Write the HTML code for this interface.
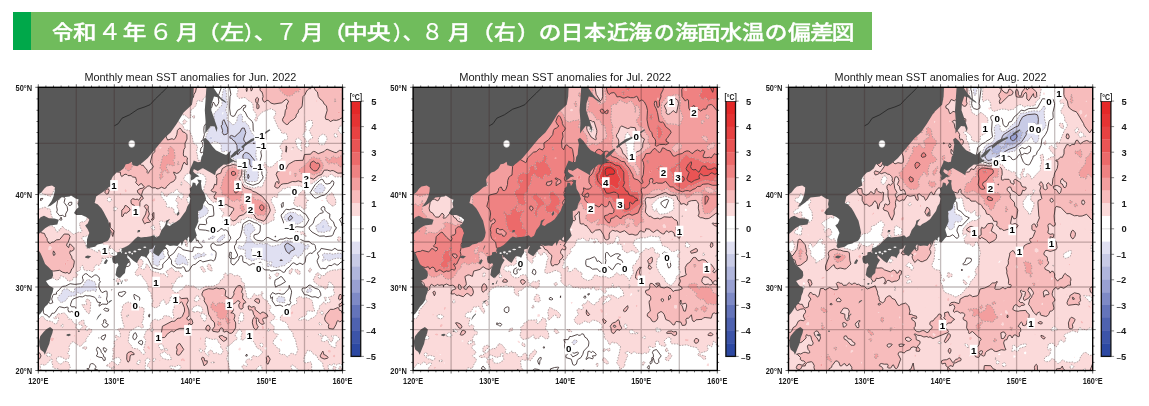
<!DOCTYPE html>
<html><head><meta charset="utf-8"><style>
html,body{margin:0;padding:0;background:#fff;}
body{width:1149px;height:406px;overflow:hidden;position:relative;}
#hd{position:absolute;left:12.5px;top:12px;width:859.5px;height:38px;background:#70bc5c;}
#hd b.dg{font-size:23.0px;font-weight:400;-webkit-text-stroke:0.2px #fff;top:2.0px}
#hd i{position:absolute;left:0;top:0;width:18.5px;height:38px;background:#00a84a;}
#hd b{position:absolute;top:2.7px;font-family:"Liberation Sans","Noto Sans CJK JP",sans-serif;font-weight:500;-webkit-text-stroke:0.35px #fff;font-size:20.0px;color:#fff;white-space:nowrap;line-height:36px;}
svg{position:absolute;left:0;top:0;}
.ax{font-family:"Liberation Sans",sans-serif;font-size:9.4px;font-weight:bold;fill:#1a1a1a}
.tt{font-family:"Liberation Sans",sans-serif;font-size:11.6px;fill:#1a1a1a}
.cb{font-family:"Liberation Sans",sans-serif;font-size:9.4px;font-weight:bold;fill:#1a1a1a}
.mn{font-size:8px}
.cu{font-family:"Liberation Sans",sans-serif;font-size:9px;font-weight:bold;fill:#1a1a1a}
.cl{font-family:"Liberation Sans",sans-serif;font-size:9.8px;font-weight:bold;fill:#000}
</style></head><body>
<div id="hd"><i></i><b style="left:39.8px;transform:scaleX(1.058);transform-origin:0.5px 0">令</b><b style="left:60.8px;transform:scaleX(1.174);transform-origin:0.4px 0">和</b><b class="dg" style="left:85.9px;transform:scaleX(1.033);transform-origin:4.9px 0">４</b><b style="left:110.9px;transform:scaleX(1.185);transform-origin:0.8px 0">年</b><b class="dg" style="left:136.0px;transform:scaleX(1.047);transform-origin:5.3px 0">６</b><b style="left:163.4px;transform:scaleX(1.137);transform-origin:0.5px 0">月</b><b style="left:186.9px;transform:scaleX(1.091);transform-origin:13.6px 0">（</b><b style="left:207.9px;transform:scaleX(1.209);transform-origin:0.4px 0">左</b><b style="left:231.9px;transform:scaleX(0.950);transform-origin:0.8px 0">）</b><b style="left:241.4px;transform:scaleX(1.148);transform-origin:0.9px 0">、</b><b class="dg" style="left:262.1px;transform:scaleX(0.991);transform-origin:5.4px 0">７</b><b style="left:288.0px;transform:scaleX(1.130);transform-origin:0.5px 0">月</b><b style="left:312.2px;transform:scaleX(1.109);transform-origin:13.6px 0">（</b><b style="left:331.9px;transform:scaleX(1.220);transform-origin:1.8px 0">中</b><b style="left:354.8px;transform:scaleX(1.196);transform-origin:0.7px 0">央</b><b style="left:380.7px;transform:scaleX(0.950);transform-origin:0.8px 0">）</b><b style="left:390.2px;transform:scaleX(1.000);transform-origin:0.9px 0">、</b><b class="dg" style="left:408.4px;transform:scaleX(0.964);transform-origin:5.2px 0">８</b><b style="left:435.7px;transform:scaleX(1.137);transform-origin:0.5px 0">月</b><b style="left:460.0px;transform:scaleX(1.109);transform-origin:13.6px 0">（</b><b style="left:481.0px;transform:scaleX(1.087);transform-origin:0.5px 0">右</b><b style="left:504.2px;transform:scaleX(1.089);transform-origin:0.8px 0">）</b><b style="left:526.1px;transform:scaleX(1.136);transform-origin:1.5px 0">の</b><b style="left:548.7px;transform:scaleX(1.147);transform-origin:3.3px 0">日</b><b style="left:571.5px;transform:scaleX(1.099);transform-origin:0.5px 0">本</b><b style="left:594.0px;transform:scaleX(1.101);transform-origin:0.5px 0">近</b><b style="left:615.6px;transform:scaleX(1.196);transform-origin:0.6px 0">海</b><b style="left:641.7px;transform:scaleX(1.030);transform-origin:1.5px 0">の</b><b style="left:662.6px;transform:scaleX(1.153);transform-origin:0.6px 0">海</b><b style="left:684.8px;transform:scaleX(1.211);transform-origin:1.0px 0">面</b><b style="left:707.6px;transform:scaleX(1.109);transform-origin:0.4px 0">水</b><b style="left:729.9px;transform:scaleX(1.117);transform-origin:0.6px 0">温</b><b style="left:752.1px;transform:scaleX(1.136);transform-origin:1.5px 0">の</b><b style="left:775.2px;transform:scaleX(1.141);transform-origin:0.2px 0">偏</b><b style="left:797.4px;transform:scaleX(1.191);transform-origin:0.6px 0">差</b><b style="left:819.9px;transform:scaleX(1.136);transform-origin:1.6px 0">図</b></div>
<svg width="1149" height="406" viewBox="0 0 1149 406">
<clipPath id="c0"><rect x="38.3" y="87.3" width="304.2" height="283.2"/></clipPath>
<g clip-path="url(#c0)">
<rect x="38.3" y="87.3" width="304.2" height="283.2" fill="#ffffff"/>
<path d="M280.1 260.6l2.3-0.2-0.7-0.5-1.8 0.5zM254.3 254.7l0.9-5.2-2.4-1.3-1.2 1.3 1.4 3.7zM281.7 254.3l0.7-1.1-0.7-1.1-1 1.1zM289.3 253.8l1.1-2.4 4.1-1.9-0.5-1.8-1.7-1.8-4.6-2.7-1.9 0.8-1.1 1.6 0.2 2.1 1.5 3.7 2 1.8zM246.7 231.4l1-0.4 0.8-1.8-0.3-0.4-1.5 0.6-0.3 1.6zM321.2 227.6l1.5 0.7 1.5-0.2 0.6-0.8-0.6-2.7-1.5 0.4-1.7 2.3zM289.3 220.4l1.7-0.7 1.6-1.9-1.8-2.4-2.5 2.4-0.1 1.9zM319.7 189.4l1.5-0.8-1.5-1.1-1 1.1zM248.2 178.7l0.9-2.1-0.5-2.1-0.4-0.4-0.6 2.5 0.5 2zM251.2 167.1l3.1-1.4 0.9-3.5-0.8-2.1-3.2-4.2-3-2.8-1.5-0.6-1.5 0.2-1.6 1.3-0.8 2 0.8 3.3 4.6-0.1 1.5 0.5 0.1 4.6 1 2zM237.6 154.8l1.5-1.3 0.8-1.7 3.7-2.1 0.2-4.3 2.7-2.1-2.3-2.2-0.6-2.1 2.2-6.5-1.5-4.4-2.2-0.1-2.4 4.5-2.1 1.3-1.6 2.1-1.5 0.8-3-1.3-1.9 1.4 0.3 1.3 1.6 0.1 1.5 2.1 1.6 0.8 2.3 4.3 0.5 8.5zM254.3 143.5l0-0.5-1.1 0.3zM210.2 139.8l2-0.8-0.4-2.2-1.6 0-1.3 2.2zM220.8 139.4l1.2-0.4-1.2-0.9-0.3 0.9zM223.9 134.9l3-0.8 0.9-1.6-0.1-4.4-3.8-8.5-1.5 1.9-0.1 3.3-1.2 1.1 1.5 4.4-0.3 2.3 1 2.1z" fill="#c8cbe6" fill-rule="evenodd"/>
<path d="M61.1 302.8l4.6-2.1 3-4.3 6.8-0.7 2.3-3.2 3.1 1.6 4.6-3.3 4.5 0.4 3.1-1.3 3 1.9 0.4-3.1-0.9-5.2-0.9-1.8-6.2-2.1-1.5 0.3-3 3.6-1.6 3.3-6.1 0.7-1.5 1-0.8 3.7-3.8-0.6-1.5-2.1-1.5-0.6-3 0.2-1.6 0.8-1.4 4-1.6 1.1-1.8 2.4 0 1.7 3 3.5zM283.2 302.7l1.5-0.1 0.4-1.8-0.4-2.6-0.4-0.8-1.1-0.4-4.6-0.4-1.8 2.5 0 1.7 1.8 1.3 4 0.5zM99.1 298.1l2-0.7-0.4-0.7-1.6-1.5-0.4 2.2zM307.5 292.4l3.1-0.4 1.4-1.5-1.4-2.4-1.6 0.4-2.4 2 0.1 1.7zM156.9 266l2.1-0.2 1-5.8 3.7-1.4 1.3-1.8-1.9-3.6 0.3-1.8-0.4-0.7-3-0.5-6.1-6.6-1.6 0.4-1.1 1.9-0.8 5.5 2 2 0.6 1.6 0.2 9 3.3 1.8zM268 266.6l3-0.7 4.6 1.6 1.5 0 4.6-1.5 3-0.4 3-3.2 1.6 0 1.5-1.4 2.2-4.2 2.3-1.7 2.4 1.7 0.7 1.9 0.4-1.9 1.1-1.3 1.9-0.5 2.7-6.1 1.5 0.5 1.5-0.3 1.9-3.2-0.4-0.9-1.5-0.5-1.5 1.4-1.5-0.8-0.6-1.1-4.4-1.8-5.7 0.4-3-1.4-4.6-0.7-4 1.7-2.1 2.5-3 0.3-3 1.1-3.1 0-4.5-2.9-3.1 1-3-1-3.1 0.9-1.5-0.2-1.5-0.8-3.1-3.1-1-1.5-0.1-1.9 1.2-3.7 3-2 0.8-1.7-2.2-3.8-1.7-1.7-1.5-0.7-1.5 0.4-3.4 2-0.9 1.9 0.3 5.6 2.5 3.7-0.9 5.6-2.2 3.4-1.5 1.1-3-1.3-1.3 2.3 1.3 1.2 6 0.6 0.3 1.9-0.4 3.6 1.3 3.6 3.4 0.9 1.5 1.4 1.6 0 4.5-2.2 1.5-0.1 6.1 1.7 3.1 1.7 1.5 0.1 1.5-0.7 0.9 0.8-0.9 3.3-3-2.7-1.2 3zM279.9 260.4l1.8-0.5 0.7 0.5-2.3 0.2zM253 253.2l-1.4-3.7 1.2-1.3 2.4 1.3-0.9 5.2zM280.7 253.2l1-1.1 0.7 1.1-0.7 1.1zM288.4 253.2l-2-1.8-1.5-3.7-0.2-2.1 1.1-1.6 1.9-0.8 4.6 2.7 1.7 1.8 0.5 1.8-4.1 1.9-1.1 2.4zM246.4 231l0.3-1.6 1.5-0.6 0.3 0.4-0.8 1.8-1 0.4zM176.7 264.3l1.5 0.7 1.6-0.2 3-1.6 4.6 2 0.6-1.2-0.2-1.8-2.6-5.4-3.9-1.7-1.5-1.5-1.6 0.2-0.7 1.2-0.2 1.8-2.2 3.6 0.1 1.8 1.2 1.8zM322.7 261.3l3.1-1.8 1.5 0.4 1.5 1.3 3.1-1.7 4.5-1.2 4.9 0.3 2.7-1.5 0-2.3-4.5-1.8-7.6 1.2-1.6-1-3 0.6-3.1-0.5-2.1 1.7 1.6 1.8 0.1 1.8-2 1.8zM195 259.5l1.5-1.2 9.1-2.8 0.6-0.5-1.6-1.8-0.5-0.5-1.5 0.7-1.4 1.6-0.2 1.7-0.1-1.7-1.3-1.8-1.6 0-5 3.6 0.9 1.8zM211.7 255.7l1.6-0.7-1.6-2-0.7 0.2-0.6 1.8zM202.6 242.3l2.1-0.1-0.6-1.6-1.5-0.7-0.1 2.3zM217.8 241.9l1.5 0.3 4.6-3.9 1-1.7-0.3-1.8-0.7-0.3-3.1 1.7-4 4.1zM208.7 239.9l1.5-1 3.2-0.4 1.5-1.9-1.7-0.6-1.7 0.6-1.3 1.5-1.8 0.4zM318.2 231.8l6 0.6 3.1-1.3 3-0.2 0.4-1.7 1.3-1.9-3.2-1.1-1.4-4.6-3.2-2.2-1.5 0.4-2.7 3.7-3.4 1.5-0.8 2.3 1.5 3.7zM321 227.3l1.7-2.3 1.5-0.4 0.6 2.7-0.6 0.8-1.5 0.2-1.5-0.7zM295.3 223.9l3.1 0.1 4.1-2.4 1.4-1.9-2.5-4.3-1.5-0.6-1.5 0.6-3.1-2.7-4.5-0.5-1.5 0.3-3.1 1.6-1.6 1.8-0.8 1.9 2.4 3.5 3.1 1.9 3-0.4 1.8 0.7zM288.2 219.7l0.1-1.9 2.5-2.4 1.8 2.4-1.6 1.9-1.7 0.7zM198 218.2l1.5 0.2 1.5-0.6 6.1-3.8 1-1.9 0.2-2-1.2-1.8-3-2.7-1.5-0.1-1.6 0.7-1.9-1.9-1.4 0-0.8 2 0.2 1.9 1.6 3.9 0.2 1.9-1.1 1.9-0.2 1.9zM316.6 193l1.6 0.3 4.5-0.6 1.7-2.1 0.8-2-0.6-2-1.9-2-1.5-0.8-1.5 0-1.5 0.8-3.3 4-1.2 2 1.8 2zM318.7 188.6l1-1.1 1.5 1.1-1.5 0.8zM246.7 180.7l1.5 1 7.6-0.2 1.5-0.9 1.3-4-0.5-6.2-1.1-2-0.3-2.1 1.1-4.1-1.9-6.2 0.1-4.2 2-6.4-1.4-4.3-0.6-4.3-3.2-2.4-1.3-1.9-3.3-7.7-1.8-1.1-1.2-2.3-1.6 0.6-1.6-0.5 0.6-4.4-0.8-2.3-1.2-0.6-1.7 0.6-1.6 2.3-0.5 4.4-3.8 3.8-3.1-3.5-1.5-0.2-1.4-2.3 0.4-4.5-1.6-4.5 1.8-6.8-0.7-3.8-0.7-0.8 0.3-4.6-1.1-6.5-1.5 0.9-1.1 3.3-1.1 6.9 0.4 4.6-0.6 2.3-2.2 1.6-1.9 2.9-2.9 2.3-0.7 2.2 0.6 6.7-2.4 4.4-2.8 2.2-1.1 2.2-0.3 2.2-1.9 4.3 0.5 6.5 0.7 1.5 7.6-3.2 4.6 1.4 2 2.4-0.2 4.2 0.9 2.2 1.5 0 3.4-1.3 2.5 3.4 0.5 2.2 1.7 1.9 1.4 0.4 3 2 1.7-0.3 1.4-0.9 1.5 0.6 1.9 2.4 2.8 2.1 1.8 4.1-1.5 8.2 1 4zM248.1 178.6l-0.5-2 0.6-2.5 0.4 0.4 0.5 2.1-0.9 2.1zM250.8 166.3l-1-2-0.1-4.6-1.5-0.5-4.6 0.1-0.8-3.3 0.8-2 1.6-1.3 1.5-0.2 1.5 0.6 3 2.8 3.2 4.2 0.8 2.1-0.9 3.5-3.1 1.4zM237.4 153.9l-0.5-8.5-2.3-4.3-1.6-0.8-1.5-2.1-1.6-0.1-0.3-1.3 1.9-1.4 3 1.3 1.5-0.8 1.6-2.1 2.1-1.3 2.4-4.5 2.2 0.1 1.5 4.4-2.2 6.5 0.6 2.1 2.3 2.2-2.7 2.1-0.2 4.3-3.7 2.1-0.8 1.7-1.5 1.3zM253.2 143.3l1.1-0.3 0 0.5zM208.9 139l1.3-2.2 1.6 0 0.4 2.2-2 0.8zM220.5 139l0.3-0.9 1.2 0.9-1.2 0.4zM223.3 134.7l-1-2.1 0.3-2.3-1.5-4.4 1.2-1.1 0.1-3.3 1.5-1.9 3.8 8.5 0.1 4.4-0.9 1.6-3 0.8zM222.3 114.8l-0.3-2.2 2 0-1.7 2.3zM225.4 86.8l0.6-1.9-1.4 0z" fill="#e0e0f2" fill-rule="evenodd"/>
<path d="M38.3 372.1l6.6 0-2-1.7-1.6 1.1-1.2-5.8 1.2-1.4 3.1 0.9 1.5-0.6 3.8-3.8 0.8-1.7 1.5-0.1 0.4 1.8-0.7 1.6 1.3 3.3-0.2 1.6 2.2 1.3 3.1 0 0.4 3.5 11.9 0-1.7-0.8-0.4-0.8 2-3.2-1.6-4.6-1.5-1.2-3-0.2-3.1 2.7-1.5 0.1-3.2-3.3 0.2-3 1.5-1 3 0.1 4.6 2.5 3-1.1 0.9-2.4-2.3-3.2 1.7-1.6 0.5-1.7-0.5-1.6 0.2-1.7 2.6-4 1.5-0.3 6.1 4.3 1.5 0.1 3-3.6 2.3-1.4-0.5-1.6 0.9-1.7 5.3-6.6-0.3-1.7-1.6-0.8-1.5 0.1-1.5 2.1-1.5-1 0-1.3 1.6-2.4-3.1-1.7-0.1-4.3-1.5-0.2-1.5 0.7-2.6 2.1 0.9 1.7 3.2 0.9 0.6 0.8-2.1 2.5-1.5 0.9-1.6-0.4-1.8-1.4-0.4-1.6 1.3-1.7-0.6-0.7-1.5 0-1.5-1.3-1.5-2.8-1.6-1.2-1.5 0.8-1.2-3.2-3.3-3.4-4.6 1.2-1.5-0.8-1.6 3-2.9 1.7 1.4 1.2 2.1-1.2 1-0.4 0.5 0.4 0 1.6-2 4.3-1.6 0.3-3-2.6-6.1-1.2-3-4-1.6 0.2-1.5 1.9-3 1 0 31.4 3 2.3 1.2 2.8-1.2 2.8-3 0.9 0 2.6 1.3 1.9-1.3 1.6 0 6.4zM46.9 355.9l0.3-3.2 3.3 0.9 0.8 0.7-0.1 1.6-0.7 1-1.6-0.9-1.5 0.4zM51.5 341.2l-1.3-1.6 0.5-1.7 1.3-0.6 2.2 0.6-0.7 2.6-1.5 0.9zM55.8 337.9l0.8-0.4 1.2 0.4-1.2 0.5zM73.7 336.2l1.1-1.7 0.5 1.7-0.5 0.5zM86.8 332.9l0.2-0.7 0.2 0.7-0.2 0.9zM61 326.3l0.5-1.7 1.1-0.5 0.5 0.5 0.4 1.7-0.9 0.8-1.5-0.6zM109.8 372.1l15.1 0 1.6-1.6 0.6 1.6 2.5 0-1.1-1.6 2.6-1.1 1.5 0.5 2.5 2.2 10.3 0 0.1-3.2-0.6-1.6 0.8-3.2-0.5-3.3 0.6-1.6 2-1.2 1.9 1.2 0.5 1.6-3.2 4.9 3.7 3.2 1.7 2.8 1 0.4 68.1 0 0.8-1.3 0.3 1.3 6 0 1.6-1.6-1.1-3.2-0.7-4.9-1.8-3.2 1.7-6.5-1.4-2-0.7-2.9 0.7-1.6 1.6-0.1 4.5-3.8 1.5-1.9 2.3-0.8 0.5-1.7-2.1-1.7 0.2-1.6 3.7-5.6 1.5 0.8 1.7 3.1-1.3 3.3 0.6 1.7-0.7 1.7 1.2 0.6 1.5-0.5 3.1-3 1.5 0.8 1.5 2.1 1.5 1 1.6 0.1 1.8 2.2 2.2 4.9 5.1 3 0.6 1.9-3.7 3.6-1.5 0.4-4.5-1.2-1.1 2.1 0.2 1.6-0.7 1-1.5-1.2-1.5-0.1-2.4 1.9 0 1.6 1.5 1.7 0.3 1.6-0.9 0.6-3.1-1.3-1.5 0.7-0.2 1.6 4.8 4.7 10.4 0.1-0.9-1.6 0.1-1.6 2.5-2.7 1.6-0.4 1.5 0.2 0 2.9 0.9 3.2 25.5 0 1-1 0.2 1 3.8 0-2.3-4.8 0.1-1.6 1.2-0.9 5.4 4.1 2.2 3.1 7.4 0.1 0.2-1.7 1.5-0.3 1.1 2 6.9 0-1.9-1.5-1.5 0.6-1.5-0.8-0.6-1.5 0.3-3.2-0.6-3.3-0.6-0.6-4.6 1.2-2.2-0.6 0.2-4.8 3.5-7.4 1.5 0.9 1.6-0.7 3 3.9 3 1.2 1.5 3.7 4.6 3.7 0.2 2.8 1.3 3.2 0.2 3.2 4.9 0-1.1-4.8-0.1-1.6 0.7-1.4 3.1 1.1 1.5-1.9 3 1.5 1.5-1 1.6-0.3 4.5 1.7 0-45.9-1.5 0.4-1.5 1.5-1.5 0.3-1.6-1.2-0.8 0.7-1.1 3.4-2.6 4.5-4.6-0.6-0.4-2.2 0.4-1.7-3.3-3.4-0.8-1.7 0-1.6 1.3-3.4 4.3-5.2 3.1 0.1 4.5-1.9 0.6 0.2 1 2.7 1.5 0.1 1.5 3.3 1.5-0.2 0-8.5-3 0.6-1.5 1.3-0.5-2.7 2-1 1.7-2.5 1.3-0.9 0-23.1-0.5-2.1 0.5-0.4 0-5.7-1.5 0.6-3-0.2-3.1 1.4-1.5-0.7-4.6 1.1-4.4 2.1-0.4 1.8-1.3 0.9-3-0.2-1.5 3.8-1.7-2.7 0.2-1.3 1.5 0.1 0.8-0.6-2.2-1.8-1.7 0.1-3.4 7 0.8 1.7 4.3 3.5 1.4 0.8 3 0.5 1.5 2.3 1.6 0.2 1.5-0.9 1.5-6 1.7-0.4 0.7 1.8 2.2 1.7 0.7 1.8-0.7 3.5 0.9 1.7 0.1 1.7-1 1.5-5 2 2 3.4-0.7 1.8-2.4 0-1.5 1.6-1.6-2.2-1.5 0.5-0.8 1.8-2.2 1.4-0.6 3.7-2 1.7-0.2 3.4-3.3 2.9-3 1.2-1.6 1.7-1.5 0.3-3-1.7-4.6 1.6-1.8-1 3.3-2.3 3.1-0.8 2.1-1.9 0.4-3.4 0.5-0.3 6.1 0.6 0.9-0.3 0-1.7-1-1.7-1.3-6.9-1.6-1.7-4.6-1.6-3 0.8-1.6-1.4-1.5-0.5-3 1.7-0.8 1 1.1 3.5-0.3 0.6-1.6 1.1-3 1-2.7 4.1-1.9 0.6-3 3.3-4 2.9-0.7 3.3 1.7 1.4 3 0.8 1.5 1.2 1.4 1.7 0.9 3.3 4.4 5 0.3 3.3 2.3 3.4 1.2 6.5 1.2 3.3-1.7 4.9-0.9 0.6-3-1.7-1.5 0.2-3.1 3.6-1.9-1.1-1.1-1.4-1.5-0.3-1.5 0.5-1.6-0.7-0.9-1.3 1-3.3-3.1-1.6-1.5-2.3-1.8-1-0.8-1.6 0.7-3.3 1.9-1.3 2.5-3.7-1-1.2-1.5 0.6-1.5-1.5-0.6-1.2 0.8-3.4-0.3-1.6-3.9-3.4 0.3-1.7 3.3-1.7 1-1.6 0.1-1.7-0.7-1.3-1.6-0.5-2.9-3.3-0.1-1.9 1.4-1.5-0.3-1.7-2.6-3.2-0.5-2-3.9-1.7-1.8-3.4 0.1-1.2 1.1-0.6-0.4-1.7-0.7-0.7-0.6 0.7 0.5 1.7-4.5 1.6-1.5-0.3-1.5-1.7-3.1 4.8-3 0.2-1.5-0.9-0.3-3.7-2-6.9 0.2-3.5-2.7-1.8-0.8-3.5-2-2.5-1.5-0.4-3.1 0.5-3-2.2-1.6-0.2-1.5 1.6-1.5 0.1-1.5-2.4-1.6 2 0.1 3.5-3.1 1.6-1.8 3.7-5.8 2.7-7.6 0.1-6.1 3.4-4.9-2.7-1.2-1.3-3 0.6-1.5-0.8-3.1-0.3-2.7 3.5-3.3 1.8-1.4 1.7-1.7 0.4-2.5-0.4-2.5-3.5 1.1-1.7 0.1-1.8-1.2-1.7 0.4-0.4 1.6 0.8 1.5-1.5 0.9-2.4 2.1-2.7 5.1-0.8-4.9-5.4-3.2 0.4-3.1-3.7-1.5 0-1.5 1.9-3.1 1.4 0.6 1.8 1.5 1.8-0.5 2.3-1.5-0.5-1.6-2.7-4.5 0-1.5-1.1-4.6-0.9-3-1.5-2.3-4.5-2.3-2.1-0.7 3.9-0.8 1.3-1.6 0.4-1.5-0.4-1.3-1.3 2.5-3.6 0.3-1.8-0.6-1.8-0.9-0.8-4.5-1-1.1 1.8 2.5 5.4 0 1.8-3 4.1-0.5 1.2 0.5 1.8 1.6 1.4 3-1.5 1.5 0.7 1.4 2.9 3 3.5 2.3 5.3-0.6 1.7 0.5 1.8 2.6 2.1 0.5 4.8 1.8 3.4-1.5 3.5 0.2 1.7 0.5 0.7 3 1.3 4-2 0.8-3.4 2.8-3.1 1.9 1.3 0 1.8 0.9 1.7 1.8-0.2 2.2-3.3 0.8-4.5 1.5 0.6 0.4 2.2 1.9 3.5 0.2 1.7-0.5 3.4-1.5 3.4 1.4 6.8-1.9 0.5-3-2.2-4.6-0.6-0.9 0.6-0.2 1.7-4.9 2.5-3.1-1.2-1.5 0.4-2 1.6-1.6 3.4 0.1 3.3-4.1 2.7-2.2 5.6-0.2 1.7 1.8 1.7 0 1.6-2.1 8.2 1.7 3.3-0.5 1.2-1.6 0.4-1.5-1.1-1.3-2.1-3.2-2.4-3.1-0.2-1.7-0.7-1.3-2.7-2.3-2.2-0.6-1.7 1.5-9.9 7.5-4.6 1.5-0.3 1.5 0.5 1.5 1.3 1.5-0.7 0.3-1.2-1.7-3.4 2.1-5-0.8-1.7 1.1-5.1-0.5-3.4-5-0.8-3.1 1.1-1.9-3.7-5.7-2.4-3 1.7-2.7 2.4 0.2 3.4-1.6 3.4 1.6 8.4 1.6 5.1-0.2 1.6-0.4 0.4-4.6 0.2-1.3 1.1 1.3 0.9 1.3 2.4 0.2 3.8-1.5 0.7-1.5-1.8-1.5-0.4-0.9 1 1.9 3.4-1 1-1.7 0.6-0.5 1.7 1.1 1.6-0.2 1.6-2.3 3.3 1 1.7 0.2 1.6-0.8 3.2 0.1 4.3 0.6-1 2.5-1.4 3-0.3 1.5 1.4 0.5 1.9-2 3.6-1.5 0.8-4.6-3.9-1.5 0.3-3 2.8-2.4 1.3 2.4 0.5 3.7 2.7-2.7 3.2zM175.9 370.5l-2.2-1.4-3.1-0.9-0.8-0.9 0.5-1.6 4.9 1.1 3-1.7 2.1 0.6 0.9 1.6-1.4 1.9-3.1 2.2zM112 367.3l0.8-0.8 2.4 0.8-2.4 1zM204 365.7l-1.5-4.9-1-1.6 0.4-1.6 0.7-0.3 1.5 0.6 0.5 2.9 2.7 0-0.2 2.6-3 2.4zM136.9 364.1l-0.2-1.7 2-2.5 2.1 0.9-1.5 3.3-0.6 0.4-1.5-0.2zM267.5 364.1l-1.1-1.7 0.4-1.6-0.5-3.2 1.7-1.9 2.2 3.5-2.2 5zM211.2 362.4l0.5-0.6 3.4 0.6-3.4 0.7zM127.4 360.8l-0.7-1.6 0.2-4.9 1.1-1.8 3.1-1.1 3 2 0 1.2-3 0.2-0.9 1.1-0.6 4.9-1.6 1.4zM152.8 360.8l0.2-1.6 0.9-0.6 1.5-0.1 0.4 0.7-1.9 2.5zM158.5 360.8l1.5-0.8 0.8 0.8-0.8 0.7-1.5-0.7zM180.6 360.8l0.3-1.6 1.9-1.3 1.5 0.9 0.8 2-0.8 0.9-1.5-1.3-1.5 1zM166 359.2l-3-0.8-1.2-0.8-2-3.3 4.7-2.6 3.1 2.8 1.5-0.2 2.7 4.9-4.2 0.6-1.5-0.5zM320.9 357.6l-0.8-1.7 2.7-4.8 0.8 1.6 0 1.6 3.2 1.6 1.4 1.7-0.9 0.7-3.1 0.7-3-1.3zM208.1 355.9l-1.9-1.6-1.9-3.2 2.1-5-1.3-1.6 0.5-7.5 3.1 1.4 4.5 1.2 3.1-0.8 1 0.8 1.6 3.3 1.6 1.6 0.3 3.3 1.9 1.6 0.3 1.7-0.7 2-1.5 1.2-1.5 0-3-1.6-1.6 0.9-1.5-0.5-1.5-3-1.5 0.1-2.6 2.5 1.2 1.6-0.1 1.9zM332.7 355.9l0.7-0.9 1.5-0.5 0.5 1.4-0.5 1.5-1.5-0.2zM176.7 354.3l-0.2-1.6 0.7-3.3-0.8-1.6 0.4-1.7 1.4-2.1 1.6-0.6 3.9 6-3.9 5.4-1.6 0.5-1.5-0.9zM328.6 352.7l-1.3-1.9 1.5-1.1 1.5 0.4 0.7 1-0.5 1.6-1.7 0.1zM199.3 351.1l-0.2-1.7 0.4-0.5 2.3 0.5 1.1 1.7-1.9 1.4-1.5-1.1zM148.9 349.4l-2-1.6 0.9-2.2 1.1 0.5 1.1 1.7-0.1 1.6-0.6 0.3zM160.9 349.4l-2.6-3.3 0.9-1.6 2.3-0.6 1.5 1.6 1.5 3.8 1.6-0.9 1.5 0.8 0 1-1.5 0.1-3.1-1.1-1.5 1zM265.2 349.4l-1.1-1.6 2.4-0.6 0.5 0.6-0.5 1.9zM334.8 347.8l-3.7-1.7-2.3-2.9-0.5-2-1-1.2-3.1 1.7-2.5-0.5-0.3-1.6 1.4-3.4 3-0.7 1.2 0.7 3.3 5.3 1.6 0.6 1.5-4.2-2.3-1.7 0.8-0.6 1.5 0.5 1.5-0.9 1.5 0.4 1.5 1.5 1.7 0.8-0.1 2.3-3.1 1.3-0.7 3 0.5 1.6-1.3 1.7zM260.1 346.1l-0.7-1.6 1-1.1 1.5-0.5 1.2 1.6-0.1 1.6-1.1 0.9-1.5-0.7zM223.2 341.2l-3.5-3.3-0.7-1.7 3.3-0.7 1.6 1.3 2.8 1.1-0.1 1.7-2.7 1.7zM199.6 339.6l0.3-1.7 1.1-1.1 0.5 1.1-0.5 2.1zM262.8 337.9l0.6-1.4 0.8 1.4-0.8 0.3zM160.3 336.2l1.1-3.3 1-6.6 9.7-5.1 1.6 0.2 1.5-0.6 1.5-1.8 1.5-0.8 1.6 0 1.5-0.8 1.1-1.2 2.2-5.1-0.2-3.4-2.2-5.1-0.9-0.9-1.5 1.7-1.6 0.7-1.1-1.5-1-5.2 0.6-1.2 1.5-0.3 3.1 2.7 6.1-0.5 0.9 2.7-1.7 3.5 2.3 5.7 0.2 4.5-0.2 1.7-2.2 1.7 0.7 1.8 1.5 0.6 1.5-1.7 1.5 0.9 1 3.4-1 1.6-1.5-0.1-1.5-1.2-0.4 1.4 0.7 1.7-0.3 2-1.5 0.6-1.6-0.5-6 0-3.1 1.3-3 2.2-1.6-0.9-1 0.3-4.4 3.3-0.7 1.6-1.5 1.3-3 0.1zM185.6 336.2l0.2-0.8 0.4 0.8-0.4 0.3zM321.1 336.2l-2.8-1.6 1.4-1.1 1.5 0.5 1.2 2.2-1.2 0.2zM156.7 332.9l0.2-1.6 0 2zM229 332.9l-2.1-1.7-3 0.9-0.7-0.8 0.2-1.7-1.1-1.6-1.5-0.1-1.2 1.7-0.2 1.7-1.6 0.8-4.9-0.8-0.5-1.7 2.3-3.3-0.2-3.4-1.3-1.8-2-1.6-0.3-1.6-2.2-3.3-1.5-8.6-3.1-5.2 0.4-1.7-0.7-1.7-1.5-1.7-0.4-1.8 1.5-3.4 5-1.8 4.8 0.4 3.1-1.2 3 0.9 3-0.4 1.6 0.3 1.9 1.8-0.7 5.2 4.8 3 1.6-0.4 1.8-2.6 0.8-1.8-0.4-1.7 2.3-4.6 1.6-1.5 1.5-0.6 1.5 0.1 2 3.1-1.1 3.5 1.5 1.7-0.5 3.5 0.5 1.7 2.2 2 0.5 1.5-0.5 0.6-1.6-0.1-0.7 2.9 0.3 1.7-1.1 1.2-1.5 0.3-1.3-1.5-0.5-1.7 0.1-1.7 1.2-1.7-1-1.5-1.5-0.5-1.8 2-2.8 1.6-1.5-0.9-1.6 0-0.3 2.7 0.3 0.5 1.6 0 1.9 2.9-0.4 1.8-2.2 1.6 2.2 0.2 1.7 1.5 0.2 1.7-0.9 3.3 1.7 3.4-0.1 5-2.6 4.3-1.5 1-1.6 0.2zM258.3 332.9l0.5-0.6 1.5 0.6-1.5 1.2zM150.7 331.3l0.4-1.7 1.3-1.8 1 1.8-0.3 1.7-0.7 0.4-1.5-0.3zM208.5 331.3l-2.6-1.7-0.1-1.7 1.3-2.4 1.6-0.3 1.6 2.7-1.6 3.4zM267.6 331.3l-0.4-1.7 0.8-0.9 1.5 0.3 0.7 0.6-0.7 1.5-1.5 0.4zM303.4 331.3l1.3 0-0.2 1zM204 329.6l0.9 0-0.8 0.7zM255.6 329.6l-1.9-1.7-1.4-5 0.4-3.4 2.2-3.3-1.3-1.7-0.8-3.6-1.6-1.1-1.5 0.2-1.1-0.6-0.5-3.4 1.6 0 1.5 1.3 3.1-0.8 0.9 1.2-0.2 1.7 5.4 4.5 1.5-1.7 1.5 0 3.1 1.7 1.4 2.3-1.4 1.6-3.1 0.4-0.8 1.3 0.8 2.6 1 0.8-1 1.3-1.5 0.1-1.5-0.9-1.6-1.7-0.2-2.2-1.3-1.5-1.7-0.1 0.8 1.6 0 3.4 0.9 2.5 0.9 0.9-0.9 2.2-1.5 1.3zM261.6 327.9l0.3-2.7 1.5 0.2 1 2.5-1 1.7-1.5-0.9zM156.8 326.3l1 0-0.9 0.3zM319.4 324.6l-0.9-1.7 1.7 0 1.6 1.7-0.6 0.6-1.5-0.4zM238.1 322.9l0.9-3.4-0.4-1.6 1.8-5.1 1.7-0.4 0.8 0.4 0.7 1.7 0 5.4-1.5 1.6-1.5-0.6-1.5 2.9zM203.9 321.2l-3.4-5 0.1-1.7 0.4-0.7 1.6-0.2 3 0.9 0.8 1.7-0.2 3.3-0.6 1.2-1.5 0.6zM126.4 316.2l1.9-1.7 0.3 1.7-0.6 0.7-1.5-0.5zM290.5 314.5l0-1.7 1.9-1.7 1.2 1.7-1.3 1.4-1.5 0.5zM321.7 314.5l-1.6-1.7 1.2-1.7 1.4 0.4 0.7 1.3-0.7 2zM192.1 311.1l-0.3-1.7 0.7-1.7 2.5-1.3 3-0.8 3 0.9 1.6 2.9 0 2.4-3.1 0.5-1.5-1.2-3 1.1-1.6-0.2zM257 302.6l-2.6-1.8 1.4-2 3 0.1 0.8 1.9-0.2 1.8-0.6 0.8-1.5-0.6zM194.3 300.8l0.9-3.4 1.3-1.5 1.5-0.7 0.7 2.2 1.6 1.7-3.8 2.6-1.5-0.4zM338.6 299.1l0-1.7 0.9-2.7 1.5-0.2 1.1 1.2-0.2 1.7-0.9 1.8-1.5 0.6zM172 272.9l0.1 0.9zM260.4 372.1l-0.8 0zM295.3 372.1l1 0-1-0.6-1 0.6zM334.9 370.5l1.1-1.6-0.1-1.6-1-1.1-1.5 0.4-0.5 2.3 0.5 0.9 1.5 0.7zM341 372.1l2 0-1.3-1.6-0.7-3.4-1.5-0.6-0.7 2.4 1.2 1.6 0.1 1.6zM90 360.9l0.6-1.7-0.6-0.6 0 2.2zM85.5 349.4l1.9-1.6-1.9-1.3-3.4 1.3 3.3 1.6zM239.1 350.6l1.5-0.5 0.1-2.3-1.6-0.1-0.9 1.7zM211.7 348.1l0.5-0.3-0.5-1-0.1 1zM281.7 341.3l0.3-0.1-0.2-1.6-1.7-0.8-0.4 0.8 1.6 1.6zM275.6 320l1.5 0.1 0.5-0.6-0.5-0.4-2 0.4zM88.5 313.6l1.5-0.8 0.8-10.2-2.3-3.4-1.6-0.1-1.2 1.7 1.1 3.5-2.9 0.5-1.9-0.5 0.5 1.7 4.8 6.8zM120.4 306.2l0.7-0.2-0.7-0.3-1.3 0.3zM115.9 304.3l0.1-1.7-0.1 1.7zM325.8 301.1l0.4-3.7-0.4-0.5-1.6 0.5 1.3 3.4zM222.3 296l0.7-0.3-0.7-0.7-1.1 0.7zM37.5 290.5l0.3-7 3.5-3.4 4.6-1.6 1.5-1.3 3.1 1.4 1.5-0.8 1.5 0.4 3.1 2 3-1.1 0.5-0.9-0.5-1.7 1.5-0.8 4.6 2.3 1.5 2.2 1.5 1.1 3.1-0.8 0.7-0.5 0.8-2.3 3-0.5 0.8-0.7 0.7-2.2-2.1-1.4 0.6-0.9 3.1-1.3 1.3-1.3-0.4-1.8 2.1-2.2 0.7 0.4 0.4 3.6 2 1.1 1.5 0.3 1.5-0.5 1.5 0.3 1.5 1 1.6-0.2 1.2-2-0.2-1.8 2-2.8 3 0.6 1.6-1.8 1.4-3.2 0.1-3.3 0.8 1.5 0.7 0.2 1.5-0.1 1.5-1.2 3.1 0.2 3.2-0.9-0.2-1.2-1.5 0.1-2-2.5-0.6-3.7 2.6-1.4 1.5 0.8 3.1 3 3 1.3 0.7-1.8-0.2-1.9 1-1.4 3.1 1.5 0.7-1.9 2.3-0.8 3.1 1.8 1.5 2.4 1.5-0.7 1.5-2 1.5 0.3 4.6 3.8 1.5-0.3 0.7-0.8-0.7-2.2-1.7-1.5 0.2-1.4 1.5-0.6 1-3.5 2.1-3.6 1.5 0.6 1.5 1.6 1.5-0.7 3.1-4.7 1.5-0.6 3 2.1 1.6-0.1 3-0.5 1-1.5 0-3.8-1-1.6-1.5-0.2 0.5-1.9-1-3.8 0-1.9 0.5-0.5 1.5-0.3 3 1.3 1.6-1.1 1.5-0.2 1.2 0.8 0.3 2.4 1.5 0 1.5-1.3 1.6-0.4 1.5 0.6 1.4 4.4-0.8 1.9 0 1.8 1.4 3.8-2 3.7 1.5 1.8 1.5-0.3 4.6 0.3 1.5 0.8 0.8 1.1 0.7 4.2 1.6 0 0.2-2.4-1.4-5.5 0.6-3.7-0.2-3.8 2.4-3.7 0.3-3.8-2.2-1.9 0.5-1.9 1.5-1.9 0.4-1.9-0.9-1.9 1.4-5.8 0-1.9-3.1-5.9-0.2-1.9 5.2-5.5 1.2-2.4-0.1-2-1.5-2-3.7-4-3-2-1.1-2 2.1-4.1 1.6-0.7 1.5 0.1 1.5-1 1.5 0 1.2 1.6 0.3 4.3 0.5-0.2-0.2-2 2.8-3.6 3 0.2 4.6 1.8 1.5 2.4 0.4 3.2-0.7 4-1.2 2-0.5 6 3.5 1.7 0.6 2.2 5.3 5.9 3.3-0.7 0.5 0.7 4 7.7 2.3 2 0.9 1.9-2.4 1.9 2.5 3.8-0.9 1.9 0.1 1.9 2.1 0.9 1.5-0.4 0.5 1.4 2.5 0.8 1.6-1.2 3 0.4 3.1-2.8 3 0.2 0.4-3.1 2.6-0.2 1.6-0.7 1.5-1.7 6.1 1.4 6 3.5 3.1 1.1 1.5 1.3 4.2-0.9 3.4-2.3 3.1-1.2 0.2-2.2-0.8-1.9 0.4-1.9 1.9-1.9-1.7-5.8-2.3-3.9-0.6-2 0.3-1.9 2.6-2.3 1.5 1.2 1.5 0.2 0.7-1.1-0.2-2 1-1.9 3-2 1.6-2.5 1.5 0.8 3-1.6 3.1 0.5 3-1.2 6.1-0.7 2.3 0.7 0.8 1.7 1.5-0.4 0.4-1.3 2.6-2.1 4.6-0.9 4.4-3 3.2-2.9 4.5-1.8 3.1 1.6 3-3 1.6-0.2 3 2.6 6.1 0 3-1 0-3-6.1 0.3-4.5-2.5-1.5-0.2-1.6 0.6-3-1-3.1 0.1-2.6 4.3-3.4 1.2-4.6 3.5-3-1.1-1.6 1.1-3 0.4-3 2.8-4.6-1.5-3.1 0.8-3-0.2-4.6 2-4.5 0.3-2.2 0.8-2.4 3.2-1.5 0.4-2.5-1.6 1-3.8 1.5-1.6 1.5 2.4 0.5-1-0.3-2-2.6-6.1 0.9-2.5 3-1.4 1.6-1.8 1.5-0.8 1.5 0.9 1.5-0.2 2.3-4.4 5.3-3.1 1.5-0.6 7.7-0.3 1.5-5.8 6.1-0.3 1.5-2 1.5-0.8 1.5 0.3 3.1 2 6-2.2 1.6-1.7 1.5-0.5 7.6 3.2 1.5 0.1 3.1-2.2 4.5 0.3 0-9.3-1.5 2.3-0.6-2.6 0.6-1.4 1.5 1.1 0-10.2-1.5 3.4-1.5 0-2.9-3.7 1.4-3.9 1.5-0.6 2.8 2.3 0.2 1.6 0-7.9-0.5-0.3-1-3.5-1.5 0.2-1.5 1.2-3.1 1-3-0.3-3.1 1.5-1.5-1.8-3-0.5-0.6-2.2 2-6.8-0.8-4.5-2.2-1.7-1.4-2.9-2.9-2.3-1.6-2.3-0.9-4.6-2.6-2.4-1.5-4.7-1.3 0-0.4 2.4-1 1.4-1.6 0-1.5 1.3-1.4 2-0.9 2.3-2.2 2.3-0.8 9.2-0.8 1.9-1.5 0.8-1.3 1.8-0.5 2.3-1.8 2.2-0.4 2.3-2.1 2.2-3.8 2.2-2.3 3-1.5-0.1-3.3-2.9-0.4-2.2 2.2-3.9 0.7-5.1 1.4-2.2-0.4-2.3 2.2-4.6-2.4-2.1-4.5 3.7-7.6 1.2-3.1-0.9-3-2.8-1.5 0.2-1.6 1.7-1.6-1-0.9-2.3 0.7-2.3-0.4-2.3-0.8-2.5-1.5-0.9-0.4-1.3 0.4-4.7-7.6 0-0.5 4.7-1.1 1.5-1.2-6.2-13.6 0 1.6 4.7-0.2 2.4-1.1 2.3 0.7 2.3 1.7 1.8 6.1-0.9 3 3 3 1.5 1.6 2.1 0.6 6.2 1.8 2.3 1 2.2-0.1 2.3-1.4 2.2 1.1 2.3 1.5-1.7 0.3-2.8 4.3-4.8 9.1-3.7 4.6 2.8 0 3.4-2.1 2.3 5.1 11.4 1.5 0.6 1.6 3.8 1.5 0.7 1.5-0.7 1.5 0.6 1.4 3.3 0 2.2-1.4 1-1.5-0.3-1.5 0.7-1.5 3.5-1.4 1.5-0.6 2.1 2 2.2 0.8 2.1-1.4 4.2 0.9 2-0.3 0.7-1.4 1.4-4 2.1-3.8 4.3-1.5 0.5-3-0.3-1.5-1.4-1.6-2.9-1 1.9-0.2 2 2.8 3.8 0.7 2.4-0.9 2-0.5 4.1-2.2 4-1.2 4-2 0.5-1.8-0.5-4.3 1.6-6.1-1.6-3.6-2-1.6-4-0.2-2 0.8-10.2-3-4-7.6-1.7-3.1 0.8-4.5-2.7-3.1 1.4-3 5.6-4.6-0.9-3 2.2-1.5-2.4-0.1-2.4-3-4.2-3-1.3-3.1 1.2-3 0.4-0.8-6.5-0.9-2.1 1.2-4.3-0.4-2.1-3.7-2.1-1.2-6.5-2.9-6.5-0.4-0.4-3.3 0.4-1.8-2.2-1-2.9-3-2.1-2.7-3.8-0.4-1.4-0.6 1.4-0.9 0.4-1.6-0.4 1.5-2.2 3.1-0.8 1.6-1.9 1.5 0.6 3-0.2 4.6 3.7 2-1.4-0.3-6.8 1.3-0.5 3.9-4 1.4-4.6 0.8-1.1 3 1.4 1.6-0.2 0.6-2.4 2.7-2.3 1.2-3.6 2.2-1 0.7-7.1-15.9 0 3 2.4-0.6 0-1 4.7-1.5 2.3-0.6 3.1-1.9-3.1-1.1-0.3-1.7-2-1-7.1-4.1 0-0.2 2.4-0.6 0.7-0.9-3.1-10.5 0-2.3 3.7-1.9-1.3-0.3-2.4-1.7 0-0.7 0.9-0.6-0.9-18.7 0-2 2.2-1.5 0.8-1.5-0.1-1.9-2.9-12.6 0-0.5 2.4 0.1 2.3 1.2 3.2 3.1 0 1.5 0.7 3 2.8 4.6-2 1.5 2 3-1.4 2.6 1.7-0.6 2.3 0.1 2.3 1 4 0.3 5.1-1.1 2.3 0.8 2.2 1.5 0.5 1.5 4 1.6 1.3 1.5 0.1 1-1.4 0.5-2.2 1.5-0.8 1.5 0.1 1.6 0.9 3.2 4.2-0.4 6.6 0.9 4.4 0.8 1.1 1.5 0.1 1.6-2.4 1.5 0.4 0.4 0.8-1.4 2.2-0.5 2.1 1.5 3.2 4.5-1.3 1.6 0.8 1.5-1 1.6-3.8 0.7-4.4 2.3-2.3 1.5 1.4 1.5 2.5 2.1 0.6 2 2.2 0.1 4.3-2 4.3 0.1 4.2-1.3 2.1-0.5 4.3 0.4 2.1 0.6 0.5 1.5-0.1 1.8 1.6-0.6 2.1 0.4 4.6-1.6-0.5-1.5-2.2-1.5 2.7-1.5 5-2.2 2.8-2.4 1-3-1.5 0 0.9 2.1 3.7-0.1 2-2 2.7-3.1 1.4-4.1 3.9-0.4 1.2-1.6 0.7-3-1.3-3 1.5-1.6 0.1-1.5-1.1-3 0.2-3.1-2-1.5 0.1-4.6 3.9-1.5 4.4-1.5 1-1.5-2.2-1-0.5-0.4-2 2.7-2 3.2-0.5 1.2-1.5-1.2-0.7-1.5-2.3-1.5 0.3-1.5 1.8-3-3.1 0.8-2-0.9-3.2-3-0.5-1.5-1.3-3.1 0-1.1-1.1-1.9-0.3-3.3 2.4-1.2-2.1-0.1-2.3-3-0.1-2-5.8-2.6-1.8-1.5 0.3-1.5-1.7-0.5-3 1.1-2.1-1.5-2 0-4.2-0.6-2.8-1.6-1.7-3 0.6-0.7-0.4-2.2-4.2 0.9-2.2 0.5-5.2 1.5-1 1.5 0.5 2-0.7 0.1-2.2-3.6-3-1.5-2.6-1.5 1.1-1.1 2.3-2 2.3-1.5 0.7-1.5 0-3.9-9.6-0.5-4.4-1.2-2.2-0.5-3.1-0.7 0.8-0.1 2.3-3.8 2.3-4.5 1.2-3.1-5.7-1.6-0.1-2.9-5.6-0.3-1.1 1.8-4.7-3.1-0.5-5.3-4-0.7-1.1-1.6 3.5-1.5-1.5-2.6-7.8 0.9-7.1-13.6 0-4.5 2.8-0.9-0.4 0-2.4-1.8 0 1.6 4.7-1.9 0.3-1.5-1.9 0 104 3-0.2 1.5 0.4 1.6 1.6 7.6 2.6 1.5-1.8 3-6.7 1.5-1.3-1-4 1.1-2.8 1.5-1.2-3.1-1.2-0.4-0.8 0.2-2.1 1.8-4.1 0.6-4.1 2.8-4.1-0.4-0.6-1.5 0.5-3.1-0.5-1.7-1.5 0.2-6 0.9-0.2-2.4-1.4-0.4-2.9 0.4-2.2 3.1-2 0.2-2.1-0.3-0.8-2.1-1.4-3.9-6.4 0.9-2.2-1.5-8.8 2.1-4 1.3 1.8 0.1 2.2-0.6 2.2 0.4 2.2 1.8 3.7 1.7-1.5 0-2.2-3.1-4.4 2.9-1.2 4.6 4.4 1.4-3.2-0.4-2.2 0.3-4.4-0.8-2.3 0.4-2.2 3.1-6.8 2.1-1.4 1.3 1.4-0.1 2.3-2 2.2 0.6 4.5-0.8 4.5 1 1.3 3 1.4 1.5-0.1 1.6 0.9 1.1-1.3 1.9-0.2 0.6 2.4-0.2 2.2 2.6 1.7 1.6-0.7 1.2 3.4-3 4.4 1.8 0.6 1.5-1.1 1.9 0.5-0.5 4.3 1.6 6.8 2.1-2.5 1-2.5 1.5 2.1 0.4 2.5 1.1 2.1 1.5 0.7 3.1-0.5 0.7 1.9 2.9 14.7 0.2 2-1.4 4.1 0.1 2.1 2 1.5 1.6-0.4 3-3.5 0.5 2.4-0.7 2-2.9 4.1-0.1 2 1 2 0.3 2-2.8 8-3.3 3.9-1.1 3.3-1.5-1.6-1.6-0.2-1.5 0.7-1.7 1.7-0.7 2 1.5 1.9 1.3 3.9-1.9 3.2-1.5 4.5-0.2 3.8-2.9 2.2-3-0.1-1.4 1.7 0.6 3.8 2 3.7-1.2 1.6-1.5-0.8-6.1 2.5-4.6-3.9-3-0.9-2.5-2.2-0.6-1.3-1.5 2.5-2 0.7 0.1 1.8-1.1 0.8-1.5 0.1-1.6-3.6-1.5-1.7-1.5-0.9-3.1 0.2-1.7-0.5-0.5-1.9 0.7-1.4 4.6-2.5 0.4-1.8-1.4-3.8-0.5-4.1-1.6-1.6-1.5 0.5-1.5-1.4-1.5-0.2-7.6 2.8 0 7.6 1.6 0.2 0.3 1.9-1.9 1.9 0 8.2 3 0.7 1.5 2.3 3.1 0.6 1.3 3.2 1.4 1.9 0.1 1.8 1.7 2.9 1.6 0.2 1.5-1.3 1.5 0 3.1-2.3 3-0.2 4.6-5.6 4.5 0.2 0.6 0.6 0.8 1.8-0.4 1.9-1.5 3.7-1.4 1.8-0.1 1.9 2 1.7 0.9-3.6 0.6-0.2 3.7 3.9 0.2 1.8-2.3 1.7-1.6-0.4-0.5 2.4 2.1 3.6 0.1 1.8 2.2 1.8 0.2 1.8-1 5.2-1.5 1.4-1.6 4.1-1.5 0.7-1.5-1.2-1.5 0.6-3.1-0.8-3-1.9-6.1 0.8-4.6-0.8-6 1.1-3.1 4.2-1.5 0.5-1.5-0.7 0 15.3zM45.4 274.7l0.8 0-0.3 1.4zM101.9 253.2l-2-1.8-0.8-1.9-1.5 2.9-3-1.3-3.1-2.1-1.5-0.6-3-0.1-0.7-0.6-0.7-3.7-2-3.7-1.7-1.8 0.5-1.6 1.5-0.5 1.6 0.2 1.5-1 3 1.4 1.5-1.1 1.6-0.2 0.4-0.9-1.6-1.9-0.1-1.9 1.3-0.5 2.3 2.4 3.4 1.9 0.3 4.5 1.6 0 1.2 1 0 1.9 1.2 1.8 3.6 2.5 1 1.2 0.4 1.8-1.4 1.9 0 3.1-4.5-0.8zM79.3 240.3l1.6-0.8 0.5 0.8-2 0.1zM112 234.8l0.1-1.9-2.3-3-3.3 1.1 0.2-1.8 2.6-1.9 0.5-4.8 0.6 2.9-0.2 1.9 3.8 3.7-1.2 5.5zM152.1 229.2l-1.4-1.9 1.5-1.9 1.7-0.1 1.1 3.9-1.1 0.9-1.5-0.5zM98.8 227.3l-2.7-1.9-1.4-1.9-0.6-1.9 0.5-2.6 3-2.2 0.4 1-1 1.9 0.2 1.9 1.9 0.9 1.6-0.3 1.5 1 0.5 2.2-0.5 0.9-1.5 0.1-1.6 1zM84.4 225.4l1.1-0.5 0.4 0.5-0.4 1zM144.3 223.5l-1.8-3.8 3.2-5.7 0.6-3.3 0.6-0.6-2.6-3.8 0.5-0.9 1.5-0.7 1.5 0.8 0.6 0.8-0.4 3.8 1.4 3.9-1.6 3.8 1 1.9 2 1.9-1.5 0.7-3 0.4-1.5 1.2zM107.2 221.6l2 0-0.9 0.5zM103.6 219.7l1.6-1 1.3 1-1.3 0.9-1.5-0.7zM151.1 219.7l2.1-1.9-1.1-3.8 1.8-1.5 0 6.2-0.5 1-1 0.4zM231.4 219.7l-2.3-1.9 0-1.9 2-1.9 0.7-1.9 1.8-2 0.1-1.9-4.8-1.9-2-1.6-1.5-0.2-1.5 1.3-1.6-2.3-1-3.1-6.9-1.9-0.4-2 2.3-4.1-1.6-0.6-1.5 0.3-2.2-1.5 0.7-1.2 1.5-0.9 1.5-4.4 1.6 0.9 0.3-0.4 0.3-6-0.6-2 0.5-2.1 4-1.4 1.5-4.5 4.6-2.8 3-0.2 3.1-1.1 4.6 0.9 3 1.6 1.1 1.4 0.2 2-0.3 4.1-0.8 2.1-1.5 2 4.3 8.2 1.6 1.1 6 1.9 1.6 1.5 3 1 6.6 4.2 6.2 7.8 1.7 5.8-0.6 2-4.3 7.6-2 1.5-6.1-2.2-1.5-1-1.5-2.9-1.5-1.2-1.6 0-3-3.6-4.6 4.3-4.5 1.4-3.1 3.9-3 1.2-1.5-1.3zM98.3 215.9l0.8-6 0.8 2.2-0.5 1.9 0.6 1.9-0.9 0.6zM121.7 215.9l0.1-5.8 2.2-1.9 1-2.7 1.5 0.3 2.9 2.4 0.8 1.9-3.7 3.1-1.5-0.3-1.3 1.1-0.4 1.9-1.3 0.9zM175.5 214l-1.5-1.9 0-2-0.9-1.9-4-1-1.5 0.3-1.4-1.2 0.5-2-0.6-1.9-4.6-5.3-0.7-2.6 0.7-3 1.5 1.3 1.5 3 1.6 0.6 1.5-0.5 1.5-2.2 3-1.3 1.6 0 3-3.6 3.1 4.3 3 0.2 0.5 3.2-0.5 1.6-1.5 1.1-1.5-1.1-1.6-2.5-2.6 4.8 1.1 1.4 1.2 0.6 0.1 1.9-1.3 2 2.2 3.8-0.7 2.7-1.5 1.3zM113.7 210.1l-0.1-1.9 0.8-1.8 3.2 1.8-1.1 1.9-2.1 0.9zM135.7 208.2l-1.6-3-2.2-0.9-0.8-1.3-0.1-2.6 1.6-1.8 3 0.9 1.6-0.4 1.5 1.1 2.6-3.7 0.4-1.3 1.7 3.3-2.7 1.9-0.8 2-0.1 3.9-1.1 1.4-1.5 0.9zM92.3 206.3l0.8-0.4 0.4 0.4-0.4 0.5zM151.9 206.3l0.5-1.2 0.6 1.2-0.6 0.5zM112.7 202.4l0.1 1.1zM107.4 200.4l0.1-1.9 0.8-1 1.5-0.3 1.2 1.3 0.7 1.9-0.4 0.7-1.5 0.7-1.5-0.3zM151.9 200.4l2-2.4 1.5 0.5 0 2.3-1.5 0.9-1.5-0.3zM119.5 194.5l1-1.9 1.1 1.9-1.2 0.8zM104.8 192.6l0.5-2 1.4-1.4 1.6-0.5 0.9 1.9-0.9 3-1.6 0.6-1.5-1.3zM124.4 190.6l0.6-2.2 1.9 2.2-0.4 1.7-1.5-0.1zM267.9 186.6l1.7 0-1.6 0.1zM180.9 184.6l0.4-2.5 0.9 0.5-0.9 2.7zM44.3 182.6l1.6-0.1-1.5 0.2zM109.6 174.5l0.2-2 0.7 2-0.7 0.3zM42.1 172.5l-0.6-2.1-0.2-7.7 1.6 0.3 1.5 1.7 1.1 3.7-0.1 2-1 2.9-1.5 0.7zM199.2 168.4l-0.5-2.1 0.8-1.1 2.1 1.1 1 2.1-1.6 0.7-1.5-0.2zM285.8 151.8l0.4-5.9 0.6 1.6-0.6 4.7zM193.2 149.6l1.2 0-1 0.3zM291.2 149.6l1.1-1.5 0 2.2zM300 149.6l-1.6-0.6-1.1-1.5-2.1-6.4 1.1-2.1 2.1-0.9 3 2.5 0.4 0.5-1 4.3 1.2 4.2-0.6 1.6zM292.7 147.5l1.1-0.2 0 0.6zM46.3 145.4l-1.2-2.1 0.7-6.5 0.9 0-0.6 4.3 1.4 2.2-0.1 2.4zM305 145.4l1.4-4.3-1.9-3.5-1.2-0.8-0.2-2.1 1.1-2.2 2-2.2-0.8-6.6 2.1-3.1 4.6-0.1 0.7 3.2-0.4 2.2-3.1 4.4 1.9 4.4 1.7 2.1-0.8 1.6-1.8 0.6-2.1 2.1 1.2 4.3-1.9 1.5-1.5 0.4zM318.7 143.3l-0.5-4.3 0.7-2.2 3.8-2.7 3.1 1.2 1.4 3.7-3 5.7-1.5 0.4-3-0.6zM334.5 136.8l-0.5-2.1 0.9-1.6 1.5 0.8 1 2.9-1 0.8-1.5-0.4zM41.3 125.9l0 1.2zM44.1 117.1l0.4-2.3 1.4-0.8 1.5-0.2 3.5 1-0.4 2.6-3.1-0.6-3 0.8zM304.2 114.8l0.3-0.5 0.2 0.5-0.2 1.7zM165.7 112.6l0.5-2.3 0.4 2.3-0.5 1.4zM38.1 110.3l-0.4-2.2 0.6-1.8 1.5 1.1 0 1.4-1.5 2.4zM150.2 108.1l0.7-0.8 1.1 0.8-1.1 0.7zM256.8 108.1l0.1-4.6-1.1-1.6-0.2-3 1.7-1.5 1.3 1.5-1 4.6 1.5 2.3-0.2 2.3-1.6 0.7zM176.3 105.8l0.4-0.8 0.9 0.8-0.9 0.3zM183.4 105.8l0-2.3 0.9-1.3 3.1-1.8 1.5-2.6 0.6 1.1 0.1 2.3-1.2 4.6-1 1.8-3.1-0.9zM164.1 101.2l0.4-1.5 0 2zM316 101.2l0.6-1.4 0.8 1.4-0.8 0.7zM167.9 98.9l-1.2-2.3 0.1-2.3 2.3-2.1 1.5 0.9 0.8 1.2 0.2 2.3-2.5 4zM146.9 96.6l1.2-2.3 1.2 2.3-1.5 0.6zM158.3 96.6l0.2-2.7 1.5 0.5 0.8 2.2-0.8 0.9-1.5-0.6zM133.7 89.6l0.4-0.4 1.2 0.4-1.2 1.7zM246.2 89.6l0.5-3.2 0.3 0.9 0.3 2.3-0.6 1.9zM111.3 291.8l0.3-1.3-0.3-0.4-0.5 0.4zM278.6 290.5l1.5 0.4 1.1-0.4-1-1.8-1.6 1.8zM117.4 282.6l3.1-0.9 0.3-1.7-3.4-1.8-1.2 1.8 0 1.7zM125 280.9l1.5 0.2 1.2-1.1-1.2-0.8-2.3 0.8zM193.4 280.1l0-0.9-0.2 0.8zM269.5 278.8l1.5-0.1 0-1.4-1.5-2.7-0.2 3.6zM277.1 276.6l1.8-1.9-0.3-1.8-2.1 0-1.6 1.8 1.7 1.8zM289.3 273.6l1.5 0.4 2-4.6-0.5-1.3-3 2.5-0.3 2.3zM296.9 273.3l1.5 1.2 1.5-0.3 0.5-1.3-0.7-1.8-2.8-1.8-1.6 0.1-0.4 1.7 1.7 1.8zM202.6 271.3l1.5 1.3 1.5-1.3-0.8-1.9-2.2-3.1-1.6 0.3-0.7 1 2.2 3.5zM211.7 271.4l0.6-2-2.1-5-1.7-0.4-1.4 1.8 1 3.6 3.3 1.7zM309 272l1.6-0.2 0.9-2.4-0.9-1.3-1.6 1.1-0.4 1.9zM99.1 270.1l1.5-0.7-1.5-1.4-1.4 1.4zM117.4 260.7l1.5 0.8 1.1-1.1-2.6-0.7-0.4 0.7zM53.5 255.4l1.3-0.4 0.2-1.8-1.5-2.3-0.3 4.1zM48.9 250l1.9-0.5 1-1.8-1.3-1.6-1.6 0.3-0.5 3.1zM94.6 246.2l1.6-0.3-1.6-2.2-1.5-0.1-0.3 0.4 1 1.9zM337.9 240.8l1.6 0.6 0.9-1.1 0.7-1.8-1.3-1.9-1.9 0.6-0.4 3.1zM306 236.7l-0.3-1.9-2.7-3.6-3.1 1-3-0.9-1.6 0.6-0.6 1 0.6 1.1 1.6 0.2 4.5 0.4 1.6-0.5 2.9 2.5zM76.3 212.4l0-1.1-0.6 0.8zM303 209l1.5 0.2 1.7-1-0.2-4.7 1.5-2.9 1.6-0.2-1.6-0.1-1.5-1.3-1.5-8.3-1.5-1.8-0.5 1.7-2.6 2.7-1.5 1.3-1.6-0.1-1.5 2.6-1.6 5.3-0.1 1.9 3.3 2.2 1.5 0.2 1.5-0.9 1.5 0.9 0.8 1.5zM331.9 205.9l1.5 0.1 2.4-1.7 0-3.9-0.9-2.8-1.2-1.1-0.3-2.4-1.5-1.5-5.4 3.9-0.3 2 1.6 3.9 2.6 1.9zM77.8 204.3l1.6-0.2 2.3-1.7-0.8-1.7-1.5-0.4-1.6 0.9-0.6 1.2zM344 203.1l0-4.5-2.2 1.8 1.2 2zM321.2 200.9l1.5 0.2 0.7-0.7-0.7-0.5-1.7 0.5zM289.3 174.6l1.5 0.4 0.4-2.5-0.4-1.3-1.5 0.6-0.1 2.7zM147.8 173.4l1.9-3 2.7-2 0.9-2.1-3-4.1 2.1-8.1 2.3-2.3 0.2-2.2-1-1.5-1.5-0.8-1.5 4.2-3.1 0.9-3 1.9-0.9-0.4-2.2-3.9-1.5 0.6-1.5-0.6-1.2 1.8 1.3 2.1-0.1 1.7-1.7 2.4 1.7 0.4 1.7 5.9 1.3 1 1.5-0.1 1.6 2.5 1.5 1.2 0.9 1.5-0.1 2.1zM264.9 161.5l0.3-1.4-0.3-0.4-0.2 0.4zM56.6 156.2l0.2-2.3-1.4 0 1 2.1zM117.4 152.5l1.7-0.7-1.7-0.4-0.2 0.4zM134.1 153.1l1.5 0.1 1.3-1.4-0.1-2.2-1.2-1.4-1.5-0.5-1 1.9 0.5 2.2zM160 148.7l1.7-1.2-1.7-0.5-0.6 0.5zM108.3 146.1l1.5 0.5 0.6-1.2 0-2.1-2.1-0.9-0.6 0.9 0.1 2.1zM137.2 145.8l0.5-0.4-0.5-0.4-1.4 0.4zM135.6 145.3l0.5-2-0.3-2.2 1-4.3-2.7-3.7-2.6-0.6 0.2-2.2 3.9-4.5 0.6-2.1-0.2-2.2-1.9-1.5-1.5-3.5-3-1.4-4.5-7-0.9-6.9 0.2-2.3-1-2.3-4.5-5.1-1.5 0.9-1.5 0.1-4.6-0.9-0.6-2 0.6-2.3 1.5-0.6 1.7-1.8-4.4 0-0.3 0.5-2.5-0.5-11.9 0 0.9 7.1 4.4 7.1 3 0.5 1.5 2.7 2.5 1.2 0.7 2.3-1.2 2.3-0.2 2.2 2.9 2.3 1.4 6.7 1.5 0.6 1.1 1.6 1.4 4.4 2.1 1.6 3-1.6 2.1 4.4-0.6 4.4 1.2 2.1 1.9 2.5 7.6 1.6 2.4 2.4zM127.7 132.5l0.3-0.8 1.4 0.8-1.4 0.8zM119.3 123.7l1.1-0.2 0 2.4zM121.6 114.8l0.4-0.9 1.1 0.9-1.1 0.6zM115.3 108.1l-0.8-2.3 1.4-0.6 1.7 0.6 1.3 1.9-1.5 1.7-1.5-0.4zM110.2 96.6l2.5 0-1.4 0.2zM106.6 94.3l-1-2.3 1.1-2 1.6 2-0.3 2.3-1.3 0.1zM62.6 141.3l0-1-1.1 0.8zM143.2 137.2l1.5-0.4-1.5-1.9-1.2 1.9zM70.2 135.1l3.9-9.2-2.3-0.8-0.4 3-2.3 2.2 1 4.4zM140.2 135.5l0.6-3 2.4-2.2 0.4-2.2-1.9-1.6-1.5-0.5-1.6 2.1-0.1 4.4 1.4 2.2zM156.9 135.2l1.6-0.4 0.8-2.3-0.8-0.8-1 0.8-0.7 2.2zM94.6 124.1l0.3-2.6-1.8-1.8-0.6 1.8 0.9 2.2zM184.3 124.3l2.6-2.8-2.6-2.1-1.5 2.1 0.3 2.2zM100.7 119.7l0.4-0.4-0.4-0.6-0.3 0.6zM193.4 118.1l1.6-0.5 0-1.2-1.6-1.1-1.2 1.8zM93.1 114.9l1.6-0.1 0.5-2.2-0.6-3.3-1.5-0.5-0.8 1.5 0.7 4.5zM266.5 112.8l0-1.4-0.2 1.2zM126.5 104.6l1.8-1.1-0.3-2.8-1 0.5-1.4 2.3zM77.8 101.8l1.6 1.2 0.9-1.8-0.9-2.4-1.7 2.4zM68.7 97.5l1.5 0.2 1.3-3.4 1.5-2.3-1.2-7.1-3.1 0-1 2.4-0.2 2.3 0.7 2.4 0.1 4.6zM90 94.9l3.1 0 0.4-0.6-0.4-0.9-4 0.9zM341 92.9l0-2.3-0.3 1.4zM118.9 87.7l1.5 0 1.1-2.8-3.6 0 0.9 2.4z" fill="#fbdada" fill-rule="evenodd"/>
<path d="M289.3 372.1l0-1-1 1zM307.5 372.1l2.6 0-1.1-2-1.5 0.3-0.2 1.7zM204.1 365.8l3-2.4 0.2-2.6-2.7 0-0.5-2.9-1.5-0.6-0.7 0.3-0.4 1.6 1 1.6 1.5 4.9zM268 364.2l2.2-5-2.2-3.5-1.7 1.9 0.5 3.2-0.4 1.6 1.1 1.7zM128 362.2l1.6-1.4 0.6-4.9 0.9-1.1 3-0.2 0-1.2-3-2-3.1 1.1-1.1 1.8-0.2 4.9 0.7 1.6zM158.5 360.8l1.5 0.7 0.8-0.7-0.8-0.8-1.5 0.8zM181.3 361.4l1.5-1 1.5 1.3 0.8-0.9-0.8-2-1.5-0.9-1.9 1.3-0.3 1.6zM38.3 359.3l1.5-0.6 1.2-2.8-1.2-2.8-3-2.3 0 8.8zM321.2 357.7l3 1.3 3.1-0.7 0.9-0.7-1.4-1.7-3.2-1.6 0-1.6-0.8-1.6-2.7 4.8 0.8 1.7zM333.4 357.2l1.5 0.2 0.5-1.5-0.5-1.4-1.5 0.5-0.7 0.9zM176.7 354.4l1.5 0.9 1.6-0.5 3.9-5.4-3.9-6-1.6 0.6-1.4 2.1-0.4 1.7 0.8 1.6-0.7 3.3 0.2 1.6zM328.8 352.8l1.7-0.1 0.5-1.6-0.7-1-1.5-0.4-1.5 1.1 1.3 1.9zM149.3 349.7l0.6-0.3 0.1-1.6-1.1-1.7-1.1-0.5-0.9 2.2 2 1.6zM52 341.4l1.5-0.9 0.7-2.6-2.2-0.6-1.3 0.6-0.5 1.7 1.3 1.6zM223.9 341.3l2.7-1.7 0.1-1.7-2.8-1.1-1.6-1.3-3.3 0.7 0.7 1.7 3.5 3.3zM201 340l0.5-2.1-0.5-1.1-1.1 1.1-0.3 1.7zM56.6 338.4l1.2-0.5-1.2-0.4-0.8 0.4zM263.4 338.2l0.8-0.3-0.8-1.4-0.6 1.4zM74.8 336.7l0.5-0.5-0.5-1.7-1.1 1.7zM161.5 337.6l3-0.1 1.5-1.3 0.7-1.6 4.4-3.3 1-0.3 1.6 0.9 3-2.2 3.1-1.3 6 0 1.6 0.5 1.5-0.6 0.3-2-0.7-1.7 0.4-1.4 1.5 1.2 1.5 0.1 1-1.6-1-3.4-1.5-0.9-1.5 1.7-1.5-0.6-0.7-1.8 2.2-1.7 0.2-1.7-0.2-4.5-2.3-5.7 1.7-3.5-0.9-2.7-6.1 0.5-3.1-2.7-1.5 0.3-0.6 1.2 1 5.2 1.1 1.5 1.6-0.7 1.5-1.7 0.9 0.9 2.2 5.1 0.2 3.4-2.2 5.1-1.1 1.2-1.5 0.8-1.6 0-1.5 0.8-1.5 1.8-1.5 0.6-1.6-0.2-9.7 5.1-1 6.6-1.1 3.3zM229.9 333.4l1.6-0.2 1.5-1 2.6-4.3 0.1-5-1.7-3.4 0.9-3.3-0.2-1.7-1.7-1.5-2.2-0.2 2.2-1.6 0.4-1.8-1.9-2.9-1.6 0-0.3-0.5 0.3-2.7 1.6 0 1.5 0.9 2.8-1.6 1.8-2 1.5 0.5 1 1.5-1.2 1.7-0.1 1.7 0.5 1.7 1.3 1.5 1.5-0.3 1.1-1.2-0.3-1.7 0.7-2.9 1.6 0.1 0.5-0.6-0.5-1.5-2.2-2-0.5-1.7 0.5-3.5-1.5-1.7 1.1-3.5-2-3.1-1.5-0.1-1.5 0.6-1.6 1.5-2.3 4.6 0.4 1.7-0.8 1.8-1.8 2.6-1.6 0.4-4.8-3 0.7-5.2-1.9-1.8-1.6-0.3-3 0.4-3-0.9-3.1 1.2-4.8-0.4-5 1.8-1.5 3.4 0.4 1.8 1.5 1.7 0.7 1.7-0.4 1.7 3.1 5.2 1.5 8.6 2.2 3.3 0.3 1.6 2 1.6 1.3 1.8 0.2 3.4-2.3 3.3 0.5 1.7 4.9 0.8 1.6-0.8 0.2-1.7 1.2-1.7 1.5 0.1 1.1 1.6-0.2 1.7 0.7 0.8 3-0.9 2.1 1.7zM217.6 324.6l0.2-2.9 1.5-0.1 1.9 1.3 0 1.7-0.4 0.3-1.5 0.9-1.5-0.8zM226.7 322.9l-1.3-4.4-4.6 0.9-2.8-1.5-1.1-1.7 0.2-3.4-0.8-0.8-1.6-0.2-3-2.8-0.7-1.3-0.1-1.7 0.8-2.9 1.5-1.4 1.5 3.3 1.6 0.9 1.5-2.9 6.1-0.3 1.1 1.6 0.3 1.7-0.3 1.7 2.8 3.4 0 1.7-1.4 3.4 0.5 1.1 3.1 2.2-0.5 1.7 0.4 1.7-1.5 1.1-1.5-0.6zM221.2 295.7l1.1-0.7 0.7 0.7-0.7 0.3zM258.8 334.1l1.5-1.2-1.5-0.6-0.5 0.6zM208.7 331.3l1.6-3.4-1.6-2.7-1.6 0.3-1.3 2.4 0.1 1.7 2.6 1.7zM304.5 332.3l0.2-1-1.3 0zM204.1 330.3l0.8-0.7-0.9 0zM255.8 329.8l1.5-1.3 0.9-2.2-0.9-0.9-0.9-2.5 0-3.4-0.8-1.6 1.7 0.1 1.3 1.5 0.2 2.2 1.6 1.7 1.5 0.9 1.5-0.1 1-1.3-1-0.8-0.8-2.6 0.8-1.3 3.1-0.4 1.4-1.6-1.4-2.3-3.1-1.7-1.5 0-1.5 1.7-5.4-4.5 0.2-1.7-0.9-1.2-3.1 0.8-1.5-1.3-1.6 0 0.5 3.4 1.1 0.6 1.5-0.2 1.6 1.1 0.8 3.6 1.3 1.7-2.2 3.3-0.4 3.4 1.4 5 1.9 1.7zM261.9 328.7l1.5 0.9 1-1.7-1-2.5-1.5-0.2-0.3 2.7zM328.8 328.5l4.6 0.6 2.6-4.5 1.1-3.4 0.8-0.7 1.6 1.2 1.5-0.3 1.5-1.5 1.5-0.4 0-5.9-1.5 0.2-1.5-3.3-1.5-0.1-1-2.7-0.6-0.2-4.5 1.9-3.1-0.1-1.5 1.3-2.8 3.9-1.3 3.4 0 1.6 0.8 1.7 3.3 3.4-0.4 3.3zM156.9 326.6l0.9-0.3-1 0zM290.8 314.7l1.5-0.5 1.3-1.4-1.2-1.7-1.9 1.7 0 1.7zM339.5 307l1.5-1.3 3-0.6 0-5.2-1.3 0.9-1.7 2.5-2 1 0.1 1.7zM257.3 302.8l1.5 0.6 0.6-0.8 0.2-1.8-0.8-1.9-3-0.1-1.4 2 2.6 1.8zM339.5 299.8l1.5-0.6 0.9-1.8 0.2-1.7-1.1-1.2-1.5 0.2-0.9 2.7 0 1.7zM344 276.8l0-2.5-0.5 0.4 0.1 1.8zM38.3 276.1l2.5-1.4 2.1-3.3 6-1.1 4.6 0.8 6.1-0.8 3 1.9 3.1 0.8 1.5-0.6 1.5 1.2 1.5-0.7 1.6-4.1 1.5-1.4 1-5.2-0.2-1.8-2.2-1.8-0.1-1.8-2.1-3.6 0.5-2.4 1.6 0.4 2.3-1.7-0.2-1.8-3.7-3.9-0.6 0.2-0.9 3.6-2-1.7 0.1-1.9 1.4-1.8 1.9-5.6-1.4-2.4-4.5-0.2-4.6 5.6-3 0.2-3.1 2.3-1.5 0-1.5 1.3-1.6-0.2-1.7-2.9-0.1-1.8-1.4-1.9-1.3-3.2-3.1-0.6-1.5-2.3-3-0.7 0 45.6zM64 264l1.7-1.3 1.1 1.3-1.1 1-1.5-0.7zM66.6 260.4l0.6-0.7 1.5-0.2 0 1.8-1.5-0.5zM53.2 255l0.3-4.1 1.5 2.3-0.2 1.8-1.3 0.4zM48.4 249.5l0.5-3.1 1.6-0.3 1.3 1.6-1 1.8-1.9 0.5zM57.7 245.9l0.4-0.6 0.7 0.6-0.7 0.6zM172.1 273.8l-0.1-0.9zM112.8 236.5l1.2-5.5-3.8-3.7 0.2-1.9-0.6-2.9-0.5 4.8-2.6 1.9-0.2 1.8 3.3-1.1 2.3 3-0.1 1.9zM99.1 227.4l1.6-1 1.5-0.1 0.5-0.9-0.5-2.2-1.5-1-1.6 0.3-1.9-0.9-0.2-1.9 1-1.9-0.4-1-3 2.2-0.5 2.6 0.6 1.9 1.4 1.9 2.7 1.9zM144.8 223.9l1.5-1.2 3-0.4 1.5-0.7-2-1.9-1-1.9 1.6-3.8-1.4-3.9 0.4-3.8-0.6-0.8-1.5-0.8-1.5 0.7-0.5 0.9 2.6 3.8-0.6 0.6-0.6 3.3-3.2 5.7 1.8 3.8zM108.3 222.1l0.9-0.5-2 0zM103.7 219.9l1.5 0.7 1.3-0.9-1.3-1-1.6 1zM152.4 220.1l1-0.4 0.5-1 0-6.2-1.8 1.5 1.1 3.8-2.1 1.9zM231.5 219.8l1.5 1.3 3-1.2 3.1-3.9 4.5-1.4 4.6-4.3 3 3.6 1.6 0 1.5 1.2 1.5 2.9 1.5 1 6.1 2.2 2-1.5 4.3-7.6 0.6-2-1.7-5.8-6.2-7.8-6.6-4.2-3-1-1.6-1.5-6-1.9-1.6-1.1-4.3-8.2 1.5-2 0.8-2.1 0.3-4.1-0.2-2-1.1-1.4-3-1.6-4.6-0.9-3.1 1.1-3 0.2-4.6 2.8-1.5 4.5-4 1.4-0.5 2.1 0.6 2-0.3 6-0.3 0.4-1.6-0.9-1.5 4.4-1.5 0.9-0.7 1.2 2.2 1.5 1.5-0.3 1.6 0.6-2.3 4.1 0.4 2 6.9 1.9 1 3.1 1.6 2.3 1.5-1.3 1.5 0.2 2 1.6 4.8 1.9-0.1 1.9-1.8 2-0.7 1.9-2 1.9 0 1.9 2.3 1.9zM256.2 214l-4.4-3.9-2.2-5.8-0.3-1.9 1.9-6 1.6-0.1 3 3.7 3-0.3 1.6 0.5 5.3 4.1 1.2 2 0.1 1.9-2.1 6.7-1.5 0.8-1.5-0.7-1.5-0.1-1.6 0.9-1.5-0.6zM241.2 210.1l-1-1.9-0.1-1.9 0.5-1.6 1.5-0.8 2.1 4.3 0.2 1.9-0.8 1-1.5 0zM231.2 200.4l-5.8-4.7-3.6-1.2 0.3-3.9-2-2 1.8-4 0-2 1.2-4 0.8-1.9 1.5-1.2 0.5-3 1.5-2.1 1.8-2 2.3-1.1 1.5-0.3 4.6 1.1 1.5 2.3-0.6 4.1-0.9 2.3-1.5 1.8-0.4 2 0.3 1.5 3.1 1.5 1.5 1.5 1.5 3.5 0 5.9-1.5 4 0.5 1.9-0.5 0.8-1.5-0.1-1.5-1.5-1.6 0.3-1.5 1.6-1.5 0-1.5-0.9zM99.1 216.5l0.9-0.6-0.6-1.9 0.5-1.9-0.8-2.2-0.8 6zM122 216.8l1.3-0.9 0.4-1.9 1.3-1.1 1.5 0.3 3.7-3.1-0.8-1.9-2.9-2.4-1.5-0.3-1 2.7-2.2 1.9-0.1 5.8zM137.2 208.6l1.5-0.9 1.1-1.4 0.1-3.9 0.8-2 2.7-1.9-1.7-3.3-0.4 1.3-2.6 3.7-1.5-1.1-1.6 0.4-3-0.9-1.6 1.8 0.1 2.6 0.8 1.3 2.2 0.9 1.6 3zM152.4 206.8l0.6-0.5-0.6-1.2-0.5 1.2zM152.4 201.4l1.5 0.3 1.5-0.9 0-2.3-1.5-0.5-2 2.4zM120.4 195.3l1.2-0.8-1.1-1.9-1 1.9zM140.2 195.3l1.5-1 1.5-4.4 4.6-3.9 1.5-0.1 3.1 2 3-0.2 1.5 1.1 1.6-0.1 3-1.5 3 1.3 1.6-0.7 0.4-1.2 4.1-3.9 3.1-1.4 2-2.7 0.1-2-2.1-3.7 0-0.9 3 1.5 2.4-1 2.2-2.8 1.5-5 1.5-2.7 1.5 2.2 1.6 0.5-0.4-4.6 0.6-2.1-1.8-1.6-1.5 0.1-0.6-0.5-0.4-2.1 0.5-4.3 1.3-2.1-0.1-4.2 2-4.3-0.1-4.3-2-2.2-2.1-0.6-1.5-2.5-1.5-1.4-2.3 2.3-0.7 4.4-1.6 3.8-1.5 1-1.6-0.8-4.5 1.3-1.5-3.2 0.5-2.1 1.4-2.2-0.4-0.8-1.5-0.4-1.6 2.4-1.5-0.1-0.8-1.1-0.9-4.4 0.4-6.6-3.2-4.2-1.6-0.9-1.5-0.1-1.5 0.8-0.5 2.2-1 1.4-1.5-0.1-1.6-1.3-1.5-4-1.5-0.5-0.8-2.2 1.1-2.3-0.3-5.1-1-4-0.1-2.3 0.6-2.3-2.6-1.7-3 1.4-1.5-2-4.6 2-3-2.8-1.5-0.7-3.1 0-1.2-3.2-0.1-2.3 0.5-2.4-4.2 0-1.1 2.8-1.5 0-1-2.8-3.4 0-1.7 1.8-1.5 0.6-0.6 2.3 0.6 2 4.6 0.9 1.5-0.1 1.5-0.9 1.5 1.4 3 3.7 1 2.3-0.2 2.3 0.9 6.9 4.5 7 3 1.4 1.5 3.5 1.9 1.5 0.2 2.2-0.6 2.1-3.9 4.5-0.2 2.2 2.6 0.6 2.7 3.7-1 4.3 0.3 2.2-0.5 2-0.6-2-2.4-2.4-7.6-1.6-3.1-4.6 0.6-4.4-2.1-4.4-3 1.6-2.1-1.6-1.4-4.4-1.1-1.6-1.5-0.6-1.4-6.7-2.9-2.3 0.2-2.2 1.2-2.3-0.1-1.2-0.6-1.1-2.5-1.2-1.5-2.7-3-0.5-3.1-4.5-1.3-2.6-0.9-7.1-23.6 0 1.2 7.1-1.5 2.3-1.3 3.4-1.5-0.2-0.4-0.9-0.1-4.6-0.7-2.4 0.2-2.3 1-2.4-9.3 0-0.9 7.1 2.6 7.8 1.5 1.5 1.6-3.5 0.7 1.1 5.3 4 3.1 0.5-1.8 4.7 0.3 1.1 2.9 5.6 1.6 0.1 3.1 5.7 4.5-1.2 3.8-2.3 0.1-2.3 0.7-0.8 0.5 3.1 1.2 2.2 0.5 4.4 3.9 9.6 1.5 0 1.5-0.7 2-2.3 1.1-2.3 1.5-1.1 1.5 2.6 3.6 3-0.1 2.2-0.5 0.4-1.5 0.3-1.5-0.5-1.5 1-0.5 5.2-0.9 2.2 2.2 4.2 0.7 0.4 3-0.6 1.6 1.7 0.6 2.8 0 4.2 1.5 2-1.1 2.1 0.5 3 1.5 1.7 1.5-0.3 2.6 1.8 2 5.8 3 0.1 0.1 2.3 1.2 2.1 3.3-2.4 1.9 0.3 1.1 1.1 3.1 0 1.5 1.3 3 0.5 0.9 3.2-0.8 2 3 3.1 1.5-1.8 1.5-0.3 1.5 2.3 1.2 0.7-1.2 1.5-3.2 0.5-2.7 2 0.4 2 2.1 1.9zM159.8 178.6l0-4.1 2.2-4.1-2-2 0.2-2.1 2.8-11.2 3.1 0.8 2.3-2 0.1-2.1-0.8-2.2 2.9-3.5 3.4 3.5 0.5 2.2 0.7 6.2-2.1 2.1 1.3 2.1 0.4 2.1-1.1 2-3.1-1.4-1.5 0.1-1.7-0.7-1 2 0.2 2.1 1.7 2 0.8 2.2-1.5 0.8-1.5-2.4-1.6-0.4-1.5 1-0.5 2.9 0.5 2.1-1.4 2-1.6 0.7zM147.1 172.5l0.1-2.1-0.9-1.5-1.5-1.2-1.6-2.5-1.5 0.1-1.3-1-1.7-5.9-1.7-0.4 1.7-2.4 0.1-1.7-1.3-2.1 1.2-1.8 1.5 0.6 1.5-0.6 2.2 3.9 0.9 0.4 3-1.9 3.1-0.9 1.5-4.2 1.5 0.8 1 1.5-0.2 2.2-2.3 2.3-2.1 8.1 3 4.1-0.9 2.1-2.7 2-1.9 3zM127.4 170.4l-2.4-2-1.4-4.1-0.1-2.1 0.8-2.1-0.2-2.1-2.6-2 1.7-4.2 0.3-3.5 0.5 3.5 1.2 2.1 2.8 4.1 1.6 0.2 1.5 2 0.5 2 0.7 4.1-0.8 2.1-1.2 2-2.3 0.4zM177.4 164.3l0.8-2.7 0.7 2.7-0.7 0.8zM157.9 160.1l1.2 0-0.6 1.5zM117.2 151.8l0.2-0.4 1.7 0.4-1.7 0.7zM133.6 151.8l-0.5-2.2 1-1.9 1.5 0.5 1.2 1.4 0.1 2.2-1.3 1.4-1.5-0.1zM124.4 147.5l0-2.1 0.6-0.2 0.3 0.2-0.3 2.4zM159.4 147.5l0.6-0.5 1.7 0.5-1.7 1.2zM107.8 145.4l-0.1-2.1 0.6-0.9 2.1 0.9 0 2.1-0.6 1.2-1.5-0.5zM135.8 145.4l1.4-0.4 0.5 0.4-0.5 0.4zM119.3 143.3l1.1-0.5 0.7 0.5-0.7 1.3zM142 136.8l1.2-1.9 1.5 1.9-1.5 0.4zM139.9 134.7l-1.4-2.2 0.1-4.4 1.6-2.1 1.5 0.5 1.9 1.6-0.4 2.2-2.4 2.2-0.6 3zM156.8 134.7l0.7-2.2 1-0.8 0.8 0.8-0.8 2.3-1.6 0.4zM93.4 123.7l-0.9-2.2 0.6-1.8 1.8 1.8-0.3 2.6zM100.4 119.3l0.3-0.6 0.4 0.6-0.4 0.4zM93 114.8l-0.7-4.5 0.8-1.5 1.5 0.5 0.6 3.3-0.5 2.2-1.6 0.1zM125.6 103.5l1.4-2.3 1-0.5 0.3 2.8-1.8 1.1zM77.7 101.2l1.7-2.4 0.9 2.4-0.9 1.8-1.6-1.2zM89.1 94.3l4-0.9 0.4 0.9-0.4 0.6-3.1 0zM105.2 192.9l1.5 1.3 1.6-0.6 0.9-3-0.9-1.9-1.6 0.5-1.4 1.4-0.5 2zM125 192.2l1.5 0.1 0.4-1.7-1.9-2.2-0.6 2.2zM268 186.7l1.6-0.1-1.7 0zM275.6 187.5l1.5 0.7 1.5-0.4 2.4-3.2 2.2-0.8 4.5-0.3 4.6-2 3 0.2 3.1-0.8 4.6 1.5 3-2.8 3-0.4 1.6-1.1 3 1.1 4.6-3.5 3.4-1.2 2.6-4.3 3.1-0.1 3 1 1.6-0.6 1.5 0.2 4.5 2.5 6.1-0.3 0-9.3-1 2.7-2 0.6-2.1-0.6-1-2-1.5-1.2-1.5 1-3-1.2-1.6 0.2-1.5 1.1-3-3.7-0.4-2.5 0.4-0.8 1.5 0.2 1.5 2.6 1.5-0.4 1.6-2.9 1.5-0.5 3 2.1 6.1-3.4 1.5 0.2 0-4.4-4.5-0.3-3.1 2.2-1.5-0.1-7.6-3.2-1.5 0.5-1.6 1.7-6 2.2-3.1-2-1.5-0.3-1.5 0.8-1.5 2-6.1 0.3-1.5 5.8-7.7 0.3-1.5 0.6-5.3 3.1-2.3 4.4-1.5 0.2-1.5-0.9-1.5 0.8-1.6 1.8-3 1.4-0.9 2.5 2.6 6.1 0.3 2-0.5 1-1.5-2.4-1.5 1.6-1 3.8zM295.3 176.6l-0.9-2.1 0.9-2 1.5 2-1.5 2.2zM289.2 174.5l0.1-2.7 1.5-0.6 0.4 1.3-0.4 2.5-1.5-0.4zM312.9 174.5l-2.3-1.2-3.1 0.3-3-0.4-3.1 0.6-2.6-3.4 1.5-2 4.2-2.7 1.5-2.3 1.5-0.8 3.1-4.1 1.5-1.1 1.5-0.5 3 1.4 3.1 0 3.5 6 0.1 2-0.7 2.1-2.5 4.1-6.5 2.6zM44.4 182.7l1.5-0.2-1.6 0.1zM109.8 174.8l0.7-0.3-0.7-2-0.2 2zM42.9 174l1.5-0.7 1-2.9 0.1-2-1.1-3.7-1.5-1.7-1.6-0.3 0.2 7.7 0.6 2.1zM286.2 152.2l0.6-4.7-0.6-1.6-0.4 5.9zM128 133.3l1.4-0.8-1.4-0.8-0.3 0.8zM120.4 125.9l0-2.4-1.1 0.2zM286.2 124.4l1.5 0.1 2.3-3 5.3-3.6 1-3.1 1.8-2.2 0.5-2.3 1.3-1.8 1.5-0.8 0.8-1.9 0.8-9.2 2.2-2.3 0.9-2.3 1.4-2 1.5-1.3 1.6 0 1-1.4 0.4-2.4-14.2 0 2.4 4.7-0.3 0.6-1.5 1.9-3.1-0.5-1.6 2.7-1.4 1-3 0.8-1.6 0-3-1.2-4.6-4.1-0.8-1.2-0.3-4.7-18.6 0-0.4 4.7 0.4 1.3 1.5 0.9 0.8 2.5 0.4 2.3-0.7 2.3 1 2.5 1.5 0.8 1.6-1.7 1.5-0.2 3 2.8 3.1 0.9 7.6-1.2 4.5-3.7 2.4 2.1-2.2 4.6 0.4 2.3-1.4 2.2-0.7 5.1-2.2 3.9 0.4 2.2 2.6 2.2zM330.3 121.6l3.1-1.5 3 0.3 3.1-1 1.5-1.2 1.5-0.2 1 3.5 0.5 0.3 0-22-1.1-0.9 0.5-4.6 0.6-1.7 0-7.7-8.7 0-0.4 1-1.5 0.1-1.2-1.1-1.9 1-1.5-0.2-0.5-0.8-15 0 1.5 4.7 2.6 2.4 0.9 4.6 1.6 2.3 2.9 2.3 1.4 2.9 2.2 1.7 0.8 4.5-2 6.8 0.6 2.2 3 0.5 1.4 1.7zM337.8 112.6l1.7-1.7 0.4 1.7-0.4 1.1-1.6-0.5zM334.5 101.2l0.3-2.3 0.4 0 0.6 2.3-0.9 0.6zM340.7 92l0.3-1.4 0 2.3zM122 115.4l1.1-0.6-1.1-0.9-0.4 0.9zM150.9 108.8l1.1-0.7-1.1-0.8-0.7 0.8zM257.3 108.8l1.6-0.7 0.2-2.3-1.5-2.3 1-4.6-1.3-1.5-1.7 1.5 0.2 3 1.1 1.6-0.1 4.6zM176.7 106.1l0.9-0.3-0.9-0.8-0.4 0.8zM184.3 106.7l3.1 0.9 1-1.8 1.2-4.6-0.1-2.3-0.6-1.1-1.5 2.6-3.1 1.8-0.9 1.3 0 2.3zM164.5 101.7l0-2-0.4 1.5zM316.6 101.9l0.8-0.7-0.8-1.4-0.6 1.4zM147.8 97.2l1.5-0.6-1.2-2.3-1.2 2.3zM193.4 97.4l0.6-3.1 1.5-2.3 1-4.7 0.6 0-3-2.4-6.4 0 1 7.1 1.7 2 1.1 0.3 1.1 2.3zM134.1 91.3l1.2-1.7-1.2-0.4-0.4 0.4zM246.7 91.5l0.6-1.9-0.3-2.3-0.3-0.9-0.5 3.2zM251.2 91.1l1.1-1.5 0.5-4.7-2.8 0 0.7 4.7zM182.8 88l0.6-0.7 0.2-2.4-1.7 0 0.4 2.4zM108.3 85.1l1.5 0.3 0.3-0.5-2.8 0z" fill="#f7bcbc" fill-rule="evenodd"/>
<path d="M217.8 325l1.5 0.8 1.5-0.9 0.4-0.3 0-1.7-1.9-1.3-1.5 0.1-0.2 2.9zM226.9 323.4l1.5 0.6 1.5-1.1-0.4-1.7 0.5-1.7-3.1-2.2-0.5-1.1 1.4-3.4 0-1.7-2.8-3.4 0.3-1.7-0.3-1.7-1.1-1.6-6.1 0.3-1.5 2.9-1.6-0.9-1.5-3.3-1.5 1.4-0.8 2.9 0.1 1.7 0.7 1.3 3 2.8 1.6 0.2 0.8 0.8-0.2 3.4 1.1 1.7 2.8 1.5 4.6-0.9 1.3 4.4zM64.2 264.3l1.5 0.7 1.1-1-1.1-1.3-1.7 1.3zM67.2 260.8l1.5 0.5 0-1.8-1.5 0.2-0.6 0.7zM58.1 246.5l0.7-0.6-0.7-0.6-0.4 0.6zM36.9 244l-0.1-4 0 4.3zM257.3 215.2l1.5 0.6 1.6-0.9 1.5 0.1 1.5 0.7 1.5-0.8 2.1-6.7-0.1-1.9-1.2-2-5.3-4.1-1.6-0.5-3 0.3-3-3.7-1.6 0.1-1.9 6 0.3 1.9 2.2 5.8 4.4 3.9zM260.9 210.1l-1.4-1.9 0.3-1.9 0.6-0.9 1.5-0.7 1.9 1.6 0.2 1.9-0.6 1.3-1.5 1.1zM242.1 211.1l1.5 0 0.8-1-0.2-1.9-2.1-4.3-1.5 0.8-0.5 1.6 0.1 1.9 1 1.9zM231.5 200.6l1.5 0.9 1.5 0 1.5-1.6 1.6-0.3 1.5 1.5 1.5 0.1 0.5-0.8-0.5-1.9 1.5-4 0-5.9-1.5-3.5-1.5-1.5-3.1-1.5-0.3-1.5 0.4-2 1.5-1.8 0.9-2.3 0.6-4.1-1.5-2.3-4.6-1.1-1.5 0.3-2.3 1.1-1.8 2-1.5 2.1-0.5 3-1.5 1.2-0.8 1.9-1.2 4 0 2-1.8 4 2 2-0.3 3.9 3.6 1.2 5.8 4.7zM234.8 192.6l-0.7-2 0.4-1.2 1.5-0.4 1.6-1.2 1.5 0.1 0.5 0.7-0.3 2-3.3 2.6zM229.9 182.6l1.2 0-1.2 0.4zM231.2 180.6l0.3-0.4 0.2 0.4-0.2 1.8zM231.6 174.5l-0.1-2.5 1.5-0.7 1.5 0.4 0.9 0.8 0.3 2-2.7 1.1zM160 179.3l1.6-0.7 1.4-2-0.5-2.1 0.5-2.9 1.5-1 1.6 0.4 1.5 2.4 1.5-0.8-0.8-2.2-1.7-2-0.2-2.1 1-2 1.7 0.7 1.5-0.1 3.1 1.4 1.1-2-0.4-2.1-1.3-2.1 2.1-2.1-0.7-6.2-0.5-2.2-3.4-3.5-2.9 3.5 0.8 2.2-0.1 2.1-2.3 2-3.1-0.8-2.8 11.2-0.2 2.1 2 2-2.2 4.1 0 4.1zM295.3 176.7l1.5-2.2-1.5-2-0.9 2 0.9 2.1zM313.6 175.1l6.5-2.6 2.5-4.1 0.7-2.1-0.1-2-3.5-6-3.1 0-3-1.4-1.5 0.5-1.5 1.1-3.1 4.1-1.5 0.8-1.5 2.3-4.2 2.7-1.5 2 2.6 3.4 3.1-0.6 3 0.4 3.1-0.3 2.3 1.2zM313.3 170.4l-2.4-2-0.9-2.1 0.6-3.1 0.7-1 2.3-1.1 3 2.3 1.6-0.5 1.3 1.4 0.3 2-2.6 4.1-2.1 0.6-1.5-0.4zM128 170.8l2.3-0.4 1.2-2 0.8-2.1-0.7-4.1-0.5-2-1.5-2-1.6-0.2-2.8-4.1-1.2-2.1-0.5-3.5-0.3 3.5-1.7 4.2 2.6 2 0.2 2.1-0.8 2.1 0.1 2.1 1.4 4.1 2.4 2zM339.5 166.7l1.5 0.2 2-0.6 1-2.7 0-8.5-1.5-0.2-6.1 3.4-3-2.1-1.5 0.5-1.6 2.9-1.5 0.4-1.5-2.6-1.5-0.2-0.4 0.8 0.4 2.5 3 3.7 1.5-1.1 1.6-0.2 3 1.2 1.5-1 1.5 1.2 1 2zM178.2 165.1l0.7-0.8-0.7-2.7-0.8 2.7zM158.5 161.6l0.6-1.5-1.2 0zM125 147.8l0.3-2.4-0.3-0.2-0.6 0.2 0 2.1zM120.4 144.6l0.7-1.3-0.7-0.5-1.1 0.5zM337.9 113.2l1.6 0.5 0.4-1.1-0.4-1.7-1.7 1.7zM334.9 101.8l0.9-0.6-0.6-2.3-0.4 0-0.3 2.3zM344 99.8l0-7.2-0.6 1.7-0.5 4.6zM284.7 94.9l3 1.2 1.6 0 3-0.8 1.4-1 1.6-2.7 3.1 0.5 1.8-2.5-2.4-4.7-18.8 0 0.3 4.7 4.6 4.7zM328.8 85.7l1.5 0.2 1.2-1-3.2 0zM333.4 86l1.5-0.1 0.4-1-3.1 0z" fill="#f39e9e" fill-rule="evenodd"/>
<path d="M261.9 210.6l1.5-1.1 0.6-1.3-0.2-1.9-1.9-1.6-1.5 0.7-0.6 0.9-0.3 1.9 1.4 1.9zM236 193.2l3.3-2.6 0.3-2-0.5-0.7-1.5-0.1-1.6 1.2-1.5 0.4-0.4 1.2 0.7 2zM229.9 183l1.2-0.4-1.2 0zM231.5 182.4l0.2-1.8-0.2-0.4-0.3 0.4zM233 175.6l2.7-1.1-0.3-2-0.9-0.8-1.5-0.4-1.5 0.7 0.1 2.5zM313.6 170.6l1.5 0.4 2.1-0.6 2.6-4.1-0.3-2-1.3-1.4-1.6 0.5-3-2.3-2.3 1.1-0.7 1-0.6 3.1 0.9 2.1 2.4 2z" fill="#ef8282" fill-rule="evenodd"/>
<path d="M344 257.1l-3 1.6-3.1-0.6-4.5 0.9-4.6 2.2-1.5-1.3-1.5-0.4-3.1 1.8-0.9-0.9 2-1.8-0.1-1.8-1.6-1.8 2.1-1.7 3.1 0.5 3-0.6 1.6 1 7.6-1.2 4.5 1.8M226 84.9l-0.6 1.9-0.8-1.9M61.1 302.8l-3.3-3.7 0-1.7 1.8-2.4 1.6-1.1 1.4-4 1.6-0.8 3-0.2 1.5 0.6 1.5 2.1 3.8 0.6 0.8-3.7 1.5-1 6.1-0.7 3.1-5.4 1.5-1.5 1.5-0.3 6.2 2.1 0.9 1.8 0.9 5.2-0.4 3.1-3-1.9-3.1 1.3-4.5-0.4-4.6 3.3-3.1-1.6-2.3 3.2-6.8 0.7-3 4.3-4.6 2.1M283.2 302.7l-4.6-0.6-1.8-1.3 0-1.7 0.9-1.7 0.9-0.8 1.5-0.2 4.2 1 0.7 1.7-0.3 3.5zM99.1 298.1l-0.4-0.7 0.4-2.2 2 2.2-2 0.7M307.5 292.4l-0.8-0.2-0.1-1.7 2.4-2 1.6-0.4 1.4 2.4-1.4 1.5-3.1 0.4M156.9 266l-3.7-2-0.2-9-0.6-1.6-2-2 0.8-5.5 1.1-1.9 1.6-0.4 6.1 6.6 3 0.5 0.4 0.7-0.3 1.8 1.9 3.6-1.3 1.8-3.7 1.4-0.7 2.2 0.2 1.8-1 2.1zM268 266.6l-1.2-0.8 1.2-3 3 2.7 0.9-3.3-0.9-0.8-1.5 0.7-1.5-0.1-3.1-1.7-6.1-1.7-1.5 0.1-4.5 2.2-1.6 0-1.5-1.4-3.4-0.9-1.3-3.6 0.4-3.6-0.3-1.9-6-0.6-1.3-1.2 1.3-2.3 3 1.3 1.5-1.1 2.2-3.4 0.9-5.6-2.5-3.7-0.3-5.6 1.3-2.2 4.5-2.1 3.1 2.2 2.3 4-0.8 1.7-3 2-0.9 1.9-0.2 3.7 4.1 4.6 1.5 0.8 1.5 0.2 3.1-0.9 3 1 3.1-1 4.5 2.9 3.1 0 3-1.1 3-0.3 2.1-2.5 4-1.7 4.6 0.7 3 1.4 5.7-0.4 4.4 1.8 0.6 1.1 1.5 0.8 1.5-1.4 1.5 0.5 0.4 0.9-1.9 3.2-1.5 0.3-1.5-0.5-2.7 6.1-1.9 0.5-1.1 1.3-0.4 1.9-0.7-1.9-2.4-1.7-2.3 1.7-2.2 4.2-1.5 1.4-1.6 0-3 3.2-3 0.4-4.6 1.5-1.5 0-4.6-1.6-1.5 0.5zM176.7 264.3l-1.5-2.1 0-2.2 2.1-3.2 0.2-1.8 0.7-1.2 1.6-0.2 1.5 1.5 3.9 1.7 2.6 5.4 0.2 1.8-0.6 1.2-4.6-2-3 1.6-1.6 0.2zM195 259.5l-2-2.7 5-3.6 1.6 0 1.3 1.8 0.1 1.7 0.2-1.7 1.4-1.6 1.5-0.7 2.1 2.3-2.1 1.2-1.5 0-6.6 2.4zM202.6 242.3l0-2.4 1.5 0.7 0.6 1.6-2.1 0.1M217.8 241.9l-1-1.6 3.5-3.7 3.6-2.1 0.7 0.3 0.3 1.8-1 1.7-4.6 3.9-1.5-0.3M208.7 239.9l0-1.6 1.5-0.2 1.3-1.5 1.7-0.6 1.7 0.6-1.5 1.9-3.2 0.4zM318.2 231.8l-0.9-0.8-1.5-3.7 0.4-1.9 3.5-1.7 3-3.9 1.5-0.4 3.2 2.2 1.4 4.6 3.2 1.1-1.3 1.9-0.5 1.8-2.9 0.1-3.1 1.3-4.5-0.4zM295.3 223.9l-3-1.1-3 0.4-3.1-1.9-2.4-3.5 0.8-1.9 1.6-1.8 3.1-1.6 1.5-0.3 4.5 0.5 3.1 2.7 1.5-0.6 1.5 0.6 2.5 4.3-1.4 1.9-4.1 2.4-1.5 0.1zM198 218.2l-0.2-2.3 1.1-1.9-0.2-1.9-1-2-0.8-3.8 1.1-2.3 1.1 0.3 1.9 1.9 1.6-0.7 1.5 0.1 3 2.7 1.2 1.8-0.2 2-1 1.9-1.5 1.3-6.1 3.1zM316.6 193l-1.5-0.6-1.4-1.8 4.5-6 1.5-0.8 1.5 0 1.5 0.8 1.9 2 0.6 2-2.3 4-4.7 0.7zM246.7 180.7l-1.1-4.1 1.5-8.2-1.9-4.3-2.7-1.9-1.9-2.4-1.5-0.6-1.4 0.9-1.7 0.3-3-2-1.4-0.4-1.7-1.9-0.5-2.2-2.5-3.4-3.4 1.3-1.5 0-0.9-2.2 0.2-4.2-2-2.4-4.6-1.4-7.6 3.2-0.7-1.5-0.6-4.3 0.1-2.2 2.8-7.8 3.3-3.1 2.4-4.4-0.6-6.7 0.7-2.2 2.9-2.3 1.9-2.9 2.2-1.6 0.6-2.3-0.4-4.6 1.1-6.9 1.1-3.3 1.5-0.9 1.1 6.5-0.3 4.6 0.7 0.8 0.7 3.8-1.8 6.8 1.6 4.5-0.4 4.5 1.4 2.3 1.5 0.2 3.1 3.5 3.8-3.8 0.5-4.4 1.6-2.3 1.7-0.6 1.2 0.6 0.8 2.3-0.6 4.4 1.6 0.5 1.6-0.6 1.2 2.3 1.8 1.1 3.3 7.7 1.3 1.9 3.2 2.4 0.6 4.3 1.4 4.3-2 6.4-0.1 4.2 1.9 6.2-1.1 4.1 0.3 2.1 1.1 2 0.5 6.2-1.3 4-1.5 0.9-7.6 0.2-1.5-1M44.9 372.1l-2-1.7-1.6 1.1-1.2-5.8 1.2-1.4 3.1 0.9 1.5-0.6 3.8-3.8 0.8-1.7 1.5-0.1 0.4 1.8-0.7 1.6 1.3 3.3-0.2 1.6 2.2 1.3 3.1 0 0.4 3.5M70.4 372.1l-1.7-0.8-0.4-0.8 2-3.2-1.6-4.6-1.5-1.2-3-0.2-3.1 2.7-1.5 0.1-3.2-3.3 0.2-3 1.5-1 3 0.1 4.6 2.5 3-1.1 0.9-2.4-2.3-3.2 1.7-1.6 0.5-1.7-0.5-1.6 0.2-1.7 2.6-4 1.5-0.3 6.1 4.3 1.5 0.1 3-3.6 2.3-1.4-0.5-1.6 6.2-8.3-0.3-1.7-1.6-0.8-1.5 0.1-1.5 2.1-1.5-1 0-1.3 1.6-2.4-3.1-1.7 0.3-3.4-0.4-0.9-1.5-0.2-4.1 2.8 0.9 1.7 3.2 0.9 0.6 0.8-2.1 2.5-1.5 0.9-1.6-0.4-1.8-1.4-0.4-1.6 1.3-1.7-0.6-0.7-1.5 0-1.5-1.3-1.5-2.8-1.6-1.2-1.5 0.8-1.2-3.2-3.3-3.4-4.6 1.2-1.5-0.8-1.6 3-2.9 1.7 1.4 1.2 2.1-1.2 1-0.4 0.5 0.4 0 1.6-2 4.3-1.6 0.3-3-2.6-6.1-1.2-3-4-1.6 0.2-1.5 1.9-3 1M124.9 372.1l1.6-1.6 0.6 1.6M129.6 372.1l-1.1-1.6 2.6-1.1 1.5 0.5 2.5 2.2M145.4 372.1l0.1-3.2-0.6-1.6 0.8-3.2-0.5-3.3 0.6-1.6 2-1.2 1.9 1.2 0.5 1.6-3.2 4.9 3.7 3.2 1.7 2.8 1 0.4M221.5 372.1l0.8-1.3 0.3 1.3M228.6 372.1l1.6-1.6-1.1-3.2-0.7-4.9-1.8-3.2 1.7-6.5-1.4-2-0.7-2.9 0.7-1.6 1.6-0.1 4.5-3.8 1.5-1.9 2.3-0.8 0.5-1.7-2.1-1.7 0.2-1.6 3.7-5.6 1.5 0.8 1.7 3.1-1.3 3.3 0.6 1.7-0.7 1.7 1.2 0.6 1.5-0.5 3.1-3 1.5 0.8 1.5 2.1 1.5 1 1.6 0.1 1.8 2.2 2.2 4.9 5.1 3 0.6 1.9-3.7 3.6-1.5 0.4-4.5-1.2-1.1 2.1 0.2 1.6-0.7 1-1.5-1.2-1.5-0.1-1.5 1-0.9 0.9 0 1.6 1.5 1.7 0.3 1.6-0.9 0.6-3.1-1.3-1.5 0.7 0 2.1 4.6 4.2 1.8 0.1M257.1 372.1l-0.9-1.6 0.1-1.6 2.5-2.7 1.6-0.4 1.5 0.2 0 2.9 0.9 3.2M260.7 372.1l-1.1 0M277 372.1l0.2 0M293.3 372.1l-2.3-4.8 0.1-1.6 1.2-0.9 3.6 2.5 4.5 4.8M296.3 372.1l-1-0.6-1 0.6M317 372.1l-1.9-1.5-1.5 0.6-1.5-0.8-0.6-1.5 0.3-3.2-0.6-3.3-0.6-0.6-4.6 1.2-2.2-0.6 0.2-4.8 3.5-7.4 1.5 0.9 1.6-0.7 3 3.9 3 1.2 1.5 3.7 4.6 3.7 0.2 2.8 1.3 3.2 0.2 3.2M329.3 372.1l-1.1-4.8-0.1-1.6 0.7-1.4 3.1 1.1 1.5-1.9 3 1.5 1.5-1 1.6-0.3 4.5 1.7M343 372.1l-1.3-1.6-0.7-3.4-1.5-0.6-0.7 2.4 1.2 1.6 0.1 1.6M36.8 362.2l1.3 1.9-1.3 1.6M344 353l0-0.9M36.8 290.7l0.7-0.2 0.3-1.8 0-5.2 3.5-3.4 4.6-1.6 1.5-1.3 3.1 1.4 1.5-0.8 1.5 0.4 3.1 2 3-1.1 0.5-0.9-0.5-1.7 1.5-0.8 4.6 2.3 1.5 2.2 1.5 1.1 3.1-0.8 0.7-0.5 0.8-2.3 3-0.5 0.8-0.7 0.7-2.2-2.1-1.4 0.6-0.9 3.1-1.3 1.3-1.3-0.4-1.8 2.1-2.2 0.7 0.4 0.4 3.6 2 1.1 1.5 0.3 1.5-0.5 1.5 0.3 1.5 1 1.6-0.2 1.2-2-0.2-1.8 2-2.8 3 0.6 1.6-1.8 1.4-3.2 0.1-3.3 0.8 1.5 0.7 0.2 1.5-0.1 1.5-1.2 3.1 0.2 3.2-0.9-0.2-1.2-1.5 0.1-2-2.5-0.6-3.7 2.6-1.4 1.5 0.8 3.1 3 3 1.3 0.7-1.8-0.2-1.9 1-1.4 3.1 1.5 0.7-1.9 2.3-0.8 3.1 1.8 1.5 2.4 1.5-0.7 1.5-2 1.5 0.3 4.6 3.8 1.5-0.3 0.7-0.8-0.7-2.2-1.7-1.5 0.2-1.4 1.5-0.6 1-3.5 2.1-3.6 1.5 0.6 1.5 1.6 1.5-0.7 3.1-4.7 1.5-0.6 3 2.1 1.6-0.1 3-0.5 1-1.5 0-3.8-1-1.6-1.5-0.2 0.5-1.9-1-3.8 0-1.9 0.5-0.5 1.5-0.3 3 1.3 1.6-1.1 1.5-0.2 1.2 0.8 0.3 2.4 1.5 0 1.5-1.3 1.6-0.4 1.5 0.6 1.4 4.4-0.8 1.9 0 1.8 1.4 3.8-2 3.7 1.5 1.8 1.5-0.3 4.6 0.3 1.5 0.8 0.8 1.1 0.7 4.2 1.6 0 0.2-2.4-1.4-5.5 0.6-3.7-0.2-3.8 2.4-3.7 0.3-3.8-2.2-1.9 0.5-1.9 1.5-1.9 0.4-1.9-0.9-1.9 1.4-5.8 0-1.9-3.1-5.9-0.2-1.9 5.2-5.5 1.2-2.4-0.1-2-1.5-2-3.7-4-3-2-1.1-2 2.1-4.1 1.6-0.7 1.5 0.1 1.5-1 1.5 0 1.2 1.6 0.3 4.3 0.5-0.2-0.2-2 2.8-3.6 3 0.2 4.6 1.8 1.5 2.4 0.4 3.2-0.7 4-1.2 2-0.5 6 3.5 1.7 0.6 2.2 5.3 5.9 3.3-0.7 0.5 0.7 4 7.7 2.3 2 0.9 1.9-2.4 1.9 2.5 3.8-0.9 1.9 0.1 1.9 2.1 0.9 1.5-0.4 0.5 1.4 2.5 0.8 1.6-1.2 3 0.4 3.1-2.8 3 0.2 0.4-3.1 2.6-0.2 1.6-0.7 1.5-1.7 6.1 1.4 6 3.5 3.1 1.1 1.5 1.3 4.2-0.9 3.4-2.3 3.1-1.2 0.2-2.2-0.8-1.9 0.4-1.9 1.9-1.9-1.7-5.8-2.3-3.9-0.6-2 0.3-1.9 2.6-2.3 1.5 1.2 1.5 0.2 0.7-1.1-0.2-2 1-1.9 3-2 1.6-2.5 1.5 0.8 3-1.6 3.1 0.5 3-1.2 6.1-0.7 2.3 0.7 0.8 1.7 1.5-0.4 0.4-1.3 2.6-2.1 4.6-0.9 4.4-3 3.2-2.9 4.5-1.8 3.1 1.6 3-3 1.6-0.2 3 2.6 6.1 0 3-1M344 268.6l-1.5 0.6-3-0.2-3.1 1.4-1.5-0.7-4.6 1.1-4.4 2.1-0.4 1.8-1.3 0.9-3-0.2-1.5 3.8-1.7-2.7 0.2-1.3 1.5 0.1 0.8-0.6-2.2-1.8-1.7 0.1-3.4 7 0.8 1.7 4.3 3.5 1.4 0.8 3 0.5 1.5 2.3 1.6 0.2 1.5-0.9 1.5-6 1.7-0.4 0.7 1.8 2.2 1.7 0.7 1.8-0.7 3.5 0.9 1.7 0.1 1.7-1 1.5-5 2 2 3.4-0.7 1.8-2.4 0-1.5 1.6-1.6-2.2-1.5 0.5-0.8 1.8-2.2 1.4-0.6 3.7-2 1.7-0.2 3.4-3.3 2.9-3 1.2-1.6 1.7-1.5 0.3-3-1.7-4.6 1.6-1.8-1 3.3-2.3 3.1-0.8 2.1-1.9 0.4-3.4 0.5-0.3 6.1 0.6 0.9-0.3 0-1.7-1-1.7-1.3-6.9-1.6-1.7-4.6-1.6-3 0.8-1.6-1.4-1.5-0.5-3 1.7-0.8 1 1.1 3.5-0.3 0.6-1.6 1.1-3 1-2.7 4.1-1.9 0.6-3 3.3-4 2.9-0.7 3.3 1.7 1.4 3 0.8 1.5 1.2 1.4 1.7 0.9 3.3 4.4 5 0.3 3.3 2.3 3.4 1.2 6.5 1.2 3.3-1.7 4.9-0.9 0.6-3-1.7-1.5 0.2-3.1 3.6-1.9-1.1-1.1-1.4-1.5-0.3-1.5 0.5-1.6-0.7-0.9-1.3 1-3.3-3.1-1.6-1.5-2.3-1.8-1-0.8-1.6 0.7-3.3 1.9-1.3 2.5-3.7-1-1.2-1.5 0.6-1.5-1.5-0.6-1.2 0.8-3.4-0.3-1.6-3.9-3.4 0.3-1.7 3.3-1.7 1-1.6 0.1-1.7-0.7-1.3-1.6-0.5-2.9-3.3-0.1-1.9 1.4-1.5-0.3-1.7-2.6-3.2-0.5-2-3.9-1.7-1.8-3.4 0.1-1.2 1.1-0.6-0.4-1.7-0.7-0.7-0.6 0.7 0.5 1.7-4.5 1.6-1.5-0.3-1.5-1.7-3.1 4.8-3 0.2-1.5-0.9-0.3-3.7-2-6.9 0.2-3.5-2.7-1.8-0.8-3.5-2-2.5-1.5-0.4-3.1 0.5-3-2.2-1.6-0.2-1.5 1.6-1.5 0.1-1.5-2.4-1.6 2 0.1 3.5-3.1 1.6-1.8 3.7-5.8 2.7-7.6 0.1-6.1 3.4-4.9-2.7-1.2-1.3-3 0.6-1.5-0.8-3.1-0.3-2.7 3.5-3.3 1.8-1.4 1.7-1.7 0.4-2.5-0.4-2.5-3.5 1.1-1.7 0.1-1.8-1.2-1.7 0.4-0.4 1.6 0.8 1.5-1.5 0.9-2.4 2.1-2.7 5.1-0.8-4.9-5.4-3.2 0.4-3.1-3.7-1.5 0-1.5 1.9-3.1 1.4 0.6 1.8 1.5 1.8-0.5 2.3-1.5-0.5-1.6-2.7-4.5 0-1.5-1.1-4.6-0.9-3-1.5-2.3-4.5-2.3-2.1-0.7 3.9-0.8 1.3-1.6 0.4-1.5-0.4-1.3-1.3 2.5-3.6 0.3-1.8-0.6-1.8-0.9-0.8-4.5-1-1.1 1.8 2.5 5.4 0 1.8-3 4.1-0.5 1.2 0.5 1.8 1.6 1.4 3-1.5 1.5 0.7 1.4 2.9 3 3.5 2.3 5.3-0.6 1.7 0.5 1.8 2.6 2.1 0.5 4.8 1.8 3.4-1.5 3.5 0.2 1.7 0.5 0.7 3 1.3 4-2 0.8-3.4 2.8-3.1 1.9 1.3 0 1.8 0.9 1.7 1.8-0.2 2.2-3.3 0.8-4.5 1.5 0.6 0.4 2.2 1.9 3.5 0.2 1.7-0.5 3.4-1.5 3.4 1.4 6.8-1.9 0.5-3-2.2-4.6-0.6-0.9 0.6-0.2 1.7-4.9 2.5-3.1-1.2-1.5 0.4-2 1.6-1.6 3.4 0.1 3.3-4.1 2.7-2.2 5.6-0.2 1.7 1.8 1.7 0 1.6-2.1 8.2 1.7 3.3-0.5 1.2-1.6 0.4-1.5-1.1-1.3-2.1-3.2-2.4-3.1-0.2-1.7-0.7-1.3-2.7-2.3-2.2-0.6-1.7 1.5-9.9 7.5-4.6 1.5-0.3 1.5 0.5 1.5 1.3 1.5-0.7 0.3-1.2-1.7-3.4 2.1-5-0.8-1.7 1.1-5.1-0.5-3.4-5-0.8-3.1 1.1-1.9-3.7-5.7-2.4-3 1.7-2.7 2.4 0.2 3.4-1.6 3.4 1.6 8.4 1.6 5.1-0.2 1.6-0.4 0.4-4.6 0.2-1.3 1.1 1.3 0.9 1.3 2.4 0.2 3.8-1.5 0.7-1.5-1.8-1.5-0.4-0.9 1 1.9 3.4-1 1-1.7 0.6-0.5 1.7 1.1 1.6-0.2 1.6-2.3 3.3 1 1.7 0.2 1.6-0.8 3.2 0.1 4.3 0.6-1 2.5-1.4 3-0.3 1.5 1.4 0.5 1.9-2 3.6-1.5 0.8-4.6-3.9-1.5 0.3-3 2.8-2.4 1.3 2.4 0.5 3.7 2.7-2.7 3.2M36.8 217.6l1.6 0.2 0.3 1.9-1.9 1.9M344 198.6l-2.2 1.8 2.2 2.7M36.8 192l3-0.2 1.5 0.4 1.6 1.6 7.6 2.6 1.5-1.8 3-6.7 1.5-1.3-1-4 1.1-2.8 1.5-1.2-3.1-1.2-0.4-0.8 0.2-2.1 1.8-4.1 0.6-4.1 2.8-4.1-0.4-0.6-1.5 0.5-3.1-0.5-1.7-1.5 0.2-6 0.9-0.2-2.4-1.4-0.4-2.9 0.4-2.2 3.1-2 0.2-2.1-0.3-0.8-2.1-1.4-3.9-6.4 0.9-2.2-1.5-8.8 2.1-4 1.3 1.8 0.1 2.2-0.6 2.2 0.4 2.2 1.8 3.7 1.7-1.5 0-2.2-3.1-4.4 2.9-1.2 4.6 4.4 1.4-3.2-0.4-2.2 0.3-4.4-0.8-2.3 0.4-2.2 3.1-6.8 2.1-1.4 1.3 1.4-0.1 2.3-2 2.2 0.6 4.5-0.8 4.5 1 1.3 3 1.4 1.5-0.1 1.6 0.9 1.1-1.3 1.9-0.2 0.6 2.4-0.2 2.2 2.6 1.7 1.6-0.7 1.2 3.4-3 4.4 1.8 0.6 1.5-1.1 1.9 0.5-0.5 4.3 1.6 6.8 2.1-2.5 1-2.5 1.5 2.1 0.4 2.5 1.1 2.1 1.5 0.7 3.1-0.5 0.7 1.9 2.9 14.7 0.2 2-1.4 4.1 0.1 2.1 2 1.5 1.6-0.4 3-3.5 0.5 2.4-0.7 2-2.9 4.1-0.1 2 1 2 0.3 2-2.8 8-3.3 3.9-1.1 3.3-1.5-1.6-1.6-0.2-1.5 0.7-1.7 1.7-0.7 2 1.5 1.9 1.3 3.9-1.9 3.2-1.5 4.5-0.2 3.8-2.9 2.2-3-0.1-1.4 1.7 0.6 3.8 2 3.7-1.2 1.6-1.5-0.8-6.1 2.5-4.6-3.9-3-0.9-2.5-2.2-0.6-1.3-1.5 2.5-2 0.7 0.1 1.8-1.1 0.8-1.5 0.1-1.6-3.6-1.5-1.7-1.5-0.9-3.1 0.2-1.7-0.5-0.5-1.9 0.7-1.4 4.6-2.5 0.4-1.8-1.4-3.8-0.5-4.1-1.6-1.6-1.5 0.5-1.5-1.4-1.5-0.2-7.6 2.8M344 141.4l-1.5 2.3-0.6-2.6 0.6-1.4 1.5 1.1M344 130.6l-1.5 3.4-1.5 0-2.9-3.7 1.4-3.9 1.5-0.6 2.8 2.3 0.2 1.6M36.8 114.7l0 0.2M38.6 84.9l1.6 4.7-1.9 0.3-1.5-1.9M45.8 84.9l-4.5 2.8-0.9-0.4 0-2.4M145.2 84.9l-2 2.2-1.5 0.8-1.5-0.1-1.9-2.9M165.2 84.9l-0.7 0.9-0.6-0.9M171.4 84.9l-2.3 3.7-1.9-1.3-0.3-2.4M236.4 84.9l1.6 4.7-0.2 2.4-1.1 2.3 0.7 2.3 1.7 1.8 6.1-0.9 3 3 3 1.5 1.6 2.1 0.6 6.2 1.8 2.3 1 2.2-0.1 2.3-1.4 2.2 1.1 2.3 1.5-1.7 0.3-2.8 4.3-4.8 9.1-3.7 4.6 2.8 0 3.4-2.1 2.3 5.1 11.4 1.5 0.6 1.6 3.8 1.5 0.7 1.5-0.7 1.5 0.6 1.4 3.3 0 2.2-1.4 1-1.5-0.3-1.5 0.7-1.5 3.5-1.4 1.5-0.6 2.1 2 2.2 0.8 2.1-1.4 4.2 0.9 2-0.3 0.7-1.4 1.4-4 2.1-3.8 4.3-1.5 0.5-3-0.3-1.5-1.4-1.6-2.9-1 1.9-0.2 2 2.8 3.8 0.7 2.4-0.9 2-0.5 4.1-2.2 4-1.2 4-2 0.5-1.8-0.5-4.3 1.6-6.1-1.6-3.6-2-1.6-4-0.2-2 0.8-10.2-3-4-7.6-1.7-3.1 0.8-4.5-2.7-3.1 1.4-3 5.6-4.6-0.9-3 2.2-1.5-2.4-0.1-2.4-3-4.2-3-1.3-3.1 1.2-3 0.4-0.8-6.5-0.9-2.1 1.2-4.3-0.4-2.1-3.7-2.1-1.2-6.5-2.9-6.5-0.4-0.4-3.3 0.4-1.8-2.2-1-2.9-3-2.1-2.7-3.8-0.4-1.4-0.6 1.4-0.9 0.4-1.6-0.4 1.5-2.2 3.1-0.8 1.6-1.9 1.5 0.6 3-0.2 4.6 3.7 2-1.4-0.3-6.8 1.3-0.5 3.9-4 1.4-4.6 0.8-1.1 3 1.4 1.6-0.2 0.6-2.4 2.7-2.3 1.2-3.6 2.2-1 0.7-7.1M176.7 371.4l-3-2.3-3.1-0.9-0.8-0.9 0.5-1.6 4.9 1.1 3-1.7 2.1 0.6 0.9 1.6-3.2 3.2zM334.9 370.5l1.1-1.6-0.1-1.6-1-1.1-1.5 0.4-0.5 2.3 0.5 0.9 1.5 0.7zM112.8 368.3l-0.8-1 0.8-0.8 2.4 0.8-0.8 0.1zM137.2 364.3l-0.5-1.9 2-2.5 2.1 0.9-2.1 3.7zM211.7 363.1l-0.5-0.7 0.5-0.6 3.4 0.6-3.4 0.7M153.9 361.7l-1.1-0.9 0.2-1.6 0.9-0.6 1.5-0.1 0.4 0.7-1.4 1.6zM166.1 359.3l-3.1-0.9-1.2-0.8-2-3.3 4.7-2.6 3.1 2.8 1.5-0.2 2.7 4.9-4.2 0.6zM47.4 356.4l-0.5-0.5-0.2-1.6 0.5-1.6 3.3 0.9 0.8 0.7-0.1 1.6-0.7 1-1.6-0.9-1.5 0.4M208.7 356.2l-2.5-1.9-1.9-3.2 2.1-5-1.3-1.6 0.5-7.5 3.1 1.4 4.5 1.2 3.1-0.8 1 0.8 1.6 3.3 1.6 1.6 0.3 3.3 1.9 1.6 0.3 1.7-0.7 2-1.5 1.2-1.5 0-3-1.6-1.6 0.9-1.5-0.5-1.5-3-1.5 0.1-2.6 2.5 1.2 1.6 0.1 1.6zM199.5 351.4l-0.4-2 0.4-0.5 2.3 0.5 1.1 1.7-1.9 1.4-1.5-1.1M85.5 349.4l1.9-1.6-1.9-1.3-3.4 1.3 3.3 1.6zM161.5 350.2l-3.2-4.1 0.9-1.6 2.3-0.6 1.5 1.6 1.5 3.8 1.6-0.9 1.5 0.8 0 1-1.5 0.1-3.4-0.9zM334.9 347.8l-3.8-1.7-2.3-2.9-0.5-2-1-1.2-3.1 1.7-2.5-0.5-0.3-1.6 1.4-3.4 1.4-0.6 1.6-0.1 1.2 0.7 3.3 5.3 1.6 0.6 1.5-4.2-2.3-1.7 0.8-0.6 1.5 0.5 1.5-0.9 1.5 0.4 1.5 1.5 1.7 0.8-0.1 2.3-3.1 1.3-0.7 3 0.5 1.6-1.1 1.7zM260.4 346.3l-1-1.8 1-1.1 1.5-0.5 1.2 1.6-0.1 1.6-1.1 0.9zM307.5 336.5l-0.2-0.3 0.2 0.3M321.2 336.4l-2.9-1.8 1.4-1.1 1.5 0.5 1.2 2.2zM150.9 331.4l0.2-1.8 1.3-1.8 1 1.8-0.3 1.7-0.7 0.4zM268 331.5l-0.8-1.9 0.8-0.9 2.2 0.9-1.1 1.7zM61.1 326.5l0.4-1.9 1.1-0.5 0.9 2.2-0.9 0.8zM319.7 324.8l-1.2-1.9 1.2-0.3 2.1 2-0.6 0.6zM239.1 323.8l-1-0.9 0.9-3.4-0.4-1.6 1.8-5.1 1.7-0.4 0.8 0.4 0.7 1.7 0.1 5-1.6 2-1.5-0.6-0.7 2zM204.1 321.3l-3.6-5.1 0.5-2.4 1.6-0.2 3 0.9 0.8 1.7-0.2 3.3-0.6 1.2-1.5 0.6M126.5 316.4l1.3-1.9 0.5 0 0.3 1.7-0.6 0.7-1.5-0.5M322.7 314.8l-1.5-0.6-1.1-1.4 0.9-1.7 1.7 0.4 0.7 1.3-0.7 2M88.5 313.6l1.5-0.8 0.8-10.2-2.3-3.4-1.6-0.1-1.2 1.7 1.1 3.5-2.9 0.5-1.9-0.5 0.5 1.7 4.8 6.8zM193.4 312l-1.5-1.6 0.6-2.7 4-2.1 1.5 0 3 0.9 1 1.2 0.6 1.7 0 2.4-3.1 0.5-1.5-1.2-3 1.1-1.6-0.2M195 301.3l-0.7-0.5 0.9-3.4 1.3-1.5 1.5-0.7 0.7 2.2 1.6 1.7-3.8 2.6-1.5-0.4M325.8 301.1l0.4-3.7-0.4-0.5-1.6 0.5 1.3 3.4zM117.4 282.6l3.1-0.9 0.3-1.7-3.4-1.8-1.2 1.8 0 1.7zM125 280.9l1.5 0.2 1.2-1.1-1.2-0.8-2.3 0.8zM269.5 278.8l1.5-0.1 0-1.4-1.5-2.7-0.2 3.6zM277.1 276.6l1.8-1.9-0.3-1.8-2.1 0-1.6 1.8 1.7 1.8zM289.3 273.6l1.5 0.4 2-4.6-0.5-1.3-3 2.5-0.3 2.3zM296.9 273.3l1.5 1.2 1.5-0.3 0.5-1.3-0.7-1.8-2.8-1.8-1.6 0.1-0.4 1.7 1.7 1.8zM202.6 271.3l1.5 1.3 1.5-1.3-0.8-1.9-2.2-3.1-1.6 0.3-0.7 1 2.2 3.5zM211.7 271.4l0.6-2-2.1-5-1.7-0.4-1.4 1.8 1 3.6 3.3 1.7zM309 272l1.6-0.2 0.9-2.4-0.9-1.3-1.6 1.1-0.4 1.9zM102.2 253.7l-2.3-2.3-0.8-1.9-1.5 2.9-7.6-4-3-0.1-0.7-0.6-0.7-3.7-2-3.7-1.7-1.8 0.8-1.9 2.8 0 1.5-1 3 1.4 1.5-1.1 1.6-0.2 0.4-0.9-1.6-1.9-0.1-1.9 1.3-0.5 2.3 2.4 3.4 1.9 0.3 4.5 1.6 0 1.2 1 0 1.9 1.2 1.8 3.6 2.5 1 1.2 0.4 1.8-1.4 1.9 0 3.1-3-0.9zM94.6 246.2l1.6-0.3-1.6-2.2-1.5-0.1-0.3 0.4 1 1.9zM337.9 240.8l1.6 0.6 0.9-1.1 0.7-1.8-1.3-1.9-1.9 0.6-0.4 3.1zM306 236.7l-0.3-1.9-2.7-3.6-3.1 1-3-0.9-1.6 0.6-0.6 1 0.6 1.1 1.6 0.2 4.5 0.4 1.6-0.5 2.9 2.5zM152.4 229.6l-1.7-2.3 1.5-1.9 1.7-0.1 1.1 3.9-1.1 0.9zM176.7 214.1l-1.5-0.1-1.2-1.9 0-2-0.9-1.9-4-1-1.5 0.3-1.4-1.2 0.5-2-0.6-1.9-4.8-5.9-0.5-2 0.7-3 1.5 1.3 1.5 3 1.6 0.6 1.5-0.5 1.5-2.2 3-1.3 1.6 0 3-3.6 3.1 4.3 3 0.2 0.5 3.2-0.5 1.6-1.5 1.1-1.5-1.1-1.6-2.5-2.6 4.8 1.1 1.4 1.2 0.6 0.1 1.9-1.3 2 2.2 3.8-0.7 2.7-1.3 1.2zM114.4 211l-0.7-0.9-0.1-1.9 0.8-1.8 3.2 1.8-1.7 2.3zM303 209l1.5 0.2 1.7-1-0.2-4.7 1.5-2.9 1.6-0.2-1.6-0.1-1.5-1.3-1.5-8.3-1.5-1.8-0.5 1.7-2.6 2.7-1.5 1.3-1.6-0.1-1.5 2.6-1.6 5.3-0.1 1.9 3.3 2.2 1.5 0.2 1.5-0.9 1.5 0.9 0.8 1.5zM93.1 206.8l-0.8-0.5 0.8-0.4 0.4 0.4-0.4 0.5M331.9 205.9l1.5 0.1 2.4-1.7 0-3.9-0.9-2.8-1.2-1.1-0.3-2.4-1.5-1.5-5.4 3.9-0.3 2 1.6 3.9 2.6 1.9zM77.8 204.3l1.6-0.2 2.3-1.7-0.8-1.7-1.5-0.4-1.6 0.9-0.6 1.2zM108.3 201.5l-0.9-1.1 0.1-1.9 0.8-1 1.5-0.3 1.2 1.3 0.7 1.9-1.9 1.4-1.5-0.3M181.3 185.3l-0.4-0.7 0.4-2.5 0.9 0.5-0.5 2zM199.5 168.9l-0.8-2.6 0.8-1.1 2.1 1.1 1 2-1.6 0.8zM301.4 151.2l-1.5-1.7-1.5-0.5-1.1-1.5-2-6.7 1-1.8 2.1-0.9 3 2.5 0.4 0.5-1 4.3 1.2 4.2zM293.8 147.9l-1.1-0.4 1.1-0.2 0 0.6M47.4 145.7l-1.5-0.7-0.8-1.7 0.8-6.6 0.8 0.1-0.6 4.3 1.4 2.2 0.2 2.1zM306 147.3l-1-1.9 1.4-4.3-1.9-3.5-1.2-0.8-0.2-2.1 1.1-2.2 2-2.2-0.8-6.6 2.1-3.1 4.6-0.1 0.4 1-0.1 4.4-3.1 4.4 1.9 4.4 1.7 2.1-0.8 1.6-1.8 0.6-2.1 2.1 1.2 4.3-1.9 1.5zM319.7 144.5l-1-1.2-0.5-4.3 1.5-3 3-1.9 3.1 1.2 1.4 3.7-3 5.7-3 0.1zM334.9 137.2l-0.9-2.5 0.9-1.6 1.5 0.8 0.4 0.8 0.6 2.1-1 0.8zM70.2 135.1l3.9-9.2-2.3-0.8-0.4 3-2.3 2.2 1 4.4zM184.3 124.3l2.6-2.8-2.6-2.1-1.5 2.1 0.3 2.2zM44.4 117.6l0.1-2.8 2.9-1 3.5 1-0.4 2.6-3.1-0.6-3 0.8M193.4 118.1l1.6-0.5 0-1.2-1.6-1.1-1.2 1.8zM166.1 114l-0.4-1.4 0.4-2.7 0.5 2.7zM38.3 111.2l-0.6-3.1 0.6-1.8 1.5 1.1 0.2 0.7-1.7 3.1M115.9 109l-1.4-3.2 1.4-0.6 1.7 0.6 1.3 1.9-1.5 1.7zM169.1 100.6l-2.4-4 0.1-2.3 2.3-2.1 1.5 0.9 0.8 1.2 0.2 2.3-1.3 2.3zM111.3 96.8l-1.1-0.2 2.5 0-1.4 0.2M158.5 96.9l-0.3-2.6 0.3-0.4 1.4 0.4 0.9 2.3-0.8 0.9zM106.7 94.4l-1.1-2.4 1.1-2 1.6 1.9-0.3 2.4zM36.8 244.3l0-4.3M344 155.1l-1.5-0.2-6.1 3.4-3-2.1-1.5 0.5-1.6 2.9-1.5 0.4-1.5-2.6-1.5-0.2-0.4 0.8 0.4 2.5 3 3.7 1.5-1.1 1.6-0.2 3 1.2 1.5-1 1.5 1.2 1 2 2.1 0.6 2-0.6 1-2.7M344 92.6l-0.6 1.7-0.5 4.6 1.1 0.9M279 84.9l0.3 4.7 0.8 1.2 4.6 4.1 3 1.2 1.6 0 3-0.8 1.4-1 1.6-2.7 3.1 0.5 1.5-1.9 0.3-0.6-2.4-4.7M328.3 84.9l0.5 0.8 1.5 0.2 1.2-1M332.2 84.9l1.2 1.1 1.5-0.1 0.4-1M217.8 325l1.5 0.8 1.5-0.9 0.4-0.3 0-1.7-1.9-1.3-1.5 0.1-0.2 2.9zM226.9 323.4l1.5 0.6 1.5-1.1-0.4-1.7 0.5-1.7-3.1-2.2-0.5-1.1 1.4-3.4 0-1.7-2.8-3.4 0.3-1.7-0.3-1.7-1.1-1.6-6.1 0.3-1.5 2.9-1.6-0.9-1.5-3.3-1.5 1.4-0.8 2.9 0.1 1.7 0.7 1.3 3 2.8 1.6 0.2 0.8 0.8-0.2 3.4 1.1 1.7 2.8 1.5 4.6-0.9 1.3 4.4zM257.3 215.2l1.5 0.6 1.6-0.9 1.5 0.1 1.5 0.7 1.5-0.8 2.1-6.7-0.1-1.9-1.2-2-5.3-4.1-1.6-0.5-3 0.3-3-3.7-1.6 0.1-1.9 6 0.3 1.9 2.2 5.8 4.4 3.9zM242.1 211.1l1.5 0 0.8-1-0.2-1.9-2.1-4.3-1.5 0.8-0.5 1.6 0.1 1.9 1 1.9zM231.5 200.6l1.5 0.9 1.5 0 1.5-1.6 1.6-0.3 1.5 1.5 1.5 0.1 0.5-0.8-0.5-1.9 1.5-4 0-5.9-1.5-3.5-1.5-1.5-3.1-1.5-0.3-1.5 0.4-2 1.5-1.8 0.9-2.3 0.6-4.1-1.5-2.3-4.6-1.1-1.5 0.3-2.3 1.1-1.8 2-1.5 2.1-0.5 3-1.5 1.2-0.8 1.9-1.2 4 0 2-1.8 4 2 2-0.3 3.9 3.6 1.2 5.8 4.7zM160 179.3l1.6-0.7 1.4-2-0.5-2.1 0.5-2.9 1.5-1 1.6 0.4 1.5 2.4 1.5-0.8-0.8-2.2-1.7-2-0.2-2.1 1-2 1.7 0.7 1.5-0.1 3.1 1.4 1.1-2-0.4-2.1-1.3-2.1 2.1-2.1-0.7-6.2-0.5-2.2-3.4-3.5-2.9 3.5 0.8 2.2-0.1 2.1-2.3 2-3.1-0.8-2.8 11.2-0.2 2.1 2 2-2.2 4.1 0 4.1zM295.3 176.7l1.5-2.2-1.5-2-0.9 2 0.9 2.1zM313.6 175.1l6.5-2.6 2.5-4.1 0.7-2.1-0.1-2-3.5-6-3.1 0-3-1.4-1.5 0.5-1.5 1.1-3.1 4.1-1.5 0.8-1.5 2.3-4.2 2.7-1.5 2 2.6 3.4 3.1-0.6 3 0.4 3.1-0.3 2.3 1.2zM128 170.8l2.3-0.4 1.2-2 0.8-2.1-0.7-4.1-0.5-2-1.5-2-1.6-0.2-2.8-4.1-1.2-2.1-0.5-3.5-0.3 3.5-1.7 4.2 2.6 2 0.2 2.1-0.8 2.1 0.1 2.1 1.4 4.1 2.4 2zM178.2 165.1l0.7-0.8-0.7-2.7-0.8 2.7zM334.9 101.8l0.9-0.6-0.6-2.3-0.4 0-0.3 2.3z" fill="none" stroke="#9a8a8a" stroke-width="0.75" stroke-dasharray="1.6 1.2"/>
<path d="M280.1 260.6l0-0.6 1.6-0.1 0.7 0.5-2.3 0.2M254.3 254.7l-1.5-1.7-1.2-3.5 1.2-1.3 2.4 1.3-0.4 3.7zM289.3 253.8l-2.9-2.4-1.5-3.7-0.3-1.8 1.2-1.9 1.9-0.8 4.6 2.7 1.7 1.8 0.5 1.8-4.1 1.9-0.7 1.8zM289.3 220.4l-1.1-0.7 0.1-1.9 2.5-2.4 1.8 2.4-1.8 2zM248.2 178.7l-0.6-2.1 0.6-2.5 0.9 2.5-0.8 2zM251.2 167.1l-1.4-2.8-0.1-4.6-1.5-0.5-4.6 0.1-0.6-1.3-0.2-2 0.8-2 1.6-1.3 1.5-0.2 2.7 1.4 5 6.2 0.8 2.1-0.9 3.5-3.1 1.4M237.6 154.8l-0.7-9.4-2.3-4.3-1.6-0.8-1.5-2.1-1.6-0.1 0-1.9 1.6-0.8 3 1.3 1.5-0.8 1.6-2.1 2.1-1.3 2.3-4.4 2.3 0 1.5 4.4-2.2 6.5 0.6 2.1 2.3 2.2-2.7 2.1-0.2 4.3-3.7 2.1-0.8 1.7-0.9 0.4zM254.3 143.5l-1.1-0.2 1.1-0.3 0 0.5M223.9 134.9l-1.6-2.3 0.3-2.3-1.5-4.4 1.2-1.1 0.1-3.3 1.5-1.9 3.8 8.5 0.1 4.4-0.9 1.6-2.3 0.6zM72.9 372.1l1.9-1.2 1.5 1.2M90.4 372.1l-1.9-3-1.7-0.2 1.7-0.1 1-1.5 0.5-2.8 1.5-0.9 1.6 0.1 2.4 2 0.5 1.6-1.4 2 3 0.5 1.4 2.3M36.8 293.7l1.5-0.2 2.6 2.2 0.2 3.4-1.3 5.2-1.5 1.3-1.5 0M344 261.9l-3 0.2-3.1 2.9-1.5-0.2-1.5-1.1-1.5 0.4-1.5 1.5-3.1-0.2-3 3.4-3.1-0.5-1.5 0.5-1.5-1.3-2.4-5.3-0.1-1.8 1.8-3.6-1.6-3.6 0.8-1.2 1.5-0.8 1.5-2.8 10.7 2 3-2.1 3 2 3.1 0 3 1.5M344 225.9l-1.5 0.1-0.6-0.6-0.1-1.9-2.3-3.8 3-3.1 1.5-0.9M36.8 197.7l1.1 0.8-1.1 0.3M344 189.3l-0.4-0.7 0.4-1.2M230 84.9l-0.5 2.4 1.4 7-0.9 2.3-0.4 11.5 0.9 6.7 1 1.1 1.5 0.5 1.5-0.4 3-5.7 3.1-1.6 2.3-2.9 2.3-0.8 0.7 0.8-0.7 1.8-1.6 0.5-0.5 2.2 2.1 1.8 2.4 5 4.7 4.4 0.7 2.2 0.2 6.6 1.1 1.4 3 0 1.4 0.8 1.7 5.3 2.7 1.2 2.8 4.3-0.3 2.1-2.2 1-2.6 5.4 0.7 4.2-1.2 4.1-0.1 4.2 1.5 6.1 0.3 4.1 1.1 2.1-0.4 2-3.9 4.6-6 2.1-6.1-2.1-1.5-1.7-0.8-4.9 0.7-8.2-0.8-2.1-3.7-3.9-4.6-0.5-3-1.1-3.1 0-3-3.9-4.6-0.1-6-1.5-1.4-1.4-0.2-2.4-1.5-2.2-4.8 2.5-1.3 2.3-1.5 1-3-2.8-1.6 0.6-0.7-1.1 0.7-3.8 1.6-1.5 0.3-1.1-0.3-2.6-1.6-1.7 1.6-0.6 1.8-5.8-0.6-4.4 0.3-3.8 1.5-2.5 1.5-0.9 1.1-1.6 0.1-2.2 1.9-4.5-1.5-4.5 1.5-3 1.5 0.2 1.5-5.5 1.3 1.5 0.9 2.3 0.9 0.6 2.1-2.9 0.4-2.3-0.7-4.6 3.3-9.3-0.1-2.4M103.7 360.6l-1.5-3-3.1-0.4-2.8-1.3 1.1-1.6 0.2-1.6-1.2-3.3 1.2-2.4 1.5 1.1 1.6 2.1 0.7 2.5 1.8 1.6 0.5 2.5 1.5 0.7 0 2.7zM246.7 356.2l-1.1-0.3 1.1-1.9 0.6 1.9-0.6 0.3M105.2 352.4l-1.9-3 0-1.6 1.9 0.1 1.5 1.5-0.8 1.7zM141.7 345l-3.4-2.1 0.8-1.7 2.6-0.7 0.8 0.7 0.2 1.7-1 2.1M102.2 339.6l-1.2-1.7 0.9-1.7 3.6-1.6 0.1 1.6-1.9 3.7zM134.1 339.7l-1.2-1.8 0-1.7 1.2-2.8 1.5-0.7 1.5 3.5-1.5 3-0.9 0.4zM99.1 337.9l-0.4 0 0.4 0M103.7 327.1l-1.7-2.5 1.6-1.7 0.1-2.8 1.5-0.6 1 1.7-0.6 1.7 2.8 1.7-1.7 2.3-1.5 0.3zM48.9 317.4l-1.5-2.1-3-1.1-0.9-1.4-0.4-5.1 0.5-1.7 0.8-0.9 1.5 0.4 1-1.2-1-1.2-1.5-0.4-0.9-1.9 2.4-4 1.5-0.3 0.6 0.9-0.3 1.7 1.2 3.8 1.6 0.7 2.4-1-1.2-3.5 1-3.4 0.8-1.3 3.1-0.3-0.2-1.9 3.2-2.7 1.5-2.1 1.5-1 3.1-0.4 4.5-2.3 4.6 0.7 6.1-0.7 1.8-2 0.6-1.7-0.8-1.8 0-1.7 1.3-1.8 1.7-1 1.5 0.2 1.5 1.7 3 1.8 3.1-2.3 1.5-0.2 2.3 1.6 1.1 1.7-0.4 2 1.3 1.5-1.3 1.8-0.3 3.5 1.9 4 1.5 1.7 3-1.5 1.5-0.1 0.4 1.1 0.1 3.5-0.7 3.4 1.5 3.5-0.9 1.7-4.9-0.2-3.1 2.1 0-2 1.8-1.6-3.3-0.4-1.5-3.3-1.5-1.7-4.6-1.4-3 0.1-1.5-0.5-3.1 1.5-3-0.3-6.4 2.5-1.2 1.7-1.2 3.5 0 1.7 1.2 0.8 3 0 1.2 0.9-0.9 3.4 0.8 1.7-1.1 0.7-3-2.2-1.6 0.7-1.5-0.2-0.8-2.4 0.4-1.7-1.1-0.6-3 0.7-4.6-1.1-1.5 1-3.1 4.8-1.5 0.8-1.5-0.1-1.6 3zM149.3 317.2l-0.7-1 0.3-1.7 0.4-0.2 0.5 0.2-0.5 2.7M106.7 311.2l-1.5-0.3-1.5-1.6 1.5-1.2 3.1 0.9 0.6 0.4-0.6 1.7-1.6 0.1M283.2 306.7l-3.1-1.6-4.5 0.7-3.4-5 0.3-4-1.5 1.7-0.7-2.8 2.2-3.2 3.1 1.6 3-0.7 3.1 0.8 2.4-0.3 4.7-5.2 0.5-3.3 0.2 1.6 1.9 3.5 0.2 1.7-1.7 8.6 1 1.8-1.6 2.5-1.6-0.8-3 1.9zM137.2 301.2l-2.5-2.1-0.9-3.4 0.3-1.4 5.4 3.1 0.4 1.7-1.2 2zM318.2 297.9l-3.1-1.2-3 0.4-4.6-2.1-3-0.3-2.4-4.2-0.1-1.8 1-0.7 3 0 3-2.9 1.6 0.2 4.5 3 3.1 0.9 1.3 1.3 1.3 3.4-0.1 1.8-1.7 1.7zM120.4 296.1l-1.5-0.5-0.6-1.7 0.6-1.5 3.1-0.3 1.5-0.7 1.5 0.3 0.9 0.5-0.9 1.7-1.5 1-1.5 1.9zM275.6 287.2l-1-3.7 0.5-3.5 3.7-1.8 1.3-1.4 1.6-0.1 3.8 5-5.4 3.4-1.5 0.3-3 1.8M185.8 271.4l-1.5-4-1.5-0.7-1.5 1.3-4.6-0.1-4.6-3.2-0.5-0.7-0.1-3.6-2.4-3.5-0.8 1.7-5.5 5.4-0.1 3.6-1.2 1-1.5 0.8-1.5-0.1-6.1-1.7-4.6-9.2-1.6-1.6 0-5.4-1.2-3.7 0-1.8 1.3-1.4 4.6-2.9 4.5-1 1.5 0.5 6.1 3.9 3.1 2.8 2 3.6-0.4 1.8 1.4 3.4 4.6-3.3 4.5-6.5 3.1 1.1 1.5 1.8 9.1 1.9 0.8-0.2 0.7-3.9 1.6-0.5 3 0.7 3.9 0 0.4-1.8-3.8-3.7-0.5-2.2-1.5 1-1-4.4-1.1-1.8-1-1-1.5 1.2-1.5 0.2-0.8-2.3 0.2-1.9 2.9-5.6 1.3-5.7-0.1-1.9-1.4-3.8 2.1-3.9-0.9-5.8 4.3-3.9 3 1.1 3.1-1.8 1.9 0.7 2.7 3.8 3 0.8 1.5 1.3 0.7 7.7-0.3 1.9-4.9 0.9-1.2 1-1.3 1.9 0.6 3.8-1.2 1.1-6.1-0.3-1.2 3 0.5 1.9 0.7 0.5 6.1 0.5 6.1 1.5 1.5 1.2 1.5-0.2 4.6-2.1 1.5-2 1.5 0.3 1.6 1.4 1.5-0.6 2.4 1.3 1.2 3.8 1.4 1.8 0.3 1.9-2.3 3.8-1.5-0.4-1.5 0.5-4.6 2.7-4.5 0.1-3.1-2.3-1.8 1.1-0.7 1.9 1.3 3.6 3.6 1.9 0.6 1.8-0.4 3.6-1.1 3.3-1.5 0.9-1.5-0.8-1.5-0.1-7.6 1.9-1.5-1.6-1.6 0.3-4.5 3.8-1.6 0.2-1.5 1.1-3 5.1-1.5 0.3zM281.7 271.3l-1.6-1.2-1.5-0.2-7.6 1.2-1.5-1.1-4.6-0.1-2.7-2.3-0.7-1.8 0.7-1.8-1.8-2-3.1 2.2-4.5-0.6-3.1 1.7-1.5-0.5-1.5-1.8-3.2-0.8-0.8-1.8 0.1-3.6-0.7-1-1.5 0.1-1.4 0.9-0.2 1.8-1.4 2.5-1.6 1.2-1.5 2.3-1.5 0.3-1.5-1.1-0.7-1.6 0.3-3.6-1.2-0.3-0.8-1.5 0.4-3.6 0.4-1 1.6 0.3-0.5 2.5 0.5 3.2 0.4 0.4 2.6 0.1 2.5-1.9 0.7-1.8-3.2-6.8 0-2.3 1.5-1.9 0.5-3.7 2.6-2 1.2-1.7 1.8-6.9 0.5-4.3 0.8-1.9 4.8-2.8 1.5-0.3 4.6 2.2 3 0.7 1.5 1.7 1.6 0.4-0.3 5.6-0.9 1.9-1.9 1.2-3 0.6-0.5 1.9 0.6 1.9 2.5 1.8 5 0.7 1.5-0.4 3.1-2.9 1.5-0.3 5.6 2.9 3.5 0.9 3-2 3.1-0.1 3-1.3 3.1 1 3-0.5 3 1.6 3.1-1.4 6.1 2.8 4.5 0.1 3.1 2.7 1.7-0.1 1.3 1.4 0.8 4.1-0.8 1.3-1.5 0.8-1.5 2-1.5-0.6-1.6 0.5-1.7 1.5-1.4 1.8-0.8 5.4-2.1 2.4-3.1-1.5-3 1.7-3.1-2-1.5 0.5-3 3.6-3.1 2.3-1.5 2.9-1.5 0.3-1.5-1.1M125 265.9l0-2.4 4.1-1.3 0.5-0.9 0.6 2.7-0.6 1.6-1.6 0.8-1.5 0.1zM275.6 236.9l-0.8-0.3 0.8-0.5 0 0.8M325.8 236.7l-1.6-0.8-4.5 0.3-1.5-0.7-6.1-3.4-2.7-2.9-0.4-1.9 4.1-3.8 1.9-5.7 1.6-0.9 3.1-3.4 3-0.6 0.6-0.8-0.6-1.3-1.5-1-0.2-1.6 1.7-1.5 1.5 0 0.7 1.5-0.1 1.9 2.5 2.5 2.6 1.4-0.3 3.8 1.2 1.9 2.6 2.1 1.5 4.7 1.5 0.8-0.6 1.9-0.9 0.4-2 5.2-1 1.1-6.1 0.8M292.3 227.7l-3-2-5.3-2.2-2.9-7.6 0.7-1.9 1.4-0.8 1.5-2.6 1.5-1.3 3.1 0.4 4.5-1.2 3.1 1.2 3 0 3.1 3.1 3 1.6 3 5.3-3.3 5.7-2.7 1.9-6.1-0.6-3.1 1zM59.6 219.8l1.5-2.7 0.9 2.6-0.9 0.5-1.5-0.4M64.2 216.5l-1.6-1.2-3 0.5-3-3.7 0.7-2-0.7-3.8 1-5.9 2.4-1.9 1.1-1.9 1.5-0.3 1.6 0.9 0.8 1.3-0.9 3.9 3.1 4.3 0.5 3.4-2.1 3.9 0.1 2.4-1.5 0.1M281.7 207.5l-0.4-3.2 1.9-2.1 0 4.3zM68.7 205.1l-0.7-0.8 1.3-1.9 2.5-0.2 0 2.2-1.6 1.1-1.5-0.4M41.3 200.5l-0.9-0.1 0.2-1.9 2.3-0.1-1.6 2.1M313.6 196.9l-3.4-4.3 4.9-8 4.6-4.2 1.5-1.1 1.5 0.2 1.8 3.1 1.3 1.2 1.5 0.2 3-0.7 1.6-2.6 1.5 0.6 0.5 1.3-0.5 2.4-5.9 7.6-3.3 2.6-3 0.6-4.6 2.2-1.5 0.1zM91.5 192.2l-1.5-1.6 1-2-0.4-4 0.9-3.4 1.6-0.3 1.5 0.7 1.9 5-1.9 4.8-1.5 0.7zM79.4 184.4l0-2.3 4.5-1.5 0.3 2-3.3 1.1zM64.2 181.3l-0.6-2.7 0.5-2-0.4-6.2-0.5-2-1.5-2.1 0.7-2 1.8-1.5 1.5 0.7 3-2.1 3.1 1.1 3-1.6 0.8 1.3 0.2 2.1-1.4 2-0.4 4.1-1.7 6.2-0.5 0.7-3.1 0.9-3 3.7zM80.9 177.7l-1-1.1-1.6-4.1 0.4-2.1 0.7-0.8 4.5-2.3 1.6-1.4 1.5 1.8 1.5-0.3 3-7.6 1.6 0.6 1.5 5.9-3 2.1-1.6 2.8-1.5 0.3-3 2.4-1.6 0-1.5 2.9zM80.9 160.5l-1.5-2-1.8-0.5-1.2-4.1-0.1-2.1 3.1-0.9 3 0.7 1.5 1.8 1.6-0.1 0.8 0.6 1.2 2.1-2 0.6-1.6-1.4-1.5 1.4-0.9 1.4 1.3 2.1-0.4 1.2zM64.2 156l0-2.3 0 2.3M68.7 143.8l-0.6-0.5 0.6-2.3 0.9 2.3-0.9 0.5M289.5 372.1l-0.2-1-1 1M310.1 372.1l-1.1-2-1.5 0.3-0.2 1.7M36.8 359.6l3-0.9 1.2-2.8-1.2-2.8-3-2.3M344 313.6l-1.5 0.2-1.5-3.3-1.5-0.1-1-2.7-0.6-0.2-4.5 1.9-3.1-0.1-4.3 5.2-1.3 3.4 0 1.6 0.8 1.7 3.3 3.4-0.4 1.7 0.4 2.2 4.6 0.6 2.6-4.5 1.1-3.4 0.8-0.7 1.6 1.2 1.5-0.3 1.5-1.5 1.5-0.4M344 299.9l-1.3 0.9-1.7 2.5-2 1 0.5 2.7 1.5-1.3 3-0.6M36.8 275.4l1.5 0.7 1.5-0.5 3.1-4.2 6-1.1 4.6 0.8 6.1-0.8 3 1.9 3.1 0.8 1.5-0.6 1.5 1.2 1.5-0.7 1.6-4.1 1.5-1.4 1-5.2-0.2-1.8-2.2-1.8-0.1-1.8-2.1-3.6 0.5-2.4 1.6 0.4 2.3-1.7-0.2-1.8-3.7-3.9-0.6 0.2-0.9 3.6-2-1.7 0.1-1.9 1.4-1.8 1.9-5.6-1.4-2.4-4.5-0.2-4.6 5.6-3 0.2-3.1 2.3-1.5 0-1.5 1.3-1.6-0.2-1.7-2.9-0.1-1.8-1.4-1.9-1.3-3.2-3.1-0.6-1.5-2.3-3-0.7M344 274.3l-0.5 0.4 0.5 2.1M344 150.7l-4.5-0.3-3.1 2.2-1.5-0.1-7.6-3.2-1.5 0.5-1.6 1.7-6 2.2-3.1-2-1.5-0.3-1.5 0.8-1.5 2-6.1 0.3-1.5 5.8-7.7 0.3-1.5 0.6-5.3 3.1-2.3 4.4-1.5 0.2-1.5-0.9-1.5 0.8-1.6 1.8-3 1.4-0.9 2.5 2.6 6.1 0.3 2-0.5 1-1.5-2.4-1.5 1.6-1 3.8 2.5 1.6 1.5-0.4 2.4-3.2 2.2-0.8 4.5-0.3 4.6-2 3 0.2 3.1-0.8 4.6 1.5 3-2.8 3-0.4 1.6-1.1 3 1.1 4.6-3.5 3.4-1.2 2.6-4.3 3.1-0.1 3 1 1.6-0.6 1.5 0.2 4.5 2.5 6.1-0.3M59.4 84.9l-0.9 7.1 2.6 7.8 1.5 1.5 1.6-3.5 0.7 1.1 5.3 4 3.1 0.5-1.8 4.7 0.3 1.1 2.9 5.6 1.6 0.1 3.1 5.7 4.5-1.2 3.8-2.3 0.1-2.3 0.7-0.8 0.5 3.1 1.2 2.2 0.5 4.4 3.9 9.6 1.5 0 1.5-0.7 2-2.3 1.1-2.3 1.5-1.1 1.5 2.6 3.6 3-0.1 2.2-0.5 0.4-1.5 0.3-1.5-0.5-1.5 1-0.5 5.2-0.9 2.2 2.2 4.2 0.7 0.4 3-0.6 1.6 1.7 0.6 2.8 0 4.2 1.5 2-1.1 2.1 0.5 3 1.5 1.7 1.5-0.3 2.6 1.8 2 5.8 3 0.1 0.1 2.3 1.2 2.1 3.3-2.4 1.9 0.3 1.1 1.1 3.1 0 1.5 1.3 3 0.5 0.9 3.2-0.8 2 3 3.1 1.5-1.8 1.5-0.3 1.5 2.3 1.2 0.7-1.2 1.5-3.2 0.5-2.7 2 0.4 2 1 0.5 1.5 2.2 1.5-1 1.5-4.4 4.6-3.9 1.5-0.1 3.1 2 3-0.2 1.5 1.1 1.6-0.1 3-1.5 3 1.3 1.6-0.7 0.4-1.2 4.1-3.9 3.1-1.4 2-2.7 0.1-2-2.1-3.7 0-0.9 3 1.5 2.4-1 2.2-2.8 1.5-5 1.5-2.7 1.5 2.2 1.6 0.5-0.4-4.6 0.6-2.1-1.8-1.6-1.5 0.1-0.6-0.5-0.4-2.1 0.5-4.3 1.3-2.1-0.1-4.2 2-4.3-0.1-4.3-2-2.2-2.1-0.6-1.5-2.5-1.5-1.4-2.3 2.3-0.7 4.4-1.6 3.8-1.5 1-1.6-0.8-4.5 1.3-1.5-3.2 0.5-2.1 1.4-2.2-0.4-0.8-1.5-0.4-1.6 2.4-1.5-0.1-0.8-1.1-0.9-4.4 0.4-6.6-3.2-4.2-1.6-0.9-1.5-0.1-1.5 0.8-0.5 2.2-1 1.4-1.5-0.1-1.6-1.3-1.5-4-1.5-0.5-0.8-2.2 1.1-2.3-0.3-5.1-1-4-0.1-2.3 0.6-2.3-2.6-1.7-3 1.4-1.5-2-4.6 2-3-2.8-1.5-0.7-3.1 0-1.2-3.2-0.1-2.3 0.5-2.4M71.8 84.9l1.2 7.1-1.5 2.3-1.3 3.4-1.5-0.2-0.4-0.9-0.1-4.6-0.7-2.4 0.2-2.3 1-2.4M107.3 84.9l2.5 0.5 0.3-0.5M114.5 84.9l-1.7 1.8-1.5 0.6-0.6 2.3 0.6 2 4.6 0.9 1.5-0.1 1.5-0.9 1.5 1.4 3 3.7 1 2.3-0.2 2.3 0.9 6.9 4.5 7 3 1.4 1.5 3.5 1.9 1.5 0.2 2.2-0.6 2.1-3.9 4.5-0.2 2.2 2.6 0.6 2.7 3.7-1 4.3 0.3 2.2-0.5 2-0.6-2-2.4-2.4-7.6-1.6-3.1-4.6 0.6-4.4-2.1-4.4-3 1.6-2.1-1.6-1.4-4.4-1.1-1.6-1.5-0.6-1.4-6.7-2.9-2.3 0.2-2.2 1.2-2.3-0.1-1.2-0.6-1.1-2.5-1.2-1.5-2.7-3-0.5-3.1-4.5-1.3-2.6-0.9-7.1M121.5 84.9l-1.1 2.8-1.5 0-1-2.8M181.9 84.9l0.9 3.1 0.6-0.7 0.2-2.4M187.7 84.9l1 7.1 1.7 2 1.1 0.3 1.9 3.1 0.6-3.1 1.5-2.3 1-4.7 0.6 0-3-2.4M250 84.9l1.2 6.2 1.1-1.5 0.5-4.7M260.4 84.9l-0.4 4.7 0.4 1.3 1.5 0.9 0.8 2.5 0.4 2.3-0.7 2.3 1 2.5 1.5 0.8 1.6-1.7 1.5-0.2 3 2.8 3.1 0.9 7.6-1.2 4.5-3.7 2.4 2.1-2.2 4.6 0.4 2.3-1.4 2.2-0.7 5.1-2.2 3.9 0.4 2.2 3.3 2.9 1.5 0.1 2.3-3 3.8-2.2 2.1-2.2 0.4-2.3 1.8-2.2 0.5-2.3 1.3-1.8 1.5-0.8 0.8-1.9 0.8-9.2 2.2-2.3 0.9-2.3 1.4-2 1.5-1.3 1.6 0 1-1.4 0.4-2.4M313.3 84.9l1.5 4.7 2.6 2.4 0.9 4.6 1.6 2.3 2.9 2.3 1.4 2.9 2.2 1.7 0.8 4.5-2 6.8 0.6 2.2 3 0.5 1.5 1.8 3.1-1.5 3 0.3 3.1-1 1.5-1.2 1.5-0.2 1 3.5 0.5 0.3M204.1 365.8l3-2.4 0.2-2.6-2.7 0-0.5-2.9-1.5-0.6-0.7 0.3-0.4 1.6 1 1.6 1.5 4.9zM268 364.2l2.2-5-2.2-3.5-1.7 1.9 0.5 3.2-0.4 1.6 1.1 1.7zM128 362.2l1.6-1.4 0.6-4.9 0.9-1.1 3-0.2 0-1.2-3-2-3.1 1.1-1.1 1.8-0.2 4.9 0.7 1.6zM321.2 357.7l3 1.3 3.1-0.7 0.9-0.7-1.4-1.7-3.2-1.6 0-1.6-0.8-1.6-2.7 4.8 0.8 1.7zM176.7 354.4l1.5 0.9 1.6-0.5 3.9-5.4-3.9-6-1.6 0.6-1.4 2.1-0.4 1.7 0.8 1.6-0.7 3.3 0.2 1.6zM223.9 341.3l2.7-1.7 0.1-1.7-2.8-1.1-1.6-1.3-3.3 0.7 0.7 1.7 3.5 3.3zM161.5 337.6l3-0.1 1.5-1.3 0.7-1.6 4.4-3.3 1-0.3 1.6 0.9 3-2.2 3.1-1.3 6 0 1.6 0.5 1.5-0.6 0.3-2-0.7-1.7 0.4-1.4 1.5 1.2 1.5 0.1 1-1.6-1-3.4-1.5-0.9-1.5 1.7-1.5-0.6-0.7-1.8 2.2-1.7 0.2-1.7-0.2-4.5-2.3-5.7 1.7-3.5-0.9-2.7-6.1 0.5-3.1-2.7-1.5 0.3-0.6 1.2 1 5.2 1.1 1.5 1.6-0.7 1.5-1.7 0.9 0.9 2.2 5.1 0.2 3.4-2.2 5.1-1.1 1.2-1.5 0.8-1.6 0-1.5 0.8-1.5 1.8-1.5 0.6-1.6-0.2-9.7 5.1-1 6.6-1.1 3.3zM229.9 333.4l1.6-0.2 1.5-1 2.6-4.3 0.1-5-1.7-3.4 0.9-3.3-0.2-1.7-1.7-1.5-2.2-0.2 2.2-1.6 0.4-1.8-1.9-2.9-1.6 0-0.3-0.5 0.3-2.7 1.6 0 1.5 0.9 2.8-1.6 1.8-2 1.5 0.5 1 1.5-1.2 1.7-0.1 1.7 0.5 1.7 1.3 1.5 1.5-0.3 1.1-1.2-0.3-1.7 0.7-2.9 1.6 0.1 0.5-0.6-0.5-1.5-2.2-2-0.5-1.7 0.5-3.5-1.5-1.7 1.1-3.5-2-3.1-1.5-0.1-1.5 0.6-1.6 1.5-2.3 4.6 0.4 1.7-0.8 1.8-1.8 2.6-1.6 0.4-4.8-3 0.7-5.2-1.9-1.8-1.6-0.3-3 0.4-3-0.9-3.1 1.2-4.8-0.4-5 1.8-1.5 3.4 0.4 1.8 1.5 1.7 0.7 1.7-0.4 1.7 3.1 5.2 1.5 8.6 2.2 3.3 0.3 1.6 2 1.6 1.3 1.8 0.2 3.4-2.3 3.3 0.5 1.7 4.9 0.8 1.6-0.8 0.2-1.7 1.2-1.7 1.5 0.1 1.1 1.6-0.2 1.7 0.7 0.8 3-0.9 2.1 1.7zM208.7 331.3l1.6-3.4-1.6-2.7-1.6 0.3-1.3 2.4 0.1 1.7 2.6 1.7zM255.8 329.8l1.5-1.3 0.9-2.2-0.9-0.9-0.9-2.5 0-3.4-0.8-1.6 1.7 0.1 1.3 1.5 0.2 2.2 1.6 1.7 1.5 0.9 1.5-0.1 1-1.3-1-0.8-0.8-2.6 0.8-1.3 3.1-0.4 1.4-1.6-1.4-2.3-3.1-1.7-1.5 0-1.5 1.7-5.4-4.5 0.2-1.7-0.9-1.2-3.1 0.8-1.5-1.3-1.6 0 0.5 3.4 1.1 0.6 1.5-0.2 1.6 1.1 0.8 3.6 1.3 1.7-2.2 3.3-0.4 3.4 1.4 5 1.9 1.7zM257.3 302.8l1.5 0.6 0.6-0.8 0.2-1.8-0.8-1.9-3-0.1-1.4 2 2.6 1.8zM339.5 299.8l1.5-0.6 0.9-1.8 0.2-1.7-1.1-1.2-1.5 0.2-0.9 2.7 0 1.7zM53.5 255.4l-0.5-2.2 0.5-2.3 1.5 2.3-0.2 1.8-1.3 0.4M112.8 236.5l1.2-5.5-3.8-3.7 0.2-1.9-0.6-2.9-0.5 4.8-2.6 1.9-0.2 1.8 3.3-1.1 2.3 3-0.1 1.9zM99.1 227.4l1.6-1 1.5-0.1 0.5-0.9-0.5-2.2-1.5-1-1.6 0.3-1.9-0.9-0.2-1.9 1-1.9-0.4-1-3 2.2-0.5 2.6 0.6 1.9 1.4 1.9 2.7 1.9zM144.8 223.9l1.5-1.2 3-0.4 1.5-0.7-2-1.9-1-1.9 1.6-3.8-1.4-3.9 0.4-3.8-0.6-0.8-1.5-0.8-1.5 0.7-0.5 0.9 2.6 3.8-0.6 0.6-0.6 3.3-3.2 5.7 1.8 3.8zM152.4 220.1l1-0.4 0.5-1 0-6.2-1.8 1.5 1.1 3.8-2.1 1.9zM231.5 219.8l1.5 1.3 3-1.2 3.1-3.9 4.5-1.4 4.6-4.3 3 3.6 1.6 0 1.5 1.2 1.5 2.9 1.5 1 6.1 2.2 2-1.5 4.3-7.6 0.6-2-1.7-5.8-6.2-7.8-6.6-4.2-3-1-1.6-1.5-6-1.9-1.6-1.1-4.3-8.2 1.5-2 0.8-2.1 0.3-4.1-0.2-2-1.1-1.4-3-1.6-4.6-0.9-3.1 1.1-3 0.2-4.6 2.8-1.5 4.5-4 1.4-0.5 2.1 0.6 2-0.3 6-0.3 0.4-1.6-0.9-1.5 4.4-1.5 0.9-0.7 1.2 2.2 1.5 1.5-0.3 1.6 0.6-2.3 4.1 0.4 2 6.9 1.9 1 3.1 1.6 2.3 1.5-1.3 1.5 0.2 2 1.6 4.8 1.9-0.1 1.9-1.8 2-0.7 1.9-2 1.9 0 1.9 2.3 1.9zM99.1 216.5l0.9-0.6-0.6-1.9 0.5-1.9-0.8-2.2-0.8 6zM122 216.8l1.3-0.9 0.4-1.9 1.3-1.1 1.5 0.3 3.7-3.1-0.8-1.9-2.9-2.4-1.5-0.3-1 2.7-2.2 1.9-0.1 5.8zM137.2 208.6l1.5-0.9 1.1-1.4 0.1-3.9 0.8-2 2.7-1.9-1.7-3.3-0.4 1.3-2.6 3.7-1.5-1.1-1.6 0.4-3-0.9-1.6 1.8 0.1 2.6 0.8 1.3 2.2 0.9 1.6 3zM105.2 192.9l1.5 1.3 1.6-0.6 0.9-3-0.9-1.9-1.6 0.5-1.4 1.4-0.5 2zM42.9 174l1.5-0.7 1-2.9 0.1-2-1.1-3.7-1.5-1.7-1.6-0.3 0.2 7.7 0.6 2.1zM147.8 173.4l-0.7-0.9 0.1-2.1-0.9-1.5-1.5-1.2-1.6-2.5-1.5 0.1-1.3-1-1.7-5.9-1.7-0.4 1.7-2.4 0.1-1.7-1.3-2.1 1.2-1.8 1.5 0.6 1.5-0.6 2.2 3.9 0.9 0.4 3-1.9 3.1-0.9 1.5-4.2 1.5 0.8 1 1.5-0.2 2.2-2.3 2.3-2.1 8.1 3 4.1-0.9 2.1-2.7 2-0.9 2.1zM134.1 153.1l-1-3.5 1-1.9 1.5 0.5 1.2 1.4 0.1 2.2-1.3 1.4zM286.2 152.2l0.6-4.7-0.6-1.6-0.4 5.9zM146.3 145.8l0-0.6 0 0.6M140.2 135.5l-1.7-3 0.1-4.4 1.6-2.1 1.5 0.5 1.9 1.6-0.4 2.2-2.4 2.2-0.5 2.2zM94.6 124.1l-1.5-0.8-0.6-1.8 0.6-1.8 1.8 1.8-0.3 2.6M93.1 114.9l-0.8-2.3 0-2.3 0.8-1.5 1.5 0.5 0.3 1 0.3 2.3-0.6 2.4zM257.3 108.8l1.6-0.7 0.2-2.3-1.5-2.3 1-4.6-1.3-1.5-1.7 1.5 0.2 3 1.1 1.6-0.1 4.6zM184.3 106.7l3.1 0.9 1-1.8 1.2-4.6-0.1-2.3-0.6-1.1-1.5 2.6-3.1 1.8-0.9 1.3 0 2.3zM246.7 91.5l0.6-1.9-0.3-2.3-0.3-0.9-0.5 3.2zM261.9 210.6l1.5-1.1 0.6-1.3-0.2-1.9-1.9-1.6-1.5 0.7-0.6 0.9-0.3 1.9 1.4 1.9zM236 193.2l3.3-2.6 0.3-2-0.5-0.7-1.5-0.1-1.6 1.2-1.5 0.4-0.4 1.2 0.7 2zM233 175.6l2.7-1.1-0.3-2-0.9-0.8-1.5-0.4-1.5 0.7 0.1 2.5zM313.6 170.6l1.5 0.4 2.1-0.6 2.6-4.1-0.3-2-1.3-1.4-1.6 0.5-3-2.3-2.3 1.1-0.7 1-0.6 3.1 0.9 2.1 2.4 2z" fill="none" stroke="#3a2c2c" stroke-width="0.85"/>
<path d="M122.0,251.8L128.0,251.8L133.4,248.6L141.0,247.2L148.6,244.5L154.7,244.9L153.1,248.6L149.3,249.5L146.3,248.2L141.7,248.6L137.2,250.9L134.5,253.2L131.8,255.4L129.6,257.3L127.3,255.0L124.2,255.0L122.0,253.6ZM-37.8,50.9L198.0,50.9L195.7,75.4L193.8,87.3L193.4,96.6L191.9,104.7L183.6,112.6L176.7,123.7L170.6,132.5L164.5,137.9L159.2,144.3L153.9,150.7L147.8,158.0L141.7,163.2L137.2,166.3L132.6,165.3L131.8,161.7L128.8,163.8L125.8,164.3L123.5,168.4L119.7,171.5L116.6,172.5L112.8,176.6L111.3,179.6L112.1,185.6L108.3,187.6L103.7,191.6L99.1,194.5L96.1,196.5L95.3,200.4L94.6,202.9L97.6,204.3L101.4,208.2L103.7,212.1L106.0,216.4L108.3,220.7L109.8,227.3L110.9,232.4L110.2,236.6L109.8,237.6L108.3,240.3L107.1,241.3L103.7,242.2L102.2,243.6L97.6,244.5L94.6,246.8L90.0,247.7L87.7,248.6L86.2,245.9L87.0,244.0L87.0,239.4L88.5,234.8L89.3,232.9L87.7,229.2L85.1,225.4L87.7,223.5L89.3,219.7L88.5,218.8L86.2,216.9L81.6,214.9L76.3,214.9L74.0,213.0L76.3,209.2L78.6,207.2L77.8,204.3L78.6,199.5L75.6,198.5L72.5,196.5L71.0,195.5L69.5,196.5L64.9,197.0L60.4,197.5L55.0,202.4L50.5,205.8L47.4,206.8L48.9,204.8L51.6,200.9L53.5,196.5L54.7,191.6L55.0,187.6L52.0,185.6L46.7,186.6L44.4,188.6L41.3,192.6L38.3,194.5L34.5,196.5L0.3,199.5L0.3,220.7L37.5,220.7L40.6,217.3L44.0,215.7L48.9,218.3L54.3,218.6L58.8,219.7L57.3,224.5L49.7,225.4L45.1,228.2L40.6,232.4L38.3,234.3L34.5,238.5L33.0,244.0L36.8,247.7L40.6,253.2L42.9,258.6L45.1,264.0L48.9,267.6L52.7,271.6L53.1,275.6L52.0,278.2L45.9,280.9L48.2,284.4L49.7,286.1L53.5,287.9L52.7,292.2L51.2,295.7L50.5,300.0L48.2,303.4L45.1,306.8L42.9,310.2L40.6,313.6L37.5,316.2L35.3,321.2L34.5,325.4L30.7,329.6L23.1,334.6L0.3,346.1L-37.8,346.1ZM205.2,133.6L208.3,129.2L210.9,125.9L214.7,126.5L216.6,131.9L217.4,128.1L215.5,122.6L213.6,117.1L211.3,110.3L211.7,103.5L214.0,96.6L217.8,97.2L222.3,100.7L226.5,103.3L225.4,101.2L220.8,97.8L217.0,93.1L213.2,87.3L212.5,81.4L212.5,50.9L207.1,50.9L206.4,75.4L206.4,87.3L205.6,98.9L204.8,110.3L205.6,121.5ZM191.2,180.4L193.8,179.1L196.0,176.9L199.4,176.4L197.6,175.0L195.0,173.5L193.1,171.5L193.8,168.9L197.8,171.0L200.3,169.4L202.6,168.1L208.3,171.2L211.5,172.9L215.1,175.3L215.9,171.5L218.5,168.4L223.7,164.5L226.9,164.8L230.7,162.7L234.7,160.3L232.2,159.6L230.7,158.0L229.9,153.9L231.1,150.2L226.1,154.9L222.9,153.7L215.9,150.2L212.5,146.5L208.7,141.1L205.2,137.7L202.9,139.5L204.1,144.3L203.3,149.6L202.9,154.4L201.4,157.0L200.7,161.7L198.0,162.2L193.8,160.6L192.7,163.2L190.4,168.4L189.3,172.5L191.2,175.8L190.8,178.6ZM121.2,251.4L122.0,248.2L125.0,247.2L128.8,244.9L131.8,242.2L134.9,239.0L137.9,236.6L141.0,237.6L144.8,237.1L146.3,237.1L150.9,236.2L153.9,235.2L156.2,237.6L159.2,235.7L160.4,232.9L161.5,230.1L164.5,226.3L165.7,223.5L166.1,220.7L170.2,218.8L167.6,222.6L167.2,224.9L169.9,225.9L172.1,224.0L176.0,222.1L179.8,219.2L183.2,214.5L185.8,211.1L187.4,206.3L189.3,203.4L190.4,198.5L188.5,195.0L190.4,192.6L189.6,188.6L191.9,186.6L192.7,182.6L195.3,183.1L196.1,186.1L198.8,182.6L197.2,179.6L201.4,180.3L201.0,183.6L201.8,189.1L204.5,193.6L206.1,199.0L203.3,204.3L202.6,208.2L200.3,210.6L198.0,211.1L198.0,215.9L198.4,221.6L197.2,224.5L195.0,229.2L195.7,232.0L196.9,235.5L193.4,239.9L190.8,243.1L188.9,241.3L189.3,238.5L188.9,236.6L187.4,238.5L187.7,240.8L185.1,239.4L183.6,241.3L181.7,245.9L180.9,242.2L179.0,244.0L177.5,245.9L173.7,245.4L169.9,245.9L166.8,244.5L164.9,246.8L166.8,248.6L163.8,249.5L161.5,252.3L158.5,256.3L155.4,254.5L153.1,252.7L153.5,249.5L155.4,245.4L152.4,245.4L148.6,244.5L144.8,245.9L141.0,247.2L137.2,248.2L133.4,248.6L130.3,251.4L128.0,251.8L123.5,251.8ZM129.6,257.3L133.7,260.9L136.8,262.9L139.1,259.1L141.3,255.9L144.8,256.8L146.3,258.2L147.4,255.4L149.3,252.7L149.3,249.5L146.3,248.2L141.7,248.6L137.2,250.9L134.5,253.2L131.8,255.4ZM120.8,251.8L117.4,252.3L117.0,255.0L114.3,255.9L112.8,255.9L112.1,258.6L112.8,262.2L113.2,262.7L115.5,264.0L117.4,263.1L118.5,265.3L116.6,268.5L115.9,272.9L115.5,275.1L117.0,276.5L119.3,278.2L120.4,276.5L119.7,278.4L122.7,275.1L125.0,272.9L125.4,269.4L126.9,264.9L128.8,261.8L129.9,260.0L127.3,257.7L127.3,255.0L124.2,255.0L122.0,253.6ZM50.1,327.1L53.1,329.6L52.4,332.9L50.5,337.9L49.3,343.7L47.4,348.2L44.8,354.7L43.6,351.9L40.6,349.8L39.4,346.1L39.1,341.2L40.2,336.2L43.6,332.1L46.3,329.2ZM85.1,257.7L88.5,258.6L91.2,256.3L87.7,255.4L85.5,256.3ZM108.3,250.4L110.5,245.9L110.2,244.9L108.6,248.2ZM176.7,214.0L179.0,211.1L179.4,214.0L177.5,215.9ZM96.5,320.4L99.1,316.6L101.4,314.1L100.7,313.6L98.0,316.2L96.9,318.7ZM108.3,303.4L112.1,300.4L111.3,300.0L109.0,301.3ZM120.8,283.9L122.3,280.0L122.7,280.9L121.6,283.9ZM117.0,284.4L118.9,284.8L119.3,283.1L117.4,283.1ZM231.5,158.0L236.0,154.9L240.6,149.6L239.8,148.6L234.5,151.8L230.7,156.0ZM242.1,148.6L247.4,144.3L252.8,141.1L258.1,137.9L257.3,136.8L251.2,139.0L245.2,143.3L241.4,146.5ZM262.6,135.7L270.3,130.3L269.5,129.2L262.6,133.6ZM66.4,335.4L68.7,336.2L71.0,335.0L69.5,333.8L66.8,334.2ZM77.8,331.7L79.7,332.1L79.4,330.4L78.2,330.4ZM103.7,263.6L106.0,264.0L107.9,260.4L106.4,259.1L104.8,261.3ZM137.2,232.4L139.8,232.0L140.2,230.1L137.9,230.1ZM185.3,245.1L186.4,244.9L186.2,244.0L185.4,244.2ZM188.3,260.0L189.3,259.7L189.2,259.0L188.4,259.1ZM111.3,290.5L112.4,290.0L112.1,289.2L111.2,289.6ZM113.6,280.0L114.7,279.5L114.3,278.7L113.4,279.1ZM111.7,254.1L112.8,253.9L112.7,252.7L111.7,252.9Z" fill="#585858"/>
<ellipse cx="129.6" cy="252.3" rx="1.4" ry="1.1" fill="#f4f0f0"/>
<ellipse cx="134.9" cy="251.4" rx="1.5" ry="0.9" fill="#f4f0f0"/>
<ellipse cx="139.4" cy="249.5" rx="1.9" ry="0.8" fill="#f4f0f0"/>
<ellipse cx="144.8" cy="247.2" rx="1.5" ry="0.8" fill="#f4f0f0"/>
<ellipse cx="125.8" cy="253.2" rx="1.1" ry="0.9" fill="#f4f0f0"/>
<ellipse cx="132.2" cy="253.6" rx="0.9" ry="0.9" fill="#f4f0f0"/>
<ellipse cx="131.8" cy="143.8" rx="3.2" ry="3.6" fill="#fff" stroke="#999" stroke-width="0.4"/>
<path d="M114.3,125.9L118.2,123.7L122.0,118.2L129.6,114.8L137.9,109.2L144.8,106.9L150.1,104.7L155.4,98.9L161.5,93.1L166.1,88.5L167.6,84.9" fill="none" stroke="#222" stroke-width="0.8"/>
<path d="M76.3,87.3V370.5M114.3,87.3V370.5M152.4,87.3V370.5M190.4,87.3V370.5M228.4,87.3V370.5M266.4,87.3V370.5M304.5,87.3V370.5M38.3,329.6H342.5M38.3,287.0H342.5M38.3,242.2H342.5M38.3,194.5H342.5M38.3,143.3H342.5" stroke="#3c2424" stroke-opacity="0.3" stroke-width="1.3" fill="none"/>
<rect x="110.2" y="180.1" width="7.6" height="10.6" fill="#fff"/>
<text x="114.0" y="188.9" class="cl" text-anchor="middle">1</text>
<rect x="132.0" y="205.9" width="7.6" height="10.6" fill="#fff"/>
<text x="135.8" y="214.7" class="cl" text-anchor="middle">1</text>
<rect x="101.0" y="244.7" width="7.6" height="10.6" fill="#fff"/>
<text x="104.8" y="253.5" class="cl" text-anchor="middle">1</text>
<rect x="254.2" y="130.4" width="11.0" height="10.6" fill="#fff"/>
<text x="259.7" y="139.2" class="cl" text-anchor="middle"><tspan class="mn">&#8211;</tspan>1</text>
<rect x="255.8" y="139.7" width="11.0" height="10.6" fill="#fff"/>
<text x="261.3" y="148.5" class="cl" text-anchor="middle"><tspan class="mn">&#8211;</tspan>1</text>
<rect x="236.9" y="158.8" width="11.0" height="10.6" fill="#fff"/>
<text x="242.4" y="167.6" class="cl" text-anchor="middle"><tspan class="mn">&#8211;</tspan>1</text>
<rect x="252.3" y="160.7" width="11.0" height="10.6" fill="#fff"/>
<text x="257.8" y="169.5" class="cl" text-anchor="middle"><tspan class="mn">&#8211;</tspan>1</text>
<rect x="278.0" y="160.7" width="7.6" height="10.6" fill="#fff"/>
<text x="281.8" y="169.5" class="cl" text-anchor="middle">0</text>
<rect x="302.4" y="172.9" width="7.6" height="10.6" fill="#fff"/>
<text x="306.2" y="181.7" class="cl" text-anchor="middle">2</text>
<rect x="302.4" y="179.6" width="7.6" height="10.6" fill="#fff"/>
<text x="306.2" y="188.4" class="cl" text-anchor="middle">1</text>
<rect x="290.7" y="186.0" width="7.6" height="10.6" fill="#fff"/>
<text x="294.5" y="194.8" class="cl" text-anchor="middle">0</text>
<rect x="234.1" y="180.6" width="7.6" height="10.6" fill="#fff"/>
<text x="237.9" y="189.4" class="cl" text-anchor="middle">1</text>
<rect x="217.0" y="197.3" width="7.6" height="10.6" fill="#fff"/>
<text x="220.8" y="206.1" class="cl" text-anchor="middle">1</text>
<rect x="244.1" y="193.3" width="7.6" height="10.6" fill="#fff"/>
<text x="247.9" y="202.1" class="cl" text-anchor="middle">2</text>
<rect x="246.8" y="203.7" width="7.6" height="10.6" fill="#fff"/>
<text x="250.6" y="212.5" class="cl" text-anchor="middle">2</text>
<rect x="222.8" y="216.5" width="7.6" height="10.6" fill="#fff"/>
<text x="226.6" y="225.3" class="cl" text-anchor="middle">1</text>
<rect x="209.3" y="224.6" width="7.6" height="10.6" fill="#fff"/>
<text x="213.1" y="233.4" class="cl" text-anchor="middle">0</text>
<rect x="284.0" y="221.6" width="11.0" height="10.6" fill="#fff"/>
<text x="289.5" y="230.4" class="cl" text-anchor="middle"><tspan class="mn">&#8211;</tspan>1</text>
<rect x="292.7" y="232.2" width="7.6" height="10.6" fill="#fff"/>
<text x="296.5" y="241.0" class="cl" text-anchor="middle">0</text>
<rect x="251.6" y="247.7" width="11.0" height="10.6" fill="#fff"/>
<text x="257.1" y="256.5" class="cl" text-anchor="middle"><tspan class="mn">&#8211;</tspan>1</text>
<rect x="255.0" y="262.8" width="7.6" height="10.6" fill="#fff"/>
<text x="258.8" y="271.6" class="cl" text-anchor="middle">0</text>
<rect x="152.3" y="276.7" width="7.6" height="10.6" fill="#fff"/>
<text x="156.1" y="285.5" class="cl" text-anchor="middle">1</text>
<rect x="73.1" y="308.6" width="7.6" height="10.6" fill="#fff"/>
<text x="76.9" y="317.4" class="cl" text-anchor="middle">0</text>
<rect x="131.4" y="299.9" width="7.6" height="10.6" fill="#fff"/>
<text x="135.2" y="308.7" class="cl" text-anchor="middle">0</text>
<rect x="171.7" y="294.1" width="7.6" height="10.6" fill="#fff"/>
<text x="175.5" y="302.9" class="cl" text-anchor="middle">1</text>
<rect x="154.5" y="332.4" width="7.6" height="10.6" fill="#fff"/>
<text x="158.3" y="341.2" class="cl" text-anchor="middle">1</text>
<rect x="184.1" y="325.1" width="7.6" height="10.6" fill="#fff"/>
<text x="187.9" y="333.9" class="cl" text-anchor="middle">1</text>
<rect x="225.5" y="299.3" width="7.6" height="10.6" fill="#fff"/>
<text x="229.3" y="308.1" class="cl" text-anchor="middle">1</text>
<rect x="283.0" y="306.1" width="7.6" height="10.6" fill="#fff"/>
<text x="286.8" y="314.9" class="cl" text-anchor="middle">0</text>
<rect x="245.7" y="330.3" width="7.6" height="10.6" fill="#fff"/>
<text x="249.5" y="339.1" class="cl" text-anchor="middle">1</text>
</g>
<path d="M38.3,87.3v-3M38.3,370.5v3M45.9,87.3v-1.8M45.9,370.5v1.8M53.5,87.3v-1.8M53.5,370.5v1.8M61.1,87.3v-1.8M61.1,370.5v1.8M68.7,87.3v-1.8M68.7,370.5v1.8M76.3,87.3v-3M76.3,370.5v3M83.9,87.3v-1.8M83.9,370.5v1.8M91.5,87.3v-1.8M91.5,370.5v1.8M99.1,87.3v-1.8M99.1,370.5v1.8M106.7,87.3v-1.8M106.7,370.5v1.8M114.3,87.3v-3M114.3,370.5v3M122.0,87.3v-1.8M122.0,370.5v1.8M129.6,87.3v-1.8M129.6,370.5v1.8M137.2,87.3v-1.8M137.2,370.5v1.8M144.8,87.3v-1.8M144.8,370.5v1.8M152.4,87.3v-3M152.4,370.5v3M160.0,87.3v-1.8M160.0,370.5v1.8M167.6,87.3v-1.8M167.6,370.5v1.8M175.2,87.3v-1.8M175.2,370.5v1.8M182.8,87.3v-1.8M182.8,370.5v1.8M190.4,87.3v-3M190.4,370.5v3M198.0,87.3v-1.8M198.0,370.5v1.8M205.6,87.3v-1.8M205.6,370.5v1.8M213.2,87.3v-1.8M213.2,370.5v1.8M220.8,87.3v-1.8M220.8,370.5v1.8M228.4,87.3v-3M228.4,370.5v3M236.0,87.3v-1.8M236.0,370.5v1.8M243.6,87.3v-1.8M243.6,370.5v1.8M251.2,87.3v-1.8M251.2,370.5v1.8M258.8,87.3v-1.8M258.8,370.5v1.8M266.4,87.3v-3M266.4,370.5v3M274.1,87.3v-1.8M274.1,370.5v1.8M281.7,87.3v-1.8M281.7,370.5v1.8M289.3,87.3v-1.8M289.3,370.5v1.8M296.9,87.3v-1.8M296.9,370.5v1.8M304.5,87.3v-3M304.5,370.5v3M312.1,87.3v-1.8M312.1,370.5v1.8M319.7,87.3v-1.8M319.7,370.5v1.8M327.3,87.3v-1.8M327.3,370.5v1.8M334.9,87.3v-1.8M334.9,370.5v1.8M342.5,87.3v-3M342.5,370.5v3M38.3,370.5h-3M342.5,370.5h3M38.3,362.4h-1.8M342.5,362.4h1.8M38.3,354.3h-1.8M342.5,354.3h1.8M38.3,346.1h-1.8M342.5,346.1h1.8M38.3,337.9h-1.8M342.5,337.9h1.8M38.3,329.6h-3M342.5,329.6h3M38.3,321.2h-1.8M342.5,321.2h1.8M38.3,312.8h-1.8M342.5,312.8h1.8M38.3,304.3h-1.8M342.5,304.3h1.8M38.3,295.7h-1.8M342.5,295.7h1.8M38.3,287.0h-3M342.5,287.0h3M38.3,278.2h-1.8M342.5,278.2h1.8M38.3,269.4h-1.8M342.5,269.4h1.8M38.3,260.4h-1.8M342.5,260.4h1.8M38.3,251.4h-1.8M342.5,251.4h1.8M38.3,242.2h-3M342.5,242.2h3M38.3,232.9h-1.8M342.5,232.9h1.8M38.3,223.5h-1.8M342.5,223.5h1.8M38.3,214.0h-1.8M342.5,214.0h1.8M38.3,204.3h-1.8M342.5,204.3h1.8M38.3,194.5h-3M342.5,194.5h3M38.3,184.6h-1.8M342.5,184.6h1.8M38.3,174.5h-1.8M342.5,174.5h1.8M38.3,164.3h-1.8M342.5,164.3h1.8M38.3,153.9h-1.8M342.5,153.9h1.8M38.3,143.3h-3M342.5,143.3h3M38.3,132.5h-1.8M342.5,132.5h1.8M38.3,121.5h-1.8M342.5,121.5h1.8M38.3,110.3h-1.8M342.5,110.3h1.8M38.3,98.9h-1.8M342.5,98.9h1.8M38.3,87.3h-3M342.5,87.3h3" stroke="#000" stroke-width="0.6" fill="none"/>
<rect x="38.3" y="87.3" width="304.2" height="283.2" fill="none" stroke="#000" stroke-width="1.4"/>
<text x="32.1" y="90.9" class="ax" text-anchor="end" textLength="16.6" lengthAdjust="spacingAndGlyphs">50°N</text>
<text x="32.1" y="198.1" class="ax" text-anchor="end" textLength="16.6" lengthAdjust="spacingAndGlyphs">40°N</text>
<text x="32.1" y="290.6" class="ax" text-anchor="end" textLength="16.6" lengthAdjust="spacingAndGlyphs">30°N</text>
<text x="32.1" y="374.1" class="ax" text-anchor="end" textLength="16.6" lengthAdjust="spacingAndGlyphs">20°N</text>
<text x="28.3" y="383.7" class="ax" textLength="20" lengthAdjust="spacingAndGlyphs">120°E</text>
<text x="104.3" y="383.7" class="ax" textLength="20" lengthAdjust="spacingAndGlyphs">130°E</text>
<text x="180.4" y="383.7" class="ax" textLength="20" lengthAdjust="spacingAndGlyphs">140°E</text>
<text x="256.4" y="383.7" class="ax" textLength="20" lengthAdjust="spacingAndGlyphs">150°E</text>
<text x="332.5" y="383.7" class="ax" textLength="20" lengthAdjust="spacingAndGlyphs">160°E</text>
<text x="84.4" y="81.3" class="tt" textLength="212" lengthAdjust="spacingAndGlyphs">Monthly mean SST anomalies for Jun. 2022</text>
<rect x="351.1" y="101.1" width="9.6" height="13.1" fill="#e42828"/>
<rect x="351.1" y="241.2" width="9.6" height="13.1" fill="#e0e0f2"/>
<rect x="351.1" y="113.9" width="9.6" height="13.1" fill="#e53333"/>
<rect x="351.1" y="254.0" width="9.6" height="13.1" fill="#c8cbe6"/>
<rect x="351.1" y="126.6" width="9.6" height="13.1" fill="#e74242"/>
<rect x="351.1" y="266.7" width="9.6" height="13.1" fill="#b0b6dc"/>
<rect x="351.1" y="139.4" width="9.6" height="13.1" fill="#e95454"/>
<rect x="351.1" y="279.5" width="9.6" height="13.1" fill="#98a0d2"/>
<rect x="351.1" y="152.2" width="9.6" height="13.1" fill="#ec6a6a"/>
<rect x="351.1" y="292.3" width="9.6" height="13.1" fill="#7e8ac6"/>
<rect x="351.1" y="164.9" width="9.6" height="13.1" fill="#ef8282"/>
<rect x="351.1" y="305.0" width="9.6" height="13.1" fill="#6474ba"/>
<rect x="351.1" y="177.7" width="9.6" height="13.1" fill="#f39e9e"/>
<rect x="351.1" y="317.8" width="9.6" height="13.1" fill="#4e62b0"/>
<rect x="351.1" y="190.5" width="9.6" height="13.1" fill="#f7bcbc"/>
<rect x="351.1" y="330.6" width="9.6" height="13.1" fill="#3c54a8"/>
<rect x="351.1" y="203.2" width="9.6" height="13.1" fill="#fbdada"/>
<rect x="351.1" y="343.3" width="9.6" height="13.1" fill="#2c48a2"/>
<rect x="351.1" y="216.0" width="9.6" height="25.5" fill="#fff"/>
<path d="M351.1,228.8h9.6" stroke="#bbb" stroke-width="0.5"/>
<rect x="351.1" y="101.1" width="9.6" height="255.3" fill="none" stroke="#111" stroke-width="1.3"/>
<text x="366.3" y="359.8" class="cb"><tspan class="mn">&#8211;</tspan>5</text>
<text x="366.3" y="334.3" class="cb"><tspan class="mn">&#8211;</tspan>4</text>
<text x="366.3" y="308.7" class="cb"><tspan class="mn">&#8211;</tspan>3</text>
<text x="366.3" y="283.2" class="cb"><tspan class="mn">&#8211;</tspan>2</text>
<text x="366.3" y="257.7" class="cb"><tspan class="mn">&#8211;</tspan>1</text>
<text x="371.3" y="232.2" class="cb">0</text>
<text x="371.3" y="206.6" class="cb">1</text>
<text x="371.3" y="181.1" class="cb">2</text>
<text x="371.3" y="155.6" class="cb">3</text>
<text x="371.3" y="130.0" class="cb">4</text>
<text x="371.3" y="104.5" class="cb">5</text>
<path d="M360.7,356.4h3.2M360.7,330.9h3.2M360.7,305.3h3.2M360.7,279.8h3.2M360.7,254.3h3.2M360.7,228.8h3.2M360.7,203.2h3.2M360.7,177.7h3.2M360.7,152.2h3.2M360.7,126.6h3.2M360.7,101.1h3.2" stroke="#333" stroke-width="0.6"/>
<rect x="349.9" y="93.2" width="12.0" height="7.9" fill="#fff"/>
<text x="355.9" y="100.0" class="cu" text-anchor="middle" textLength="12.4" lengthAdjust="spacingAndGlyphs">[°C]</text>
<clipPath id="c1"><rect x="413.1" y="87.3" width="304.2" height="283.2"/></clipPath>
<g clip-path="url(#c1)">
<rect x="413.1" y="87.3" width="304.2" height="283.2" fill="#ffffff"/>
<path d="M457.2 178.9l3.1-0.4 3 0.7 0.5-0.6-1-2 1-4.1-0.5-3-1.5-1.1-1.5 0.6-1.6-0.2-1.5 2.9-1.5 0.6-1.5-1.4-1.6 1-0.3 0.6 0.3 1.3 0.8 0.7 1.9 0 0.4-0.6 1.1 4.7zM448.1 174.7l1.6-0.2-1.8 0z" fill="#98a0d2" fill-rule="evenodd"/>
<path d="M463.3 182.9l3.1-0.3 3.2-2 0.6-2-1.6-4.1-0.4-4.1-2.4-2-2.3-4.1-0.7-2.1-0.2-4.2-0.8-1.9-1.7-0.1-1.4-1-0.9-1.1-2.1-6.1-1.5-0.5-1.6 0.3-1.5-1-1.5 0-1.5 1.9-0.7 3.3 0.7 2.2 3-1.4 2.2 3.4 0.1 2-3.8 3.4-3-1.9-0.6 0.6-0.7 2.1-0.2 8.2-3.9 4.1-0.9 2.1-0.1 2 1.8 0.7 3-0.3 4.1 1.6 2-0.4 4.6 1.4 4.6 0.1 2 0.9zM456.8 178.6l-1.1-4.7-0.4 0.6-1.9 0-0.8-0.7-0.3-1.3 0.3-0.6 1.6-1 1.5 1.4 1.5-0.6 1.5-2.9 1.6 0.2 1.5-0.6 1.5 1.1 0.5 3-1 4.1 1 2-0.5 0.6-3-0.7-3.1 0.4zM447.9 174.5l1.8 0-1.6 0.2zM456.8 156l0.4-0.9 0.6 0.9-0.6 0.3z" fill="#b0b6dc" fill-rule="evenodd"/>
<path d="M463.3 184.9l3-0.2 1.6-0.6 3.1-3.5 0.7-2-1.1-4.1-0.2-4.1-1-2-3.1-2.5-1.1-3.7-0.1-4.2-1.8-4.5-1.5-2.5-1.8-1.4-1.3-3.1-6.1-4.4-3-4.4-3-1.7-1.6-2.1-1.5 0.5-0.6 2.4 1.2 2.2 0.2 2.1-0.8 1.2 0 1.9 1.5 1.2 0.5 2.1-0.5 2.3-1.5 0.6-0.4 1.4 0.7 4.2-1.8 2-0.7 4.2 1.3 4.1-0.7 2.1-1.7 2-1.2 3.4-0.8 2.8 0.5 4 1.8 1.1 3 0.1 4.6 1 3-0.5 4.6 1.4 3-0.1 3.4 1zM462.3 182.6l-2-0.9-4.6-0.1-4.6-1.4-2 0.4-4.1-1.6-3 0.3-1.8-0.7 0.1-2 0.9-2.1 3.9-4.1 0.2-8.2 0.7-2.1 0.6-0.6 3 1.9 3.8-3.4-0.1-2-2.2-3.4-3 1.4-0.7-2.2 0.7-3.3 1.5-1.9 1.5 0 1.5 1 1.6-0.3 1.5 0.5 2.1 6.1 0.9 1.1 1.4 1 1.7 0.1 0.8 1.9 0.2 4.2 0.7 2.1 2.3 4.1 2.4 2 0.4 4.1 1.6 4.1-0.6 2-3.2 2-3.1 0.3zM457.2 156.3l0.6-0.3-0.6-0.9-0.4 0.9z" fill="#c8cbe6" fill-rule="evenodd"/>
<path d="M574.3 344.6l3.4-3.4-1.9-1.2-1.5 0.1-1.5 1.1-0.8 1.7 1.5 1.6zM448.1 184.8l3-0.3 13.7 2.1 3.1-0.7 1.5-1 2.8-4.3 0.7-4-1.5-8.2-1.8-4.1-1.7-2.1-0.6-4.2-2.4-4.1-1.3-4.3-4.5-6.3-4.9-4.3-6.1-7.1-3.1-2.1-1.5 0-1.5 1.7-2.4 1-0.6 2.2 1.1 8.6-1.4 4.2 0.2 4.3-0.4 2.1-1.1 1.3-0.4 2.8 1.9 8.3-2 6.2-0.3 4.1 0.8 4 1.6 2.4 8.2 1.6zM462.1 184.6l-3.4-1-3 0.1-4.6-1.4-3 0.5-4.6-1-3-0.1-1.8-1.1-0.5-4 0.8-2.8 1.2-3.4 1.7-2 0.7-2.1-1.3-4.1 0.7-4.2 1.8-2-0.7-4.2 0.4-1.4 1.5-0.6 0.5-2.3-0.5-2.1-1.5-1.2 0-1.9 0.8-1.2-0.2-2.1-1.2-2.2 0.6-2.4 1.5-0.5 1.6 2.1 3 1.7 3 4.4 6.1 4.4 1.3 3.1 1.8 1.4 1.5 2.5 1.8 4.5 0.1 4.2 1.1 3.7 3.1 2.5 1 2 0.2 4.1 1.1 4.1-0.7 2-3.1 3.5-1.6 0.6-3 0.2z" fill="#e0e0f2" fill-rule="evenodd"/>
<path d="M428.3 372.1l15.3 0 1.4-1.3 0.5 1.3 23.8 0-2.7-1.6 0.5-1.6 0.8-1.2 3 0.7 1.5-0.4 1.7-3.9 2.2-3.3-0.1-1.6-0.7-1.2-1.6-0.5-1.5-1.6 1.5-1.6 1.6-0.4 0.3-1.2-0.4-1.6-2.5-1.7-1-1.6 0.5-2 2.7-1.3-1.2-3.5-1.3 0.2-0.2 1.7-3 1.2-1.5-0.1-0.3-1.1 1.8-2.3 3 0.5 0.4-3.2 1.1-2.8 3.1-0.5 0.6-1.7-0.6-1.5-3.1-0.9-0.5-2.6 0.5-1.6-1.5-1.6-1.5 0.2-1.5 1.4-0.9-1.7 1.6-6.7-3.8-0.2-1.1-1.5 0.4-1.7 1.1-1.7 1.2-0.6 1.5 0.2 1.5-0.5 3-5.2 1.6 0.5 3-1 4.6 6.9 1.5-0.2 0-3.5-1.7-1.7-0.5-1.7 0.1-3.4 0.6-1.6 1.5 1.4 1.5 2.8 1.5 0.7 1.1-1.6-1.1-3.5 1.4-3.4-1.2-3.5 4.4-5.9 1.5 0 3.1-1.8 1.5-0.2 1.5 0.6 4.6-0.3 1.5-1.3 3 1.7 1.5-0.4 3.1 0.5 0.9 1.9-0.2 3.5 0.8 1.7 3 2.1 1.1-0.3-1.1-3.5 1.3-1.7 3.3-0.5 0.5-1.3 2.6-2.1 3 0.2 1.2-1.6-0.3-1.7-0.9-0.7-1.2-4.6-1.8-3.3-4.6 0-1.5 2-1.6 0.9-3 0-3-1.6-0.9-1.5-0.7-3.2-1.5-0.5-1.5 0.8-1.8-0.7-1.8-1.7 0.6-1.9 1.5-2.2 1.5 1.5 3-1.8 3.1 0.6 2.4-1.6 1-1.8-1-3.6 0.5-1.8 1.6-2.1 1.6-0.8 3-0.3 1.5-2.2 1.6 0.2 1.5 7.4 4.5 4.6 1.5-1.4-0.5-3.6 2.6-1.8 1-4.6 1.5-0.9 1.5 3.1 1.6 0.8 1.5-0.2 0-1.8 1.5-0.8 1.5 0.4 2.4 4 0.4 1.8-1.2 1.8-1.2 7.2-1.3 3.5 0.9 2 1.5 0.3 4.6-1.1 3.1-1.7 1.5-0.1 3 1.3 1.5 1.1 0.5 1.8-0.2 7 4.3 4.4 1.5 0.2 3.1-2.1 2.5 2.8 2 0.7 3.1-0.5 3 1.6 1.5-1.3 1.6 1.1 4.5-0.9 3.1 1.5 1.1-0.5 0.4-1.5 1.5-0.2 0.3 1.7 1.2 1.3 1.5 0.2 3.1-1.2 4.5 4.3 1.8-1.1-1-3.5 0.8-0.6 3-0.1 3.1-0.9 3 0.7 3-1.5 1.6 0.7 0.6 1.7 2.4 2.2 0.8 4.8-3.8 1.2-1.6 1.5-1.5-0.4-4.5-2.9-4.6-0.1-1.5 1.6-3.1-0.9-4 3.4-0.5 2.3-2.8 1.2-0.5 1.7-1.3 0.5-1.5-0.3-4.6-3.9-0.7 0.2-2.1 3.5-1.7-0.6-1 0.6-0.4 1.7 1.2 1.7-0.9 1.7-0.5 0.2-3-1.1-1.6 0.9-0.3 1.7 1.6 3.4-2.8 2.4-1.5 2.6 0.3 1.7 1.2 1.7 1.6 1.2 1.5 0.4 3-1.2 3.1-2.4 3 1.6 1.5 0.2 3.1-2.6 3 0.4 3.1 1.4 2.8 2.7 0.6 1.7-0.4 2.9-3 0.2 0 0.9 3-0.5 1.5 2 1.3 2.8-0.3 3.3 3.6 3.2 1.5 3.8 1.5-0.9 1.6-2.1 1.2 1 3.3 0 1.5 2.1 2.2 1.1-1.5 8.2-1.2 3.3 0.4 1.6-1.2 1.6-0.4 1.6 0.7 1.7 1.6 1.6 0.8 3.2-1.7 3.2 3 0-0.2-3.2 2.6-1.6 1.3-1.6 0-3.3 1.2-2.2 0.7-2.6 1.3-1.7-0.7-1.6-2.4-1.6 2.7-1.3 1.5 0.5 1.5 1.9 1.5-0.3 1.5-1.6 1.6 0.2 1.5 1.4 3-0.2 3.1 0.8 1.5-1.5 1.5 0.7 1.5-0.1 1.6-1.4 1-2.4-1.3-1.6 0.3-1.9 3 1.5 1.5 0.2 1.5-0.6 0.8-0.9-0.4-3.2 1.2-2 1.6 0.3 1.1 1.7 0.3 1.6 1.5 1.1 4.6 0.9 0.3-2-2.1-3.3 3.3-3.3 1.5-0.7 2.2 0.7-0.1 5 1 0.9 6.1 0.3 1.5 1.2 1.5 0.2 6.1-0.7 2.7 1.3 7.5 1.7 2.7 4.9-2.3 1.7 1.3 1.5 1.8 0.5 3 3 1.7-0.2 0.7-1.6-0.9-1.6-4.5-1.1-0.6-0.6 1.5-1.6 5.2-1.5 1.5-1.6-1-3.5 1-1.4 3 2.1 1.1-0.7 0.5-3.2 0.7-1.7 0.8-0.4 2.9 5.3 1.6 0.3 0-11.4-1.8-0.4-0.3-1.7 1.1 0 1 0.9 0-17.3-0.5-0.3-1-3.3-1.5 0.8-1.5-0.8-1.6 0.6-1.5 4.7-6.1-0.7-1.5 0.3-1.5 1.5-6.1 0.5-1.5 1.7-1.5-0.3-0.8-1.7-0.8-4.7-3 3.6-1.5-0.3-1 1.4 0.5 3.4-1 2.2-3.1 0.4-1.5-3.4-4.6-0.7-1.1 1.5-0.4 1.7-1.5 0.4-3.4-3.8-4-1.7-1.6-5-1.7-2.2-1.5-0.8-3 1.8-0.5 1.2 0.4 3.4-1.4 2.6-1.6 1.1-1.5 0.1-1.3-0.5-1.7-3-3-2-0.1-1.7 0.9-1.7 2.2-1.7-1.3-8.5 0.2-1.8 1.1-0.5 0.4-1.2-0.1-1.7-0.3-1.2-1.5-1.1-1.6-0.2-1.9-2.7 0.4-1.8 3.1-0.7 1.1-2.7-0.4-1.8 0.8-1.8 1.9 0.1 4.2 3.7 2.7-2-2.7-0.4-0.9-1.3 2.4-0.5 1.5 0.3 0.7 3.7 3.9 1 3-1.1 3.9 1.8 2.2 2.9 1.5-1.1 4.6-0.5 2.9-1.3-0.6-1.7-3.3-1.8 2-3.5-0.1-1.7-1.1-1.8 1.7-1.3 3-0.7 2.6-1.5-0.8-1.8-0.4-5.3 1.7-3.4 3-2 3.1-4.4 1.5-0.4 1.5 0.4 1.5 2.3 1.5 0.8 3.1-1.2 3 0.4 3.1 3.2 3 1 2.4 3.3 1 1.8-1.9 1.7 1.6 2 1.5-2.4 1.5 0.1 1.5 1 0-32.6-0.6-0.7-0.1-1.9 0.7-1.5 0-8.1-4.5-1.5-2.2-2 0.6-0.6 1.6 0.6 3-0.2 1.5-1.4 0-9.3-3 0.8-6.1 4.6-1.5 0.6-3.1 0.1-3-1-1.5 0.1-2.6-1.9 1-1.9 0.1-1.9-0.8-3.9 0.3-3.9-1.1-2.6-1.5-1.3-4.6 0.3-3 1-0.6 0.7 0.1 1.9-1 0.9-3.1-1.7-3 0.8-0.5-1.9-2.5-2.7-0.9-3.2-0.7-0.7-1.5-0.6-3 0.3-1.6-0.4-4.5-2.6-7.6 2.7-3.1 1.8-4.5 0.9-3.1-0.4-1.5 0.6-0.7 2.3 0.9 5.9-0.7 5.8 3.6 4.3 1.5-0.1 3 2 1.5 0.4 3.1-0.6 1.5 0.8 1.5-0.3 3.1-1.8 6 0.5 1.6-0.5 3 3 1.5 0.2 1.2 1.6 0.5 3.8-1.8 1.9 0.1 2.8 3.1 1.5 0.9 1.3 0 3.7-0.9 1.9-3.1-2.7-1.5 0.4-0.7-3.3-2.3-1.6-1.6 0.2-1.5 1-1.5-1.7-1.5 0.7-1.5 2.5-1.6-0.2-3-1.8-1.5-1.9-1.5 0.1-3.1 2.2-2.3-1.4-1.5-1.8-3.8-0.5-0.3 2.3-1.2 1-1.5-0.2-1.5-0.9-1.6 0.3-2.2 3.6-2.3 0.4-3.1-1-3 0.3-4.6-3.8-4.5 1.8-3.1-1.8-1.5 0.5-3-1-2.7 2.7-0.6 1.9 0.1 3.7-1.4 1.1-1.5 0.3-1.8-1.4-1-3.7-3.3-5.2-4.6 0.6-3 2.6-1.5-0.6-1.6-3-2-1.9-1-1.9-1.5 0.2-1.5-1.9-1.6 0.4-1.8-0.6-0.8-7.6 0.2-3.8-0.6-0.7-1.7 2.6-2.5 1.9 0.9 3.8-1.3 1.1-1.5-0.5-4.6 0.8-0.6 2.4 0.1 1.9-1 1.5-2.6 2.3-1.5 7.4-1.9 1.9 1.5 2.4 1.5 0 2.4 1.3-2.4 3.7 1.5 0.3 0.7 1.5-0.3 1.8-0.4 0.4-1.5-0.2-1.5-0.9-1.6 2.6 0.1 1.8 1.7 1.8 0.6 1.8-1.1 1.8-2.3 1.8 0.2 1.8-2.2 2.5-3 0-1.6 1.4-1.5-0.7-0.8-3.2 1.1-5.4-0.2-1.8-2.4-1.8-2.3-3.2-1.9-0.5-2.1-3.6-6.6-2.1-6.1 1.9-3 0-1.5 0.8-3.1 0.3-1.5 1-1.5 2.9-0.9 0.7-3.7 1.7-3 0-4.6 1.4-3 2.1-3.1 0.7-1.4 1.3-1.6 2.9-3.1 1.7-6 6.4-3.1-0.9-3-2-3.1 2.7-6.3 1.7-1.3 5.3-3-1.4-1.5-0.1-3 1.6 1.4 7-0.2 1.7-2.4 1.8 0.5 1.7 2.1 0.8 1.6-2.5 1.5-1.1 1.9 1.1 1.3 1.7 0.9 3.5-1.1 2.9-1.5 0.9-3-2.4-1.6 0.1-3 3.1-4.6-1.7-1.5 0.4-1.5-0.6-1.5-1.6-0.8 0.6-2.3 0.1 0.7-3.5 4.1-1.8-1.7-2.8-1.6-0.7-3 0.4-3-1.6-3 1.2-0.1 1.9-0.1-1.9-1.4-0.4-3 0.6-1.6-1.1-0.8 0.9-2.2 1-3-2-1.6 2.5 0 2.6-1.5 1.1-2.6-1.7-1.8-5.2-1.7-2-1.6 0.2 0.1 3.6-1.5-0.1-1.5-1.2-1.6-0.2-4.5 2.4 0 16.4 3-0.2 2-1.6-0.8-1.7 0.3-0.9 1.6 0.5 0.2 2.1 1.3 1.9 1.5 0.2 1.8-2.1 2.8-1.4 2.2 1.4-8.7 10.3 0.1 3.4-2.8 4.3-3-0.1-1.5-1 0 9.3 0.4 0.9-0.4 10.9 0.5 0.8-0.5 2.3 0 13.3 0.7 2.4-0.7 0.6 0 8.1 1.5 1.2 1.5-0.1 3.1-4.3 3 1.4 3-2.7 1.3 0.6 1.8 2.4 1.5-1.5 1.5-0.5 1.6 0.3 0 1.6-2.4 2.6-0.7 1.5-0.3 3.3zM434.2 368.9l-0.2-1.6 0.4-0.5 1.5-0.1 0.4 0.6-1.6 1.6-0.3 1.1zM444.8 364.1l-0.3-1.7 0.5-0.2 0 2zM438.9 360.8l3.1-0.9 1 0.9-2.5 1-1.5-0.6zM430.7 359.2l-0.9-0.5-1.5 0.3-3-2.3-1.5-2.4 1.5-1.8 1.5 0.5 0.5 1.3-0.8 1.6 0.3 0.6 3-1.3 4.6 1.4 0.5 1-0.5 2-1.5 0.8-1.5-0.1zM439.1 354.3l1.4-0.4 0.7 0.4-0.7 0.4zM435.7 351.1l1.7-0.3 0 0.4-1.5-0.1zM695 342.9l-0.8-1.7 0.4-1.6 1.4-1.3 1.5 0.6 1.1 0.7 0 1.6-1.1 1.6-1.5 0.5zM461.6 341.2l0.2-0.6 1.5-0.1 0 1.1-1.5-0.2zM685.3 341.2l-0.4-1.6 0.5-0.5 3 0.1 0.4 0.4-0.4 1.6-3 0zM423.1 337.9l0.6-2.3 1.6-0.5 3.1 1.1 0.8 1.7-0.9 1.3-4.6 0.1zM642.6 337.9l1.1-1.7 1.3 0 0.8 1.7-1.5 0.8-1.5-0.6zM446.5 336.2l0.1-1.6 1.5-1.7 1.5-0.4 2.3 2.1 0 1.6-0.8 0.7-4.5-0.6zM434.7 334.6l1.2-1.4 1.5 0.2 1.2 1.2-1.2 1.1-1.5-0.2zM460.2 334.6l1.6-3.7 1.5-0.6 2.3 1-0.3 1.6-1.6 1.7-1.9 0.6-1.5-0.4zM672.4 334.6l-0.7-1.3-4.6 0.1-0.7-0.5 1.8-1.6 3.5-0.3 1.5 0.9 3-0.4 0.5 1.4-0.2 1.7-1.8 1-1.5-0.6zM707.9 334.6l1.8-1.6 1.5-0.3 1.9 1.9-1.9 1.2-3-0.4zM416.9 332.9l0.8-1.2 0.7 1.2-0.7 0.8zM612.2 332.9l-0.9-1.6-0.3-3.4-0.8-1.6 2.2-3.1 3-1.1 3-2.5 1 1.6 0.4 3.4 1.9 3.3-0.2 0.8-1.5 1.5-3.1-0.7-3 4-1.5-0.5zM629.7 332.9l-0.5-1.6 1.4-1.2 1.5-0.3 3.1 2.9 3-0.1 0.2 0.3-1.7 1.2-3.1-0.8-3 0.4zM422.2 331.3l1.7 0-1.7 0.1zM455 331.3l-1.6-1.7 0.8-1.1 1.5 0.7 1.8 2.1-0.3 0.9-1.5 0.2zM656 331.3l-0.3-1.7 0.8-2.4 0.5 0.7 4.5 1.7-1 1.7-1 0.5-3 0.1zM686.2 329.6l0.1-1.7 0.6-0.5 0.5 2.2-0.5 0.7zM434 327.9l0.4-0.7 0 1zM458.9 327.9l-3.4-5 1.7-0.2 3.1 1.3 1.6 2.3-0.4 1.6-1.2 0.5zM625.3 327.9l-1.3-1.6-0.1-1.7 2.1-0.8 0.7 0.8 0.3 3.3-1 1.3zM439.6 326.3l0.9-2.1 1.5-0.1 0.8 0.5-0.2 1.7-2.1 1.2zM603.9 322.9l-1.3-3.4 0.6-0.8 3.2 2.5-1.7 2.5zM437.6 317.9l-0.5-1.7 0.3-1.3 1.6-0.4 3 0.5 1.8 1.2-1 1.7-2.3 1.2-1.5-0.8zM618.3 317.9l0.1-1.8 1.6 0.5 1.7-0.4-0.9 1.7-2.4 1.4zM432.3 314.5l0.6-0.8 1.1 0.8-1.1 1.7zM586.8 314.5l-0.6-1.7 0.3-3 0.3 1.3 2.9 3.4-1.7 1.4zM605.7 314.5l0.6-1.7 0 2.4zM450.4 312.8l0.7-0.9 0 1.8zM601.4 312.8l-1.2-1.8 0-2 1.5 0.1 1.5 1.7 0 1.1-1.5 1.3zM623.5 311.1l0.4-1.7 3.7-3.8 0.5 2.1-0.5 1-1.5 2.4-1.6 0.6zM443.4 309.4l0.5-1.7 1.1-1.2 1.1 1.2-1.1 2.4-1.5-0.5zM635.4 306l1.3-1.6 1.2 1.6-1.2 1.3zM602.7 304.3l0.1-1.7 1.9-2 1.6-2.8 3-1 1.9 2.3-3.4 2.9-1.5-0.2-3.1 2.9zM452.6 302.6l0-2 1.6-0.8 0.8 1-0.1 1.8-0.7 0.5-1.6-0.5zM628.4 300.8l0.7-0.9 0.5 0.9-0.5 0.6zM434.3 295.7l-1.5-3.5 1.6-1.1 0.9 1.1 0 1.7-0.9 1.9zM630.2 295.7l0.4-2.1 1.5-0.4 0 1.3-1.5 1.6zM635.2 295.7l1.5-0.3 0 0.6zM482.9 292.2l-1-1.7-0.2-3.5 1.4-2.8 1.5-0.5 1.5 1.6 1 3.4-4 3.6zM637.9 290.5l0.3-0.8 1 0.8-1 0.9zM599.7 287l0.5-0.7 2.2 0.7-0.7 1-1.5 0.7zM629 287l0.1-2.7 0.9 0.9-0.9 3.1zM611.8 285.2l0.6-1.7 1.7 1.7-1.7 1.2zM670 285.2l-4.4-3.3-1.3-3.7-3.5-3.5-2.5-3.6-0.3-1.7-1.3-1.8-0.3-1.8 0.8-7.2 0.8-1.2 1.6-0.6-0.1-2.3-1.5-1.5-1.5 0.4-1.6-0.9-0.5-1.1 0.2-1.9-1.2-1.5-1.5-0.7-1.5 0.7-1.5 1.6-3.1-1.3-3 3.5-2.7 1.4-1.1 5.4-2.3 2-1.3 3.4-2.8 1.8-0.1 1.8 1.1 5.3-2.5 3.6-1.1 3.5-0.9 0.6-1.2-2.4-3.4-3.4-1.5-0.7-3 1.2-3.1-2.7-1.5 1-1.5 2.5-4.6 2-1.5-0.2-1.5-1.2-6.1 0.1-4.6-1.8-1.5 0.5-0.8 1-0.7 2.5-4.6 1.7-5.2-2.5-1.2-1.7 0.5-3.6-4.7-2.3-1.6-2.8-1.5 0.6-3 3-3.1 0.5-0.5-0.8 0.8-1.7-0.3-2.8-1.5 0-1.5 1.6-1.5 0.6-1.2-1.2 0.2-1.8 1.1-1.8 0.5-3.6 2.4-2.8 0.9-2.6 2.7-1.8 0.8-1.8-0.9-1.9 4.4-3.6 2.8-7 3 0.5 1.5-1.3 1.6 0.3 3 2.4 1.5 0.1 1.5-0.4 0-2.1 4.6 1 1.5-0.8 1.5 0.3 1.6 3 1.5 1.2 1.5 0.5 1.5-1.5 1.5 0.3 3.1 2.2 3-1.2 1.6 0.1 2-1.3 2.1-5.6 0.4-0.4 1.5 0 1 4.1-1 1.4-1 0.5-0.2 1.8 2.8 0.2 1.5 0.6 0.6 1.1 0.3 3.6 3.6 3 1.6 0.3 1.5-0.5 1.5-1.5 3 0 1.6 2.4 3-0.9 0.8-0.9-6-7.4 2.2-4.5 6.1-1.7 4.5 0 4.6-1.7 7.6 0.8 1.5-0.6 0.5 0.3-0.3 1.9 0.4 1.8 0.9 0.9 1.5 4.7 1.6 0.2 4.5 1.9 0.8 1.5 2.3 2 3-0.1 3.1-1.8 2.4 1.8-0.8 1.8-2 1.8 0 1.8 2.3 1.8-0.8 3.6 0.4 3.6-1.1 1.8 1.8 3.5 0.3 1.8-1.4 1.8-2.5 1.8-0.6 3.5-2.7 3.5-1.4 1.7-1.6 0.1zM675.9 285.2l1 0-0.7 1zM521.5 283.5l-1-1.8 0.5-1.7 1.6-0.4 1.5 0.5 1.4 1.6-1 1.8-1.9 1zM580.2 283.5l0.4 0-0.2 0.7zM637.9 283.5l0.3-3.3 1.5 0.4 0 2.2-1.5 0.9zM502.6 281.7l0.6-1.7 1.2-1 2.6 1 0.4 1.8-1.5 0.5-3.1-0.3zM635.7 278.2l-0.2-1.7 1.2-5 3-4.2 1.6 0-1.3 2.1-0.5 3.5 1.5 3.6-2.8 3.3-1.5-0.8zM483 276.5l0.4-3.6 1.2-0.4 0.5 0.4-0.5 3.5-1.5 0.6zM499.1 276.5l0.9-5.4 0.5 3.6 0.8 0.3 0.9 1.5-2.4 1.5zM572 274.7l0.8-0.4 0.4 0.4-0.4 0.3zM647.9 272.9l1-0.6 1.5 0.1 0.3 0.5-0.3 0.7-1.5 0.2zM648.2 267.6l0.7-3 2.8 3-1.3 1.7-1.5-0.5zM648.1 262.2l-0.4-1.8 1.6-1.8 2.6-1.5 0.6 1.5-0.4 3.6-1.7 1.6-1.5 0zM510.6 258.6l1.4 0.1zM715.7 256.8l0.1-2.3 0.8 0.5-0.8 1.9zM702.8 255l0.1-1.8 1.7 0-0.1 1.8-0.9 0.9zM691.2 253.2l-0.8-1.8 5.6-3 1.4 1.1 0 1.9-1.4 0.8-4.6 1.1zM685.1 245.9l0.9-3.7 0.9-0.6 3.4 4.3-1.9 1.7-3-0.8zM710.2 245.9l1-3.4 1.5 0.5 0.2 2.9-1.7 1.7zM623 244l1.5-1.2 0.5 1.2-0.5 0.7-1.5-0.7zM671.3 240.3l0.2-1.8 1.7-0.2 0.3 0.2-0.7 1.8-1.1 0.2zM699.8 236.6l0.8-0.7 2.6 0.7-2.6 1.2zM704.9 236.6l0.2 0.1zM667.9 234.8l0.7-1.2 0 2.2zM571 231l-0.5-1.8 0.8-0.7 1.2 0.7-1.2 1.8zM682.1 215.9l0.6 0-0.4 1zM659.5 214l-2.1-1.9-0.9-3.4-1.6 2.6-1.5-0.9-1.3-4.1 0.1-2 1.5-1.9 4.3-4 1.5-0.7 3-0.3 1.6-1.1 4.5 0.7 3.1 1.5 1.5 1.2 0.6 2.7-0.4 1.9 0.6 3.9-0.8 1.7-6.1 3.5-4.6 0.8-3-0.2zM684.6 210.1l0.8-1.6 1.5 1 0 1.2-1.5 0.3zM676.7 204.3l1.1-0.6 0.3 0.6-0.3 0.5zM470.9 372.1l3.6 0-0.6-1.3-1.5-1-2.7 2.3zM492.2 372.1l18.5 0 1.3-0.7 1.3 0.7 2.8 0 0.4-1.3 1.5-1.4 1 2.7 4.5 0 0.2-1.6-2.6-3.2 0.2-1.6-0.9-3.3 0.7-2.4 1.5-0.5 1.5 0.8 4.6-0.5 1.5 1.1 6.4-8.2-0.2-1.6-1.6-1.4-1.5 1.1-0.9 1.9-2.8 1.6-0.9 4.7-1.5-0.5-0.4-4.2-1.1-0.9-1.6-0.1-1.1 1-0.6 1.6-1.3 0.8-3.1-0.2-0.8-0.6 0-1.6-2.2-2-2.9 0.4-0.1-1.8-3.1 2.5-1.5 0.3-1.5-0.4-0.7-0.6 0.6-3.3-4-4.9-2-0.7-1.5 0-0.4 2.3-2.2 1.7-0.5 1.1-1.5-0.8-3 1.6-1.5 0.1-1.6 2.4-1.5 0.9-1.5-0.2-1.5 2.2-3.1 0.3-0.9 0.5 0.9 1.5 2.9 0.2 1.7-0.7 3 2 1.6-3.6 1.5-0.4 6.1 2.6 4.4-1.6-0.5-1.6 0.6-1.3 1.5 0.2 1.1 1.1-1.1 1.5-0.9 0.1 0.9 0.3 1.1 3-0.8 1.6-1.8 0.5-1.5 1.6-3 0.4-3.1-0.6-0.8-1.9 0.5-1.6-1.2-0.9-1.5 1-3.1 0.1-0.7 1.4 0 1.6 1.6 1.7 1.9 4.8 0.3 3.2zM589.5 372.1l2.4 0-0.8-0.5-1.7 0.5zM597.1 366.6l1-0.9 0.1-1.6-1.1-1.4-0.9 1.4 0 1.6zM706.7 365.7l1.5 0.5 0.7-0.5 0.2-1.6-0.9-0.8-1.2 0.8-0.4 1.6zM607.8 364.1l0.9-1.7-4-4.7-1.5 0.3-0.8 1.2 0.5 1.6 1.8 2.3 2.6 1zM642.8 365.3l1.5-1.1 0.6-1.8-0.6-1-1.5 0.7-0.5 2zM665.6 359.5l1.5 1.2 1.5 0 3.4-4.8-0.9-1.6-2.5-1.7-0.3 3.3-1.2 1.5-1.7 0.2-0.2 1.6zM483.1 351.7l1.5 0.5 1.5-2.7 2.4-1.7 0.7-1.7-1.6-0.9-3 0.7-1.6 1.9-0.2 3.3zM603.2 351.3l2.2-0.2 0.7-1.7-1.4-0.7-1.5 0.5-0.1 1.9zM609.3 351.2l1.2-1.8-1.2-1.2-2.9 1.2 1.8 1.7zM665.6 351.2l1.5 0.6 1.1-0.7-1.1-3-1.5 0.4-0.1 2.6zM524.1 346.7l1.2-0.6-0.2-1.6-2.5-1.9-1 1.9 1.3 1.6zM519.6 343.1l0.6-0.2-0.6-1.4-1.6-0.9-0.5 0.6 1.3 1.7zM522.6 339.2l1.5 0.3 5.3-1.6 3.9-3 0.9 1.3-0.1 1.7 0.7 1 4.5-0.8 0.7-1.9 0.9-0.1 1.5 0.4 3 2.2 1.5 0.2 2-1-0.4-5-0.8-1.6-1.8-1.7-0.5-1.7 1.3-3.3-0.7-1.7 0.3-3.4-3.9-1.9-1.5 3.5-1.6 0.8-1.5 1.8-1.8-0.8 1.3-1.7-1-1.8-1.5 0.6-6.1 0.1-3 2.4-1.6 0.4-1.4 3.4-1.6 0.4-0.5 1.2 0.5 3.4-1 3.3 0.2 1.6 1.1 1.7zM556.1 333.6l2.9-0.7-0.7-1.6-2.2-2.3-1.5 0.1-0.5 0.5 0.1 1.7 1.1 1.6zM508.9 331.6l3.1-0.9 1-1.1-0.7-1.7-1.9 0.3-1.7 3.1zM568.2 331.3l3.1 0.6 0.3-0.6-1.7-1.7-1.7-0.3-1.1 0.3 1.1 1.7zM613.9 327.2l1.5 0 0.4-0.9-0.4-0.8-1.5-0.4-0.6 1.2zM548.5 319.9l1.5-0.5 2.7-3.2 1.9-1.1 1.5 0.2 1.5 2.8 1.5-0.4 1.5-1.3-0.2-1.9-4.3-4.5-1.5 0-4.6-2.7-0.6 0.4-0.9 1.7-0.7 3.4 0.8 3.4-0.7 1.7 0.1 1.6zM537.8 316.9l2.3-0.7-0.1-1.7-2.2-0.5-0.5 2.2zM475.5 312.8l1.4-1.7-1.4-0.9-0.8 0.9 0.8 1.7zM685.4 311.2l1.3-5.2-0.3-1.7-1-1.2-3.1 1.1-1-1.6-0.5-2.6-0.7 2.6 0.6 1.7 1.5 1.7 1.6 5 0.9 0.1zM531.7 307.7l1.6 0.4 0.8-0.4-0.8-2.9-1.6 2.9zM674.7 308.2l1.5 0.2 0.8-0.7 0-1.7-0.8-0.9-1.5 0.1-0.6 0.8 0.1 1.7zM571.3 304l1.7-1.4-1.7-0.7-0.6 0.7zM534.8 301.4l4.5 0.6 1-1.2-1.1-5.1-1.4-1.5-1.5 0.2-1.8 3-0.5 1.7 0.6 1.7zM536.9 297.4l0.9-0.3 1.4 0.3-1.4 0.3zM662.5 301.6l1.1-0.8-0.3-1.7-0.8-0.4-1.4 0.4 0.2 1.7zM668.6 300l1.5-1.1 0.6-1.5-0.2-1.7-0.4-0.7-1.5 1.4-0.2 2.7zM460.3 294.8l0-1.4-0.5 0.5zM671.7 294.1l0.4-1.9-0.4-0.3-0.2 2zM458.7 288.8l1.6 0.7 0.9-0.8 0-1.7-0.9-1.8-1.6-0.8-0.3 4.3zM536.3 288.8l2.5-1.8 0.5-1.5 0-5.7-3 2.2-3-0.7-2.6 2.2-0.3 1.7 1.3 1.5 3.1 1 1.5 1zM554.6 285.3l1.5 0.7 0.8-0.8 0.5-1.7-1.3-1.2-2.1 1.2 0.5 1.7zM703.6 283.9l1.5 0.8 3.1-0.7 1.5 0.9 1.5-0.1 1.5-1.2 3.1 1.2 1.5-0.9 1.5 1.2 0-4.8-1.5 1.4-1.5-1.1-1.5 0.3-1.6 2.3-1.4-3.2-1.6-0.7-1.5-2-4.6-0.6-1.7 3.3-0.1 1.7 1.3 1.8zM594.1 243l2.1-0.8-0.6-1.1-1.5-0.2-0.9 1.3zM658 240.9l0.9-0.6-0.9-0.5-0.3 0.5zM469.4 231.8l1.5 0.4 3.7-3 0.8-1.9 0.8-7.6-2-3.8-1.8-4.9-3.7-2.8-0.4-3.9-1.5-3.9 3-3.9 3.1-5.9 1.1-6 2.3-6 0.4-6.1 1.5-4.1-2.5-4.1-7.8-17-2.6-4-4.2-4.3-2.5-6.5-4.7-4.4-2.4-4.4-6.9-4.4-1.4-2.2-0.7-4.5-1.6-2.3-3.5-1-4.7-3.5-0.5-2.3 0.4-2.3-0.8-2.3-2-0.1-1.5 1.7-1.5-0.8-1.5-2.2-3.1-2.3-4.5-8.5-1.6-0.6-0.2-1.2-4.3 0 0 14.5 3-4.3 1.5 0.5 1 5.6 2.3 4.6-1.4 4.5 3.3 6.8 1.4 6.6 2.5 4.4-0.2 2.2-2.4 2.2 1.3 4.3-1.2 4.3 1.6 4.3 0.6 6.4 4 8.3 0.9 12.4 1.6 2 2.9 6.1 0.6 4 1.5 4 1 0.6 3.1-0.2 2.4 1.6-1.4 3.9-3.1 5.9-1 0.3-3-1.5-1.5 0.1-1.6 1.1-1.6 3.9-0.6 3.9 0.3 1.9 0.4 1.3 3.1 1.9 1.5 2.6 1.5 1.2 3.1 0 3-4 1.2 0.9 1 1.9-1.2 1.9 2 0.4 2.7-2.3 1.9-2.6 1.5-0.5 1.5 0.7 0.5 2.4 1.1 1.7 1.5 0.5 1.5 2.4 1.5 1 3.1 1 1.5 1.3 3 3.4 2.4 3.8zM469.4 229.2l-3.1-4.8-4.5-4-2-0.7-0.5-1.9 0.9-1.9-0.2-3.8 1.8-1.7 1.5-0.1 6.1 1.7 1.5 1 2.6 6.7 0.3 5.7-0.6 1.9-2.3 1.6-1.5 0.3zM451.9 202.4l-0.1-2 0.8-0.8 1.6 0 1.6 2.8-3.2 0.4zM461.4 194.5l-1.1-2.4-4.6-2.1-4.6-1.4-4.5-0.1-7.6-1.8-1.6-1-1.5-2.5-2.5-8.7-2.2-4.1 0.2-3.2 2.2-2.9 0.1-2.1-1.8-8.3-1.7-2.1-0.6-2.2 3.3-4.2-1.5-2.6-0.4-1.7 0.7-2.1-0.2-2.2 1.1-2.1-0.4-2.2-1.5-2.2 0.7-0.5 1.1-3.9 0.1-2.2-1.2-4.4-1.6-1.4-1.5 0-0.9-0.8-0.4-2.3 2.8-2.9 4.6-0.2 4.6 1.9 1.5 1.8 2.4 6.1 3.7 1.1 1.1 1.1 19.8 25.9 1.4 4.3 7 14.5-1 4.1 0.4 4.1-0.9 4-1.8 4-1.7 5.6-1.5 0.9-4.6 0.4-1.1 1.1-0.4 2.4-1.5 0.2zM423 112.6l0.7-2.3 0 2.5zM664.1 228l1.5-0.1 0.3-0.6-0.5-1.9-1.3-1.3-1.5 1.3 0.6 1.9zM718.8 191.3l-0.2-0.7zM630.6 160.6l1.5 0.6 0.8-1.1 1-4.1 1.3-2.7 1.5-1.5 3-0.9 2.9-3.4 0.3-4.2 1.6-4.3-3.2-1.9-0.6-2.4-1-1.2-3-0.6-1.5-5.2-4.6-0.5-1.5 1.1-1.5 0.3-6.1-2.7-1.5 1.8-1.8 4.8-1.6 2.2-0.1 2.1 1.7 2.2 0.6 2.1-0.3 4.3 3 3.8 1.7 4.7 1.3 0.5 3.1 4.6 2.3 1.1zM628.6 156l-1-0.7-0.5-1.4-0.1-6.4-2.3-6.4 0.4-4.3 0.9-2.7 1.6-1.7 3.2 4.4 3.2 2.2 0.6 2.1-0.6 2.2-0.2 8.5-1.7 3.5-3 0.8zM594.1 139l1.5 1 0.7-1-0.6-2.2 1.1-4.3 0-2.2-2.7-8.8-1.5 0.3-1.5-1.2-1.6-0.1-1.1 1-1.2 2.2-0.5 4.4 0.5 2.2 3.9 6.7 3 2zM589.6 130.3l-0.1-3 1.2-1.4 0.6 0 1.7 4.4-0.4 0.9-1.5 0.9zM667.1 114.1l1.5 0.3 1.5-0.7 3.1-3.1 3 2.4 2.3-9.5-0.7-3.1-3.1-2.3-1.5 0.8-1.5 1.7-3.1 0.2-4.3 5 2.1 4.5-0.3 2.3zM673.8 105.8l0.9-1 0.7 1-0.7 0.4zM571.3 111.2l1.5-0.6 0-0.9-1.5-0.9-1.2 1.5zM600.2 100.7l1.5-0.9 1-3.2-0.1-7-0.7-4.7-7.3 0 1.6 9.4 2.7 4.6zM565.2 92.1l1.8-0.1 0.4-2.4-0.7-1.7-1.5-0.5-2.3 2.2 2.1 2.4z" fill="#fbdada" fill-rule="evenodd"/>
<path d="M445 372.1l0.5 0-0.5-1.3-1.4 1.3zM516.5 372.1l2.5 0-1-2.7-1.5 1.4-0.4 1.3zM434.4 370l0.3-1.1 1.6-1.6-0.4-0.6-1.5 0.1-0.4 0.5 0.2 1.6zM412.3 357.6l-0.7-2.4 0 3zM696 343.3l1.5-0.5 1.1-1.6 0-1.6-1.1-0.7-1.5-0.6-1.4 1.3-0.4 1.6 0.8 1.7zM685.4 341.2l3 0 0.4-1.6-0.4-0.4-3-0.1-0.5 0.5 0.4 1.6zM435.9 335.5l1.5 0.2 1.2-1.1-1.2-1.2-1.5-0.2-1.2 1.4zM460.3 334.8l1.5 0.4 1.9-0.6 1.6-1.7 0.3-1.6-2.3-1-1.5 0.6-1.6 3.7zM673.2 335l1.5 0.6 1.8-1 0.2-1.7-0.5-1.4-3 0.4-1.5-0.9-3.5 0.3-1.8 1.6 0.7 0.5 4.6-0.1 0.7 1.3zM708.2 335.4l3 0.4 1.9-1.2-1.9-1.9-1.5 0.3-1.8 1.6zM717.3 334.8l1.5 0.2 0-1.2-1-0.9-1.1 0 0.3 1.7zM417.7 333.7l0.7-0.8-0.7-1.2-0.8 1.2zM612.4 333l1.5 0.5 3-4 3.1 0.7 1.5-1.5 0.2-0.8-1.9-3.3-0.4-3.4-1-1.6-3 2.5-3 1.1-2.2 3.1 0.8 1.6 0.3 3.4 0.9 1.6zM613.3 326.3l0.6-1.2 1.5 0.4 0.4 0.8-0.4 0.9-1.5 0zM411.9 329.6l-0.3-2.6 0 3.4zM686.9 330.3l0.5-0.7-0.5-2.2-0.6 0.5-0.1 1.7zM434.4 328.2l0-1-0.4 0.7zM460.3 328.4l1.2-0.5 0.4-1.6-1.6-2.3-3.1-1.3-1.7 0.2 3.4 5zM440.5 327.5l2.1-1.2 0.2-1.7-0.8-0.5-1.5 0.1-0.9 2.1zM673.2 325l1.5-0.4 0.4-1.7 1.1-1.5 4.6 0.7 1.5 3.4 3.1-0.4 1-2.2-0.5-3.4 1-1.4 1.5 0.3 3-3.6 0.8 4.7 0.8 1.7 1.5 0.3 1.5-1.7 6.1-0.5 1.5-1.5 1.5-0.3 6.1 0.7 1.5-4.7 1.6-0.6 1.5 0.8 1.5-0.8 1 3.3 0.5 0.3 0-16.3-1.5 0.8-1.5 3.6-3.1 0.1-3-1.3-1.5 1.1-1.5-0.5-2.9-4.9-3.2 0.6-3.2-2.3-1.7-1.7 1.2-1.8-0.9-1.1-1.5-0.7-3.1-3-3.4-2.1 0.4-1.8 1.5-1.3 4.6-0.6 1.5 0.3 1.5 1-0.1 2.4 1.6 2 0.8-0.3 0.8-1.8 1.5-0.7 1.5 1.1 3.1-0.5 4.5 1.6 0.8 0.3 0.7 3.6 3.1 1.3 3 2.5 0-11-1.5-1.2-1.5 0.9-3.1-1.2-1.5 1.2-1.5 0.1-1.5-0.9-3.1 0.7-2-1.2-1.3-1.8 0.3-2.5 1.5-2.5 4.6 0.6 1.5 2 1.6 0.7 1.4 3.2 1.6-2.3 1.5-0.3 1.5 1.1 1.5-1.4 0-8.5-1.5-1-1.5-0.1-1.5 2.4-1.6-2 1.9-1.7-3.4-5.1-3-1-3.1-3.2-3-0.4-3.1 1.2-1.5-0.8-1.5-2.3-1.5-0.4-1.5 0.4-3.1 4.4-2.9 1.8-1.6 3.2 0.2 5.7 0.8 1.8-2.6 1.5-3 0.7-1.7 1.3 1.1 1.8 0.1 1.7-2 3.5 3.3 1.8 0.6 1.7-2.9 1.3-4.6 0.5-1.5 1.1-2.2-2.9-3.9-1.8-3 1.1-3.9-1-0.7-3.7-1.5-0.3-2.4 0.5 0.9 1.3 2.7 0.4-2.7 2-4.2-3.7-2.1 0-0.6 1.7 0.4 1.8-1.1 2.7-3.1 0.7-0.4 1.8 1.9 2.7 1.6 0.2 1.5 1.1 0.3 1.2 0.1 1.7-0.4 1.2-1.1 0.5-0.2 1.8 1.3 8.5-2.2 1.7-0.9 1.7 0.1 1.7 3 2 1.7 3 2.8 0.4 1.6-1.1 1.4-2.6-0.4-3.4 0.5-1.2 3-1.8 1.5 0.8 1.7 2.2 1.6 5 4 1.7 3 3.4zM694.2 314.5l0.3-1 0.4 1-0.4 0.5zM665.5 311.1l0.1-0.5 1.5-0.3 0.5 0.8-0.5 0.8-1.5-0.6zM684.7 311.1l-0.9-0.1-1.6-5-1.5-1.7-0.6-1.7 0.7-2.6 0.5 2.6 1 1.6 3.1-1.1 1 1.2 0.3 1.7-1.3 5.2zM695.2 311.1l-0.4-1.7 1.2-1.6 1.5 0.1 0.6 1.5-0.6 1.1-1.5 0.9zM703.1 311.1l-2.1-1.7-0.3-1.7 2.9-2.4 3.1 1.7 0.4 0.7-0.3 1.7-1.7 3.1-1.5-1.1zM674.2 307.7l-0.1-1.7 0.6-0.8 1.5-0.1 0.8 0.9 0 1.7-0.8 0.7-1.5-0.2zM661.3 300.8l-0.2-1.7 1.4-0.4 0.8 0.4 0.3 1.7-1.1 0.8zM668.4 299.1l0.2-2.7 1.5-1.4 0.4 0.7 0.2 1.7-0.6 1.5-1.5 1.1zM686.6 295.7l0.3-1.2 0 1.7zM671.5 293.9l0.2-2 0.4 0.3-0.4 1.9zM661.9 292.2l0.6-0.5 0.5 0.5-0.5 0.5zM693.6 265.8l0.9-2.3 1.7 2.3-1.7 1.4zM604.7 323.7l1.7-2.5-3.2-2.5-0.6 0.8 1.3 3.4zM618.4 319.3l2.4-1.4 0.9-1.7-1.7 0.4-1.6-0.5-0.1 1.8zM432.9 316.2l1.1-1.7-1.1-0.8-0.6 0.8zM588 315.9l1.7-1.4-2.9-3.4-0.3-1.3-0.3 3 0.6 1.7zM451.1 313.7l0-1.8-0.7 0.9zM601.7 313.2l1.5-1.3 0-1.1-1.5-1.7-1.5-0.1 0 2 1.2 1.8zM624.5 311.7l1.6-0.6 1.5-2.4 0.5-1-0.5-2.1-3.7 3.8-0.4 1.7zM443.5 309.6l1.5 0.5 1.1-2.4-1.1-1.2-1.1 1.2-0.5 1.7zM636.7 307.3l1.2-1.3-1.2-1.6-1.3 1.6zM629.1 301.4l0.5-0.6-0.5-0.9-0.7 0.9zM434.4 295.8l0.9-1.9 0-1.7-0.9-1.1-1.6 1.1 1.5 3.5zM460.3 296l3 0.8 3-3.1 1.6-0.1 3 2.4 1.5-0.9 0.7-1.2 0.2-3.4-0.7-1.8-1.7-2-1.5-0.8-1.5 1.1-1.6 2.5-2.1-0.8-0.5-1.7 2.4-1.8 0.2-1.7-1.4-7 3-1.6 1.5 0.1 3 1.4 1.3-5.3 6.3-1.7 3.1-2.7 3 2 3.1 0.9 6-6.4 3.1-1.7 1.6-2.9 1.4-1.3 3.1-0.7 3-2.1 4.6-1.4 3 0 3.7-1.7 0.9-0.7 1.5-2.9 1.5-1 3.1-0.3 1.5-0.8 3 0 6.1-1.9 6.1 1.8 2.6 3.9 1.9 0.5 2.3 3.2 2.4 1.8 0.2 1.8-1.1 5.4 0.8 3.2 1.5 0.7 1.6-1.4 3 0 1.1-0.7 1.1-1.8-0.2-1.8 2.3-1.8 1.1-1.8-0.6-1.8-1.7-1.8-0.1-1.8 1.6-2.6 1.5 0.9 1.5 0.2 0.4-0.4 0.3-1.8-0.7-1.5-1.5-0.3 2.4-3.7-2.4-1.3-1.5 0-1.5-2.4 1.9-1.9 1.5-7.4 2.6-2.3 1-1.5-0.1-1.9 0.6-2.4 4.6-0.8 1.5 0.5 1.3-1.1-0.9-3.8 2.5-1.9 1.7-2.6 0.6 0.7-0.2 3.8 0.8 7.6 1.8 0.6 1.6-0.4 1.5 1.9 1.5-0.2 1 1.9 2 1.9 1.6 3 1.5 0.6 3-2.6 4.6-0.6 3.3 5.2 1 3.7 1.8 1.4 1.5-0.3 1.4-1.1-0.1-3.7 0.6-1.9 2.7-2.7 3 1 1.5-0.5 3.1 1.8 4.5-1.8 4.6 3.8 3-0.3 3.1 1 2.3-0.4 2.2-3.6 1.6-0.3 1.5 0.9 1.5 0.2 1.2-1 0.3-2.3 3.8 0.5 1.5 1.8 2.3 1.4 3.1-2.2 1.5-0.1 1.5 1.9 3 1.8 1.6 0.2 1.5-2.5 1.5-0.7 1.5 1.7 1.5-1 1.6-0.2 2.3 1.6 0.7 3.3 1.5-0.4 3.1 2.7 0.9-1.9 0-3.7-0.9-1.3-3.1-1.5-0.1-2.8 1.8-1.9-0.5-3.8-1.2-1.6-1.5-0.2-3-3-1.6 0.5-6-0.5-3.1 1.8-1.5 0.3-1.5-0.8-3.1 0.6-1.5-0.4-3-2-1.5 0.1-3.6-4.3 0.7-5.8-0.9-5.9 0.5-1.9 1.7-1 3.1 0.4 4.5-0.9 3.1-1.8 7.6-2.7 4.5 2.6 1.6 0.4 3-0.3 1.5 0.6 0.7 0.7 0.9 3.2 2.5 2.7 0.5 1.9 3-0.8 3.1 1.7 1-0.9-0.1-1.9 0.6-0.7 3-1 4.6-0.3 1.5 1.3 1.1 2.6-0.3 3.9 0.8 3.9-0.1 1.9-1 1.9 2.6 1.9 1.5-0.1 4.6 1.1 3-0.8 6.1-4.6 3-0.8 0-4.7-1.5 0-1.5-0.8-6.1 6.4-3-0.1-1.6 0.5-1.5-1.3-2.1-12.2 1-3.9-0.4-3.7-4.6-0.6-3 0.4-4.6 4.1-3 1.7-1.5-1.3-0.2-2.6-1.4-1-3 0.7-9.1-1.9-1.6-0.8-3-3.5-4.6 2.9-1.5-0.1-1.5-1.4-4.6 0.5-3 1.1-3 3.4-3.1 0.5-2.3 3.6-0.3 1.9 0.6 3.9-2.7 11.6 2.4 3.8 0.2 1.9-0.9 1.1-1.5-0.5-1.6 0.7-3 4.1-1.5-0.8-2-2.7 0.9-3.8-3.5-0.3-3-1.2-2.8 1.5 0.7 3.8-1 1.3-1.5 0.3-3-1.3-5.1 3.5-1 0.2-3.1-0.9-1.5 0.6-2.4-1.8-3.7-1-3 0.1-3.1 0.9-0.5-1.9 2.1-2.5 0.4-1.3-0.4-0.5-1.4 0.5-1.7 1.6-4.5 1.9-1.6-1.7-3.1-1.8-0.8-1.9 0.9-2.8 2-2.9 0.3-2-0.6-1.9-1.7 1.2-1.5 0.3-1.5-0.7-1.6-5.1-1.5-0.4-1.5 1.4-3.1-0.2-1.5 1-1.5-1.9-1.5 0-1.4 2.5-3.2 0.5-0.4 1.4 1.7 7.7-2.8 6.9-4.1 4.5-0.5 4.3-5.4 5-0.6 3.3-3.1 2.9-3 0-3.1 1.2-1.5 0-3-1.1-3.1-2.9-1.5-0.1-9.1 3.3-4.6 0.4-1.5 0.6-2.9 5.3-3.2 1.8-1.5 0.3-3.1-0.7-6 2.4-3.1-0.7-3 0.5-2.9 5.5-3.2 1.7-3.5-1.7-5.6-6.2-3.1-0.6-1.2 1.4 0.7 7.2 1.7 1.8-0.1 1.8-1.1 0.5-1.5-1.8-1.5-0.3-1.5 1.2-1.6 0.3-1.5-1.8-1.6 1.9-2.9 1-3.1-2.3-2.9 1.3-0.9 1.8 0.2 1.8-3.8 3.5-1.7 3.7-3.2 3.4-2.9 1.4-4.6-1.2-3-3.8-1.5-0.1-4.6 2.7-4.5-0.3-4.6-4-3.1-0.1-1.5-2.5-4.5-0.6-2.2-2.1-3.6-1.8-0.3-2.4 0 17.8 0.9 0.5-0.9 2 0 2.5 4.5-2.4 1.6 0.2 1.5 1.2 1.5 0.1-0.1-3.6 1.6-0.2 1.7 2 1.8 5.2 2.6 1.7 1.5-1.1 0-2.6 1.6-2.5 3 2 2.2-1 0.8-0.9 1.6 1.1 3-0.6 1.4 0.4 0.1 1.9 0.1-1.9 3-1.2 3 1.6 3-0.4 1.6 0.7 1.7 2.8-4.1 1.8-0.7 3.5 2.3-0.1 0.8-0.6 1.5 1.6 1.5 0.6 1.5-0.4 0.9 0.6zM459.8 293.9l0.5-0.5 0 1.4zM458.4 288.7l0.3-4.3 1.6 0.8 0.9 1.8 0 1.7-0.9 0.8-1.6-0.7zM609.2 229.2l0.1-1.1 0 1.2zM626 227.3l0.5-1.9 2.8-1.9-0.2 2.4-0.8 1.4-0.7 0.4-1.6-0.4zM663.2 227.3l-0.6-1.9 1.5-1.3 1.3 1.3 0.5 1.9-0.3 0.6-1.5 0.1zM636.7 296l0-0.6-1.5 0.3zM483.1 292.3l4-3.6-1-3.4-1.5-1.6-1.5 0.5-1.4 2.8 0.2 3.5 1 1.7zM676.2 286.2l0.7-1-1 0zM522.6 284.5l1.9-1 1-1.8-1.4-1.6-1.5-0.5-1.6 0.4-0.5 1.7 1 1.8zM638.2 283.7l1.5-0.9 0-2.2-1.5-0.4-0.3 3.3zM502.8 282l3.1 0.3 1.5-0.5-0.4-1.8-2.6-1-1.2 1-0.6 1.7zM636.7 279l1.5 0.8 2.8-3.3-1.5-3.6 0.5-3.5 1.3-2.1-1.6 0-3 4.2-1.2 5 0.2 1.7zM572.8 275l0.4-0.3-0.4-0.4-0.8 0.4zM648.9 273.8l1.5-0.2 0.3-0.7-0.3-0.5-1.5-0.1-1 0.6zM648.9 268.8l1.5 0.5 1.3-1.7-2.8-3-0.7 3zM648.9 263.8l1.5 0 1.7-1.6 0.4-3.6-0.6-1.5-2.6 1.5-1.6 1.8 0.4 1.8zM475.5 259.4l0.3-0.8-0.3-1-0.1 1zM475.5 254.2l1.5-1.2 0.8-1.6-0.3-1.9 0.7-1.8-1.2-0.2-1.5 1.1-1.1 2.8 0.5 1.8zM691.4 253.3l4.6-1.1 1.4-0.8 0-1.9-1.4-1.1-5.6 3 0.8 1.8zM413.1 246.3l0.9-2.3-0.9-1.5-1.5-0.7 0 4.8zM478.5 247.2l0.8-1.3-0.9 0zM711.2 247.6l1.7-1.7-0.2-2.9-1.5-0.5-1 3.4zM480 242.9l0.7-0.7 0.8-3.7 1.1-1.9 0.3-1.8-2.9-2.1-1.5-1.7-0.7-1.8-0.3-5.7 1.9-3.8-0.4-1.9-2-2.1-2.7-7.5-2.9-3.9 1.3-1.9-0.4-5.9 0.8-2 1.9-1.9 0.9-6 2.6-8.2 1.1-1.8 0.4-2.5 4.3-3.7 0.2-4.1-0.9-2-2.1-2.3-1.5-3.4-1.5-0.9-1.5 0.8-1.5-0.3-1.9-4.3-0.1-2.1-2.6-2.7-1.5-3.7-0.8-4.3-0.7-0.9-3.1-1.2-1.9-2.2-1.2-4.3 0.6-2.2-0.4-2.2-1.6-3.1-2.5-1.3-0.1-2.2-3.5-2.6-3.1 0.8-5-2.6 0-4.5-4.1-5.1-3-0.8-1.6-1.3-1-1.9-0.8-4.6-1.1-2.3-1.6-1.7-3.1-0.7-1.1-2.2-0.4-3.1-2.1-4-10.3 0 0.2 1.2 1.6 0.6 4.5 8.5 3.1 2.3 1.5 2.2 1.5 0.8 1.5-1.7 2 0.1 0.8 2.3-0.4 2.3 0.5 2.3 4.7 3.5 3.5 1 1.6 2.3 0.7 4.5 1.4 2.2 6.9 4.4 2.4 4.4 4.7 4.4 2.5 6.5 4.2 4.3 2.6 4 7.8 17 2.5 4.1-1.5 4.1-0.4 6.1-2.3 6-1.1 6-3.1 5.9-3 3.9 1.5 3.9 0.4 3.9 3.7 2.8 1.8 4.9 2 3.8-0.7 6.7-1.6 3.6-3 2.2-1.5-0.4-6.1-8-1.5-1.3-3.1-1-1.5-1-1.5-2.4-1.5-0.5-1.1-1.7-0.5-2.4-1.5-0.7-1.5 0.5-1.9 2.6-2.1 1.9-2.1 0.4-0.5-0.4 1.2-1.9-1-1.9-1.2-0.9-3 4-3.1 0-1.5-1.2-1.5-2.6-3.1-1.9-0.7-3.2 1.1-5.8 1.1-2 1.6-1.1 1.5-0.1 3 1.5 1-0.3 3.1-5.9 1.4-3.9-2.4-1.6-3.1 0.2-1-0.6-1.5-4-0.6-4-2.9-6.1-1.6-2-0.9-12.4-4-8.3-0.6-6.4-1.6-4.3 1.2-4.3-1.3-4.3 2.4-2.2 0.2-2.2-2.5-4.4-1.4-6.6-3.3-6.8 1.4-4.5-2.3-4.6-1-5.6-1.5-0.5-3 4.3 0 48.1 3-3.7 1.5-0.3 2 1.9-0.4 3.5-1.5 2.9 1 2.1 3.5 0.8 1.5 3.7 1.5 1.2 1.6 0 1 2.6-1.8 6.2 0.5 4.1-1.1 2-0.2 2.5 1.6 1.1 3-1.6 1.5 0.3 0.6 1.8 1.9 2 0.1 2-0.9 4-0.3 6-1.4 2.2-3-0.5-4.6 2-3 0.1-7.6-3.9 0 14.4 3-3.2 1.5 0.4 1.6 1.6 1.5 0.1 2.3-3.4 0.7-2.2 1 4.1-1.2 5.8 0.7 2 3.6 3.8 1.3 3.8-0.8 0.2-1.5 2.7-0.9 2.8 1.6 1.9 0.4 1.9-0.1 1.8-1.2 1.9 0.2 1.7 3-2.1 1.5-0.4 4.6 1.1 3-0.7 3.1-3 4.7-2.2-0.4-1.9-1.8-1.9 3.6-1.6 1.5 1.1 3 0.2 4.6 2.4 1.5-1.3 1.5-0.3 3.1 0.7 2.6 2.6 5 7.3 3 0.5 3.1-1.6 1 1.3 0.3 5.5 2.3 1.9zM427.7 221.6l0.6-1.6 0.9 1.6-0.9 0.3zM416.1 136.8l0.9-2.1 0.7-0.5 0.4 0.5 0.4 2.1-0.8 0.7-1.6-0.7zM671.7 240.5l1.1-0.2 0.7-1.8-0.3-0.2-1.7 0.2-0.2 1.8zM700.6 237.8l2.6-1.2-2.6-0.7-0.8 0.7zM705.1 236.7l-0.2-0.1zM668.6 235.8l0-2.2-0.7 1.2zM419.2 231.9l0.5-0.9-0.5-4-0.5 4zM714.3 225.5l4.5 1.5 0-5.1-1.5 1.4-3 0.2-1.6-0.6-0.6 0.6 2.1 1.9zM416.1 224.4l1.3-2.8-1.4 0-0.5 1.9zM677.8 204.8l0.3-0.5-0.3-0.6-1.1 0.6zM717.3 196.1l1.5-0.2 0-8.4-2.5 1.1-0.5 1.2-1.5 0.5-1.6-0.5-1.5-1.6-1.5-0.6-3-0.3-2.2 1.3 0.7 2 4.5 2.5 3-0.3 1.6-1.8 1.5 0.5 0.7 3zM702.1 191.6l2-1-2.2 0zM486.1 187.1l1.9-2.5-0.4-2.4-1.5 1.3-0.5 3.1zM422.2 182.1l1.5-0.7 0-1.8-1.5-1-1.3 2zM636.7 174.9l1.5 0.4 0.7-0.8 0.5-4.1-0.4-2-3.4-4.1 0.1-6.3 1-1.9 3-1.1 7.6-6.8 1.6-0.1 0.7-0.6 0.7-2.1-1.8-2.1-0.7-2.2 0.8-4.3-3.5-4.3-0.8-2.9-1.1-1.5-1.9-1.4-1.6 0.1-0.9-0.9-0.9-2.2-1.7-2.2 0.5-2.2 1.5-1.6 1.5-3.4 0-4.5-1.5-3.3-1.5-1.1-0.8 0.4-0.7 2.3 0.4 2.2-0.4 2.3 0-4.5-0.9-2.3-2.2-3.8-1.5-1-1.5 0.6-1.5 1.5-1.6 0.4-6-3.4-1.5 1.1-1.6 3.1-3-0.1-2.8 1.6 0.5 4.5-0.8 6.8 0.3 4.4 1.3 3.9 0.9 0.5-1.5 4.4 0.2 2.2 1.3 4.3-1.2 6.5 1.2 6.3 0.6 1 2 1.2 2.5 3.6 1.6 0.4 3 2.2 1.5-0.2 6.1 7.8 1.5 1.1 1.5 0.1 0.2 1.6 2.3 4.1 0.4 2zM629.9 160.1l-2.3-1.1-3.1-4.6-1.3-0.5-1.7-4.7-3-3.8 0.3-4.3-0.6-2.1-1.7-2.2 0.1-2.1 1.6-2.2 1.8-4.8 1.5-1.8 6.1 2.7 1.5-0.3 1.5-1.1 4.6 0.5 1.5 5.2 3 0.6 1 1.2 0.6 2.4 3.2 1.9-1.6 4.3-0.3 4.2-2.9 3.4-3 0.9-1.5 1.5-1.3 2.7-1 4.1-0.8 1.1-1.5-0.6zM614.8 128.1l0.6-1.7 1 1.7-1 0.5zM493.7 166.4l-0.4-0.1zM581.9 154.4l1.6 0.3 1.6-0.8-0.1-2.7-3.1-1.3-1.1 1.9 0.6 2.1zM673.2 150.3l1.5 1.2 1.5 0.2 3.1-2.6 1.5 0 0.7-3.7-0.7-1.1-1.5-0.9-3.1 0.5-3.7 3.6 0.1 2.1zM708.2 149.8l3-1.8 1.5 0.5 1.8-3.1 0-2.1-1.8-0.7-1.5 1.7-3 0.6-1.1 2.6 0.9 2.1zM585 146l4.5-0.7 3.1-1.7 1.5 0.2 1.5 1 1.5 0 3.1-2.5 1.5-0.4 1.5-3 3.1-0.9 0.4-3.3-1.3-4.4-0.5-4.4-3.2-1.1-1.5-3.7-1.5-1.6-1.6 0.8-4.5-7.1-1.5-0.7-3.1-1.2-1.5 2.5-3 0.1-1.8 0.9-1.3-2.2 0.8-2.3 0.7-1 4.6 1.8 1.5-3 0.8-4.6-0.3-2.3-2.5-4.6 0-2.3-1-2.3-0.8 2.3 0.3 2.3-1 2.5-1.6-2.3-1.5-0.6-1.5 0.7-0.5-2.6 0.5-1.3 3 0 1.6-2.2 0.3-3.5-1.9-2-1.5 0.6-1-1-34.4 0-1.1 1.7-1.8 0.7-0.2 2.3 2.3 2.4-0.1 2.3-1.5 2.3 1.3 4 1.5-1.6 1.5-3.6 1.8-1.1 0.8-2.3-1-2.4 3-3.8 1 1.5 0.5 3.4 1.6 1.2 1.5-2.2 1.5-1.1 1.1 1 2.7 4.7-4.3 6.9-0.5 2.3 1.4 4.6 1.2 2.2 3 2.5 1.3 2 1.7 4.7 1.5 1.8 3.1 0.8 4.5-1.9 1.5 0.4 3.1-0.9 1.3 1.8-1.5 4.4 0.2 2.2 1.5-1 1.7 1 1.9 4.4 2.4 2.2 1.3 6.4-0.4 2.2-0.8 1.2-1.5-0.1-0.3 1zM594.1 139l-3-2-3.9-6.7-0.5-2.2 0.5-4.4 1.2-2.2 1.1-1 1.6 0.1 1.5 1.2 1.5-0.3 2.7 8.8 0 2.2-1.1 4.3 0.6 2.2-0.7 1-1.5-1zM570.1 110.3l1.2-1.5 1.5 0.9 0 0.9-1.5 0.6zM575.1 105.8l-0.8-2.3 1.5-2.2 1.1 4.5-1.1 1.1zM565 92l-2.1-2.4 2.3-2.2 1.5 0.5 0.7 1.7-0.4 2.4-1.8 0.1zM546.4 87.3l0.7 0-0.2 0.8zM706.7 141.9l0.9-2.9-0.9-1.9-3.1-1-1.7 0.7 1.1 2.2 2.9 2.1zM519.6 134.8l0-3-0.2 2.9zM536.3 129.7l1.7-1.6 0.2-2.2-0.4-0.4-1.9 0.4-0.9 2.2zM542.4 124l1.5-0.5 1.7-2-0.4-4.4-1.3-2-1.5 4.2-1.4 2.2 0.2 2.2zM667.1 123.9l9.1 0.5 1.6 1 1.5 0 1.5-1.7 0.1-2.2 1.6-2.2 0.4-2.2-3.4-9 1-6.9-1.2-5.6-1.5-0.8-3.1 0-4.6 1.6-1.5-0.4-1.5 0.8-5.6 6.7-0.1 11.3 5.6 8.9zM666.1 112.6l0.3-2.3-2.1-4.5 4.3-5 3.1-0.2 1.5-1.7 1.5-0.8 3.1 2.3 0.7 3.1-2.3 9.5-3-2.4-3.1 3.1-1.5 0.7-1.5-0.3zM702.1 123.8l1.8-2.3-0.3-1-1.5 0-1.1 1 1 2.2zM641.3 122.4l0.5-0.9-0.5-0.7-0.9 0.7zM464.8 118l0.9-3.2-0.9-1.2-0.4 3.5zM537.8 118l1.5-5.4-2.1-4.5 0.9-2.3-0.3-0.3-1.5-0.2-2.3 2.8 2.6 9zM706.7 118.4l1.5 0.6 1.1-1.9-1.1-1.7-1.5-0.7-0.9 2.4zM470.9 116.1l0.7-1.3 0-2.2-0.7-1.9-0.9 1.9 0.2 2.2zM505.9 110.7l1.5 0 2.9-2.6-1.4-0.8-1.4 0.8-1.9 2.2zM600.2 104.5l4.5-2.5 1.4-3.1-2.1-14-2.1 0 0.7 4.7 0.1 7-1 3.2-1.5 0.9-4-6.4-1.6-9.4-2.7 0 1.3 4.7-1.2 4.7 1.2 2.3 2.4 1.6 3.2 5.3zM467.9 97.8l2.2-1.2-0.4-2.3 1.4-2.3-0.2-2.7-1.5-0.8-1.3 1.1-2.1 4.7 0.8 2.3zM458.7 92.6l1.6-0.6 1.4-2.4-1.4-2.6-1.6 0.9-1.4 4.1zM481.5 90.5l1.6 0.4 1-1.3 0.8-4.7-10.1 0 0.7 2.6 3 0.8 2 1.3z" fill="#f7bcbc" fill-rule="evenodd"/>
<path d="M694.5 315l0.4-0.5-0.4-1-0.3 1zM665.6 311.3l1.5 0.6 0.5-0.8-0.5-0.8-1.5 0.3-0.1 0.5zM696 311.4l1.5-0.9 0.6-1.1-0.6-1.5-1.5-0.1-1.2 1.6 0.4 1.7zM703.6 311.4l1.5 1.1 1.7-3.1 0.3-1.7-0.4-0.7-3.1-1.7-2.9 2.4 0.3 1.7 2.1 1.7zM708.2 304.5l1.5-1.1 3 1.3 3.6-0.4 1-3.3 1.5-0.8 0-4.1-3-2.5-3.1-1.3-0.7-3.6-0.8-0.3-4.5-1.6-3.1 0.5-1.5-1.1-1.5 0.7-0.8 1.8-0.8 0.3-1.6-2 0.1-2.4-1.5-1-1.5-0.3-4.6 0.6-1.5 1.3-0.4 1.8 3.4 2.1 3.1 3 1.5 0.7 0.9 1.1-1.2 1.8 1.7 1.7 3.2 2.3 3-0.8 1.5 3 2.3 2.4zM686.9 296.2l0-1.7-0.3 1.2zM662.5 292.7l0.5-0.5-0.5-0.5-0.6 0.5zM411.9 283.5l0.6-1.8-0.9-0.5 0 2.5zM445 278.4l4.6 1.2 2.9-1.4 3.2-3.4 1.7-3.7 3.8-3.5-0.2-1.8 0.8-1.7 3-1.4 3.1 2.3 2.9-1 1.6-1.9 1.5 1.8 1.6-0.3 1.5-1.2 1.5 0.3 1.5 1.8 1.1-0.5 0.1-1.8-1.7-1.8-0.7-7.2 1.2-1.4 3.1 0.6 5.6 6.2 3.5 1.7 3.2-1.7 2.9-5.5 3-0.5 3.1 0.7 6-2.4 3.1 0.7 1.5-0.3 3.2-1.8 2.9-5.3 1.5-0.6 4.6-0.4 9.1-3.3 1.5 0.1 3.1 2.9 3 1.1 1.5 0 3.1-1.2 3 0 3.1-2.9 0.6-3.3 5.4-5 0.5-4.3 4.1-4.5 2.8-6.9-1.7-7.7 0.4-1.4 3.2-0.5 1.4-2.5 1.5 0 1.5 1.9 1.5-1 3.1 0.2 1.5-1.4 1.5 0.4 1.6 5.1 1.5 0.7 1.5-0.3 1.7-1.2 0.6 1.9-0.3 2-2 2.9-0.9 2.8 0.8 1.9 3.1 1.8 1.6 1.7 4.5-1.9 1.7-1.6 1.4-0.5 0.4 0.5-0.4 1.3-2.1 2.5 0.5 1.9 3.1-0.9 3-0.1 3.7 1 2.4 1.8 1.5-0.6 3.1 0.9 1.5-0.4 4.6-3.3 3 1.3 1.5-0.3 1-1.3-0.7-3.8 2.8-1.5 3 1.2 3.5 0.3-0.9 3.8 2 2.7 1.5 0.8 3-4.1 1.6-0.7 1.5 0.5 0.9-1.1-0.2-1.9-2.4-3.8 2.7-11.6-0.6-3.9 0.3-1.9 2.3-3.6 3.1-0.5 3-3.4 3-1.1 4.6-0.5 1.5 1.4 1.5 0.1 4.6-2.9 3 3.5 1.6 0.8 9.1 1.9 3-0.7 1.4 1 0.2 2.6 1.5 1.3 3-1.7 4.6-4.1 3-0.4 4.6 0.6 0.4 3.7-1 3.9 2.1 12.2 1.5 1.3 1.6-0.5 3 0.1 6.1-6.4 1.5 0.8 1.5 0 0-12-1.5 0.2-1.5-4.6-1.5-0.5-1.6 1.8-3 0.3-4.5-2.5-0.7-2 2.2-1.3 3 0.3 1.5 0.6 1.5 1.6 1.6 0.5 1.5-0.5 0.5-1.2 2.5-1.1 0-2.3-6.1 0.1-4.5-1.5-4.6 0.4-1.7 0.4-1.3 1.7-3.1 0.2-2.2 2.1-2.3 0.8-3.1 2-1.5-0.8-3 0.1-3.1 1.1-6.1-2.2-3-2.6-3.1-0.1-4.5-5.5-3.1 1.8-4.5 0-1.5-0.7-1.6 1-1.5 0.1-1.1-1 0.7-2-0.5-2-0.6-0.4-1.6 0.4-0.9 2 0.3 2-0.9 2-3 2.8-1.5 0.7-1.5-0.4-1.2 0.9-0.4 2 1 3.9-0.6 5.9 0.4 3.9-2.2 3.9-1.6 4.6-6.1 2.5-3-1.3-1.5 0.4-3.1 1.7-1.5-0.1-1.5 2.4-1.5 0.2-3.1-2.8-1.5 0.4-1.5 1.4-3.1 1-0.5 3-1 1.5-2.3-1.5-2.6-3.8 0.3-2.1 3.1-0.8 1.5-1.3 3.1 0 1.5-1.5 0-2.6-1.5-2-2.1-5.1-1-1.2-0.8 3.1-0.7 1.3-1.5 1.1-1.6 0.1-3-2.9-1.7 2.4-1.3 0.6-6.1-2.9-1.5 0.9-1.6-0.3-4.4-4.2-0.6-1.9 0.5-1.8 3 0.5 0.6-0.7 0.1-2-0.7-1.6-2.8 1.6-0.7 2-1.3 0-1.3-2 1.8-3.9-0.2-2.8 3 1.4 3-0.2 2.2-2.4-2.6-4-0.2-4 0.6-2.6 1.6-0.9 1.5-2.1 2.6-6.7-0.2-2-1-2.1 0-2.1 1.9-4.1-0.4-4.2 1.6-1.9 1.6-0.6 1.5 0.2 3 2.5 3.1-0.8 1.5 0.2 1.5 1.3 1.5 2.7 1.6 1.2 4.5 1.5 4.6 3.3 3 0.3 1.5 2.9 3.3 3.8 2.8 5.5 0.8 0.6 0.1 2.1 0.9 2 4.3 1.4 3.1 3.7 1.8-1.1-1.4-4 1.6-4.1 0.6-8.2-0.5-4.1-1.3-2.1 2.2-2.8 1.5-3.6 4.6-0.5 1.5-2.5 3-2.5 3.1 3.5 1.5 0.8 1.2-0.7 1.8-4 1.6 0.4 3 2 3 0.8 3.1 5 1.5 0.2 3.1-1.7 4.5-1 2-1.7 2.6-0.9 1.5 0.1 1.7 0.8 1.3 1.4 1.6 0.2 1.5-2 3-1.5 3.1 1.6 1.5-1.3 1.5 0.1 1.3 1.5-1.9 4.2 0.6 1.5 3.1 0.2 3-0.5 1.5 0.8 3.1-4.3 1.5 0.7 3 0 0-31.4-0.8-1.5 0.8-0.7 0-9-2.2-1.5-3.9-4.9-1.5-0.9-3 0.7-0.7 0.6-0.8 2.7-1.6 0.8-1.5-0.3-3 2.1-1.6-1.4-3.7-1.6-0.8-2.2-1.5-0.2-2.2 2.4-0.9 2.2-1.1-2.2-0.4-7.9-1.5-0.8-1.5 1.7-3.4-4.5-0.3-7 2.4-4.7-20.8 0-0.1 4.7-2.4 4.7 0.2 2.3-1.7 4.6 0.2 4.7-1.5 1.8-1.1-1.9-0.4-4.2-1.7-0.4-0.5 2.3 0.3 2.3 1.4 2.3 1.5 4.5 1.6 8.9 1.9 0.9 1.5-0.4 1.6 1.3 1.5 3.3 4.6 3.7 0.9 2.2-4 5.9-0.9 0.6-0.2 2.1 2.6 1.5 0 0.8-3 1.4-1.5-0.4-4.6 0.2-3 1.7-1.3-0.9 0.5-4.3-0.8-2.3-2.1-2-1.1-4.3-2-2.2-1.6-4.4-1.1-6.6 0.5-9-1.1-4.5-2.1-4-1.5-1.3-1.5-0.5-1.6 1.4-0.5-0.2-1.9-4.6-0.6-0.3-3.1 1.4-3 0-3-0.8-3.1 1.1-1.5 0-3-1.4-3.1 0.3-1.5-3.2-1.5-1.1-3.1 0.4-1.5 1.6-1.5-1.6-1.1-3.4-0.3-2.3 0.7-2.4-3.1 0 0.8 7.1 1.1 4.6 0.2 2.3-0.8 2.3-2.1 1.8-3 1.5-1.5-1.1-3.1-5.2-3-2.4-0.6-1.5 1.2-4.7-1.3-4.7-12.5 0 1 1 1.5-0.6 1.6 1.4 0.2 2.9-0.7 2.4-1.1 1-3 0-0.5 1.3 0.5 2.6 1.5-0.7 1.5 0.6 1.6 2.3 1-2.5-0.3-2.3 0.8-2.3 1 2.3 0 2.3 2.5 4.6 0.3 2.3-0.8 4.6-1.5 3-4.6-1.8-1.5 3.3 1.5 2.3 1.6-1 3-0.1 1.5-2.5 4.6 1.9 4.5 7.1 1.6-0.8 1.5 1.6 1.5 3.7 3.2 1.1 0.5 4.4 1.3 4.4-0.4 3.3-3.1 0.9-1.5 3-1.5 0.4-3.1 2.5-1.5 0-1.5-1-1.5-0.2-3.1 1.7-4.5 0.7 0-1.6 1.5 0.1 0.8-1.2 0.4-2.2-1.3-6.4-2.4-2.2-1.9-4.4-1.7-1-1.5 1-0.2-2.2 1.5-4.4-1.3-1.8-3.1 0.9-1.5-0.4-4.5 1.9-3.1-0.8-1.5-1.8-1.7-4.7-1.3-2-3-2.5-2.6-6.8 0.5-2.3 4.3-6.9-3.8-5.7-1.5 1.1-1.5 2.2-1.6-1.2-0.5-3.4-1-1.5-3 3.8 1 2.4-0.8 2.3-1.8 1.1-1.5 3.6-1.5 1.6-1.3-4 1.5-2.3 0.1-2.3-2.3-2.4 0.2-2.3 1.8-0.7 1.1-1.7-41.1 0-1.1 3.2-1.5 0.3-1-1.1 0-2.4-15.4 0-0.1 2.4-0.7 2.3-1 1.3-1.6-0.4-3-2.2-3-0.8-0.7-2.6-21.4 0-2.3 1.9-1.5 0.4-0.7-2.3-22.7 0 2.1 4 0.4 3.1 1.1 2.2 3.1 0.7 1.6 1.7 1.1 2.3 0.8 4.6 1 1.9 1.6 1.3 3 0.8 4.1 5.1 0 4.5 5 2.6 3.1-0.8 3.5 2.6 0.1 2.2 2.5 1.3 1.6 3.1 0.4 2.2-0.6 2.2 1.2 4.3 1.9 2.2 3.1 1.2 0.7 0.9 0.8 4.3 1.5 3.7 2.6 2.7 0.1 2.1 1.9 4.3 1.5 0.3 1.5-0.8 1.5 0.9 1.5 3.4 2.1 2.3 0.9 2-0.2 4.1-4.3 3.7-0.4 2.5-1.1 1.8-2.6 8.2-0.9 6-1.9 1.9-0.8 2 0.4 5.9-1.3 1.9 2.9 3.9 2.7 7.5 2 2.1 0.4 1.9-1.9 3.8 0.3 5.7 0.7 1.8 1.5 1.7 2.9 2.1-0.3 1.8-1.1 1.9-0.8 3.7-0.7 0.7-3.2-2.6-0.3-5.5-1-1.3-3.1 1.6-3-0.5-5-7.3-2.6-2.6-3.1-0.7-1.5 0.3-1.5 1.3-4.6-2.4-3-0.2-1.5-1.1-3.6 1.6 1.8 1.9 0.4 1.9-4.7 2.2-3.1 3-3 0.7-4.6-1.1-1.5 0.4-3 2.1-0.2-1.7 1.2-1.9 0.1-1.8-0.4-1.9-1.6-1.9 0.9-2.8 1.5-2.7 0.8-0.2-1.3-3.8-3.6-3.8-0.7-2 1.2-5.8-1-4.1-0.7 2.2-2.3 3.4-1.5-0.1-1.6-1.6-1.5-0.4-3 3.2 0 34.9 1.5 0.7 0.9 1.5-0.9 2.3-1.5 0.3 0 3.5 0.8 1.3 2.2 1.5 3.1-1.4 2.8-0.1 1.7-1.1 6.1 1.6 1.2-0.5 1.9-2.7 1.5 0 3 2.5 1.6-1.7-0.3-1.8-2.8-0.7-1.1-1.1 2.1-1.9 0.8-7.4 4.3-3.9 1.5-0.7 1.1 0.9 3.5 4.4 4.5 4 0.9-2.8-0.9-2 1.5-1.3 1.6-0.1 1.5-1.9-0.1-4 1.6-1.9 3.1-0.6 1.5 0.5 1.7 2 0.3 1.8 1.9 3.8 0.1 1.8 1.9 3.7-1.4 3.2-3-1.3-1.5 0.7-0.7 1.1 0.1 3.7-1 3.7 0.8 3.6-4.4 9-0.9 0.7-1.5-1.2-0.7 0.5 2 3.6-0.3 1.8-1 0.8-1.6-0.7-1.5 0.1-1.5 1.4-1.5 0.4-1.5-0.5-3.1 1.4-3-2.1-1.5-0.3-1.6 1.4-1.5 0.5-0.7-0.7-0.1-1.7-0.7-1.4-1.5-0.9-1.7 0.5-1.4 1.6-1.5-2.5-3 0.9-5.8-1.8-0.3-1.9-1.5-1.2-1.6 0.9-1.9-1.4-1-1.8 0.4-1.8-2-1.7 0.3 8.9 3.6 1.8 2.2 2.1 4.5 0.6 1.5 2.5 3.1 0.1 4.6 4 4.5 0.3 4.6-2.7 1.5 0.1 2.8 3.6zM475.4 258.6l0.1-1 0.3 1-0.3 0.8zM474.9 253.2l-0.5-1.8 1.1-2.8 1.5-1.1 1.2 0.2-0.7 1.8 0.3 1.9-0.8 1.6-1.5 1.2zM496.5 247.7l-0.9-5.5-4-3.7-1-3.7 0.3-1.9-0.6-3.7 1.1-3.8 0.8-1.6 1.5-0.3 1.6-1.9-0.3-1.9-1.3-0.9-3 2.9-1-2 0.9-5.7-0.2-1.9-0.6-2-3-3.8 1.7-5.9 0-3.9 0.7-1.4 7.6-1.8 1.6-2.7 0.2-2 1.2-1.2 1.5-0.3 1.5 3.2 1.6 0.3 1.5-1.1 1.6-4.9 0.2-4 1.2-3.2 1.5-1.6 1.6-0.7 0.6-8.8 1.5-2 0.7-2.1-1.7-2.1 0.4-1.6 1.5-0.6 3 0.4 7.7 4.3 0.7-0.4 1.1-4.2 5.8-5.7 3-0.7 3-2.9 3.1 1.2 1.8-2.4-0.3-4.4 4.6-3.3 4.2-5.1 0.8-4.4 1.1-1.6 1.8-0.6 2.6-2.2-1.4-0.9-1.8-3.5 1.8-5.1 1.5-0.9 1.3 1.6 1.8 4.4 0.2 2.2 1.1 2.2 1.9 2.2-0.7 2.2-2.2 2.2 0.5 4.3-1.4 4.3 0.3 6.4 1.8 2.3 1.5-4 1.5-1 1.5 0.9 1.6 2 1.5-0.1 1.3 2 1.3 8.4 0 2.1-1.2 4.2 0.7 4.1-0.6 0.9-3 0.4-3.1-2.1-1.4 2.8 0.6 4.1-1.5 4.1 0.8 2.3 3 0.4 3.1-0.5 1.5 0.5 0.8 1.3-1.2 4-1.1 0.6-1.5-0.4-1.6-1.4-3.6 5.2-0.6 2 1.2 3.9-0.1 2-2.6 3.9 1.3 3.9 0.1 5.8-0.8 7.6-1.8 1.9-3.7 5.9-1.5 1.3-5.3 2.2-0.8 4.3-3.1-3.9-2 1.5-0.1 1.9-0.9 1.6-3-0.6-1.6 1.5-10.6 1.8-1.5 1.2-3.1 0.2-5 1.7-1.5 1.8-0.1 1.9-1 1.6-1.5 0.8-1.5 0.3-1.5-1.8-1.6-0.7-4.5 3.4-3.1-1.5-6 0.1zM478.4 245.9l0.9 0-0.8 1.3zM418.7 231l0.5-4 0.5 4-0.5 0.9zM415.5 223.5l0.5-1.9 1.4 0-1.3 2.8zM705.1 204.3l0-7.8 1.6-0.5 1.1 0.5 0.9 2-1.8 3.9-1.8 2.1zM701.9 190.6l2.2 0-2 1zM485.6 186.6l0.5-3.1 1.5-1.3 0.4 2.4-1.9 2.5zM568.2 178.6l0.9 0-0.9 0.4zM577.4 178.6l0-2.2 3-0.6 0.3 2.8-1.8 0.4zM636.5 174.5l-0.4-2-2.3-4.1-0.2-1.6-1.5-0.1-1.5-1.1-6.1-7.8-1.5 0.2-3-2.2-1.6-0.4-2.5-3.6-2-1.2-0.6-1-1.2-6.3 1.2-6.5-1.3-4.3-0.2-2.2 1.5-4.4-0.9-0.5-1.3-3.9-0.3-4.4 0.8-6.8-0.5-4.5 2.8-1.6 3 0.1 1.6-3.1 1.5-1.1 6 3.4 1.6-0.4 1.5-1.5 1.5-0.6 1.5 1 2.2 3.8 0.9 2.3 0 4.5 0.4-2.3-0.4-2.2 0.7-2.3 0.8-0.4 1.5 1.1 1.5 3.3 0 4.5-1.5 3.4-1.5 1.6-0.5 2.2 1.7 2.2 0.9 2.2 0.9 0.9 1.6-0.1 1.9 1.4 1.1 1.5 0.8 2.9 3.5 4.3-0.8 4.3 0.7 2.2 1.8 2.1-0.7 2.1-0.7 0.6-1.6 0.1-7.6 6.8-3 1.1-1 1.9-0.1 6.3 3.4 4.1 0.4 2-0.5 4.1-0.7 0.8-1.5-0.4zM493.3 166.3l0.4 0.1zM500.1 160.1l1.4-4.1 1.3-1.5 1.7 1.5-1.7 4.7-1.5 0.2zM510.3 156l-1.4-0.4-1-1.7-0.2-2.1 1.2-2.8 1.5 0.5 0.8 2.3 0.3 2.1-1.1 2.1zM581.4 153.9l-0.6-2.1 1.1-1.9 3.1 1.3 0.1 2.7-1.6 0.8-1.6-0.3zM477.9 149.6l-0.1-2.1 0.7-1.1 0.5 1.1-0.5 3zM672.6 149.6l-0.1-2.1 3.7-3.6 3.1-0.5 1.5 0.9 0.7 1.1-0.7 3.7-1.5 0-3.1 2.6-1.5-0.2-1.5-1.2zM708 149.6l-0.9-2.1 1.1-2.6 3-0.6 1.5-1.7 1.8 0.7 0 2.1-1.8 3.1-1.5-0.5-3 1.8zM605 145.4l1.3-1.1 0.4 1.1-0.4 0.8zM483 141.1l0.1-0.8 1.3 0.8-1.3 0.1zM518.9 141.1l-0.3-2.1 4-2.4 1.5-0.2 1.6 1.3 0.7 1.3-1.3 2.1-4 1.7-1.5-0.6zM705.9 141.1l-2.9-2.1-1.1-2.2 1.7-0.7 3.1 1 0.9 1.9-0.9 2.9zM510.4 139l1.6-3.4 0.7 1.2-0.7 2.9-1.6-0.5zM609 139l0.3-1.7 0.4 1.7-0.4 1.3zM486.8 136.8l0.8-0.1 0 0.7zM528 136.8l2.2-4.8 1.5-0.3 1.4 3 0.2 1.9 1.5 0.1 2.1-2 2.4-1.1 2 1.1-1.1 2.1-2.4 1.2-1.5 0.3-1.5-1.3-1.5-0.1-1.6 1.4-1.5 0.2-1.5-0.8zM479.7 134.7l-2.1-2.2 0.2-2.2 0.7-1.2 2.4-1 0.5-2.2-2.3-6.6-1.8-2.2 0.4-2.3 2.3-0.5 1 0.5 2.7 4.5 0.2 4.4 0.7 1.8 1.5-1.8 0.3-2.2-0.7-2.2 1.9-2.2 1.6 0.6 0.6 1.6 0 2.2-1.1 4.4-5.6 10.2-1.6 0.3-1.5-1.4zM519.4 134.7l0.2-2.9 0 3zM513.3 130.3l0.4 0-0.2 2zM535 128.1l0.9-2.2 1.9-0.4 0.4 0.4-0.2 2.2-1.7 1.6zM541.2 123.7l-0.2-2.2 1.4-2.2 1.5-4.2 1.3 2 0.4 4.4-1.7 2-1.5 0.5zM667 123.7l-5.6-8.9 0.1-11.3 5.6-6.7 1.5-0.8 1.5 0.4 4.6-1.6 3.1 0 1.5 0.8 1.2 5.6-1 6.9 3.4 9-0.4 2.2-1.6 2.2-0.1 2.2-1.5 1.7-1.5 0-1.6-1-9.1-0.5zM702 123.7l-1-2.2 1.1-1 1.5 0 0.3 1-1.8 2.3zM640.4 121.5l0.9-0.7 0.5 0.7-0.5 0.9zM464.4 117.1l0.4-3.5 0.9 1.2-0.9 3.2zM536.6 117.1l-2.6-9 2.3-2.8 1.5 0.2 0.3 0.3-0.9 2.3 2.1 4.5-1.5 5.4zM705.8 117.1l0.9-2.4 1.5 0.7 1.1 1.7-1.1 1.9-1.5-0.6zM470.2 114.8l-0.2-2.2 0.9-1.9 0.7 1.9 0 2.2-0.7 1.3zM484.3 114.8l-0.8-2.2 1.1-2.8 3-0.8 1.3 1.3 0.2 2.3-1.5 1.9-3 0.5zM601.1 112.6l-1.1-2.3 1.7-1.2 1.5 0.4 1.5 2.9 2.1-2.1 1-0.3 0.4 0.3-0.4 2.9-1.5 0.5-1.6-1-1.5 0.6-1.5-0.3zM505.6 110.3l1.9-2.2 1.4-0.8 1.4 0.8-2.9 2.6-1.5 0zM481 105.8l-0.1-2.3 0.6-1.2 1.6 0.6 0.9 2.9-0.9 1.4-1.6-0.6zM546.8 105.8l1.7-5.1 1.5-0.4 0.4 0.9 0.3 2.3-0.7 1.7-1.5 1.7-1.6 0zM441 103.5l-0.2-2.3 2.7-2.7 1.5 1.8 0.2 3.2-1.7 1.3-1.5-0.5zM519 103.5l-0.1-2.3-0.9-2.6 0-3.1 1.6-0.9 1.5 2 0.6 2.3-1 4.6-1.1 1zM450.1 101.2l-0.9-2.3 0.6-6.9-0.5-2.4 0.3-1.9 1.5 0.2 1.5 3.4 0.3 3-0.3 6.9-1.5 0.9zM505.5 98.9l-0.1-2.3-1.6-4.6 0.9-2.4 1.2-0.1 1.5 1.2 1.3 3.6 2 2.3-3.3 3.7-1.5-0.7zM466.8 96.6l-0.8-2.3 2.1-4.7 1.3-1.1 1.5 0.8 0.2 2.7-1.4 2.3 0.4 2.3-2.2 1.2zM488.6 94.3l0.2-2.3 1.9-0.8 0.5 0.8-0.1 2.3-0.4 0.6-1.5 0.2zM457.3 92l1.4-4.1 1.6-0.9 1.4 2.6-1.4 2.4-1.6 0.6zM411.8 267.6l-0.2-1 0 1.1zM694.5 267.2l1.7-1.4-1.7-2.3-0.9 2.3zM454.2 257.4l1.5 0.8 1.5-1.4-0.3-1.8-1.2-0.9-3.1-0.3-0.4 1.2 1.2 1.8zM495.2 238.9l0-2-0.4 1.6zM502.8 236.1l1.6 0.1 1.5-1.4 0.4-1.9-3.5-3.5-3 0.5-1.5-1.4-1.5 0-0.4 4.4 3.4 1.4 1.5-0.3 1.1 0.8zM609.3 229.3l0-1.2-0.1 1.1zM626 227.3l1.6 0.4 0.7-0.4 0.8-1.4 0.2-2.4-2.8 1.9-0.5 1.9zM428.3 221.9l0.9-0.3-0.9-1.6-0.6 1.6zM531.7 210.7l1.5-2.5-1.5-2.1-1.6 0.2-0.5 1.9 1 1.9zM508.9 196.8l0-1-0.1 0.7zM416.1 194.8l3.1 1.6 1.5 0.1 6.1-2.2 3.5 0.2 1.3-3.9-0.1-4 0.9-4-0.1-2-1.9-2-0.6-1.8-1.5-0.3-3 1.6-1.6-1.1 0.2-2.5 1.1-2-0.5-4.1 1.8-6.2-1-2.6-1.6 0-1.5-1.2-1.5-3.7-3.5-0.8-1-2.1 1.5-2.9 0.4-3.5-2-1.9-1.5 0.3-3 3.7 0 26.7 1.5-0.4 2.1 0.7-1.2 4.1-0.8 6-1.6 1.7 0 6.2 3.7 2zM416 190.6l1.7-0.8 0.8 0.8-0.8 1.7-1.6-1.5zM420.9 180.6l1.3-2 1.5 1 0 1.8-1.5 0.7zM546.9 185.1l1.6 0.5 2.5-1 0.8-2 0-2-1.8 1-3.1 0.5-0.7 2.5zM556.1 185.7l4.5-2.7 0.2-2.4-3.2-2.3-1.5-0.4-1.2 0.7 2.7 1.4 0.1 0.6-1.5 2-0.4 2zM554.6 158.3l1.5 0.5 0.2-0.8-0.2-0.4-1.7 0.4zM416.1 136.8l1.6 0.7 0.8-0.7-0.4-2.1-0.4-0.5-0.7 0.5-0.9 2.1zM615.4 128.6l1-0.5-1-1.7-0.6 1.7zM575.8 106.9l1.1-1.1-1.1-4.5-1.5 2.2 0.8 2.3zM658 100.2l1-1.3-1-1.4-1 1.4zM685.4 91l1.5-0.8 0-0.9-1.5-1.1-1.4 1.4zM546.9 88.1l0.2-0.8-0.7 0z" fill="#f39e9e" fill-rule="evenodd"/>
<path d="M435.9 271.8l1.5-0.5 1.6-1.4 1.5 0.3 3 2.1 3.1-1.4 1.5 0.5 1.5-0.4 1.5-1.4 1.5-0.1 1.6 0.7 1-0.8 0.3-1.8-2-3.6 0.7-0.5 1.5 1.2 0.9-0.7 4.4-9-0.8-3.6 1-3.7-0.1-3.7 0.7-1.1 1.5-0.7 3 1.3 1.4-3.2-1.9-3.7-0.1-1.8-1.9-3.8-0.3-1.8-1.7-1.9-3.1-0.6-1.5 0.6-1.6 1.9 0.3 3.7-1.7 2.2-1.6 0.1-1.5 1.4 0.9 1.9-0.9 2.8-4.5-4-4.6-5.3-1.5 0.7-2.3 2.1-2 1.8-0.8 7.4-2.1 1.9 1.1 1.1 2.8 0.7 0.3 1.8-1.6 1.7-3-2.5-1.5 0-1.9 2.7-1.2 0.5-6.1-1.6-1.7 1.1-2.8 0.1-3.1 1.4-2.2-1.5-0.8-1.3 0 6.8 2 1.7-0.4 1.8 1.4 2.2 1.5 1 1.6-0.9 1.5 1.2 0.3 1.9 1.2 0.6 4.6 1.2 3-0.9 1.5 2.5 1.4-1.6 1.7-0.5 1.5 0.9 0.7 1.4 0.1 1.7zM442.4 267.6l-1.8-1.8-0.3-1.8 3.2-3.6-1.1-3.6 0.3-1.8 1.7-1.8 0.6-2.6 3.1 0.2 1.5-1.3 0.3-1.8 1.2-0.5 0.6 0.5-0.3 1.8-2.6 3.7 3 7.2-0.7 1.1-3.2 0.7-0.2 1.8 0.7 1.8-0.1 1.8-4.8 0.5zM453.4 256.8l-1.2-1.8 0.4-1.2 3.1 0.3 1.2 0.9 0.3 1.8-1.5 1.4-1.5-0.8zM496.8 248.1l6-0.1 3.1 1.5 4.5-3.4 1.6 0.7 1.5 1.8 1.5-0.3 1.5-0.8 1-1.6 0.1-1.9 1.5-1.8 5-1.7 3.1-0.2 1.5-1.2 10.6-1.8 1.6-1.5 3 0.6 0.9-1.6 0.1-1.9 2-1.5 3.1 3.9 0.8-4.3 5.3-2.2 1.5-1.3 3.7-5.9 1.8-1.9 0.8-7.6-0.1-5.8-1.3-3.9 2.6-3.9 0.1-2-1.2-3.9 0.6-2 3.6-5.2 1.6 1.4 1.5 0.4 1.1-0.6 1.2-4-0.8-1.3-1.5-0.5-3.1 0.5-3-0.4-0.8-2.3 1.5-4.1-0.6-4.1 1.4-2.8 3.1 2.1 3-0.4 0.6-0.9-0.7-4.1 1.2-4.2 0-2.1-1.3-8.4-1.3-2-1.5 0.1-1.6-2-1.5-0.9-1.5 1-1.5 4-1.8-2.3-0.3-6.4 1.4-4.3-0.5-4.3 2.2-2.2 0.7-2.2-1.9-2.2-1.1-2.2-0.2-2.2-1.8-4.4-1.3-1.6-1.5 0.9-1.8 5.1 1.8 3.5 1.4 0.9-2.6 2.2-1.8 0.6-1.1 1.6-0.8 4.4-4.2 5.1-4.6 3.3 0.3 4.4-1.8 2.4-3.1-1.2-3 2.9-3 0.7-5.8 5.7-1.1 4.2-0.7 0.4-7.7-4.3-3-0.4-1.5 0.6-0.4 1.6 1.7 2.1-0.7 2.1-1.5 2-0.6 8.8-1.6 0.7-1.5 1.6-1.2 3.2-0.2 4-1.6 4.9-1.5 1.1-1.6-0.3-1.5-3.2-1.5 0.3-1.2 1.2-0.2 2-1.6 2.7-7.6 1.8-0.7 1.4 0 3.9-1.7 5.9 3 3.8 0.6 2 0.2 1.9-0.9 5.7 1 2 3-2.9 1.3 0.9 0.3 1.9-1.6 1.9-1.5 0.3-0.8 1.6-1.1 3.8 0.6 3.7-0.3 1.9 1 3.7 4 3.7 0.9 5.5zM509.8 240.3l0.6-2.9 1.6 0.4 0 2.5-1.6 0.5zM494.8 238.5l0.4-1.6 0 2zM516.9 238.5l-0.4-2.9-2.3-2.7-0.5-1.9-1.7 1.6-1.6-0.3-2.4-3.1-1.7-5.7-0.6-7.6-1.4-1.9-0.4-1.9 0.5-0.7 3 3.3 1.5 0.2 1.5-0.6 0.5-0.3 0.3-1.9-0.3-2 3.7-1.9 0.7-1.9 1.2-1.1 0.9 1.1-1.3 3.8 0.4 0.6 1.5 1.2 1.6-0.3 1.5-1.2 1.5 0.1 1.5 0.9 0 0.8-1.5 0.3-1 1.5-1.6 5.7 0.8 1.9 1.8 1 0.4 0.9-1.1 3.8 0.7 1.1 1.5-0.3 1.6 1.4 0.9 1.5 0.2 1.9-2 3.7-3.7 2.2-3.1 0.6zM502.4 234.8l-1.1-0.8-1.5 0.3-3.4-1.4 0.4-4.4 1.5 0 1.5 1.4 3-0.5 3.5 3.5-0.4 1.9-1.5 1.4-1.6-0.1zM535.5 215.9l-1-1.9-0.2-1.9 1.3-2 2-5.8-2.3-3.9-2-0.8-1.1-1.1 0-2 1.8-2 2.3-0.6 1 0.6 0.8 2 3.3 2 1 2.2 1.5 1.1 1.3 2.5-1.3 1-1.5-0.2-4.7 5-0.7 2 0.7 3.8-1.4 0.9zM555.8 215.9l1.7 0-1.4 0.2zM557.1 214l-1.6-1.9-0.9-0.4-1.6 0.1-1.5 0.8-4.6-0.5-1.4-2-0.1-3.9 1.5-0.9 1.6 0 1.5-1.9 1.2-3-1.3-1.9-0.1-5.9 3.2-1.5 2.3 3.4 2.9 2 1.8 3.9-0.2 3.9-0.7 1.8-1.5-0.5-1.7 0.7 0.2 2.7 3 0.3 0.7 4.7-0.7 1.4-1.5 0.5zM530.6 210.1l-1-1.9 0.5-1.9 1.6-0.2 1.5 2.1-1.5 2.5zM520.7 204.3l-2.7-0.7-0.4-1.2 0.4-2-3.1-5.9-0.4-1.9 0.9-2 1.1-1 1.5-0.1 1.6-2-0.3-2.9-2.3-2 0.8-2 0.3-4 1.5-2.4 3-1.2 1.5-0.1 3.1 1.2 1.5-1.6 0.8-2.1-0.1-2 0.8-1.9 1.5-1 1.6-0.3 1.3 1.1 0.2 2.9 1.5 0.6 0.6-1.4-0.6-1.6-0.9-0.5-0.3-2 0.5-2.1 0.7-1 1.5 0 1.5 1.2 1.6-0.7 2.1-1.6 0.9-4.4 1.5-0.6 0.9 0.9 0.7 2-1.8 4.2 2.7 2.1 0.7 2 1.7 2.1 1 4.1-0.8 2-2 2.3-2.6-2.3-0.8 0-1.6 2.1 0.1 2-1.2 0.9-3.1-1.9-3.4-1-1.1-2.9-1.5 0.9-1.6 2-1.3 8-1.7 1.9-1.5 5.9-1.5 0.3-1.6 1.9-0.1 3.9 1.9 3.9-0.1 1.9-3.2 0.9-1.5-0.5zM543.8 198.5l1.6-1.7 0.4 1.7-1.9 0.1zM508.8 196.5l0.1-0.7 0 1zM546.2 184.6l0.7-2.5 3.1-0.5 1.8-1 0 2-0.8 2-2.5 1-1.6-0.5zM555.8 184.6l0.4-2 1.5-2-0.1-0.6-2.7-1.4 1.2-0.7 1.5 0.4 3.2 2.3-0.2 2.4-4.5 2.7zM554.4 158l1.7-0.4 0.2 0.4-0.2 0.8-1.5-0.5zM552.8 149.6l-0.6-2.1 0.8-0.5 0.4 0.5-0.4 2.6zM607.8 222.3l1.5 0.8 1-1.5 0.5-3 3.1-1 1.5-1.4 1.5-0.4 3.1 2.8 1.5-0.2 1.5-2.4 1.5 0.1 3.1-1.7 1.5-0.4 3 1.3 6.1-2.5 1.6-4.6 2.2-3.9-0.4-3.9 0.6-5.9-1-3.9 0.4-2 1.2-0.9 1.5 0.4 1.5-0.7 3-2.8 0.9-2-0.3-2 1-2.1 2.1 0.1 0.5 2-0.7 2 1.1 1 1.5-0.1 1.6-1 1.5 0.7 4.5 0 3.1-1.8 4.5 5.5 3.1 0.1 3 2.6 6.1 2.2 3.1-1.1 3-0.1 1.5 0.8 3.1-2 2.3-0.8 2.2-2.1 3.1-0.2 1.3-1.7 1.7-0.4 4.6-0.4 4.5 1.5 6.1-0.1 0-4.3-1.1-0.3 1.1-0.6 0-1.8-3-0.5-1.8 0.9 0.3 0.8 2.7 1.2-4.3 0.6-6-1.2-4.6 0.9-10.7 5.4-3-1-3.1 3.3-3 0.9-3-2.1-3.1-1.2-2.6-3.6-1.2-4 0.4-4.1-2.9-4.1 0.5-2 1.3-1 3-0.7 1.5-3.3 3.1 0.2 1.6-3.5 4.5-4.9 1.5-0.7 3 3.4 3.1-0.5 1.5 0.6 1.5 1.7 1.5-1 1.6 1.4 4.5 2.3 1.5 0.1 3.1-0.9 1.5 1.5 1.5 0.4 1.5-1.1 1.6 0 4.5 2.9 0-10.9-3 0-1.5-0.7-3.1 4.3-1.5-0.8-3 0.5-3.1-0.2-0.6-1.5 1.9-4.2-1.3-1.5-1.5-0.1-1.5 1.3-3.1-1.6-3 1.5-1.5 2-1.6-0.2-1.3-1.4-1.7-0.8-1.5-0.1-2.6 0.9-2 1.7-4.5 1-3.1 1.7-1.5-0.2-3.1-5-3-0.8-3-2-1.6-0.4-1.8 4-1.2 0.7-1.5-0.8-3.1-3.5-3 2.5-1.5 2.5-4.6 0.5-1.5 3.6-2.2 2.8 1.3 2.1 0.5 4.1-0.6 8.2-1.6 4.1 1.4 4-1.8 1.1-3.1-3.7-4.3-1.4-0.9-2-0.1-2.1-0.8-0.6-2.8-5.5-3.3-3.8-1.5-2.9-3-0.3-4.6-3.3-4.5-1.5-1.6-1.2-1.5-2.7-1.5-1.3-1.5-0.2-3.1 0.8-3-2.5-1.5-0.2-1.6 0.6-1.6 1.9 0.4 4.2-1.9 4.1 0 2.1 1 2.1 0.2 2-2.6 6.7-1.5 2.1-1.6 0.9-0.6 2.6 0.2 4 2.6 4-2.2 2.4-3 0.2-3-1.4 0.2 2.8-1.8 3.9 1.3 2 1.3 0 0.7-2 2.8-1.6 0.7 1.6-0.1 2-0.6 0.7-3-0.5-0.5 1.8 0.6 1.9 4.4 4.2 1.6 0.3 1.5-0.9 6.1 2.9 1.3-0.6 1.7-2.4 3 2.9 1.6-0.1 1.5-1.1 0.7-1.3 0.8-3.1 1 1.2 2.1 5.1 1.5 2 0 2.6-1.5 1.5-3.1 0-1.5 1.3-3.3 1-0.1 1.9 2.6 3.8zM623.7 212.1l-2.3-2-0.7-1.9 0.1-1.9-2.4-1.3-1.5-2.1-3.1-0.5-1.8-3.9-1.2-1-4.5 1-2.5-2-3.5-7.9-4.7-3.5-1-2.5 0.7-2-1.2-4.3 0-2.6 1.7-3.3 1.3-4.6 4.6-6.8 1.5 1.1 4.6-1.3 2.1 1.3 4 1.2 4.5 0.6 3.5 2.4 5.8 6.1 2.1 8.2-0.8 4 1.1 6 2 3.4 4.6-0.6 1.5 0.6 2.3 10.4-0.8 2-7.6 5.6-1.5 1.8-3-0.1-3.1 0.8zM660.7 176.6l-1.2-5.2-2.9-3 2.3-2.1 2.1-1 1.5 0.7 0.8 4.4 2.3 2.1 0 2-3.1 3.1-1.5-0.8zM648.8 172.5l1.6-2.6 1 0.5-0.6 2.1-1.9 0.1zM647 162.2l0.3-2.4 1.6 2 0 0.7-1.6 0.5zM705.1 204.5l1.8-2.1 1.8-3.9-0.9-2-1.1-0.5-1.6 0.5 0 7.8zM416.1 190.8l1.6 1.5 0.8-1.7-0.8-0.8-1.7 0.8zM413.1 184.9l0.7-2.3 0.2-4 1.2-4.1-2.1-0.7-1.5 0.4 0 12.1zM521.1 182.5l1.7-1.9-1.7-0.7-1 0.7zM568.2 179l0.9-0.4-0.9 0zM578.9 179l1.8-0.4-0.3-2.8-3 0.6 0 2.2zM676.2 173.4l1.6 0 1.5-0.9 1.3-2.1-1.3-5.1-1.8 1-1.3 2.1-0.9 4.1zM501.3 160.9l1.5-0.2 1.7-4.7-1.7-1.5-1.3 1.5-1.4 4.1zM510.4 156l1.1-2.1-0.3-2.1-0.8-2.3-1.5-0.5-1.2 2.8 0.2 2.1 1 1.7 1.4 0.4zM478.5 150.5l0.5-3-0.5-1.1-0.7 1.1 0.1 2.1zM606.3 146.2l0.4-0.8-0.4-1.1-1.3 1.1zM656.5 146.3l3-1.7 4.6-0.2 1.5 0.4 3-1.4 0-0.8-2.6-1.5 0.2-2.1 0.9-0.6 4-5.9-0.9-2.2-4.6-3.7-1.5-3.3-1.6-1.3-1.5 0.4-1.9-0.9-1.6-8.9-1.5-4.5-1.4-2.3-0.3-2.3 0.6-2.4 1.6 0.5 0.4 4.2 1.1 1.9 1.5-1.8-0.2-4.7 1.7-4.6-0.2-2.3 2.4-4.7 0.1-4.7-32.7 0 0.2 2.4-1.1 2.3-2.1 1-1.1-1-0.9-2.3 0.4-1.5 2.3-0.9-21.2 0-0.7 2.4 0.9 4.7 2 2.6 1.5-1.6 3.1-0.4 1.5 1.1 1.5 3.2 3.1-0.3 3 1.4 1.5 0 3.1-1.1 3 0.8 3 0 3.1-1.4 0.6 0.3 1.9 4.6 0.5 0.2 1.6-1.4 1.5 0.5 1.5 1.3 2.1 4 1.1 4.5-0.5 9 1.1 6.6 1.6 4.4 2 2.2 1.1 4.3 2.2 2.2 0.7 2.1-0.5 4.3zM657.3 136.8l0.4-4.3-0.8-4.4 0.7-2.2 1.2 0 2.3 2.2 1.2 4.4-0.2 2.2-2.6 4.2-1.5-0.3zM649.8 117.1l0.6-2.8 1.5-0.1 0.3 0.6 0.3 2.3-0.6 2.2-1.5-0.5zM657 98.9l1-1.4 1 1.4-1 1.3zM622.6 94.3l-0.6-2.3 1-0.8 1.1 0.8 0 2.3-1.1 0.4zM483.1 141.2l1.3-0.1-1.3-0.8-0.1 0.8zM519.6 142.2l1.5 0.6 4-1.7 1.3-2.1-0.7-1.3-1.6-1.3-1.5 0.2-4 2.4 0.3 2.1zM510.4 139.2l1.6 0.5 0.7-2.9-0.7-1.2-1.6 3.4zM609.3 140.3l0.4-1.3-0.4-1.7-0.3 1.7zM487.6 137.4l0-0.7-0.8 0.1zM528.7 137.7l1.5 0.8 1.5-0.2 1.6-1.4 1.5 0.1 1.5 1.3 1.5-0.3 2.4-1.2 1.1-2.1-2-1.1-2.4 1.1-2.1 2-1.5-0.1-0.2-1.9-1.4-3-1.5 0.3-2.2 4.8zM480 135l1.5 1.4 1.6-0.3 5.6-10.2 1.1-4.4 0-2.2-0.6-1.6-1.6-0.6-1.9 2.2 0.7 2.2-0.3 2.2-1.5 1.8-0.7-1.8-0.2-4.4-2.7-4.5-1-0.5-2.3 0.5-0.4 2.3 1.8 2.2 2.3 6.6-0.5 2.2-2.4 1-0.7 1.2-0.2 2.2 2.1 2.2zM513.5 132.3l0.2-2-0.4 0zM718.8 123l0-2.2-0.8 0.7zM484.6 115l3-0.5 1.5-1.9-0.2-2.3-1.3-1.3-3 0.8-1.1 2.8 0.8 2.2zM601.7 113l1.5 0.3 1.5-0.6 1.6 1 1.5-0.5 0.4-2.9-0.4-0.3-1 0.3-2.1 2.1-1.5-2.9-1.5-0.4-1.7 1.2 1.1 2.3zM689.9 110.4l0.9-2.3 2.2-2.4 1.5 0.2 0.8 2.2 3.7 1.6 1.6 1.4 3-2.1 1.5 0.3 1.6-0.8 0.8-2.7 0.7-0.6 3-0.7 1.5 0.9 3.9 4.9 2.2 1.5 0-13-7.6 0.4-3 2.2-1.1-2.5-2-1.3-1.5 1.5-1.5 0.5-2.2-3-0.3-2.3 2.2-2.3-1.3-7.1-16.4 0-0.3 1.1-1.5 1.8-0.6 1.8 0.3 7 3.4 4.5 1.5-1.7 1.5 0.8 0.4 7.9 1.1 2.2zM684 89.6l1.4-1.4 1.5 1.1 0 0.9-1.5 0.8zM481.5 106.6l1.6 0.6 0.9-1.4-0.9-2.9-1.6-0.6-0.6 1.2 0.1 2.3zM546.9 106.9l1.6 0 1.5-1.7 0.7-1.7-0.3-2.3-0.4-0.9-1.5 0.4-1.7 5.1zM442 104.3l1.5 0.5 1.7-1.3-0.2-3.2-1.5-1.8-2.7 2.7 0.2 2.3zM519.6 104.5l1.1-1 1-4.6-0.6-2.3-1.5-2-1.6 0.9 0 3.1 0.9 2.6 0.1 2.3zM451.1 102.1l1.5-0.9 0.3-6.9-0.3-3-1.5-3.4-1.5-0.2-0.3 1.9 0.5 2.4-0.6 6.9 0.9 2.3zM505.9 99.6l1.5 0.7 3.3-3.7-2-2.3-1.3-3.6-1.5-1.2-1.2 0.1-0.9 2.4 1.6 4.6 0.1 2.3zM489.2 95.1l1.5-0.2 0.4-0.6 0.1-2.3-0.5-0.8-1.9 0.8-0.2 2.3zM501.3 88.4l1.5-0.3 1.1-3.2-3.6 0 0 2.4zM449.6 87.2l1.5-0.4 2.3-1.9-4.5 0z" fill="#ef8282" fill-rule="evenodd"/>
<path d="M443.5 268.1l4.8-0.5 0.1-1.8-0.7-1.8 0.2-1.8 3.2-0.7 0.7-1.1-3-7.2 2.6-3.7 0.3-1.8-0.6-0.5-1.2 0.5-0.3 1.8-1.5 1.3-3.1-0.2-0.6 2.6-1.7 1.8-0.3 1.8 1.1 3.6-3.2 3.6 0.3 1.8 1.8 1.8zM510.4 240.8l1.6-0.5 0-2.5-1.6-0.4-0.6 2.9zM518 239.4l3.1-0.6 3.7-2.2 2-3.7-0.2-1.9-0.9-1.5-1.6-1.4-1.5 0.3-0.7-1.1 1.1-3.8-0.4-0.9-1.8-1-0.8-1.9 1.6-5.7 1-1.5 1.5-0.3 0-0.8-1.5-0.9-1.5-0.1-1.5 1.2-1.6 0.3-1.5-1.2-0.4-0.6 1.3-3.8-0.9-1.1-1.2 1.1-0.7 1.9-3.7 1.9 0.3 2-0.3 1.9-0.5 0.3-1.5 0.6-1.5-0.2-3-3.3-0.5 0.7 0.4 1.9 1.4 1.9 0.6 7.6 1.7 5.7 2.4 3.1 1.6 0.3 1.7-1.6 0.5 1.9 2.3 2.7 0.4 2.9zM536.3 216.8l1.4-0.9-0.7-3.8 0.7-2 4.7-5 1.5 0.2 1.3-1-1.3-2.5-1.5-1.1-1-2.2-3.3-2-0.8-2-1-0.6-2.3 0.6-1.8 2 0 2 1.1 1.1 2 0.8 2.3 3.9-2 5.8-1.3 2 0.2 1.9 1 1.9zM556.1 216.1l1.4-0.2-1.7 0zM557.6 215.9l1.5-0.5 0.7-1.4-0.7-4.7-3-0.3-0.2-2.7 1.7-0.7 1.5 0.5 0.7-1.8 0.2-3.9-1.8-3.9-2.9-2-2.3-3.4-3.2 1.5 0.1 5.9 1.3 1.9-1.2 3-1.5 1.9-1.6 0-1.5 0.9 0.1 3.9 1.4 2 4.6 0.5 1.5-0.8 1.6-0.1 0.9 0.4 1.6 1.9zM624.5 212.5l3.1-0.8 3 0.1 1.5-1.8 7.6-5.6 0.8-2-2.3-10.4-1.5-0.6-4.6 0.6-2-3.4-1.1-6 0.8-4-2.1-8.2-5.8-6.1-3.5-2.4-4.5-0.6-4-1.2-2.1-1.3-4.6 1.3-1.5-1.1-4.6 6.8-1.3 4.6-1.7 3.3 0 2.6 1.2 4.3-0.7 2 1 2.5 4.7 3.5 3.5 7.9 2.5 2 4.5-1 1.2 1 1.8 3.9 3.1 0.5 1.5 2.1 2.4 1.3-0.1 1.9 0.7 1.9 2.3 2zM624.2 208.2l-0.1-3.9-2.6-3.3-1.8-0.6-1.3-2.9-0.2-3-1.9-1.9-2.4-0.6-4.6 1.3-3-0.1-3.2-6.6-4.4-4.2-1-1.8-0.7-4 0-2.1 1.8-2 0.9-2.1 0-2 2.2-4.1 1.3-1.4 6.1-0.7 3.1 0.9 3 2 3 0.4 1.6 0.9 1.5 2.7 1.5 1.4 0.8 2 0 8.1 0.8 2-1.6 4 1.5 1.5 1.5 3 1.6 0.1 1.5 3.6 1.5 0.9 3 0.5 1.6 2 1.5-0.1 1.1 2.3-2.6 0.5-1.6 2.5-1.5 0.7-1.5-2-1.1 0.3 0.2 3.9-0.6 2.3-3.1 0.8-1.5-0.8zM521.1 204.7l1.5 0.5 3.2-0.9 0.1-1.9-1.9-3.9 0.1-3.9 1.6-1.9 1.5-0.3 1.5-5.9 1.7-1.9 1.3-8 1.6-2 1.5-0.9 1.1 2.9 3.4 1 3.1 1.9 1.2-0.9-0.1-2 1.6-2.1 0.8 0 2.6 2.3 2-2.3 0.8-2-1-4.1-1.7-2.1-0.7-2-2.7-2.1 1.8-4.2-0.7-2-0.9-0.9-1.5 0.6-0.9 4.4-2.1 1.6-1.6 0.7-1.5-1.2-1.5 0-0.7 1-0.5 2.1 0.3 2 0.9 0.5 0.6 1.6-0.6 1.4-1.5-0.6-0.2-2.9-1.3-1.1-1.6 0.3-1.5 1-0.8 1.9 0.1 2-0.8 2.1-1.5 1.6-3.1-1.2-1.5 0.1-3 1.2-1.5 2.4-0.3 4-0.8 2 2.3 2 0.3 2.9-1.6 2-1.5 0.1-1.1 1-0.9 2 0.4 1.9 3.1 5.9-0.4 2 0.4 1.2 2.7 0.7zM520.1 180.6l1-0.7 1.7 0.7-1.7 1.9zM543.9 198.6l1.9-0.1-0.4-1.7-1.6 1.7zM680.8 188.7l1.5 0.8 1.5-0.4 3.1-1.8 1.5-2 3 1 10.7-5.4 4.6-0.9 3 0.9 6.1 0.1 1.2-0.4-2.7-1.2 0-1.1 1.5-0.6 3 0.5 0-5.5-1.5 0-1.5 1.3-1.5 0.2-1.6-1-1.5-0.3-3 2.5-4.6 0.4-3-2.1-1 0.8-0.6 2.1 0.7 2-0.7 0.4-4.5 1.4-3.1 2-3.7-1.8-0.8-2 2.2-6.1-0.7-1.1-1.5-0.7-0.8-2.3 2.2-4.1 2.2-2.1 1.2 0-0.2 2.1-0.9 2 0.8 2.4 1.6 1.2 3-0.4 1.5 1.9 1.5 0.8 3.1-5.9 1.5-0.3 2.3 0.3 0.8 2.1 1.5 0.9 3 0 3.1-1.5 1.5 0.2 1.5 2.9 1.5-0.4 0-5.2-4.5-2.9-1.6 0-1.5 1.1-1.5-0.4-1.5-1.5-3.1 0.9-1.5-0.1-4.5-2.3-1.6-1.4-1.5 1-1.5-1.7-1.5-0.6-3.1 0.5-3-3.4-1.5 0.7-4.5 4.9-1.6 3.5-3.1-0.2-1.5 3.3-3 0.7-1.3 1-0.5 2 2.9 4.1-0.4 4.1 1.2 4 2.6 3.6 3.1 1.2 1.3 1.2zM681.5 180.6l-0.7-2.6 1-1.4 1.4 0 1.2 2-0.4 2-1.7 0.9zM675.3 172.5l0.9-4.1 1.3-2.1 1.8-1 1.3 5.1-1.3 2.1-1.5 0.9-1.6 0zM718.8 180.9l0-0.9-1.1 0.6zM661 176.8l1.5 0.8 3.1-3.1 0-2-2.3-2.1-0.8-4.4-1.5-0.7-2.1 1-2.3 2.1 2.9 3 1.2 5.2zM648.9 172.6l1.9-0.1 0.6-2.1-1-0.5-1.6 2.6zM647.3 163l1.6-0.5 0-0.7-1.6-2-0.3 2.4zM553 150.1l0.4-2.6-0.4-0.5-0.8 0.5 0.6 2.1zM658 138.6l1.5 0.3 2.6-4.2 0.2-2.2-1.2-4.4-2.3-2.2-1.2 0-0.7 2.2 0.8 4.4-0.4 4.3zM650.4 118.8l1.5 0.5 0.6-2.2-0.3-2.3-0.3-0.6-1.5 0.1-0.6 2.8zM708.2 101.4l3-2.2 7.6-0.4 0-13.9-7.1 0 1.7 2.4 0.1 2.3-0.8 2.7-3-6.1-3 0.6-1.5-1.9-4.7 0 1.3 7.1-2.2 2.3 0.3 2.3 2.2 3 1.5-0.5 1.5-1.5 1.6 0.9 1.2 2.7zM623 94.7l1.1-0.4 0-2.3-1.1-0.8-1 0.8 0.6 2.3zM627.6 90.6l2.1-1 1.1-2.3-0.2-2.4-2.3 0-2.3 0.9-0.4 1.5 0.9 2.3zM691.4 85.2l1-0.3-2.5 0z" fill="#ec6a6a" fill-rule="evenodd"/>
<path d="M624.5 208.6l1.5 0.8 3.1-0.8 0.6-2.3-0.2-3.9 1.1-0.3 1.5 2 1.5-0.7 1.6-2.5 2.6-0.5-1.1-2.3-1.5 0.1-1.6-2-3-0.5-1.5-0.9-1.5-3.6-1.6-0.1-1.5-3-1.5-1.5 1.6-4-0.8-2 0-8.1-0.8-2-1.5-1.4-1.5-2.7-1.6-0.9-3-0.4-3-2-3.1-0.9-6.1 0.7-1.3 1.4-2.2 4.1 0 2-0.9 2.1-1.8 2 0 2.1 0.7 4 1 1.8 4.4 4.2 3.2 6.6 3 0.1 4.6-1.3 2.4 0.6 1.9 1.9 0.2 3 1.3 2.9 1.8 0.6 2.6 3.3 0.1 3.9zM615.9 188.6l-2-2-4.6-2.2-3-0.5-3.1-3.9-3-0.9-1-2.5 4.2-10.3 1.3-1 6.1-0.3 5.6 3.4 1 2-0.1 2.1 0.7 2 2.3 4.1 0 2-1.5 2 0.3 4-0.7 1.7-1.5 0.7zM682.3 181.5l1.7-0.9 0.4-2-1.2-2-1.4 0-1 1.4 0.7 2.6zM688.4 180.9l3 1.5 3.1-2 4.5-1.4 0.7-0.4-0.7-2 0.6-2.1 1-0.8 3 2.1 4.6-0.4 3-2.5 1.5 0.3 1.6 1 1.5-0.2 1.5-1.3 1.5 0 0-2.2-1.5 0.4-1.5-2.9-1.5-0.2-3.1 1.5-3 0-1.5-0.9-0.8-2.1-0.8-0.4-3 0.4-3.1 5.9-1.5-0.8-1.5-1.9-3 0.4-1.6-1.2-0.8-2.4 0.9-2 0.2-2.1-1.2 0-2.2 2.1-2.2 4.1 0.8 2.3 1.5 0.7 0.7 1.1-2.2 6.1 0.8 2zM712.7 92.3l0.8-2.7-0.1-2.3-1.7-2.4-6.5 0 1.5 1.9 3-0.6 2.8 5.8z" fill="#e95454" fill-rule="evenodd"/>
<path d="M616.9 189l1.5-0.7 0.7-1.7-0.3-4 1.5-2 0-2-2.3-4.1-0.7-2 0.1-2.1-1-2-5.6-3.4-6.1 0.3-1.3 1-4.2 10.3 1 2.5 3 0.9 3.1 3.9 3 0.5 4.6 2.2 2 2zM605.3 174.5l-0.1-4.1 0.8-2 1.8-0.6 3-0.1 3.6 2.7 0.4 2.1-0.9 1.6-4.6 0.3-1.5 1.3-1.5 0.1z" fill="#e74242" fill-rule="evenodd"/>
<path d="M606.3 175.8l1.5-0.1 1.5-1.3 4.6-0.3 0.9-1.6-0.4-2.1-3.6-2.7-3 0.1-1.8 0.6-0.8 2 0.1 4.1z" fill="#e53333" fill-rule="evenodd"/>
<path d="M463.3 182.9l-3-1.2-4.6-0.1-4.6-1.4-2 0.4-4.1-1.6-3 0.3-1.8-0.7 0.1-2 0.9-2.1 3.9-4.1 0.2-8.2 0.7-2.1 0.6-0.6 3 1.9 3.8-3.4-0.1-2-2.2-3.4-3.1 1.3-0.6-2.1 0.3-2.2 1.9-3 1.5 0 1.5 1 1.6-0.3 1.5 0.5 2.1 6.1 2.3 2.1 1.7 0.1 0.8 1.9 0.2 4.2 0.7 2.1 2.3 4.1 2.4 2 0.4 4.1 1.6 4.1-0.6 2-1.7 1.4-3.1 0.8zM574.3 344.6l-1.5-0.3-0.8-1.4 0.8-1.7 1.5-1.1 1.5-0.1 1.9 1.2-3.4 3.4M448.1 184.8l-9.1-1.8-1.6-2.4-0.8-4 0.3-4.1 2-6.2-1.9-8.3 0.4-2.8 1.1-1.3 0.4-2.1-0.2-4.3 1.4-4.2-1.1-8.6 0.6-2.2 2.4-1 1.5-1.7 1.5 0 3.1 2.1 6.1 7.1 4.9 4.3 4.5 6.3 1.3 4.3 2.4 4.1 0.6 4.2 1.7 2.1 1.8 4.1 1.5 8.2-0.7 4-2.8 4.3-1.5 1-3.1 0.7-13.7-2.1-3 0.3M469.3 372.1l-2.7-1.6 0.5-1.6 0.8-1.2 3 0.7 1.5-0.4 1.7-3.9 2.2-3.3-0.1-1.6-0.7-1.2-1.6-0.5-1.5-1.6 1.5-1.6 1.6-0.4 0.3-1.2-0.4-1.6-2.5-1.7-1-1.6 0.5-2 2.7-1.3-1.2-3.5-1.3 0.2-0.2 1.7-3 1.2-1.5-0.1-0.3-1.1 1.8-2.3 3 0.5 0.4-3.2 1.1-2.8 3.1-0.5 0.6-1.7-0.6-1.5-3.1-0.9-0.5-2.6 0.5-1.6-1.5-1.6-1.5 0.2-1.5 1.4-0.9-1.7 1.6-6.7-3.8-0.2-1.1-1.5 0.4-1.7 1.1-1.7 1.2-0.6 1.5 0.2 1.5-0.5 3-5.2 1.6 0.5 3-1 4.6 6.9 1.5-0.2 0-3.5-1.7-1.7-0.5-1.7 0.7-5 1.5 1.4 1.5 2.8 1.5 0.7 1.1-1.6-1.1-3.5 1.4-3.4-1.2-3.5 4.4-5.9 1.5 0 3.1-1.8 1.5-0.2 1.5 0.6 4.6-0.3 1.5-1.3 3 1.7 1.5-0.4 3.1 0.5 0.9 1.9-0.2 3.5 0.8 1.7 3 2.1 1.1-0.3-1.1-3.5 1.3-1.7 3.3-0.5 0.5-1.3 2.6-2.1 3 0.2 1.2-1.6-0.3-1.7-1.3-1.8-1.1-4.1-1.5-2.7-1.6-0.3-3 0.3-1.5 2-1.6 0.9-3 0-3-1.6-0.9-1.5-0.7-3.2-1.5-0.5-1.5 0.8-3-1.6-0.6-0.8 0.5-1.8 1.6-2.3 1.5 1.5 3-1.8 3.1 0.6 2.4-1.6 1-1.8-1-3.6 0.5-1.8 1.6-2.1 1.6-0.8 3-0.3 1.5-2.2 1.6 0.2 1.5 7.4 4.5 4.6 1.5-1.4-0.5-3.6 2.6-1.8 1-4.6 1.5-0.9 1.5 3.1 1.6 0.8 1.5-0.2 0-1.8 1.5-0.8 1.5 0.4 2.4 4 0.4 1.8-1.2 1.8-1.2 7.2-1.3 3.5 0.9 2 1.5 0.3 4.6-1.1 3.1-1.7 1.5-0.1 3 1.3 1.5 1.1 0.5 1.8-0.2 7 4.3 4.4 1.5 0.2 3.1-2.1 2.5 2.8 2 0.7 3.1-0.5 3 1.6 1.5-1.3 1.6 1.1 4.5-0.9 3.1 1.5 1.1-0.5 0.4-1.5 1.5-0.2 0.3 1.7 1.2 1.3 1.5 0.2 3.1-1.2 4.5 4.3 1.8-1.1-1-3.5 0.8-0.6 3-0.1 3.1-0.9 3 0.7 3-1.5 1.6 0.7 0.6 1.7 2.4 2.2 0.8 4.8-3.8 1.2-1.6 1.5-1.5-0.4-4.5-2.9-4.6-0.1-1.5 1.6-3.1-0.9-4 3.4-0.5 2.3-2.8 1.2-0.5 1.7-1.3 0.5-1.5-0.3-4.6-3.9-0.7 0.2-2.1 3.5-1.7-0.6-1 0.6-0.4 1.7 1.2 1.7-0.9 1.7-0.5 0.2-3-1.1-1.6 0.9-0.3 1.7 1.6 3.4-2.8 2.4-1.5 2.6 0.3 1.7 1.2 1.7 1.6 1.2 1.5 0.4 3-1.2 3.1-2.4 3 1.6 1.5 0.2 3.1-2.6 3 0.4 3.1 1.4 2.8 2.7 0.6 1.7-0.4 2.9-3 0.2 0 0.9 3-0.5 1.5 2 1.3 2.8-0.3 3.3 3.6 3.2 1.5 3.8 1.5-0.9 1.6-2.1 1.2 1 3.3 0 1.5 2.1 2.2 1.1-1.5 8.2-1.2 3.3 0.4 1.6-1.2 1.6-0.4 1.6 0.7 1.7 1.6 1.6 0.8 3.2-1.7 3.2M474.5 372.1l-0.6-1.3-1.5-1-2.7 2.3M510.7 372.1l1.3-0.7 1.3 0.7M523.5 372.1l0.2-1.6-2.6-3.2 0.2-1.6-0.9-3.3 0.7-2.4 1.5-0.5 1.5 0.8 4.6-0.5 1.5 1.1 6.4-8.2-0.2-1.6-1.6-1.4-1.5 1.1-0.9 1.9-2.8 1.6-0.9 4.7-1.5-0.5-0.4-4.2-1.1-0.9-1.6-0.1-1.1 1-0.6 1.6-1.3 0.8-3.1-0.2-0.8-0.6 0-1.6-2.2-2-2.9 0.4-0.1-1.8-3.1 2.5-1.5 0.3-1.5-0.4-0.7-0.6 0.6-3.3-4-4.9-2-0.7-1.5 0-0.4 2.3-2.2 1.7-0.5 1.1-1.5-0.8-3 1.6-1.5 0.1-1.6 2.4-1.5 0.9-1.5-0.2-1.5 2.2-3.1 0.3-0.9 0.5 0.9 1.5 2.9 0.2 1.7-0.7 3 2 1.6-3.6 1.5-0.4 6.1 2.6 4.4-1.6-0.5-1.6 0.6-1.3 1.5 0.2 1.1 1.1-1.1 1.5-0.9 0.1 0.9 0.3 1.1 3-0.8 1.6-1.8 0.5-1.5 1.6-3 0.4-3.1-0.6-0.8-1.9 0.5-1.6-1.2-0.9-1.5 1-3.1 0.1-0.7 1.4 0 1.6 1.6 1.7 1.9 4.8 0.3 3.2M591.9 372.1l-0.8-0.5-1.7 0.5M621.1 372.1l-0.2-3.2 2.6-1.6 1.3-1.6 0-3.3 1.2-2.2 0.7-2.6 1.3-1.7-0.7-1.6-2.4-1.6 2.7-1.3 1.5 0.5 1.5 1.9 1.5-0.3 1.5-1.6 1.6 0.2 1.5 1.4 3-0.2 3.1 0.8 1.5-1.5 1.5 0.7 1.5-0.1 1.6-1.4 1-2.4-1.3-1.6 0.3-1.9 3 1.5 1.5 0.2 1.5-0.6 0.8-0.9-0.4-3.2 1.2-2 1.6 0.3 1.1 1.7 0.3 1.6 1.5 1.1 4.6 0.9 0.3-2-2.1-3.3 3.3-3.3 1.5-0.7 2.2 0.7-0.1 5 1 0.9 6.1 0.3 1.5 1.2 1.5 0.2 6.1-0.7 2.7 1.3 7.5 1.7 2.7 4.9-2.3 1.7 1.3 1.5 1.8 0.5 3 3 1.7-0.2 0.7-1.6-0.9-1.6-4.5-1.1-0.6-0.6 1.5-1.6 5.2-1.5 1.5-1.6-1-3.5 1-1.4 3 2.1 1.1-0.7 0.5-3.2 0.7-1.7 0.8-0.4 2.9 5.3 1.6 0.3M411.6 366.3l1.5 1.2 1.5-0.1 3.1-4.3 3 1.4 3-2.7 1.3 0.6 1.8 2.4 1.5-1.5 1.5-0.5 1.6 0.3 0 1.6-2.4 2.6-0.7 1.5-0.3 3.3M411.6 338.8l0.5 0.8-0.5 2.3M411.6 302.6l3-0.2 2-1.6-0.8-1.7 0.3-0.9 1.6 0.5 0.2 2.1 1.3 1.9 1.5 0.2 1.8-2.1 2.8-1.4 2.2 1.4-8.7 10.3 0.1 3.4-2.8 4.3-3-0.1-1.5-1M718.8 239.2l-0.6-0.7-0.1-1.9 0.7-1.5M597.1 366.6l1-0.9 0.1-1.6-1.1-1.4-0.9 1.4 0 1.6zM607.8 364.1l0.9-1.7-4-4.7-1.5 0.3-0.8 1.2 0.5 1.6 1.8 2.3 2.6 1zM642.8 365.3l1.5-1.1 0.6-1.8-0.6-1-1.5 0.7-0.5 2zM439 361.2l0-0.5 3-0.8 1 0.9-1 0.6-1.5 0.4-1.5-0.6M431.4 360.3l-0.7-1.1-0.9-0.5-1.5 0.3-3-2.3-1.5-2.4 1.5-1.8 1.5 0.5 0.5 1.3-0.8 1.6 0.3 0.6 3-1.3 4.6 1.4 0.5 1-0.2 1.6-1.8 1.2zM665.6 359.5l1.5 1.2 1.5 0 3.4-4.8-0.9-1.6-2.5-1.7-0.3 3.3-1.2 1.5-1.7 0.2-0.2 1.6zM483.1 351.7l1.5 0.5 1.5-2.7 2.4-1.7 0.7-1.7-1.6-0.9-3 0.7-1.6 1.9-0.2 3.3zM603.2 351.3l2.2-0.2 0.7-1.7-1.4-0.7-1.5 0.5-0.1 1.9zM609.3 351.2l1.2-1.8-1.2-1.2-2.9 1.2 1.8 1.7zM665.6 351.2l1.5 0.6 1.1-0.7-1.1-3-1.5 0.4-0.1 2.6zM524.1 346.7l1.2-0.6-0.2-1.6-2.5-1.9-1 1.9 1.3 1.6zM423.7 339.3l-0.6-1.4 0.3-1.7 0.3-0.6 1.6-0.5 3 1 0.9 1.8-0.9 1.3-3 0.4zM522.6 339.2l1.5 0.3 5.3-1.6 3.9-3 0.9 1.3-0.1 1.7 0.7 1 4.5-0.8 0.7-1.9 0.9-0.1 1.5 0.4 3 2.2 1.5 0.2 2-1-0.4-5-0.8-1.6-1.8-1.7-0.5-1.7 1.3-3.3-0.7-1.7 0.3-3.4-3.9-1.9-1.5 3.5-1.6 0.8-1.5 1.8-1.8-0.8 1.3-1.7-1-1.8-1.5 0.6-6.1 0.1-3 2.4-1.6 0.4-1.4 3.4-1.6 0.4-0.5 1.2 0.5 3.4-1 3.3 0.2 1.6 1.1 1.7zM642.8 338.1l0-0.7 1.5-1.5 0.7 0.3 0.8 1.7-1.5 0.8zM446.6 336.3l0-1.7 1.5-1.7 1.5-0.4 2.3 2.1 0 1.6-0.8 0.7-3-0.4zM556.1 333.6l2.9-0.7-0.7-1.6-2.2-2.3-1.5 0.1-0.5 0.5 0.1 1.7 1.1 1.6zM630.6 333.7l-0.9-0.8-0.5-1.6 1.4-1.2 1.5-0.3 3.1 2.9 3-0.1 0.2 0.3-1.7 1.2-3.1-0.8-1.5 0.4zM455.7 332.4l-2.3-2.8 0.8-1.1 1.5 0.7 1.8 2.1-0.3 0.9zM508.9 331.6l3.1-0.9 1-1.1-0.7-1.7-1.9 0.3-1.7 3.1zM568.2 331.3l3.1 0.6 0.3-0.6-1.7-1.7-1.7-0.3-1.1 0.3 1.1 1.7zM656.5 331.9l-0.8-2.3 0.8-2.4 0.5 0.7 4.5 1.7-1 1.7-1 0.5-3 0.1M626 329.2l-2-2.9-0.1-1.7 2.1-0.8 0.7 0.8 0.3 3.3zM548.5 319.9l1.5-0.5 2.7-3.2 1.9-1.1 1.5 0.2 1.5 2.8 1.5-0.4 1.5-1.3-0.2-1.9-4.3-4.5-1.5 0-4.6-2.7-0.6 0.4-0.9 1.7-0.7 3.4 0.8 3.4-0.7 1.7 0.1 1.6zM439 318.3l-1.6-0.5-0.3-1.6 0.3-1.3 1.6-0.4 3 0.5 1.8 1.2-1 1.7-2.3 1.2-1.5-0.8M531.7 307.7l1.6 0.4 0.8-0.4-0.8-2.9-1.6 2.9zM603.2 304.7l-0.5-0.4 0.1-1.7 1.9-2 1.6-2.8 3-1 1.9 2.3-3.4 2.9-1.5-0.2-2.7 2.5zM452.6 302.6l0-2 1.6-0.8 0.8 1-0.1 1.8-0.7 0.5zM534.8 301.4l4.5 0.6 1-1.2-1.1-5.1-1.4-1.5-1.5 0.2-1.8 3-0.5 1.7 0.6 1.7zM638.2 291.4l0-1.7 1 0.8-1 0.9M536.3 288.8l2.5-1.8 0.5-1.5 0-5.7-3 2.2-3-0.7-2.6 2.2-0.3 1.7 1.3 1.5 3.1 1 1.5 1zM629.1 288.3l0-4 0.9 0.9-0.3 1.8zM554.6 285.3l1.5 0.7 0.8-0.8 0.5-1.7-1.3-1.2-2.1 1.2 0.5 1.7zM612.4 286.4l-0.6-1.2 0.6-1.7 1.7 1.7-1.7 1.2M670.1 285.3l-4.5-3.4-1.3-3.7-3.5-3.5-2.5-3.6-0.3-1.7-1.3-1.8-0.3-1.8 0.8-7.2 0.8-1.2 1.6-0.6-0.1-2.3-1.5-1.5-1.5 0.4-1.6-0.9-0.5-1.1 0.2-1.9-1.2-1.5-1.5-0.7-1.5 0.7-1.5 1.6-3.1-1.3-3 3.5-2.7 1.4-1.1 5.4-2.3 2-1.3 3.4-2.8 1.8-0.1 1.8 1.1 5.3-2.5 3.6-1.1 3.5-0.9 0.6-1.2-2.4-3.4-3.4-1.5-0.7-3 1.2-3.1-2.7-1.5 1-1.5 2.5-4.6 2-1.5-0.2-1.5-1.2-6.1 0.1-4.6-1.8-1.5 0.5-0.8 1-0.7 2.5-4.6 1.7-5.2-2.5-1.2-1.7 0.5-3.6-4.7-2.3-1.6-2.8-1.5 0.6-3 3-3.1 0.5-0.5-0.8 0.8-1.7-0.3-2.8-1.5 0-1.5 1.6-1.5 0.6-1.2-1.2 0.2-1.8 1.1-1.8 0.5-3.6 2.4-2.8 0.9-2.6 2.7-1.8 0.8-1.8-0.9-1.9 4.4-3.6 2.8-7 3 0.5 1.5-1.3 1.6 0.3 3 2.4 1.5 0.1 1.5-0.4 0-2.1 4.6 1 1.5-0.8 1.5 0.3 1.6 3 1.5 1.2 1.5 0.5 1.5-1.5 1.5 0.3 3.1 2.2 3-1.2 1.6 0.1 2-1.3 2.1-5.6 0.4-0.4 1.5 0 1 4.1-1 1.4-1 0.5-0.2 1.8 2.8 0.2 1.5 0.6 0.6 1.1 0.3 3.6 3.6 3 1.6 0.3 1.5-0.5 1.5-1.5 3 0 1.6 2.4 3-0.9 0.8-0.9-6-7.4 2.2-4.5 6.1-1.7 4.5 0 4.6-1.7 7.6 0.8 1.5-0.6 0.5 0.3-0.3 1.9 0.4 1.8 0.9 0.9 1.5 4.7 1.6 0.2 4.5 1.9 0.8 1.5 2.3 2 3-0.1 3.1-1.8 2.4 1.8-0.8 1.8-2 1.8 0 1.8 2.3 1.8-0.8 3.6 0.4 3.6-1.1 1.8 1.8 3.5 0.3 1.8-1.4 1.8-2.5 1.8-0.6 3.5-2.7 3.5-1.4 1.7-1.6 0.1M483.1 277l-0.3-2.3 0.6-1.8 1.2-0.4 0.5 0.4 0.1 1.8-0.6 1.7-0.6 0.1zM499.8 278l-0.7-1.5 0.7-5.5 0.7 3.7 0.8 0.3 0.9 1.5-0.9 0.9zM715.8 256.9l0-2.4 0.8 0.5-0.8 1.9M703.6 255.9l-0.8-0.9 0.1-1.8 1.7 0-0.1 1.8zM685.4 246.8l0-2.9 0.6-1.7 0.9-0.6 3.4 4.3-1.9 1.7-1.5-0.3zM594.1 243l2.1-0.8-0.6-1.1-1.5-0.2-0.9 1.3zM469.4 229.2l-2.2-3.8-2.4-2.5-3-2.5-2-0.7-0.5-1.9 0.9-1.9-0.2-3.8 1.8-1.7 1.5-0.1 6.1 1.7 1.5 1 2.6 6.7 0.3 5.7-0.6 1.9-2.3 1.6-1.5 0.3M682.3 216.9l-0.2-1 0.6 0-0.4 1M659.5 214l-2.1-1.9-0.9-3.4-1.6 2.6-1.5-0.9-1.3-4.1 0.1-2 5.8-5.9 1.5-0.7 3-0.3 1.6-1.1 3 0.4 4.6 1.8 1.5 1.2 0.6 2.7-0.4 1.9 0.6 3.9-1 1.9-5.9 3.3-6.1 0.8zM452.6 202.8l-0.7-0.4-0.1-2 0.8-0.8 1.6 0 1.6 2.8-1.6 0.5zM461.8 195.2l-1.5-3.1-9.1-3.5-4.6-0.1-7.6-1.8-1.6-1-1.5-2.5-2.5-8.7-2.2-4.1 0.2-3.2 2.2-2.9-1-8.3-0.7-2.1-1.7-2.1-0.6-2.2 3.3-4.2-1.5-2.6-0.4-1.7 0.7-2.1-0.2-2.2 1.1-2.1-0.4-2.2-1.5-2.2 0.7-0.5 1.1-3.9 0.1-2.2-1.2-4.4-1.6-1.4-1.5 0-0.9-0.8-0.4-2.3 2.8-2.9 4.6-0.2 4.6 1.9 1.5 1.8 2.4 6.1 3.7 1.1 1.1 1.1 19.8 25.9 1.4 4.3 7 14.5-1 4.1 0.1 6.1-4.1 11.6-1.5 0.9-4.6 0.4-1.1 1.1-0.4 2.4zM629.1 156.1l-1.5-0.8-0.5-1.4-0.1-6.4-2.3-6.4 0.4-4.3 0.9-2.7 1.6-1.7 3.2 4.4 3.2 2.2 0.6 2.1-0.6 2.2-0.2 8.5-1.7 3.5-1.5 0.8zM591.1 132.1l-1.5-1.8-0.3-2.2 1.4-2.2 0.6 0 1.2 2.2 0.5 2.2-0.4 0.9zM423.7 112.8l-0.7-0.2 0.7-2.3 0 2.5M718.8 296.1l-3-2.5-3.1-1.3-0.7-3.6-0.8-0.3-4.5-1.6-3.1 0.5-1.5-1.1-1.5 0.7-0.8 1.8-0.8 0.3-1.6-2 0.1-2.4-1.5-1-1.5-0.3-4.6 0.6-1.5 1.3-0.4 1.8 3.4 2.1 3.1 3 1.5 0.7 0.9 1.1-1.2 1.8 1.7 1.7 3.2 2.3 3.2-0.6 2.9 4.9 1.5 0.5 1.5-1.1 3 1.3 3.1-0.1 1.5-3.6 1.5-0.8M411.6 283.7l0.9-2-0.9-0.5M411.6 267.7l0-1.1M411.6 263.4l0.3 2.4 3.6 1.8 2.2 2.1 4.5 0.6 1.5 2.5 3.1 0.1 4.6 4 4.5 0.3 4.6-2.7 1.5 0.1 3 3.8 4.6 1.2 2.9-1.4 3.2-3.4 1.7-3.7 3.8-3.5-0.2-1.8 0.9-1.8 2.9-1.3 3.1 2.3 2.9-1 1.6-1.9 1.5 1.8 1.6-0.3 1.5-1.2 1.5 0.3 1.5 1.8 1.1-0.5 0.1-1.8-1.7-1.8-0.7-7.2 1.2-1.4 3.1 0.6 5.6 6.2 3.5 1.7 3.2-1.7 2.9-5.5 3-0.5 3.1 0.7 6-2.4 3.1 0.7 1.5-0.3 3.2-1.8 2.9-5.3 1.5-0.6 4.6-0.4 9.1-3.3 1.5 0.1 3.1 2.9 3 1.1 1.5 0 3.1-1.2 3 0 3.1-2.9 0.6-3.3 5.4-5 0.5-4.3 4.1-4.5 2.8-6.9-1.7-7.7 0.4-1.4 3.2-0.5 1.4-2.5 1.5 0 1.5 1.9 1.5-1 3.1 0.2 1.5-1.4 1.5 0.4 1.6 5.1 1.5 0.7 1.5-0.3 1.7-1.2 0.6 1.9-0.3 2-2 2.9-0.9 2.8 0.8 1.9 3.1 1.8 1.6 1.7 4.5-1.9 1.7-1.6 1.4-0.5 0.4 0.5-0.4 1.3-2.1 2.5 0.5 1.9 3.1-0.9 3-0.1 3.7 1 2.4 1.8 1.5-0.6 3.1 0.9 1.5-0.4 4.6-3.3 3 1.3 1.5-0.3 1-1.3-0.7-3.8 2.8-1.5 3 1.2 3.5 0.3-0.9 3.8 2 2.7 1.5 0.8 3-4.1 1.6-0.7 1.5 0.5 0.9-1.1-0.2-1.9-2.4-3.8 2.7-11.6-0.6-3.9 0.3-1.9 2.3-3.6 3.1-0.5 3-3.4 3-1.1 4.6-0.5 1.5 1.4 1.5 0.1 4.6-2.9 3 3.5 1.6 0.8 9.1 1.9 3-0.7 1.4 1 0.2 2.6 1.5 1.3 3-1.7 4.6-4.1 3-0.4 4.6 0.6 0.4 3.7-1 3.9 2.1 12.2 1.5 1.3 1.6-0.5 3 0.1 6.1-6.4 1.5 0.8 1.5 0M411.6 241.8l1.5 0.7 0.9 1.5-0.9 2.3-1.5 0.3M718.8 195.9l-1.5 0.2-1.5-4.6-1.5-0.5-1.6 1.8-3 0.3-4.5-2.5-0.7-2 2.2-1.3 3 0.3 1.5 0.6 1.5 1.6 1.6 0.5 1.5-0.5 0.5-1.2 2.5-1.1M411.6 192.5l7.6 3.9 3-0.1 4.6-2 3 0.5 1.4-2.2 0.3-6 0.9-4-0.1-2-1.9-2-0.6-1.8-1.5-0.3-3 1.6-1.6-1.1 0.2-2.5 1.1-2-0.5-4.1 1.8-6.2-1-2.6-1.6 0-1.5-1.2-1.5-3.7-3.5-0.8-1-2.1 1.5-2.9 0.4-3.5-2-1.9-1.5 0.3-3 3.7M411.6 141.4l0-0.4M426.2 84.9l2.1 4 0.4 3.1 1.1 2.2 3.1 0.7 1.6 1.7 1.1 2.3 0.8 4.6 1 1.9 1.6 1.3 3 0.8 4.1 5.1 0 4.5 5 2.6 3.1-0.8 3.5 2.6 0.1 2.2 2.5 1.3 1.6 3.1 0.4 2.2-0.6 2.2 1.2 4.3 1.9 2.2 3.1 1.2 0.7 0.9 0.8 4.3 1.5 3.7 2.6 2.7 0.1 2.1 1.9 4.3 1.5 0.3 1.5-0.8 1.5 0.9 1.5 3.4 2.1 2.3 0.9 2-0.2 4.1-4.3 3.7-0.4 2.5-1.1 1.8-2.6 8.2-0.9 6-1.9 1.9-0.8 2 0.4 5.9-1.3 1.9 2.9 3.9 2.7 7.5 2 2.1 0.4 1.9-1.9 3.8 0.3 5.7 0.7 1.8 1.5 1.7 2.9 2.1-0.3 1.8-1.1 1.9-0.8 3.7-0.7 0.7-3.2-2.6-0.3-5.5-1-1.3-3.1 1.6-3-0.5-5-7.3-2.6-2.6-3.1-0.7-1.5 0.3-1.5 1.3-4.6-2.4-3-0.2-1.5-1.1-3.6 1.6 1.8 1.9 0.4 1.9-4.7 2.2-3.1 3-3 0.7-4.6-1.1-1.5 0.4-3 2.1-0.2-1.7 1.2-1.9 0.1-1.8-0.4-1.9-1.6-1.9 0.9-2.8 1.5-2.7 0.8-0.2-1.3-3.8-3.6-3.8-0.7-2 1.2-5.8-1-4.1-0.7 2.2-2.3 3.4-1.5-0.1-1.6-1.6-1.5-0.4-3 3.2M484.9 84.9l-0.1 2.4-0.7 2.3-1 1.3-1.6-0.4-3-2.2-3-0.8-0.7-2.6M579.4 84.9l1 1 1.5-0.6 1.6 1.4 0.2 2.9-0.7 2.4-1.1 1-3 0-0.5 1.3 0.5 2.6 1.5-0.7 1.5 0.6 1.6 2.3 1-2.5-0.3-2.3 0.8-2.3 1 2.3 0 2.3 2.5 4.6 0.3 2.3-0.8 4.6-1.5 3-4.6-1.8-1.5 3.3 1.5 2.3 1.6-1 3-0.1 1.5-2.5 4.6 1.9 4.5 7.1 1.6-0.8 1.5 1.6 1.5 3.7 3.2 1.1 0.5 4.4 1.3 4.4-0.4 3.3-3.1 0.9-1.5 3-1.5 0.4-3.1 2.5-1.5 0-1.5-1-1.5-0.2-3.1 1.7-4.5 0.7 0-1.6 1.5 0.1 0.8-1.2 0.4-2.2-1.3-6.4-2.4-2.2-1.9-4.4-1.7-1-1.5 1-0.2-2.2 1.5-4.4-1.3-1.8-3.1 0.9-1.5-0.4-4.5 1.9-3.1-0.8-1.5-1.8-1.7-4.7-1.3-2-3-2.5-1.2-2.2-1.4-4.6 0.5-2.3 4.3-6.9-2.7-4.7-1.1-1-1.5 1.1-1.5 2.2-1.6-1.2-0.5-3.4-1-1.5-3 3.8 1 2.4-0.8 2.3-1.8 1.1-1.5 3.6-1.5 1.6-1.3-4 1.5-2.3 0.1-2.3-2.3-2.4 0.2-2.3 1.8-0.7 1.1-1.7M604 84.9l2.1 14-1.4 3.1-4.5 2.5-1.5-1.1-3.1-5.2-3-2.4-0.6-1.5 1.2-4.7-1.3-4.7M696 311.4l1.5-0.9 0.6-1.1-0.6-1.5-1.5-0.1-1.2 1.6 0.4 1.7zM703.6 311.4l1.5 1.1 1.7-3.1 0.3-1.7-0.4-0.7-3.1-1.7-2.9 2.4 0.3 1.7 2.1 1.7zM694.5 267.2l1.7-1.4-1.7-2.3-0.9 2.3zM475.5 254.2l-1.1-2.8 0.6-1.9 2-2 1.2 0.2-0.7 1.8 0.3 1.9-0.8 1.6-1.5 1.2M414.6 241l0-0.8 0 0.8M419.2 231.9l-0.6-2.7 0.6-2.2 0.5 4-0.5 0.9M626 227.3l1.6 0.4 0.7-0.4 0.8-1.4 0.2-2.4-2.8 1.9-0.5 1.9zM702.1 191.6l0-1.3 2 0.3-2 1M486.1 187.1l-0.5-0.5 0-2 1.3-2 0.7-0.4 0.4 2.4-1.3 2zM422.2 182.1l-1.3-1.5 1.3-2 1.5 1 0 1.8zM636.7 174.9l-0.6-2.4-2.3-4.1-0.2-1.6-1.5-0.1-1.5-1.1-6.1-7.8-1.5 0.2-3-2.2-1.6-0.4-2.5-3.6-2-1.2-1.8-5.2 0.2-4.3 1-4.3-1.3-4.3-0.2-2.2 1.5-4.4-0.9-0.5-1.3-3.9-0.3-4.4 0.8-6.8-0.5-4.5 2.8-1.6 3 0.1 1.6-3.1 1.5-1.1 6 3.4 1.6-0.4 1.5-1.5 1.5-0.6 1.5 1 2.2 3.8 0.9 2.3 0 4.5 0.4-2.3-0.4-2.2 0.7-2.3 0.8-0.4 1.5 1.1 1.5 3.3 0 4.5-1.5 3.4-1.5 1.6-0.5 2.2 1.7 2.2 0.9 2.2 0.9 0.9 1.6-0.1 1.9 1.4 1.1 1.5 0.8 2.9 3.5 4.3-0.8 4.3 0.7 2.2 1.8 2.1-0.7 2.1-0.7 0.6-1.6 0.1-7.6 6.8-3 1.1-1 1.9-0.1 6.3 3.4 4.1 0.4 2-0.5 4.1-0.7 0.8zM581.9 154.4l-1.1-2.6 1.1-1.9 3.1 1.3 0.3 0.6-0.2 2.1-1.6 0.8-1.6-0.3M673.2 150.3l-0.6-0.7-0.1-2.1 3.7-3.6 3.1-0.5 1.5 0.9 0.7 1.1-0.7 3.7-1.5 0-3.1 2.6-1.5-0.2zM708.2 149.8l-1.1-2.3 1.1-2.6 3-0.6 1.5-1.7 1.8 0.7 0 2.1-1.8 3.1-1.5-0.5-2.7 1.6zM706.7 141.9l-3.7-2.9-1.1-2.2 1.7-0.7 3.1 1 0.9 1.9-0.9 2.9M416.1 136.8l1.6 0.7 0.8-0.7-0.4-2.1-0.4-0.5-0.7 0.5-0.9 2.1zM519.6 134.8l0-3 0 3M536.3 129.7l-1.3-1.6 0.9-2.2 1.9-0.4 0.4 0.4-0.2 2.2-1.7 1.6M542.4 124l-1.2-0.3-0.2-2.2 1.4-2.2 1.5-4.2 1.3 2 0.4 4.4-2.3 2.2zM667.1 123.9l-5.7-9.1 0.1-11.3 5.6-6.7 1.5-0.8 1.5 0.4 1.6-0.4 1.5-1 4.6-0.2 1.5 0.8 0.3 1 0.9 6.9-1 4.6 3.4 9-0.4 2.2-1.6 2.2-0.1 2.2-1.5 1.7-1.5 0-1.6-1-6.1-0.6-1.5 0.3zM702.1 123.8l-1.1-2.3 1.1-1 1.5 0 0.3 1-1.8 2.3M464.8 118l-0.4-0.9 0.4-3.5 0.9 1.2-0.4 2.3zM537.8 118l-1.2-0.9-2.6-9 2.3-2.8 1.8 0.5-0.9 2.3 2.1 4.5-0.9 4.5zM706.7 118.4l-0.9-1.3 0.5-2.3 0.8 0 1.1 0.6 1.1 1.7-1.1 1.9zM470.9 116.1l-0.7-1.3-0.2-2.2 0.9-1.9 0.7 1.9 0 2.2zM505.9 110.7l0-0.8 3-2.6 1.4 0.8-2.9 2.6zM575.8 106.9l1.1-1.1-1.1-4.5-1.5 2.2 0.8 2.3zM467.9 97.8l-1.1-1.2-0.8-2.3 2.1-4.7 1.3-1.1 1.8 1.1-0.1 2.4-1.4 2.3 0.4 2.3-0.7 0.6zM458.7 92.6l-1.4-0.6 1.4-4.1 1.6-0.9 1.4 2.6-1.4 2.4zM718.8 180l-1.1 0.6 1.1 0.3M718.8 165.3l-4.5-2.9-1.6 0-1.5 1.1-1.5-0.4-1.5-1.5-3.1 0.9-1.5-0.1-4.5-2.3-1.6-1.4-1.5 1-1.5-1.7-1.5-0.6-3.1 0.5-3-3.4-1.5 0.7-4.5 4.9-1.6 3.5-3.1-0.2-1.5 3.3-3 0.7-1.3 1-0.5 2 2.9 4.1-0.4 4.1 1.2 4 2.6 3.6 3.1 1.2 3 2.1 3-0.9 3.1-3.3 3 1 10.7-5.4 4.6-0.9 3 0.9 6.1 0.1 1.2-0.4-2.7-1.2 0-1.1 1.5-0.6 3 0.5M628.3 84.9l-2.3 0.9-0.4 1.5 0.9 2.3 1.1 1 2.1-1 1.1-2.3-0.2-2.4M689.9 84.9l2.5 0M700.5 84.9l1.3 7.1-2.2 2.3 0.3 2.3 2.2 3 1.5-0.5 1.5-1.5 2 1.3 1.1 2.5 3-2.2 7.6-0.4M443.5 268.1l4.8-0.5 0.1-1.8-0.7-1.8 0.2-1.8 3.2-0.7 0.7-1.1-3-7.2 2.6-3.7 0.3-1.8-0.6-0.5-1.2 0.5-0.3 1.8-1.5 1.3-3.1-0.2-0.6 2.6-1.7 1.8-0.3 1.8 1.1 3.6-3.2 3.6 0.3 1.8 1.8 1.8zM510.4 240.8l1.6-0.5 0-2.5-1.6-0.4-0.6 2.9zM518 239.4l3.1-0.6 3.7-2.2 2-3.7-0.2-1.9-0.9-1.5-1.6-1.4-1.5 0.3-0.7-1.1 1.1-3.8-0.4-0.9-1.8-1-0.8-1.9 1.6-5.7 1-1.5 1.5-0.3 0-0.8-1.5-0.9-1.5-0.1-1.5 1.2-1.6 0.3-1.5-1.2-0.4-0.6 1.3-3.8-0.9-1.1-1.2 1.1-0.7 1.9-3.7 1.9 0.3 2-0.3 1.9-0.5 0.3-1.5 0.6-1.5-0.2-3-3.3-0.5 0.7 0.4 1.9 1.4 1.9 0.6 7.6 1.7 5.7 2.4 3.1 1.6 0.3 1.7-1.6 0.5 1.9 2.3 2.7 0.4 2.9zM536.3 216.8l1.4-0.9-0.7-3.8 0.7-2 4.7-5 1.5 0.2 1.3-1-1.3-2.5-1.5-1.1-1-2.2-3.3-2-0.8-2-1-0.6-2.3 0.6-1.8 2 0 2 1.1 1.1 2 0.8 2.3 3.9-2 5.8-1.3 2 0.2 1.9 1 1.9zM557.6 215.9l1.5-0.5 0.7-1.4-0.7-4.7-3-0.3-0.2-2.7 1.7-0.7 1.5 0.5 0.7-1.8 0.2-3.9-1.8-3.9-2.9-2-2.3-3.4-3.2 1.5 0.1 5.9 1.3 1.9-1.2 3-1.5 1.9-1.6 0-1.5 0.9 0.1 3.9 1.4 2 4.6 0.5 1.5-0.8 1.6-0.1 0.9 0.4 1.6 1.9zM624.5 212.5l3.1-0.8 3 0.1 1.5-1.8 7.6-5.6 0.8-2-2.3-10.4-1.5-0.6-4.6 0.6-2-3.4-1.1-6 0.8-4-2.1-8.2-5.8-6.1-3.5-2.4-4.5-0.6-4-1.2-2.1-1.3-4.6 1.3-1.5-1.1-4.6 6.8-1.3 4.6-1.7 3.3 0 2.6 1.2 4.3-0.7 2 1 2.5 4.7 3.5 3.5 7.9 2.5 2 4.5-1 1.2 1 1.8 3.9 3.1 0.5 1.5 2.1 2.4 1.3-0.1 1.9 0.7 1.9 2.3 2zM521.1 204.7l1.5 0.5 3.2-0.9 0.1-1.9-1.9-3.9 0.1-3.9 1.6-1.9 1.5-0.3 1.5-5.9 1.7-1.9 1.3-8 1.6-2 1.5-0.9 1.1 2.9 3.4 1 3.1 1.9 1.2-0.9-0.1-2 1.6-2.1 0.8 0 2.6 2.3 2-2.3 0.8-2-1-4.1-1.7-2.1-0.7-2-2.7-2.1 1.8-4.2-0.7-2-0.9-0.9-1.5 0.6-0.9 4.4-2.1 1.6-1.6 0.7-1.5-1.2-1.5 0-0.7 1-0.5 2.1 0.3 2 0.9 0.5 0.6 1.6-0.6 1.4-1.5-0.6-0.2-2.9-1.3-1.1-1.6 0.3-1.5 1-0.8 1.9 0.1 2-0.8 2.1-1.5 1.6-3.1-1.2-1.5 0.1-3 1.2-1.5 2.4-0.3 4-0.8 2 2.3 2 0.3 2.9-1.6 2-1.5 0.1-1.1 1-0.9 2 0.4 1.9 3.1 5.9-0.4 2 0.4 1.2 2.7 0.7zM521.1 182.5l-1-1.9 1-0.7 1.7 0.7-1.7 1.9M661 176.8l1.5 0.8 3.1-3.1 0-2-2.3-2.1-0.8-4.4-1.5-0.7-2.1 1-2.3 2.1 2.9 3 1.2 5.2zM676.2 173.4l-0.9-0.9 0.9-4.1 1.3-2.1 1.8-1 1.3 5.1-1.3 2.1-1.5 0.9zM647.3 163l1.6-0.5 0-0.7-1.6-2-0.3 2.4zM553 150.1l0.4-2.6-0.4-0.5-0.8 0.5 0.6 2.1zM658 138.6l1.5 0.3 2.6-4.2 0.2-2.2-1.2-4.4-2.3-2.2-1.2 0-0.7 2.2 0.8 4.4-0.4 4.3zM650.4 118.8l1.5 0.5 0.6-2.2-0.3-2.3-0.3-0.6-1.5 0.1-0.6 2.8zM623 94.7l1.1-0.4 0-2.3-1.1-0.8-1 0.8 0.6 2.3zM616.9 189l1.5-0.7 0.7-1.7-0.3-4 1.5-2 0-2-2.3-4.1-0.7-2 0.1-2.1-1-2-5.6-3.4-6.1 0.3-1.3 1-4.2 10.3 1 2.5 3 0.9 3.1 3.9 3 0.5 4.6 2.2 2 2z" fill="none" stroke="#9a8a8a" stroke-width="0.75" stroke-dasharray="1.6 1.2"/>
<path d="M457.2 178.9l-1.5-5-0.4 0.6-1.9 0-1.1-2 1.9-1.6 1.5 1.4 1.5-0.6 1.5-2.9 1.6 0.2 1.5-0.6 1.5 1.1 0.3 0.9 0.2 2.1-1 4.1 1 2-0.5 0.6-3-0.7-3.1 0.4M448.1 174.7l0-0.4 1.6 0.2-1.6 0.2M463.3 184.9l-4.6-1.3-3 0.1-4.6-1.4-3 0.5-4.6-1-3-0.1-1.8-1.1-0.5-4 0.8-2.8 1.2-3.4 1.7-2 0.7-2.1-1.3-4.1 0.7-4.2 1.8-2-0.7-4.2 0.4-1.4 1.5-0.6 0.5-2.3-0.5-2.1-1.5-1.2 0-1.9 0.8-1.2-0.2-2.1-1.2-2.2 0.6-2.4 1.5-0.5 1.6 2.1 3 1.7 3 4.4 6.1 4.4 1.3 3.1 1.8 1.4 1.5 2.5 1.8 4.5 0.1 4.2 1.1 3.7 3.1 2.5 1 2 0.2 4.1 1.1 4.1-0.7 2-3.1 3.5-1.6 0.6-3 0.2M534.5 372.1l-1.2-0.5-0.3-1.1 0.3-0.8 1.5-0.8 3 0.5 2.6 1.1 0 1.6M538 372.1l-1.7-1-1.4 1M551.2 372.1l-0.9-3.2 4.3-1.4 3-0.3 1.2 0.1-2.1 3.2-0.4 1.6M560.9 372.1l2.8-0.8 0.8 0.8M581.3 372.1l0.9-1.6 1.3-0.7 1.5 0.7-0.6 1.6M603.5 372.1l2.8-1.2 1.1 1.2M654.8 372.1l0.4 0M669.7 372.1l0.4-2.3 1.6-0.1 0.3 0.8-0.6 1.6M678.8 372.1l0.5-1.5 2.3 1.5M714.2 372.1l0.6 0M481.5 369l0.3-1.7 1.3-1.2 2.3 2.8-0.8 1.1-3.1-1M648.9 369.3l-1.6-2 1.6-1.9 0.5 1.9-0.5 2M539.3 364.7l-0.6-0.6-1.1-3.3 1.7-2.9 1.6-0.6 0.3 0.3-0.1 1.6-1.2 1.6-0.3 3.3zM572.8 364.5l-1.5-5.3-5.3-1.6-0.2-1.7 2.9-3.2 0.2-1.6-0.7-1.1-1.5-0.1-1.5-1.1-0.7-2.7 0.4-3.2-1-3.3 4.3 0 1.6-3.2 1.5 0.2 6.1-2.1 1.5 0.9 1.5-0.3 1.5-1.3 1.6 0.3 1.5 3.2 1.5 0.7 2.1 3.2 0.3 1.7-0.5 3.2-4.7 5-0.9 3.2-1.9 3.3-2.7 1.6-0.8 1.1-1 3.8-2.1 1.2zM650.4 364.2l-0.4-1.8 0.4-0.9 1.3-0.7 0.2-3.2 1.5-0.3 0-2.6-1-2 1-2.2 3.1-1 4.7 6.4-2.6 3.3 0.2 3.2-0.8 0.9-1.5 0.3-1.9-1.2-1.2-4.3-1.3 2.7-0.1 1.6-1.4 1.7zM586.5 359.5l-0.6-0.3 1.6-3.3 0.5-4.4 1.6-0.4 1.5 1.6 1.5-1.4 2.3 1.4 1.3 1.6-0.6 1.4-3.2 0.2 0.8 1.7-0.6 1.3-3.1-1.1-1.5 0.1-1 1.3zM572.8 356.9l5-2.6 0.7-1.6-1.1-0.6-3.1 1.1-2.1-0.5-0.9 0.6-0.3 1 1 1.6zM543.9 348.1l-0.8-0.3 0.8-1.3 0.8 1.3-0.8 0.3M499.8 326.3l-1.5-1.5-1.7-0.2 0.2-1.8 1.5 0.8 1.5-0.5 1.5 0.7 0.6 0.8-1.9 1.7zM504.4 311.5l-0.2-2.1 1-1.7 2.2-0.9 1.5 0.6 0 3.7-1.5 1.6-1.5-0.3zM550 299.6l-1-0.5 1-1.7 1.5 0.4 1.5 1.3-1.5 0.8-1.5-0.3M560.6 297.7l-0.3-0.3 0.3-1.6 0 1.9M585 298.3l-1.4-0.9 1.4-1.7 1.1 1.7-1.1 0.9M588 295.2l-0.2-1.3 1.7-0.2 0 0.6-1.5 0.9M534.8 274.9l-2.8-2 1.3-3.6 1.5 0.3 0.9 1.5 0.2 1.8-0.9 1.8zM515 274.1l-1.5-1.2 0.4-3.5 5.7-3.6 1.4 1.8-0.2 1.8-1.2 0.6-1.6-1.3-0.7 0.7-0.5 1.7 0.6 1.8-0.9 1.1zM600.2 271.9l-3.1-3-4.5 0.3-3.1-2.3-3-0.7-0.8-2.2 0.2-3.6 0.6-1 3-0.5 4.8-2.1 1.3 1 1.5 3.7 1.6-0.7 3.6 3.2 0.3 3.6-0.4 1.8-1.6 1.7zM612.4 269.7l-1.6-0.8-1.5-1.9-3-1.3-1-1.7 0.6-3.6-0.5-1.8 0.2-5.4 0.7-0.8 1.5 0.3 1.5 2.6 1.5 1.3 4.6-2.7 3-0.2 2.2 1.3-2.5 1.8-0.5 1.8 4.2 1.8 0.9 1.8-0.7 1.8-2 0.4-1.6-0.9-2.1 0.5-3.5 5.4zM668.6 268l-1.4-4 1.4-2.7 1.5-0.7 0.7 5.2-0.9 1.8zM664.1 255.1l-1.5-1.9 1.5-1.2 3.7 1.2-0.7 2.1-1.5 0.1zM467.9 222.1l-0.4-2.4-1.2-1.5-3 0.4-0.8-0.8 0.1-1.9 0.7-0.7 4.6 1.3 2.3 3.2 0.7 2.1-1.5 1.5-1.5-1.2M664.1 207.4l-2.9-3.1-0.3-1.9 3.1-2 3.1-1 1.6 1-3.1 7.5zM451.1 186.7l-6.1-0.5-4.5-1-1.5-0.5-1.6-1.4-1.6-4.7-1.8-8.2 1.6-4.1 0.2-4.1-0.8-6.2 1.1-4.2 0.1-6.4 1-4.3-2.3-10.8 1-3.9 0.9-0.5 0.6-4.8 1.6-1 0.2 3.6 1.3 1.6 6.1 0.2 3 4.7 11.7 13.1 4.6 6.3 1.1 4.3 3.9 7.2 2.7 7.3 0.3 10.2-3.5 8-1 0.9-4.6 1-12.2-1.5zM445.5 372.1l-0.5-1.3-1.4 1.3M450.2 372.1l-0.7 0M519 372.1l-1-2.7-1.5 1.4-0.4 1.3M411.6 358.2l0.7-0.6-0.7-2.4M718.8 333.8l-1-0.9-1.1 0 0.3 1.7 1.8 0.4M411.6 330.4l0.4-2.5-0.4-0.9M411.6 286.2l4.5-2.4 1.6 0.2 1.5 1.2 1.5 0.1-0.1-3.6 1.6-0.2 1.7 2 1.8 5.2 2.6 1.7 1.5-1.1 0-2.6 1.6-2.5 3 2 2.2-1 0.8-0.9 1.6 1.1 3-0.6 1.4 0.4 0.1 1.9 0.1-1.9 3-1.2 3 1.6 3-0.4 1.6 0.7 1.7 2.8-4.1 1.8-0.7 3.5 2.3-0.1 0.8-0.6 1.5 1.6 1.5 0.6 1.5-0.4 4.6 1.7 3-3.1 1.6-0.1 3 2.4 1.5-0.9 1.1-2.9-0.9-3.5-1.3-1.7-1.9-1.1-1.5 1.1-1.6 2.5-2.1-0.8-0.5-1.7 2.4-1.8 0.2-1.7-1.4-7 3-1.6 1.5 0.1 3 1.4 1.3-5.3 6.3-1.7 3.1-2.7 3 2 3.1 0.9 6-6.4 3.1-1.7 1.6-2.9 1.4-1.3 3.1-0.7 3-2.1 4.6-1.4 3 0 3.7-1.7 0.9-0.7 1.5-2.9 1.5-1 3.1-0.3 1.5-0.8 3 0 6.1-1.9 6.6 2.1 2.1 3.6 1.9 0.5 2.3 3.2 2.4 1.8 0.2 1.8-1.1 5.4 0.8 3.2 1.5 0.7 1.6-1.4 3 0 2.2-2.5-0.2-1.8 2.3-1.8 1.1-1.8-0.6-1.8-1.7-1.8-0.1-1.8 1.6-2.6 1.5 0.9 1.5 0.2 0.4-0.4 0.3-1.8-0.7-1.5-1.5-0.3 2.4-3.7-2.4-1.3-1.5 0-1.5-2.4 1.9-1.9 1.5-7.4 2.6-2.3 1-1.5-0.1-1.9 0.6-2.4 4.6-0.8 1.5 0.5 1.3-1.1-0.9-3.8 2.5-1.9 1.7-2.6 0.6 0.7-0.2 3.8 0.8 7.6 1.8 0.6 1.6-0.4 1.5 1.9 1.5-0.2 1 1.9 2 1.9 1.6 3 1.5 0.6 3-2.6 4.6-0.6 3.3 5.2 1 3.7 1.8 1.4 1.5-0.3 1.4-1.1-0.1-3.7 0.6-1.9 2.7-2.7 3 1 1.5-0.5 3.1 1.8 4.5-1.8 4.6 3.8 3-0.3 3.1 1 2.3-0.4 2.2-3.6 1.6-0.3 1.5 0.9 1.5 0.2 1.2-1 0.3-2.3 3.8 0.5 1.5 1.8 2.3 1.4 3.1-2.2 1.5-0.1 1.5 1.9 3 1.8 1.6 0.2 1.5-2.5 1.5-0.7 1.5 1.7 1.5-1 1.6-0.2 2.3 1.6 0.7 3.3 1.5-0.4 3.1 2.7 0.9-1.9 0-3.7-0.9-1.3-3.1-1.5-0.1-2.8 1.8-1.9-0.5-3.8-1.2-1.6-1.5-0.2-3-3-1.6 0.5-6-0.5-3.1 1.8-1.5 0.3-1.5-0.8-3.1 0.6-1.5-0.4-3-2-1.5 0.1-3.6-4.3 0.7-5.8-0.9-5.9 0.7-2.3 1.5-0.6 3.1 0.4 4.5-0.9 1.6-1.1 7.6-3.1 1.7-0.2 2.9 1.9 3 1 3-0.3 1.5 0.6 0.7 0.7 0.9 3.2 2.5 2.7 0.5 1.9 3-0.8 3.1 1.7 1-0.9-0.1-1.9 0.6-0.7 3-1 4.6-0.3 1.5 1.3 1.1 2.6-0.3 3.9 0.8 3.9-0.1 1.9-1 1.9 2.6 1.9 1.5-0.1 3 1 3.1-0.1 1.5-0.6 6.1-4.6 3-0.8M718.8 285.1l-1.5-1.2-1.5 0.9-3.1-1.2-1.5 1.2-1.5 0.1-1.5-0.9-3.1 0.7-2-1.2-1.3-1.8 0.3-2.5 1.5-2.5 4.6 0.6 1.5 2 1.6 0.7 1.4 3.2 1.6-2.3 1.5-0.3 1.5 1.1 1.5-1.4M718.8 271.8l-1.5-1-1.5-0.1-1.5 2.4-1.6-2 1.9-1.7-1-1.8-2.4-3.3-3-1-3.1-3.2-3-0.4-3.1 1.2-1.5-0.8-1.5-2.3-1.5-0.4-1.5 0.4-3.1 4.4-3 2-1.7 3.4 0.4 5.3 0.8 1.8-2.6 1.5-3 0.7-1.7 1.3 1.1 1.8 0.1 1.7-2 3.5 3.3 1.8 0.6 1.7-2.9 1.3-4.6 0.5-1.5 1.1-2.2-2.9-3.9-1.8-3 1.1-3.9-1-0.7-3.7-1.5-0.3-2.4 0.5 0.9 1.3 2.7 0.4-2.7 2-4.2-3.7-1.9-0.1-0.8 1.8 0.4 1.8-1.1 2.7-3.1 0.7-0.4 1.8 1.9 2.7 1.6 0.2 1.5 1.1 0.3 1.2 0.1 1.7-0.4 1.2-1.1 0.5-0.2 1.8 1.3 8.5-2.2 1.7-0.9 1.7 0.1 1.7 3 2 1.7 3 1.3 0.5 1.5-0.1 1.6-1.1 1.4-2.6-0.4-3.4 0.5-1.2 3-1.8 1.5 0.8 1.7 2.2 1.6 5 4 1.7 3.4 3.8 1.5-0.4 0.4-1.7 1.1-1.5 4.6 0.7 1.5 3.4 3.1-0.4 1-2.2-0.5-3.4 1-1.4 1.5 0.3 3-3.6 0.8 4.7 0.8 1.7 1.5 0.3 1.5-1.7 6.1-0.5 1.5-1.5 1.5-0.3 6.1 0.7 1.5-4.7 1.6-0.6 1.5 0.8 1.5-0.8 1 3.3 0.5 0.3M718.8 221.9l-1.5 1.4-3 0.2-1.6-0.6-0.6 0.6 2.2 2 4.5 1.5M718.8 191.3l0-1M415.9 84.9l0.2 1.2 1.6 0.6 4.5 8.5 3.1 2.3 1.5 2.2 1.5 0.8 1.5-1.7 2 0.1 0.8 2.3-0.4 2.3 0.5 2.3 4.7 3.5 3.5 1 1.6 2.3 0.7 4.5 1.4 2.2 6.9 4.4 2.4 4.4 4.7 4.4 2.5 6.5 4.2 4.3 2.6 4 7.8 17 2.5 4.1-1.5 4.1-0.4 6.1-2.3 6-1.1 6-3.1 5.9-3 3.9 1.5 3.9 0.4 3.9 3.7 2.8 1.8 4.9 2 3.8-0.8 7.6-1.5 2.7-3 2.2-1.5-0.4-6.1-8-1.5-1.3-3.1-1-1.5-1-1.5-2.4-1.5-0.5-1.1-1.7-0.5-2.4-1.5-0.7-1.5 0.5-1.9 2.6-2.1 1.9-2.1 0.4-0.5-0.4 1.2-1.9-1-1.9-1.2-0.9-3 4-3.1 0-1.5-1.2-1.5-2.6-3.1-1.9-0.7-3.2 1.1-5.8 1.1-2 1.6-1.1 1.5-0.1 3 1.5 1-0.3 3.1-5.9 1.4-3.9-2.4-1.6-3.1 0.2-1-0.6-1.5-4-0.6-4-2.9-6.1-1.6-2-0.9-12.4-4-8.3-0.6-6.4-1.6-4.3 1.2-4.3-1.3-4.3 2.4-2.2 0.2-2.2-2.5-4.4-1.4-6.6-3.3-6.8 1.4-4.5-2.3-4.6-1-5.6-1.5-0.5-3 4.3M601.9 84.9l0.7 4.7 0.1 7-1 3.2-1.5 0.9-4-6.4-1.6-9.4M696 343.3l1.5-0.5 1.1-1.6 0-1.6-1.1-0.7-1.5-0.6-1.4 1.3-0.4 1.6 0.8 1.7zM460.3 334.8l1.5 0.4 1.9-0.6 1.6-1.7 0.3-1.6-2.3-1-1.5 0.6-1.6 3.7zM673.2 335l1.5 0.6 1.8-1 0.2-1.7-0.5-1.4-3 0.4-1.5-0.9-3.5 0.3-1.8 1.6 0.7 0.5 4.6-0.1 0.7 1.3zM708.2 335.4l3 0.4 1.9-1.2-1.9-1.9-1.5 0.3-1.8 1.6zM612.4 333l1.5 0.5 3-4 3.1 0.7 1.5-1.5 0.2-0.8-1.9-3.3-0.4-3.4-1-1.6-3 2.5-3 1.1-2.2 3.1 0.8 1.6 0.3 3.4 0.9 1.6zM460.3 328.4l1.2-0.5 0.4-1.6-1.6-2.3-3.1-1.3-1.7 0.2 3.4 5zM613.9 327.2l-0.6-0.9 0.6-1.2 1.5 0.4 0.4 0.8-0.4 0.9-1.5 0M604.7 323.7l1.7-2.5-3.2-2.5-0.6 0.8 1.3 3.4zM588 315.9l1.7-1.4-2.9-3.4-0.3-1.3-0.3 3 0.6 1.7zM624.5 311.7l1.6-0.6 1.5-2.4 0.5-1-0.5-2.1-3.7 3.8-0.4 1.7zM685.4 311.2l-1.6-0.2-1.6-5-1.5-1.7-0.6-1.7 0.7-2.6 0.5 2.6 1 1.6 3.1-1.1 1 1.2 0.3 1.7-1.3 5.2M662.5 301.6l-1.2-0.8-0.2-1.7 1.4-0.4 0.8 0.4 0.3 1.7-1.1 0.8M668.6 300l0-3.6 1.5-1.4 0.6 2.4-1 1.7zM434.4 295.8l0.9-1.9 0-1.7-0.9-1.1-1.6 1.1 1.5 3.5zM483.1 292.3l4-3.6-1-3.4-1.5-1.6-1.5 0.5-1.4 2.8 0.2 3.5 1 1.7zM458.7 288.8l-0.5-1.8 0.5-2.6 1.6 0.8 0.9 1.8 0 1.7-0.9 0.8-1.6-0.7M522.6 284.5l1.9-1 1-1.8-1.4-1.6-1.5-0.5-1.6 0.4-0.5 1.7 1 1.8zM502.8 282l3.1 0.3 1.5-0.5-0.4-1.8-2.6-1-1.2 1-0.6 1.7zM636.7 279l1.5 0.8 2.8-3.3-1.5-3.6 0.5-3.5 1.3-2.1-1.6 0-3 4.2-1.2 5 0.2 1.7zM648.9 268.8l1.5 0.5 1.3-1.7-2.8-3-0.7 3zM648.9 263.8l1.5 0 1.7-1.6 0.4-3.6-0.6-1.5-2.6 1.5-1.6 1.8 0.4 1.8zM691.4 253.3l4.6-1.1 1.4-0.8 0-1.9-1.4-1.1-5.6 3 0.8 1.8zM711.2 247.6l1.7-1.7-0.2-2.9-1.5-0.5-1 3.4zM630.6 160.6l-3-1.6-3.1-4.6-1.3-0.5-1.7-4.7-3-3.8 0.3-4.3-0.6-2.1-1.7-2.2 0.1-2.1 1.6-2.2 1.8-4.8 1.5-1.8 6.1 2.7 1.5-0.3 1.5-1.1 4.6 0.5 1.5 5.2 3 0.6 1 1.2 0.6 2.4 3.2 1.9-1.6 4.3-0.3 4.2-2.9 3.4-3 0.9-1.5 1.5-1.3 2.7-1 4.1-0.8 1.1zM594.1 139l-3-2-3.9-6.7-0.5-2.2 0.5-4.4 0.8-1.8 1.5-1.4 1.6 0.1 1.5 1.2 1.5-0.3 2.7 8.8 0 2.2-1.1 4.3 0.6 2.2-0.7 1-1.5-1M667.1 114.1l-1-1.5 0.3-2.3-2.1-4.5 4.3-5 3.1-0.2 1.5-1.7 1.5-0.8 3.1 2.3 0.7 3.1-1.9 9.1-0.4 0.4-3-2.4-3.1 3.1-1.5 0.7zM565.2 92.1l-2.3-2.5 2.3-2.2 1.5 0.5 0.7 1.7-0.7 2.7zM411.6 256.9l2 1.7-0.4 1.8 1 1.8 1.9 1.4 1.6-0.9 1.5 1.2 0.3 1.9 5.8 1.8 3-0.9 1.5 2.5 1.4-1.6 1.7-0.5 1.5 0.9 0.7 1.4 0.1 1.7 0.7 0.7 1.5-0.5 1.6-1.4 1.5 0.3 3 2.1 3.1-1.4 1.5 0.5 1.5-0.4 1.5-1.4 1.5-0.1 1.6 0.7 1-0.8 0.3-1.8-2-3.6 0.7-0.5 1.5 1.2 0.9-0.7 4.4-9-0.8-3.6 1-3.7-0.1-3.7 0.7-1.1 1.5-0.7 3 1.3 1.4-3.2-1.9-3.7-0.1-1.8-1.2-1.9-1.2-4.1-1.5-1.6-3.1-0.5-1.5 0.6-1.6 1.9 0.1 4-1.5 1.9-1.6 0.1-1.5 1.3 0.9 2-0.9 2.8-4.5-4-4.6-5.3-1.5 0.7-4.3 3.9-0.8 7.4-2.1 1.9 1.1 1.1 2.8 0.7 0.3 1.8-1.6 1.7-3-2.5-1.5 0-1.9 2.7-1.2 0.5-6.1-1.6-1.7 1.1-2.8 0.1-3.1 1.4-2.2-1.5-0.8-1.3M411.6 186.3l1.6-1.7 0.8-6 1.2-4.1-2.1-0.7-1.5 0.4M718.8 154.4l-3 0-1.5-0.7-3.1 4.3-1.5-0.8-3 0.5-3.1-0.2-0.6-1.5 1.9-4.2-1.3-1.5-1.5-0.1-1.5 1.3-3.1-1.6-3 1.5-1.5 2-1.6-0.2-1.3-1.4-1.7-0.8-1.5-0.1-2.6 0.9-2 1.7-4.5 1-3.1 1.7-1.5-0.2-3.1-5-3-0.8-3-2-1.6-0.4-1.8 4-1.2 0.7-1.5-0.8-3.1-3.5-3 2.5-1.5 2.5-4.6 0.5-1.5 3.6-2.2 2.8 1.3 2.1 0.5 4.1-0.6 8.2-1.6 4.1 1.4 4-1.8 1.1-3.1-3.7-4.3-1.4-0.9-2-0.1-2.1-0.8-0.6-2.8-5.5-3.3-3.8-1.5-2.9-3-0.3-4.6-3.3-4.5-1.5-1.6-1.2-1.5-2.7-1.5-1.3-1.5-0.2-3.1 0.8-3-2.5-1.5-0.2-1.6 0.6-1.6 1.9 0.4 4.2-1.9 4.1 0 2.1 1 2.1 0.2 2-2.6 6.7-1.5 2.1-1.6 0.9-0.6 2.6 0.2 4 2.6 4-2.2 2.4-3 0.2-3-1.4 0.2 2.8-1.8 3.9 1.3 2 1.3 0 0.7-2 2.8-1.6 0.7 1.6-0.1 2-0.6 0.7-3-0.5-0.5 1.8 0.6 1.9 4.4 4.2 1.6 0.3 1.5-0.9 6.1 2.9 1.3-0.6 1.7-2.4 3 2.9 1.6-0.1 1.5-1.1 0.7-1.3 0.8-3.1 1 1.2 2.1 5.1 1.5 2 0 2.6-1.5 1.5-3.1 0-1.5 1.3-3.1 0.8-0.3 2.1 2.6 3.8 2.3 1.5 1-1.5 0.5-3 3.1-1 1.5-1.4 1.5-0.4 3.1 2.8 1.5-0.2 1.5-2.4 1.5 0.1 3.1-1.7 1.5-0.4 3 1.3 6.1-2.5 1.6-4.6 2.2-3.9-0.4-3.9 0.6-5.9-1-3.9 0.4-2 1.2-0.9 1.5 0.4 1.5-0.7 3-2.8 0.9-2-0.3-2 1-2.1 2.1 0.1 0.5 2-0.7 2 1.1 1 1.5-0.1 1.6-1 1.5 0.7 4.5 0 3.1-1.8 4.5 5.5 3.1 0.1 3 2.6 6.1 2.2 3.1-1.1 3-0.1 1.5 0.8 3.1-2 2.3-0.8 2.2-2.1 3.1-0.2 1.3-1.7 1.7-0.4 4.6-0.4 4.5 1.5 6.1-0.1M718.8 120.8l-0.8 0.7 0.8 1.5M448.9 84.9l0.7 2.3 1.5-0.4 2.3-1.9M500.3 84.9l0 2.4 1 1.1 1.5-0.3 1.1-3.2M607.1 84.9l-0.7 2.4 0.3 2.3 1.1 3.4 1.5 1.6 1.5-1.6 3.1-0.4 1.5 1.1 1.5 3.2 3.1-0.3 3 1.4 1.5 0 3.1-1.1 3 0.8 3 0 3.1-1.4 0.6 0.3 1.9 4.6 0.5 0.2 1.6-1.4 1.5 0.5 1.5 1.3 2.1 4 1.1 4.5-0.5 9 1.1 6.6 1.6 4.4 2 2.2 1.1 4.3 2.1 2 0.8 2.3-0.5 4.3 1.3 0.9 3-1.7 4.6-0.2 1.5 0.4 3-1.4 0-0.8-2.6-1.5 0.2-2.1 0.9-0.6 4-5.9-0.9-2.2-4.6-3.7-1.5-3.3-1.6-1.3-1.5 0.4-1.9-0.9-1.6-8.9-1.5-4.5-1.4-2.3-0.3-2.3 0.6-2.4 1.6 0.5 0.4 4.2 1.1 1.9 1.5-1.8-0.2-4.7 1.7-4.6-0.2-2.3 2.4-4.7 0.1-4.7M684.1 84.9l-2.4 4.7 0.3 7 3.4 4.5 1.5-1.7 1.5 0.8 0.4 7.9 1.1 2.2 0.9-2.2 2.2-2.4 1.5 0.2 0.8 2.2 3.7 1.6 1.6 1.4 3-2.1 1.5 0.3 1.6-0.8 0.8-2.7 0.7-0.6 3-0.7 1.5 0.9 3.9 4.9 2.2 1.5M454.2 257.4l-2-2.4 0.4-1.2 3.1 0.3 1.2 0.9 0.3 1.8-1.5 1.4-1.5-0.8M496.8 248.1l6-0.1 3.1 1.5 4.5-3.4 1.6 0.7 1.5 1.8 1.5-0.3 1.5-0.8 1-1.6 0.1-1.9 1.5-1.8 5-1.7 3.1-0.2 1.5-1.2 10.6-1.8 1.6-1.5 3 0.6 0.9-1.6 0.1-1.9 2-1.5 3.1 3.9 0.8-4.3 5.3-2.2 1.5-1.3 3.7-5.9 1.8-1.9 0.8-7.6-0.1-5.8-1.3-3.9 2.6-3.9 0.1-2-1.2-3.9 0.6-2 3.6-5.2 1.6 1.4 1.5 0.4 1.1-0.6 1.2-4-0.8-1.3-1.5-0.5-3.1 0.5-3-0.4-0.8-2.3 1.5-4.1-0.6-4.1 1.4-2.8 3.1 2.1 3-0.4 0.6-0.9-0.7-4.1 1.2-4.2 0-2.1-1.3-8.4-1.3-2-1.5 0.1-1.6-2-1.5-0.9-1.5 1-1.5 4-1.8-2.3-0.3-6.4 1.4-4.3-0.5-4.3 2.2-2.2 0.7-2.2-1.9-2.2-1.1-2.2-0.2-2.2-1.8-4.4-1.3-1.6-1.5 0.9-1.8 5.1 1.8 3.5 1.4 0.9-2.6 2.2-1.8 0.6-1.1 1.6-0.8 4.4-4.2 5.1-4.6 3.3 0.3 4.4-1.8 2.4-3.1-1.2-3 2.9-3 0.7-5.8 5.7-1.1 4.2-0.7 0.4-7.7-4.3-3-0.4-1.5 0.6-0.4 1.6 1.7 2.1-0.7 2.1-1.5 2-0.6 8.8-1.6 0.7-1.5 1.6-1.2 3.2-0.2 4-1.6 4.9-1.5 1.1-1.6-0.3-1.5-3.2-1.5 0.3-1.2 1.2-0.2 2-1.6 2.7-7.6 1.8-0.7 1.4 0 3.9-1.7 5.9 3 3.8 0.6 2 0.2 1.9-0.9 5.7 1 2 3-2.9 1.3 0.9 0.3 1.9-1.6 1.9-1.5 0.3-0.8 1.6-1.1 3.8 0.6 3.7-0.3 1.9 1 3.7 4 3.7 0.9 5.5zM502.8 236.1l-0.4-1.3-1.1-0.8-1.5 0.3-3.4-1.4 0-3.7 0.4-0.7 1.5 0 1.5 1.4 3-0.5 3.5 3.5-0.4 1.9-1.5 1.4zM531.7 210.7l-1.5-1-0.6-1.5 0.6-2.1 1.5 0 1.5 2.1-0.9 1.9zM705.1 204.5l1.8-2.1 1.8-3.9-0.9-2-1.1-0.5-1.6 0.5 0 7.8zM546.9 185.1l-0.7-0.5 0.7-2.5 3.1-0.5 1.8-1 0 2-0.8 2-2.5 1zM556.1 185.7l0.1-3.1 1.5-2-0.1-0.6-2.7-1.4 1.2-0.7 4.5 2.3 0.4 2.4-4.9 3.1M501.3 160.9l1.5-0.2 1.7-4.7-1.7-1.5-1.3 1.5-1.4 4.1zM510.4 156l1.1-2.1-0.3-2.1-0.8-2.3-1.5-0.5-1.2 2.8 0.2 2.1 1 1.7 1.4 0.4zM519.6 142.2l1.5 0.6 4-1.7 1.3-2.1-0.7-1.3-1.6-1.3-1.5 0.2-4 2.4 0.3 2.1zM528.7 137.7l1.5 0.8 1.5-0.2 1.6-1.4 1.5 0.1 1.5 1.3 1.5-0.3 2.4-1.2 1.1-2.1-2-1.1-2.4 1.1-2.1 2-1.5-0.1-0.2-1.9-1.4-3-1.5 0.3-2.2 4.8zM480 135l1.5 1.4 1.6-0.3 5.6-10.2 1.1-4.4 0-2.2-0.6-1.6-1.6-0.6-1.9 2.2 0.7 2.2-0.3 2.2-1.5 1.8-0.7-1.8-0.2-4.4-2.7-4.5-1-0.5-2.3 0.5-0.4 2.3 1.8 2.2 2.3 6.6-0.5 2.2-2.4 1-0.7 1.2-0.2 2.2 2.1 2.2zM484.6 115l3-0.5 1.5-1.9-0.2-2.3-1.3-1.3-3 0.8-1.1 2.8 0.8 2.2zM601.7 113l1.5 0.3 1.5-0.6 1.6 1 1.5-0.5 0.4-2.9-0.4-0.3-1 0.3-2.1 2.1-1.5-2.9-1.5-0.4-1.7 1.2 1.1 2.3zM481.5 106.6l1.6 0.6 0.9-1.4-0.9-2.9-1.6-0.6-0.6 1.2 0.1 2.3zM546.9 106.9l1.6 0 1.5-1.7 0.7-1.7-0.3-2.3-0.4-0.9-1.5 0.4-1.7 5.1zM442 104.3l1.5 0.5 1.7-1.3-0.2-3.2-1.5-1.8-2.7 2.7 0.2 2.3zM519.6 104.5l1.1-1 1-4.6-0.6-2.3-1.5-2-1.6 0.9 0 3.1 0.9 2.6 0.1 2.3zM451.1 102.1l1.5-0.9 0.3-6.9-0.3-3-1.5-3.4-1.5-0.2-0.3 1.9 0.5 2.4-0.6 6.9 0.9 2.3zM505.9 99.6l1.5 0.7 3.3-3.7-2-2.3-1.3-3.6-1.5-1.2-1.2 0.1-0.9 2.4 1.6 4.6 0.1 2.3zM718.8 170.5l-1.5 0.4-1.5-2.9-1.5-0.2-3.1 1.5-3 0-1.5-0.9-0.8-2.1-2.3-0.3-1.5 0.3-3.1 5.9-1.5-0.8-1.5-1.9-3 0.4-1.8-1.5-0.6-2.1 0.9-2-0.1-2.4-0.9 0.3-2.1 1.9-2.3 4.3 0.8 2.3 1.5 0.7 0.7 1.1-2.2 6.1 0.8 2 3.7 1.8 3.1-2 5.2-1.8-0.7-2 0.6-2.1 1-0.8 3 2.1 4.6-0.4 3-2.5 1.5 0.3 1.6 1 1.5-0.2 1.5-1.3 1.5 0M705.2 84.9l1.5 1.9 3-0.6 3 6.1 0.8-2.7-0.1-2.3-1.7-2.4M624.5 208.6l1.5 0.8 3.1-0.8 0.6-2.3-0.2-3.9 1.1-0.3 1.5 2 1.5-0.7 1.6-2.5 2.6-0.5-1.1-2.3-1.5 0.1-1.6-2-3-0.5-1.5-0.9-1.5-3.6-1.6-0.1-1.5-3-1.5-1.5 1.6-4-0.8-2 0-8.1-0.8-2-1.5-1.4-1.5-2.7-1.6-0.9-3-0.4-3-2-3.1-0.9-6.1 0.7-1.3 1.4-2.2 4.1 0 2-0.9 2.1-1.8 2 0 2.1 0.7 4 1 1.8 4.4 4.2 3.2 6.6 3 0.1 4.6-1.3 2.4 0.6 1.9 1.9 0.2 3 1.3 2.9 1.8 0.6 2.6 3.3 0.1 3.9zM682.3 181.5l1.7-0.9 0.4-2-1.2-2-1.4 0-1 1.4 0.7 2.6zM606.3 175.8l1.5-0.1 1.5-1.3 4.6-0.3 0.9-1.6-0.4-2.1-3.6-2.7-3 0.1-1.8 0.6-0.8 2 0.1 4.1z" fill="none" stroke="#3a2c2c" stroke-width="0.85"/>
<path d="M496.8,251.8L502.8,251.8L508.2,248.6L515.8,247.2L523.4,244.5L529.5,244.9L527.9,248.6L524.1,249.5L521.1,248.2L516.5,248.6L512.0,250.9L509.3,253.2L506.6,255.4L504.4,257.3L502.1,255.0L499.0,255.0L496.8,253.6ZM337.1,50.9L572.8,50.9L570.5,75.4L568.6,87.3L568.2,96.6L566.7,104.7L558.4,112.6L551.5,123.7L545.4,132.5L539.3,137.9L534.0,144.3L528.7,150.7L522.6,158.0L516.5,163.2L512.0,166.3L507.4,165.3L506.6,161.7L503.6,163.8L500.6,164.3L498.3,168.4L494.5,171.5L491.4,172.5L487.6,176.6L486.1,179.6L486.9,185.6L483.1,187.6L478.5,191.6L473.9,194.5L470.9,196.5L470.1,200.4L469.4,202.9L472.4,204.3L476.2,208.2L478.5,212.1L480.8,216.4L483.1,220.7L484.6,227.3L485.7,232.4L485.0,236.6L484.6,237.6L483.1,240.3L481.9,241.3L478.5,242.2L477.0,243.6L472.4,244.5L469.4,246.8L464.8,247.7L462.5,248.6L461.0,245.9L461.8,244.0L461.8,239.4L463.3,234.8L464.1,232.9L462.5,229.2L459.9,225.4L462.5,223.5L464.1,219.7L463.3,218.8L461.0,216.9L456.4,214.9L451.1,214.9L448.8,213.0L451.1,209.2L453.4,207.2L452.6,204.3L453.4,199.5L450.4,198.5L447.3,196.5L445.8,195.5L444.3,196.5L439.7,197.0L435.2,197.5L429.8,202.4L425.3,205.8L422.2,206.8L423.7,204.8L426.4,200.9L428.3,196.5L429.5,191.6L429.8,187.6L426.8,185.6L421.5,186.6L419.2,188.6L416.1,192.6L413.1,194.5L409.3,196.5L375.1,199.5L375.1,220.7L412.3,220.7L415.4,217.3L418.8,215.7L423.7,218.3L429.1,218.6L433.6,219.7L432.1,224.5L424.5,225.4L419.9,228.2L415.4,232.4L413.1,234.3L409.3,238.5L407.8,244.0L411.6,247.7L415.4,253.2L417.7,258.6L419.9,264.0L423.7,267.6L427.5,271.6L427.9,275.6L426.8,278.2L420.7,280.9L423.0,284.4L424.5,286.1L428.3,287.9L427.5,292.2L426.0,295.7L425.3,300.0L423.0,303.4L419.9,306.8L417.7,310.2L415.4,313.6L412.3,316.2L410.1,321.2L409.3,325.4L405.5,329.6L397.9,334.6L375.1,346.1L337.1,346.1ZM580.0,133.6L583.1,129.2L585.7,125.9L589.5,126.5L591.4,131.9L592.2,128.1L590.3,122.6L588.4,117.1L586.1,110.3L586.5,103.5L588.8,96.6L592.6,97.2L597.1,100.7L601.3,103.3L600.2,101.2L595.6,97.8L591.8,93.1L588.0,87.3L587.3,81.4L587.3,50.9L581.9,50.9L581.2,75.4L581.2,87.3L580.4,98.9L579.6,110.3L580.4,121.5ZM566.0,180.4L568.6,179.1L570.8,176.9L574.2,176.4L572.4,175.0L569.8,173.5L567.9,171.5L568.6,168.9L572.6,171.0L575.1,169.4L577.4,168.1L583.1,171.2L586.3,172.9L589.9,175.3L590.7,171.5L593.3,168.4L598.5,164.5L601.7,164.8L605.5,162.7L609.5,160.3L607.0,159.6L605.5,158.0L604.7,153.9L605.9,150.2L600.9,154.9L597.7,153.7L590.7,150.2L587.3,146.5L583.5,141.1L580.0,137.7L577.7,139.5L578.9,144.3L578.1,149.6L577.7,154.4L576.2,157.0L575.5,161.7L572.8,162.2L568.6,160.6L567.5,163.2L565.2,168.4L564.1,172.5L566.0,175.8L565.6,178.6ZM496.0,251.4L496.8,248.2L499.8,247.2L503.6,244.9L506.6,242.2L509.7,239.0L512.7,236.6L515.8,237.6L519.6,237.1L521.1,237.1L525.7,236.2L528.7,235.2L531.0,237.6L534.0,235.7L535.2,232.9L536.3,230.1L539.3,226.3L540.5,223.5L540.9,220.7L545.0,218.8L542.4,222.6L542.0,224.9L544.7,225.9L546.9,224.0L550.8,222.1L554.6,219.2L558.0,214.5L560.6,211.1L562.2,206.3L564.1,203.4L565.2,198.5L563.3,195.0L565.2,192.6L564.4,188.6L566.7,186.6L567.5,182.6L570.1,183.1L570.9,186.1L573.6,182.6L572.0,179.6L576.2,180.3L575.8,183.6L576.6,189.1L579.3,193.6L580.9,199.0L578.1,204.3L577.4,208.2L575.1,210.6L572.8,211.1L572.8,215.9L573.2,221.6L572.0,224.5L569.8,229.2L570.5,232.0L571.7,235.5L568.2,239.9L565.6,243.1L563.7,241.3L564.1,238.5L563.7,236.6L562.2,238.5L562.5,240.8L559.9,239.4L558.4,241.3L556.5,245.9L555.7,242.2L553.8,244.0L552.3,245.9L548.5,245.4L544.7,245.9L541.6,244.5L539.7,246.8L541.6,248.6L538.6,249.5L536.3,252.3L533.3,256.3L530.2,254.5L527.9,252.7L528.3,249.5L530.2,245.4L527.2,245.4L523.4,244.5L519.6,245.9L515.8,247.2L512.0,248.2L508.2,248.6L505.1,251.4L502.8,251.8L498.3,251.8ZM504.4,257.3L508.5,260.9L511.6,262.9L513.9,259.1L516.1,255.9L519.6,256.8L521.1,258.2L522.2,255.4L524.1,252.7L524.1,249.5L521.1,248.2L516.5,248.6L512.0,250.9L509.3,253.2L506.6,255.4ZM495.6,251.8L492.2,252.3L491.8,255.0L489.2,255.9L487.6,255.9L486.9,258.6L487.6,262.2L488.0,262.7L490.3,264.0L492.2,263.1L493.3,265.3L491.4,268.5L490.7,272.9L490.3,275.1L491.8,276.5L494.1,278.2L495.2,276.5L494.5,278.4L497.5,275.1L499.8,272.9L500.2,269.4L501.7,264.9L503.6,261.8L504.7,260.0L502.1,257.7L502.1,255.0L499.0,255.0L496.8,253.6ZM424.9,327.1L427.9,329.6L427.2,332.9L425.3,337.9L424.1,343.7L422.2,348.2L419.6,354.7L418.4,351.9L415.4,349.8L414.2,346.1L413.9,341.2L415.0,336.2L418.4,332.1L421.1,329.2ZM459.9,257.7L463.3,258.6L466.0,256.3L462.5,255.4L460.3,256.3ZM483.1,250.4L485.3,245.9L485.0,244.9L483.4,248.2ZM551.5,214.0L553.8,211.1L554.2,214.0L552.3,215.9ZM471.3,320.4L473.9,316.6L476.2,314.1L475.5,313.6L472.8,316.2L471.7,318.7ZM483.1,303.4L486.9,300.4L486.1,300.0L483.8,301.3ZM495.6,283.9L497.1,280.0L497.5,280.9L496.4,283.9ZM491.8,284.4L493.7,284.8L494.1,283.1L492.2,283.1ZM606.3,158.0L610.8,154.9L615.4,149.6L614.6,148.6L609.3,151.8L605.5,156.0ZM616.9,148.6L622.2,144.3L627.6,141.1L632.9,137.9L632.1,136.8L626.0,139.0L620.0,143.3L616.2,146.5ZM637.4,135.7L645.1,130.3L644.3,129.2L637.4,133.6ZM441.2,335.4L443.5,336.2L445.8,335.0L444.3,333.8L441.6,334.2ZM452.6,331.7L454.5,332.1L454.2,330.4L453.0,330.4ZM478.5,263.6L480.8,264.0L482.7,260.4L481.2,259.1L479.6,261.3ZM512.0,232.4L514.6,232.0L515.0,230.1L512.7,230.1ZM560.1,245.1L561.2,244.9L561.0,244.0L560.2,244.2ZM563.1,260.0L564.1,259.7L564.0,259.0L563.2,259.1ZM486.1,290.5L487.2,290.0L486.9,289.2L486.0,289.6ZM488.4,280.0L489.5,279.5L489.2,278.7L488.2,279.1ZM486.5,254.1L487.6,253.9L487.5,252.7L486.5,252.9Z" fill="#585858"/>
<ellipse cx="504.4" cy="252.3" rx="1.4" ry="1.1" fill="#f4f0f0"/>
<ellipse cx="509.7" cy="251.4" rx="1.5" ry="0.9" fill="#f4f0f0"/>
<ellipse cx="514.2" cy="249.5" rx="1.9" ry="0.8" fill="#f4f0f0"/>
<ellipse cx="519.6" cy="247.2" rx="1.5" ry="0.8" fill="#f4f0f0"/>
<ellipse cx="500.6" cy="253.2" rx="1.1" ry="0.9" fill="#f4f0f0"/>
<ellipse cx="507.0" cy="253.6" rx="0.9" ry="0.9" fill="#f4f0f0"/>
<ellipse cx="506.6" cy="143.8" rx="3.2" ry="3.6" fill="#fff" stroke="#999" stroke-width="0.4"/>
<path d="M489.2,125.9L493.0,123.7L496.8,118.2L504.4,114.8L512.7,109.2L519.6,106.9L524.9,104.7L530.2,98.9L536.3,93.1L540.9,88.5L542.4,84.9" fill="none" stroke="#222" stroke-width="0.8"/>
<path d="M451.1,87.3V370.5M489.2,87.3V370.5M527.2,87.3V370.5M565.2,87.3V370.5M603.2,87.3V370.5M641.2,87.3V370.5M679.3,87.3V370.5M413.1,329.6H717.3M413.1,287.0H717.3M413.1,242.2H717.3M413.1,194.5H717.3M413.1,143.3H717.3" stroke="#3c2424" stroke-opacity="0.3" stroke-width="1.3" fill="none"/>
<rect x="667.6" y="96.3" width="7.6" height="10.6" fill="#fff"/>
<text x="671.4" y="105.1" class="cl" text-anchor="middle">1</text>
<rect x="690.2" y="107.0" width="7.6" height="10.6" fill="#fff"/>
<text x="694.0" y="115.8" class="cl" text-anchor="middle">2</text>
<rect x="632.5" y="130.9" width="7.6" height="10.6" fill="#fff"/>
<text x="636.3" y="139.7" class="cl" text-anchor="middle">0</text>
<rect x="628.2" y="151.5" width="7.6" height="10.6" fill="#fff"/>
<text x="632.0" y="160.3" class="cl" text-anchor="middle">1</text>
<rect x="602.0" y="177.2" width="7.6" height="10.6" fill="#fff"/>
<text x="605.8" y="186.0" class="cl" text-anchor="middle">4</text>
<rect x="659.6" y="167.3" width="7.6" height="10.6" fill="#fff"/>
<text x="663.4" y="176.1" class="cl" text-anchor="middle">2</text>
<rect x="674.2" y="172.1" width="7.6" height="10.6" fill="#fff"/>
<text x="678.0" y="180.9" class="cl" text-anchor="middle">3</text>
<rect x="587.0" y="203.2" width="7.6" height="10.6" fill="#fff"/>
<text x="590.8" y="212.0" class="cl" text-anchor="middle">2</text>
<rect x="616.3" y="198.7" width="7.6" height="10.6" fill="#fff"/>
<text x="620.1" y="207.5" class="cl" text-anchor="middle">3</text>
<rect x="675.8" y="225.7" width="7.6" height="10.6" fill="#fff"/>
<text x="679.6" y="234.5" class="cl" text-anchor="middle">1</text>
<rect x="600.6" y="263.9" width="7.6" height="10.6" fill="#fff"/>
<text x="604.4" y="272.7" class="cl" text-anchor="middle">0</text>
<rect x="620.9" y="262.8" width="7.6" height="10.6" fill="#fff"/>
<text x="624.7" y="271.6" class="cl" text-anchor="middle">0</text>
<rect x="663.1" y="252.4" width="7.6" height="10.6" fill="#fff"/>
<text x="666.9" y="261.2" class="cl" text-anchor="middle">0</text>
<rect x="637.6" y="275.5" width="7.6" height="10.6" fill="#fff"/>
<text x="641.4" y="284.3" class="cl" text-anchor="middle">1</text>
<rect x="702.9" y="262.8" width="7.6" height="10.6" fill="#fff"/>
<text x="706.7" y="271.6" class="cl" text-anchor="middle">1</text>
<rect x="516.8" y="257.7" width="7.6" height="10.6" fill="#fff"/>
<text x="520.6" y="266.5" class="cl" text-anchor="middle">0</text>
<rect x="564.9" y="343.3" width="7.6" height="10.6" fill="#fff"/>
<text x="568.7" y="352.1" class="cl" text-anchor="middle">0</text>
</g>
<path d="M413.1,87.3v-3M413.1,370.5v3M420.7,87.3v-1.8M420.7,370.5v1.8M428.3,87.3v-1.8M428.3,370.5v1.8M435.9,87.3v-1.8M435.9,370.5v1.8M443.5,87.3v-1.8M443.5,370.5v1.8M451.1,87.3v-3M451.1,370.5v3M458.7,87.3v-1.8M458.7,370.5v1.8M466.3,87.3v-1.8M466.3,370.5v1.8M473.9,87.3v-1.8M473.9,370.5v1.8M481.5,87.3v-1.8M481.5,370.5v1.8M489.2,87.3v-3M489.2,370.5v3M496.8,87.3v-1.8M496.8,370.5v1.8M504.4,87.3v-1.8M504.4,370.5v1.8M512.0,87.3v-1.8M512.0,370.5v1.8M519.6,87.3v-1.8M519.6,370.5v1.8M527.2,87.3v-3M527.2,370.5v3M534.8,87.3v-1.8M534.8,370.5v1.8M542.4,87.3v-1.8M542.4,370.5v1.8M550.0,87.3v-1.8M550.0,370.5v1.8M557.6,87.3v-1.8M557.6,370.5v1.8M565.2,87.3v-3M565.2,370.5v3M572.8,87.3v-1.8M572.8,370.5v1.8M580.4,87.3v-1.8M580.4,370.5v1.8M588.0,87.3v-1.8M588.0,370.5v1.8M595.6,87.3v-1.8M595.6,370.5v1.8M603.2,87.3v-3M603.2,370.5v3M610.8,87.3v-1.8M610.8,370.5v1.8M618.4,87.3v-1.8M618.4,370.5v1.8M626.0,87.3v-1.8M626.0,370.5v1.8M633.6,87.3v-1.8M633.6,370.5v1.8M641.2,87.3v-3M641.2,370.5v3M648.9,87.3v-1.8M648.9,370.5v1.8M656.5,87.3v-1.8M656.5,370.5v1.8M664.1,87.3v-1.8M664.1,370.5v1.8M671.7,87.3v-1.8M671.7,370.5v1.8M679.3,87.3v-3M679.3,370.5v3M686.9,87.3v-1.8M686.9,370.5v1.8M694.5,87.3v-1.8M694.5,370.5v1.8M702.1,87.3v-1.8M702.1,370.5v1.8M709.7,87.3v-1.8M709.7,370.5v1.8M717.3,87.3v-3M717.3,370.5v3M413.1,370.5h-3M717.3,370.5h3M413.1,362.4h-1.8M717.3,362.4h1.8M413.1,354.3h-1.8M717.3,354.3h1.8M413.1,346.1h-1.8M717.3,346.1h1.8M413.1,337.9h-1.8M717.3,337.9h1.8M413.1,329.6h-3M717.3,329.6h3M413.1,321.2h-1.8M717.3,321.2h1.8M413.1,312.8h-1.8M717.3,312.8h1.8M413.1,304.3h-1.8M717.3,304.3h1.8M413.1,295.7h-1.8M717.3,295.7h1.8M413.1,287.0h-3M717.3,287.0h3M413.1,278.2h-1.8M717.3,278.2h1.8M413.1,269.4h-1.8M717.3,269.4h1.8M413.1,260.4h-1.8M717.3,260.4h1.8M413.1,251.4h-1.8M717.3,251.4h1.8M413.1,242.2h-3M717.3,242.2h3M413.1,232.9h-1.8M717.3,232.9h1.8M413.1,223.5h-1.8M717.3,223.5h1.8M413.1,214.0h-1.8M717.3,214.0h1.8M413.1,204.3h-1.8M717.3,204.3h1.8M413.1,194.5h-3M717.3,194.5h3M413.1,184.6h-1.8M717.3,184.6h1.8M413.1,174.5h-1.8M717.3,174.5h1.8M413.1,164.3h-1.8M717.3,164.3h1.8M413.1,153.9h-1.8M717.3,153.9h1.8M413.1,143.3h-3M717.3,143.3h3M413.1,132.5h-1.8M717.3,132.5h1.8M413.1,121.5h-1.8M717.3,121.5h1.8M413.1,110.3h-1.8M717.3,110.3h1.8M413.1,98.9h-1.8M717.3,98.9h1.8M413.1,87.3h-3M717.3,87.3h3" stroke="#000" stroke-width="0.6" fill="none"/>
<rect x="413.1" y="87.3" width="304.2" height="283.2" fill="none" stroke="#000" stroke-width="1.4"/>
<text x="406.9" y="90.9" class="ax" text-anchor="end" textLength="16.6" lengthAdjust="spacingAndGlyphs">50°N</text>
<text x="406.9" y="198.1" class="ax" text-anchor="end" textLength="16.6" lengthAdjust="spacingAndGlyphs">40°N</text>
<text x="406.9" y="290.6" class="ax" text-anchor="end" textLength="16.6" lengthAdjust="spacingAndGlyphs">30°N</text>
<text x="406.9" y="374.1" class="ax" text-anchor="end" textLength="16.6" lengthAdjust="spacingAndGlyphs">20°N</text>
<text x="403.1" y="383.7" class="ax" textLength="20" lengthAdjust="spacingAndGlyphs">120°E</text>
<text x="479.2" y="383.7" class="ax" textLength="20" lengthAdjust="spacingAndGlyphs">130°E</text>
<text x="555.2" y="383.7" class="ax" textLength="20" lengthAdjust="spacingAndGlyphs">140°E</text>
<text x="631.2" y="383.7" class="ax" textLength="20" lengthAdjust="spacingAndGlyphs">150°E</text>
<text x="707.3" y="383.7" class="ax" textLength="20" lengthAdjust="spacingAndGlyphs">160°E</text>
<text x="459.2" y="81.3" class="tt" textLength="212" lengthAdjust="spacingAndGlyphs">Monthly mean SST anomalies for Jul. 2022</text>
<rect x="725.9" y="101.1" width="9.6" height="13.1" fill="#e42828"/>
<rect x="725.9" y="241.2" width="9.6" height="13.1" fill="#e0e0f2"/>
<rect x="725.9" y="113.9" width="9.6" height="13.1" fill="#e53333"/>
<rect x="725.9" y="254.0" width="9.6" height="13.1" fill="#c8cbe6"/>
<rect x="725.9" y="126.6" width="9.6" height="13.1" fill="#e74242"/>
<rect x="725.9" y="266.7" width="9.6" height="13.1" fill="#b0b6dc"/>
<rect x="725.9" y="139.4" width="9.6" height="13.1" fill="#e95454"/>
<rect x="725.9" y="279.5" width="9.6" height="13.1" fill="#98a0d2"/>
<rect x="725.9" y="152.2" width="9.6" height="13.1" fill="#ec6a6a"/>
<rect x="725.9" y="292.3" width="9.6" height="13.1" fill="#7e8ac6"/>
<rect x="725.9" y="164.9" width="9.6" height="13.1" fill="#ef8282"/>
<rect x="725.9" y="305.0" width="9.6" height="13.1" fill="#6474ba"/>
<rect x="725.9" y="177.7" width="9.6" height="13.1" fill="#f39e9e"/>
<rect x="725.9" y="317.8" width="9.6" height="13.1" fill="#4e62b0"/>
<rect x="725.9" y="190.5" width="9.6" height="13.1" fill="#f7bcbc"/>
<rect x="725.9" y="330.6" width="9.6" height="13.1" fill="#3c54a8"/>
<rect x="725.9" y="203.2" width="9.6" height="13.1" fill="#fbdada"/>
<rect x="725.9" y="343.3" width="9.6" height="13.1" fill="#2c48a2"/>
<rect x="725.9" y="216.0" width="9.6" height="25.5" fill="#fff"/>
<path d="M725.9,228.8h9.6" stroke="#bbb" stroke-width="0.5"/>
<rect x="725.9" y="101.1" width="9.6" height="255.3" fill="none" stroke="#111" stroke-width="1.3"/>
<text x="741.1" y="359.8" class="cb"><tspan class="mn">&#8211;</tspan>5</text>
<text x="741.1" y="334.3" class="cb"><tspan class="mn">&#8211;</tspan>4</text>
<text x="741.1" y="308.7" class="cb"><tspan class="mn">&#8211;</tspan>3</text>
<text x="741.1" y="283.2" class="cb"><tspan class="mn">&#8211;</tspan>2</text>
<text x="741.1" y="257.7" class="cb"><tspan class="mn">&#8211;</tspan>1</text>
<text x="746.1" y="232.2" class="cb">0</text>
<text x="746.1" y="206.6" class="cb">1</text>
<text x="746.1" y="181.1" class="cb">2</text>
<text x="746.1" y="155.6" class="cb">3</text>
<text x="746.1" y="130.0" class="cb">4</text>
<text x="746.1" y="104.5" class="cb">5</text>
<path d="M735.5,356.4h3.2M735.5,330.9h3.2M735.5,305.3h3.2M735.5,279.8h3.2M735.5,254.3h3.2M735.5,228.8h3.2M735.5,203.2h3.2M735.5,177.7h3.2M735.5,152.2h3.2M735.5,126.6h3.2M735.5,101.1h3.2" stroke="#333" stroke-width="0.6"/>
<rect x="724.7" y="93.2" width="12.0" height="7.9" fill="#fff"/>
<text x="730.7" y="100.0" class="cu" text-anchor="middle" textLength="12.4" lengthAdjust="spacingAndGlyphs">[°C]</text>
<clipPath id="c2"><rect x="788.5" y="87.3" width="304.2" height="283.2"/></clipPath>
<g clip-path="url(#c2)">
<rect x="788.5" y="87.3" width="304.2" height="283.2" fill="#ffffff"/>
<path d="M996.9 150.7l1.4-1.1-1.4-0.7-1.1 0.7zM1010.6 139l1.5 1.7 1.5-0.1 1.5-0.9 2.1-2.9-0.6-2.1-1.5-0.9-4.5 2.6-0.1 2.6z" fill="#98a0d2" fill-rule="evenodd"/>
<path d="M992.3 154.4l1.5-1.3 3.1 1 1.5-0.4 1.9-1.9 1-2.2 0.1-1.4 1.6 0.5 3.3-1.2 1-2.1 0.2-2.4 1 2.4 2.1-0.2 3-0.6 3.1-2.7 3-1.2 1-1.7 0.9-4.3 1-2.2-1.4-1.5-1.5 1.2-1.5 0.2-3.1-1.4-6.1 2.3-3.2 3.5-0.3 4.3-1.3 4.3-2.8 2-3-3.2-1.5 0.5-5.6 4.9 1.1 2.2-0.2 2.1zM995.8 149.6l1.1-0.7 1.4 0.7-1.4 1.1zM1010.5 139l0.1-2.6 4.5-2.6 1.5 0.9 0.6 2.1-2.1 2.9-1.5 0.9-1.5 0.1-1.5-1.7z" fill="#b0b6dc" fill-rule="evenodd"/>
<path d="M987.8 160.4l1.5 0 4.5-1.3 10.8-7.3 6-3.2 4.5-1.4 1.6-1.8 3.6-2.1 1.9-2.2 4.1-6.4-0.2-2.2 1.2-1.7 3.7-2.7 2.4-4.8 1.5 0 3 2.1 0.5-6.1-0.5-3-0.6-1.5-0.9-0.5-3-0.3-6.1 0.7-4.6 2.1-2.7 4.7-1.5 4.4-3.4 1.3-11.7 7.5-1.2 2.1-0.8 2.8-3 1-3 2.2-1.6 1.9-6 2.8-1.6 1.6-1.6 4.8 0.7 4.1 1.9 2.1zM992.2 153.9l0.2-2.1-1.1-2.2 5.6-4.9 1.5-0.5 3 3.2 2.8-2 1.3-4.3 0.3-4.3 3.2-3.5 6.1-2.3 3.1 1.4 1.5-0.2 1.5-1.2 1.4 1.5-1 2.2-0.9 4.3-1 1.7-3 1.2-3.1 2.7-3 0.6-2.1 0.2-1-2.4-0.2 2.4-1 2.1-3.3 1.2-1.6-0.5-0.1 1.4-1 2.2-1.9 1.9-1.5 0.4-3.1-1-1.5 1.3zM975.6 86.2l1-1.3-2.5 0z" fill="#c8cbe6" fill-rule="evenodd"/>
<path d="M949.7 229.6l1.5 0.2 3.1-2.5 0-3.8 1.4-1.9 3.2 0.5 1.7-0.5 1.4-1.9-0.1-2.5-1.5-1.6-4.8-1.6-0.8-1.9 0.1-3.9-0.6-3.8-1.5-1.6-1.6 0.7-1.5 4.2-3.3 2.4 0.2 2 1.6 0.8 0.5 1.1-1.1 1.9-0.3 1.9 0.6 1.9-1.3 1.9 0 3.8 2.9 3.8zM844.8 227.9l0.4-0.6-0.4-0.4-0.6 0.4zM989.3 162.4l6.1-1.9 1.5-1.2 3-0.4 5.9-5 4.8-2.4 3-0.1 1.5-0.6 3.1-3.9 2.6-1.5 1.9-2.2 3.1-2.3 1.9 0.2 2.6-3.7 1.6-0.4 1.5 4.1 1.5 1.8 1.5 0 1.5-1.7 0.8-2.2 0.1-6.5 0.7-1.4 3-0.8 1.5-1.2 1.9-3.2 0-2.2-1.3-4.4-0.4-6.7 0.1-2.3 1.3-2.2-1.6-2.6-2.9 4.8-1.6 0.9-6.1-0.4-6.1 1.3-1.5 0.8-4.6 0.1-1.6 1.8-3.6 6.7-5.4 4.6-3.1 3.4-3 2-1.5 0.3-2.9-1.5 0-4.4-1.7-1.8-3 1.4-1.3 2.6 0.8 6.6-1.1 5.7-3.1 2.9-2.9 0.7-3.1 2.6-3 6.9-2.1 2.5-0.4 2 2.5 0.5 3 2.3 3.1 1.4zM987.2 160.1l-1.9-2.1-0.7-4.1 1.6-4.8 1.6-1.6 6-2.8 1.6-1.9 3-2.2 3-1 0.8-2.8 1.2-2.1 11.7-7.5 3.4-1.3 1.5-4.4 2.7-4.7 4.6-2.1 6.1-0.7 3 0.3 0.9 0.5 0.6 1.5 0.5 3-0.5 6.1-3-2.1-1.5 0-2.4 4.8-3.7 2.7-1.2 1.7 0.2 2.2-4.1 6.4-1.9 2.2-3.6 2.1-1.6 1.8-4.5 1.4-6 3.2-10.8 7.3-4.5 1.3-1.5 0zM1050.1 106.4l1.5-1.4 0-1.9-1.3 0.4-0.8 2.3zM974.1 95.1l1.5 0.3 0.5-1.1 0.1-2.3 2.5-7.1-2.1 0-1 1.3-1.5-1.3-1.3 0 1.2 9.4z" fill="#e0e0f2" fill-rule="evenodd"/>
<path d="M788.5 372.1l11.6 0 0.6-1 0.7 1 12.8 0 0.7-1.6-1-3.2 0.4-1.6-1.7-3.3-1.3-0.7-3.7 0.7-1.9 1.7-0.5 1.8-3 0.1-1.5 2.9-1.6 0.7-2.3-0.7-0.5-1.6 1.3-2.5 1.5-0.5 3.1 0.9 3.2-2.8-1.7-1.5-1.5-0.1-1.5-1-0.5-0.6 0.4-1.6-3-3-1-0.3 2.5-0.7 1.6 0.4 3-1.6 1.5-0.1 3.1 0.9 1.5-0.5-0.3-1.6-1.4-1.7-0.7-3.3 0.9-1.3 3 0.7 1.5-1 0.4-1.6-1.6-3.3-0.7-3.4-1.1-0.6-1.5 0.1-1.5-1.2-1 1.7 0.4 1.7-1 1.3-4.5 3.4-1.6-0.3-1.5-1.1-3 0-1.5-0.8-4.6-0.1-1.5 0.7 0 15.4 1.6 1.2 0.4 1.6-2 1.7 0 4.5 0.5 0.3-0.5 0.5 0 5.9zM794.5 354.3l-1.5-1.6 1.6-0.5 0.5 2.1-0.5 0.1zM829.6 371.1l1.5 0 0.6 1 9.7 0 0.3-0.7 0.2 0.7 11.6 0-1.8-3.2 0.1-1.6-2.5-3.7-1.5 1.9-1.5 0.3-1.5-2.2-1.5 0.4-1.6 1.9-1.5 0-1.5-3.9-1.5-0.9-1.5-0.2-3.7 4.8-0.4 1.6-2.6 1.6 0 1.6zM881.3 372.1l20.6 0 0.7-0.5 5.2 0.5 0.6-1.6 2.6-1.6 2.2-5.9 1.4 9.1 3 0 1.7-0.9 1.1 0.9 9.4 0 1.7-1.7 1 1.7 16.7 0-1.5-1.6 0.2-3.2-2.1-1.6 0-1.6-0.6-1-3.1 0.9-0.7-1.6 0.2-1.6 2-0.8 3.1-0.3 3-1.6 3.1 4.6 0.6-0.3 2.4-3.1 1.5-0.2 1.6-1.4 1.5 0.3 0.8 1.2-0.6 1.6-1.7 0.3-3.1 1.7-1.5 0-1.5 3.8-1.6-0.8-1.5 0-1.4 1.5 1.5 1.6 1.4 2.7 3.7 0.5 27.3 0 1.6-1.6 0.5-4.8 0.4-0.2 6.1 0.2 2.4 3.2 2.2 0.6 0.2 2.6 6.2 0 1.2-0.8 0.7 0.8 3.4 0 0.4-0.6 1 0.6 25.6 0 0.6-3.2-0.3-1.6 0.5-1.7 1.5-1.3 0.9 1.4 0.2 4.8 0.8 1.6 17.9 0 0.3-3.2 4.3-0.5 1.5-2.4 1 2.9 2.1 1.6-0.7 1.6 13.3 0 1-1.7 3.1 0.1 3-2 0.6 2-0.7 1.6 4.4 0 3.7-9.7 1.1-1.1 0-5.7-1.5-0.6-3 0.4-3.1-2.5-1.5-0.6-1.5 0.6-2.5 3-2.1 5.4-4.6 1.6-1.5-1-3 0.4-4.6-0.5-1.5-1.4-1.5-0.6-3.1 3.5-1.5 0.1-4.5-4.8-1.6 0.2-1.5 2.2-3 0.7-1.6 0-0.9-0.9-0.5-1.6 1.4-2.4 3.1-1.1 1.5-1.4 0.4-3.2 0.9-1.7-1.3-1.2-1.5 2-0.6-0.8-0.5-1.6 1.1-4.3 4.6-0.2 1.5 2.6 1.5 1 1.9-2.4 1.1-3.3 1.6-1.1 1.5 0.5 1.5 2 1.3-1.4 0.7-3.3-0.5-0.9-1.5-0.8 0.7-1.6 0.8-0.5 7.6-3.4 4.6 1.8 1.5-4.6 2.3 0 0.8 1.8 1.5-0.5 3 0.8 2.9-2.1 3.2 0.5 1.5-1.9 0-2.6-2-2.7 0.6-1.7 1.4-0.8 0-30.9-1.3 0.9 0.4 3.5-0.6 0.5-1.5 0.1-0.7-0.6-0.8-3.5 1.6-1.7 2.9-0.9 0-12.3-0.4-0.9 0.4-2.3 0-18.1-1.5 0-1.4-1.1-0.2-5.5 1.4-1.9 1.7-0.3 0-5.2-0.8-1.9 0.1-1.8-1.8-1.9-0.3-1.9 1.3-2.6 1.5 0.3 0-8.3-3-1.1-4.6-5-4.5 1.7-3.1 0.2-1.5-0.7-3.1 0.3-4.5-2.2-3.1 0.1-6-6.2-4.6-1.1-1 1.8-1.1 7.7 0.4 5.7 0.8 1.9-0.2 1.9-1.9 0.9-3.1-2.6-1.5 0.4-0.7 1.3 0.6 3.8-0.7 3.7 2.3 1.4 3.1-0.5 0.7 1-0.7 2.9-3.1-1 0 4.5 1.5 1.4 3.1-1.9 1.5 0.9 0.9 6.1-0.9 1.8-4.6 1.6-1.5 0.3-3-1-1.6 0.1-1.6 2.7 0.3 1.8 2.7 1.8 0.6 1.8-0.1 1.8 1.2 1.8-0.5 1.8-3.4 3.6 0.6 1.8 4 1.7 0.8 2 1.5-1.9 1.6 0.2 1.5 2.6-0.1 2.5 0.6 1.7 2.5 3 1.5-2 3.1-1.2 1.5-3.3 1.5-1.3 1.5 1.9 2.6 1.2 1.2 1.7 0.4 1.8-0.7 1.7 0.3 3.5-2.4 0-4.4 3.1-3-1.2-3.1 2.2-1.5-1.9-1.5 0.6-1.8 2.5-0.8 3.4 0.4 1.8 2.3 3.4-0.1 1.9-2 1.6 1.2 5.1-0.2 1.7-2.1 1.6-1.5 0.1-1.5 3.4-1.5 1.6-1.6 0.3-4.5-1.2-0.8-0.7 0.1-1.7-0.8-0.7-2 0.7-1.1 2.3-3-2.9-3.1-5.7-1.8-2.2 1.3-5.2 1.8-1.7 0.4-1.7 1.4-1.8-0.1-1.7-3-4.4-1.5-0.1-0.9 2.8 2.2 3.4 0.2 1.8-1.5 2.3-4.5 2.5-0.9-1.4 0.1-1.7 1.3-1.7 0.7-3.5-1.2-0.8-1.6 0-1.5-1.4-0.7 0.5 0.2 1.7 1.3 1.7-0.8 2.9-2.3 4 1.5 1.8 2.5 0 1.7 1.7-0.3 0.8-3.1 0.4-1.5 1.5-1.5-0.6-1.5-1.4-1.6-0.2-1.2 1.2-1.2 3.4 2.4 1.4 3.1 0.5 1.5-0.5 6.1-0.4 1.4 2.4 2.1 1.7-0.4 3.4-2 3.3 0 1.7-1.1 2.2-1.5 0.6-1.6-0.4-0.4-2.4-1.1-1-3.1 4.4 2.3 1.6 0.3 1.7 0 1.7-1.5 1.6 0.3 3.3-1.3 0.5-3.1-1.9-1.5 0.5-1.5 2.7-1.5-2.6-1.6 0-0.8 0.8-1.3 3.4-2.4 0.6-0.9 2.7 1.4 4.9 1 1.8-1.5 0.5-3.1-0.4-4.5 1.8-1.5 0-1.6-0.7-1.5-1.7-1.5-0.1-3.9 2.1-1.4 1.6-0.8 2.9-1.5 0.5-2.7-1.8 1.2-0.4 0.6-1.2 0.2-1.6-0.8-0.5-1.7 0.5-1.1 1.6 1.1 1.6-0.2 1.6-1.2 1.6-3-0.7-0.6-0.9-0.6-4.8 1.3-1.7 0.3-1.6 1.1-0.6 2-2.7 0.5-3.3 1.5-1.6-0.8-1.7-1.7-0.6-6.1-5.8-1.5 0.6-1.5 1.8-0.9-1 0-1.6-2-3.4 0.4-5-0.4-1.7-3.2-1.6-0.4-1.7 1.5-1.7 0.4-1.8-1.5-1.3-1.5-0.4-1.5 0.5-3.1-2-1.5 0.2-1.5 1-1.1-1.3 1.6-3.4-0.5-1.8-1.5-1.6-3.1 1.6 0-1.7 1.5-1.7 4.6-0.2 3.1 1.3 0.7-1 0.5-3.5 4.8-2.7 3.1-0.3 1.5-1.2 1.5 0.5 1.5 1.3 4.6-0.8 1.5-1.7 1.5-5.2 4.6-1 4.6-2.2 3-2.8 3.1-0.1 1.5-1.7 0.3 0.5-0.3 1.3-0.7 0.5-1.1 3.5-0.2 1.7 0.5 0.6 4.5-0.1 3.1-1.9 1.5 1.3 1.5 0.1 1.5-1.5 3.1 0.2 0.6-2.2-0.6-0.8-1.6 0.3-0.6-1.2 0.3-3.5-2-7.1 0.2-1.8-0.7-3.5 2.2-3.6-0.1-3.6 1.4-5.4 0-1.8 2.4-2.5 1.5 0.2 1.5 2.8 1.4 1.3 3.2 0 0.3-1.8-1.1-1.8 0.8-1.7 3 0.1 1.6-4.2 3-1.7 3-0.8 0.9-0.9-1.5-1.9 0.3-1.8 1.9-0.2 1.3-1.7 2.2-5.6-0.5-0.7-1.5 0.3-1.5-1.2 0-4 1.5-1.5 1.5 0.2 1.5 3.3 1.2-2-0.6-1.9 2.5-5.7-0.7-1.9-0.9-13.5 0.4-2 2.7-1 0.8-0.9-2-7.9 1.2-4-1.8-2 1-2 0.8-1 1.5 1.9 0.5 1.1 0.3 4 2.2 1.2 1.9-1.2-0.9-4 1.9-2 1.7 2.2 1.5 0.8 0.7-1 0.6-6 1-2 0.8-3.7 2.5-4.5 0.7-4.1-0.2-3.1-1.5 0.1-0.4-1.2 1.9-0.3 3.1-2.8 1.5 0.4 1.7-3.5 0.1-4.3 2.7-5.1 1.6 0.2 1.5 1.4 1.5-1.3 1.5-0.5 1.5 0.3 1.6-4.1 1.5-0.4 1.5 2.6 1.5 1.1 3.1-2.3 3-1 2 0.6 1.1 1.2 1.5-0.7 3-0.2 0-14.3-1.5 1.2-3 4.6-5.4-7-0.7-2.2-6.6-11.1-1-0.9-3.1-1.1-3-2.2-1.5-2.2-1-5-3-4.6-0.6-2.3 0.2-9.4-9.4 0 1.1 2.4-0.6 4.7 1.1 3.6 1.5 2.4 1.5-0.5 1.6 0.6 0 1.7-1.1 1.4 1.1 2.4 1.5-0.6 1.5 0.5 0 2.3-2.8 4.5-0.1 2.3 2.9 2.7 0.7 1.8 0.4 4.4 1.9 1.5 0.6 2.9-3 4.4-5.2 12.9-1.5-1.1-1.5 0.2-0.4 1 1.4 4.2-1 1.3-1.5-0.1-3.1-3.4-3.1 2.2 3.1 4.8 2 1.6 1.3 2.1-1.7 0.9-1.6-0.2-6.1 4.1-1.9-0.7-0.1-4.1-1-1.8-1.5 0.4-1 1.4 1.6 6.2-1.5 4.1 0.4 2.1-0.4 2-5.9 6.2-0.8 1.5-1.5 0.8-0.7-0.3-0.9-3.1-3-2.2-1 1.2 0 2.1-2 0.5-0.7-0.5-0.7-2.1 0.2-2 1.5-2.1-0.3-1.9-1.6 0.4-0.2 1.5-2.3 4.1 1.4 4.1-1.9 0.3-3-2.3-1.3-2.1 0.2-2-0.5-0.7-1.5-0.1-1.5 0.7-2.8-2-3.3-0.9-3-4.2-1.6-0.9-4.5-0.7-7.6 1.4-7.6-1.8-3.1 0-5.3-3.2-0.8-4.9-2.4-3.4-1.5-8.5-2.1-3.9 0-4.5-1.6-0.6-1.2-1.8 1.2-1.7 4.6 3.4 2 2.6-0.2 2.2 1.2 1.7 6.1 1.7 1.8-3.4-0.2-2.2 1.5-1.5 4.5-2.4 1.3-2.6 0.4-11-1.1-2.2-5.1-4.3-1.7-0.2-2.9 3.2-5.1-3.2-2.3-9.1 0.6-4.6-1.4-9.3 0.2-4.7-2.3 0 0.3 7.1-0.8 9.2 0.8 2.3-1.1 2.3-1.1 0.5-1.5-0.2-1.9-2.6-1.1-3.8-1.5 1-3.1-1-1.5 1.1-3.1-1.3-2.1 4-3.3 2.3 0.2 2.3 2.2 1 1.5 4.5 1.5-0.3 1.6-1.9 3 0.6 3.1-0.7 0.9 1.3-0.1 4.5 0.7 2.7 1.5 1.3 1.5-2.5 1.5-0.1 1 0.8-0.2 2.2-0.8 1.2-3-0.8-3 4.7-1.6 0-0.5-0.7-0.3-4.4-0.7-0.6-1.5-0.6-2.1 1.2 2 2.2 0.8 4.4 3.6 4.4 1.1 2.2-0.4 2.1 1.1 3.3 1.5-1.1 1.6 2.1-0.4 2.2-1.7 2.1-4.1 8-1.5 0.9-1.5-0.9-3.1-4.2-0.3 2.6 0.3 1.8 1.6 0.8 1 1.6-0.3 4.1 0.7 2.1 1.6 2.7 1.9 1.4 0.4 2.1 0.8 0.6 1.5-0.6 1.5 0.2 3 2.6 1.6 0.9 1.5 0 1.5-0.4 1.5-2.9 3.1 0.8 3-4.4 6.1-0.1 6.1 1.1 3-0.6 6.1 0.4 3.1 2.4 0.5 2 0.2 4.1-0.8 2.1 0 3.1 1.6 0.5 1.5-0.9 4.5 0 1.2 1.3 0.4 2.1 3 1.7 0.6-1.8-0.6-2 1.5-1.4 5.5 3.4 0.6 2.3 1.5 2.1 3.1 0.2 0.4 1.4-0.4 0.9-1.5 1.2-1.6-0.5-1.4 4.3-1.6 0.9-1.5 0-3.1-3.2-3-1.4-1.5-3.8-1.6 0-2 1.6 0.3 2 2.3 2 0.9 1.9-0.4 2 0.6 2 3.7 3.9 0.4 3.9 1.9 1.4 1.1 2.4-1.1 7.5-1.6 1.2-1.5-0.1-1.5-2.9-1.5 5.8-0.1 1.9 1.6 1 3-1.1 3.1 1.8-1.5 2.5-3.1 2.6-4.6-1.4-4.5 1.5-1.5-0.1-1.6-1.6-1.5 0.4-1-1.8-2.4-1.9 0.6-1.9-0.2-2.1-3.1-0.2-1.6-3.4-1.4-1.7-1.5-1.4-2.7-0.7-1.3-3.9-2.2-1.9-1.4-2.8-1.3-1.1-1.8-0.4-3-2.7-4.6-0.1-1.9-2.6-2.6-0.6-5.6-5.3 0.3-2-0.8-1.5-1.5 1.1-0.5 2.4-1.1 0.5-4.5-1.5-3.1 1.1-4.5-2.7-3.1 0.2-3-2.6-1.5 1-1.4 2-1.3 2-0.4 1.7-1.5 0.4-1.5-2.8-1.1 0.7-3.5 6.5-1.4 1.3-1.6-3.6-1.6-0.4-3-2.6-1.9 0.7 0.9 4-0.5 2-1.5-0.9-1.6-4.3-4.5 1-3.1-0.9-3 5-1.5-0.7-3.1 1.6-1.9-0.9-1.1-1.8-1.1 3.8 0.4 3.9-1.7 3.8 0.2 3.9-2.4 6.2-2.4-4.3-1.3-3.8-0.8-0.9-3.5-1.1-0.7-1.9 1.3-1.9 0.2-2 1.1-0.4 1.6 1.1 1.8-0.7 0.5-1.9-1.7-5.9 0-5.9-0.9-2-0.2-2 0.5-1.4 1.5-1.1 1.5 1.4 2.6-2.9-0.9-2 0.3-2-0.7-2-2.1-2.1-2.2-0.5-1.6-1.2-1.5-0.2-3 1.1-1.5-0.8-2.3 1.6-2.3 0.5-0.9-2.5 0.9-1.7 4.6 1.6 1.5-1.7 3-4.2 0-2.2-1.5-1.4-1.5 3.3-1.5 0.5-2.5-2.4 2.5-1.1 1.5-3.9 6.4-3.3 1.2-1.2 0.4-3 1.1-1 1.5-0.1 1.5 1.8 1.6 0.1 0.7 1.3 0.1 2.1-0.8 2-2.1 2.1 0.5 2.7 1.6 1.1 3-1.2 3.1 0.6 1.5-0.3 0.6-0.8 0.3-4.2-0.4-2-3.6-8.9-2.5-1.7-0.2-2.1 1.6-2.2-0.4-2.7-1.5-2.1-3.1-1.1-1.5-3.6-3-0.3-1-1 0.7-2.2 2.5-2.2-0.7-1.8-3-0.9-2.7-1.7 1.7-2.2 0.5-2.2 0.6-4.5-1.1-2.3-2.1-1.3-3-0.2-3.1-3.6-0.8 0.6 0 2.3-0.7 0.7-1.5 0.7-1.5-0.8-4.3-7.5-1.8-5.4-3-2.9-3.4-0.9 1.8-3.6 1.6-0.3 0.4-0.8-0.2-2.4-4.5 0-0.3 0.5-0.5-0.5-8.2 0-0.4 0.9-0.3-0.9-10.4 0.4-5.1-0.4-1 1.5-1.3-1.5-15.3 0-4.7 4.8-0.5-2.4 0.3-2.4-19 0-0.5 1.4-1.6-0.2-1.9 3.5-1.1 0.9-1.5 0 0 6.4 1.5-0.9 1.5-0.1 1.1 0.7 0.1 2.3-0.7 2.3-3.5 1.7 0 30.9 3 0 0.6 0.9-0.6 3.5-3 5.8 0 31.6 0.5 1-0.5 0.4 0 16.2 1.4 1.3-1.4 2.4 0 29.9 1.9 2.4-0.4 2.3-1.5 0.8 0 10.5 1.5 0.7 4.6-3.5 0.1 2.2 1.6 3.7-1.3 3.6-2 2.2-4.5-2.8 0 36.4 1.5 1.7-1.5 2.1 0 16.3 1.5-0.2 1.5-1.4 2.7 0.5-0.1 1.7-1.1 1.3-4.5-0.8 0 8.7 1.3 1-1.3 1.7 0 13.4 3 1.3 1.6-1.3 1.5-3.6 3-2 2.2-4.5 2.4-1 3 0.6 1.2-1.3-1.6-3.3 0.5-1.7 1.5-1.7 0.3-1.7-0.4-1.1-1.5-1.2-3 0.4-3.1 1.3-1.5-0.9-0.7-3.6-0.8-1.4-0.8-0.3 2.3-1.1 1.5 0 3.1 1.2 1.5-0.2 1.5 3.1 1.5 0.8 3.1-1.2 0.4-4.3 2.2-3.5-2.5-3.4 1.4-3 1.5-0.2 1.5 2 1.6-0.1 1.5 0.7 1.5 2 1.6-1.4 1.4-7 3.1-0.4 1.5 1.8 4.6-2.6 4.5 2.2 3.1-0.1 0.8-0.9-0.2-1.7-1.5-3.5 0.9-1 1.5-0.2 1.5 1 1.5-0.1 1.6 2.2 3-0.2 3-2.7 1.6 1.7 1.5 0 1.5-1.1 1.5 0.2 1.5 1.3 1.6-0.4 3 1.9 1.5-0.1 1.6 0.5 1.5 1.7 1.5 0.7 7.6-3.1 2.4 6.4-0.1 1.7 1.5 3.5 0 1.7 0.8 2.2 3 1.6 2.2-2.1 0.1-1.7 1.2-1.7 2.6-1.6 1.5 0.2 1.5 2.3 3.1 1.3 3 5.6 1.5 0.3 1.6-1.2 4.5-1.2 3.1 2.9 1.3 5.1-0.8 3.4 2.5-0.1 1.5 1 3.2 0.8 0.4 1.7-0.5 0.7-3.1-1-1.5 0.3 0.1 1.6 2.6 1.7 1 1.7-0.1 3.4-1.4 1.6 0.8 1.7 1.6 1.6 3 0.6 3-1.2 1.6 0 3 2 1.5-0.4 1.6-2.6 1.5-0.7 0.6-1 0-1.6-2.3-1.7 0.2-2.3 1.5-1.2 1.5-0.1 2.3-3.1 2.3-1.7 0.7-1.7 0.8-0.5 1.9 0.5 0.3 1.7-0.7 1.7 3 3.3-0.3 1.7-1.4 1.7 1.7 1.5 0.5-1.5-0.4-3.4 2-1.7-2.1-1.6 1.3-1.7-0.4-3.4 0.7-0.5 3-0.5 1.5 3.9 5 3.8-1.9 1-1.6 2.4-3 0.2-1.8 1.5-1 1.7 0.2 1.6 2.9 3.4-0.3 1.1-7.6 3.3-4.6 1.3-1.5 1.2-1.5 0.4-3-1.8-1.6 0.6-1.5-0.9-3 0.5-3.1-1.4-3-0.3-3.1-1.5-0.5 0.8 1.9 1.6 0.1 3.4 3.7 1.6 0.2 1.7-0.8 1.6-2 1.6 2.6 3.3-0.6 2-3.2-0.3 0.2-2.7 1-0.6-4.1-1-2.3 1-0.7 1.8-4.1 1.5-2 1.9-3-1.1-1.6 0.2-1 0.6-0.4 1.6 2.6 4.9-3 8.1-1.2 1.4-1.5-0.6-1.6-3.3-1.4 0.9-0.5 1.6-1.1 0.7-1.5 0.1-1.5-0.8 0.8-1.6-0.7-1.6-3.2 0.1-3-0.7-1.4 0.6-0.7 1.6 2.1 0.7 1.5 1.9-0.1 2.2-1.8 1.6zM897.9 370.5l0.9-1.6 1.3 0 1 1.9-1.6 0.9-1.5-1.1zM1021.2 368.9l0-1.6 0 1.6zM1069.7 367.3l0.7-1.6 1-0.9 1.5 0.5 1.6 2-3.1 1.3-1.5-0.9zM1002.4 365.7l-0.2-1.6 0.8-1 1.5-0.7 1.2 1.7 0.3 1.7-3 0.8zM996.8 364.1l-0.7-1.7 0.3-1.6 0.5-0.4 1.6 0.4 1 1.6-1.1 1.3-1.5 0.4zM995.2 359.2l0-1.6 0.5 0 0.2 1.6-0.5 0.7zM1013.4 357.6l0.2-2.5 2.1 0.8-0.7 1.7-1.4 0.2zM914.4 355.9l0.3-2.3 1.7 2.3-1.7 1.4zM958.1 355.9l0.8-1.5 1.9-0.1-0.4 2.4-1.5 0.7zM969.2 355.9l0.3-0.8 0.5 0.8-0.5 0.7zM998 354.3l1.9-1 0.5 1-0.5 0.6-1.5 0zM949.1 352.7l-1-1.6 0.5-1.7 1.1-1.3 1.1 1.3 0.2 1.7-1.3 2.5zM1024 352.7l0.3-0.7 1.5-0.5 0.6 1.2-0.6 1.5-1.5-0.2zM1011.7 351.1l0.9-3.3-0.2-1.7 1.2-1.6 3.1 2.9 1.5-0.3 1.5-2.1 3-0.4 1.6-1 1.5 0 0.4 0.9-0.4 1.9-6.1 1.8-1.5 2.9-1.5 0.7-1.6-1.8-3 1.8zM967.7 347.8l-3.5-3.3 0.7-0.8 1.6 0.3 1.5 1 0.5 1.1-0.5 1.8zM949.6 344.5l1.3-1.6 0.6 0 0 1.6-1.8 0.2zM937.8 342.9l1.3-1.7 1.5 0.7 0.6 1-0.6 1.3-1.5-0.8zM944.3 341.2l3.9-7.5 1.5 0.2 0.5 0.7 0.2 1.6-0.7 1.5-2.4 3.5-2.1 1.6zM969.2 339.6l-0.2-1.7 0.5-1 1.5-0.3 1.3 1.3-1.3 2.1-1.5 0zM1042.3 337.9l-1.3-1.1 0-1.5 3 1.1 1.3 1.5-1.3 1.2-1.5-0.8zM1034.4 334.6l0.5-0.8 0.8 0.8-0.8 1zM962.5 332.9l0.9 0.1zM1051 329.6l2.2-3 1.5-0.4 3.2 3.4-4.7 1.4-1.6-0.3zM1068.9 327.9l-0.5-5 1.5-4.1 1.5-1.6 3 1.4 0.6 0.9-0.5 1.7-2.1 3.4 0.5 3.3-1.5 0.9-1.5 0zM1034.6 326.3l0.3-0.7 0.6 0.7-0.6 1.1zM1060.5 324.6l0.3-0.6 0.6 0.6-0.6 0.6zM1037.9 322.9l1.6-1.2 1.5-0.1 1.6 1.3-1.6 1.2-3.1-1.1zM1080.9 322.9l-0.5-1.7 1.7-0.5 1.3 2.2-1.3 0.8zM960.2 321.2l0.2-0.4 0.2 0.4-0.2 1.1zM1057.4 317.9l0.3-0.8 1.1 0.8-1.1 1.5zM929.8 309.4l1.7-0.1-1.5 0.3zM924.5 307.7l2.4-0.1-1.5 0.4zM1089.6 307.7l-1.8-1.7 0.3-0.7 1.9 0.7 1.1 1.7-1.4 0.1zM936 304.3l1 0-1 0.1zM1067.4 304.3l-0.4-1.7 1.4-3.5 1.3-1.7 0.1-1.7 4.6-2.9 5 1.1 0.9 1.8-0.3 1.7 0.6 3.4-1.7 1.8 0.7 1.7-0.6 0.8-3-0.8-7.6 1zM941.8 302.6l0.3-1.8 0 1.9zM947.2 300.8l-0.1-1.7 1.1-1.5 1.5 1.5-0.8 1.7-0.7 0.4zM1088.7 300.8l-5.1-5.1 1.5-0.4 1.5 0.7 3.1-0.1 1.5 0.9 0.4 2.3-0.4 2.5-1.5 0.4zM794.4 299.1l0.1-1.7 1.9 0-0.7 1.7-1.1 0.2zM938.1 297.4l1-0.5 0.5 0.5-0.5 1.5zM953.4 295.7l-8.9-3.5-1.5-3.5-0.5-3.5-2-3.5 0.1-3 0.6-0.5 0.1-1.7-0.2-1.8-1-1.8 0.2-1.8-1.2-1-3.1-0.3-3-1.9-0.9-2.1 0-1.8 1.8-3.6 0.6-3.6-0.1-3.6 0.9-3.7-1.1-3.6 0.2-3.7 0.9-1.9-0.9-5.5 1.6-0.9 1.6 0.7 0.4-1.7-0.4-5.6 0.6-3.8 0-9.5 1.3-3.9 0.4-3.8 2.4-2 0-1.9 2.4-3.9 0.5-3 1.5 0.5 4.5 0 1.6 1.1 4.5 1.3 4.6-0.4 0.6 0.5 0.9 6.4 1.7 5.2 1.4 1.1 1.5-0.4 3 2.4 1.5-0.6 1.6-2.5 1.9 2-0.9 1.9 1.4 1.9 0.6 0.5 3-1.1 0.6 0.6-0.6 2-1.5 0.5-1.5 1.6-1.5 0.6-3.1-0.1-5 3-4.6 5.7-0.3 5.6 0.8 0.5 1.5-1.1 1.6 0 0.8 0.6-3.2 3.7 0.6 3.7 1.8 2.1 1.5-0.5 1.5 0.3 3 2.4 1.7-0.6 1.4-3.7 1.5-0.5 2.1 6 1.2 5.5-0.9 3.6-0.3 7.2-3.6 5.4-0.6 1.7 0.6 2.6 1.5 0.5 0 0.5-1.5 0.3-1.4 3.2-3.2 2.9-2.5 5.9-2 0.8-4.8 6.1-5.9 3.1-1.5-0.6zM884.3 293.9l0-2 0 2.1zM1066.2 293.9l0.6-0.5 0.8 0.5-0.8 1.5zM902.5 292.2l0.3-1.7 1.3-0.6 0.5 0.6-0.5 2.2-1.5-0.1zM894.6 290.5l0.4-3.9 0.5 2.1-0.5 2.1zM803.3 288.7l-1.8-1.7 0.7-1 1.5-0.6 1 1.6-1 2zM917.1 288.7l0.7-0.7 0.6 0.7-0.6 0.8zM1071.4 288.7l-0.4-1.7 0.4-1 0.6 1-0.6 1.8zM935.8 287l-0.8-1.8 1-1 1.6 0.5 0 0.9-1.6 1.5zM809.4 285.2l-0.3-1.7-1-1.8 0.2-2.1 2.4 0.4 1.3 3.5-0.6 1.7-1.6 1.4zM803 283.5l0.7-1.4 1.5 1.3-1.5 1.6zM884 283.5l1.2-1.8 0.1-1.7-0.8-1.8-1.7-1-4.6 1.4-1.9-0.4-1.1 2.8-1.5 0.6-1.5-1.1-1.3-2.3 0.9-5.3-1.3-1.8 0.3-1.7 5.9-9.2 0.4 0.2 0.1 1.8-1.6 3.6 0.4 1.8 0.7 0.5 4.6-0.2 1.5 0.5 1.5 1.4 6.1 2.1 3-1.9 2.4 1.1 0.7 2 1.5 0 1.5-2.8 2.1 0.8-0.5 3.5-1.6 1 0 2.6-1 1.8-2 1.1-1.5 0-3.1 1.1-3-1.8-1.5 0.1-1.1 1.2-0.5 1.9-1.5 0.3zM906.9 283.5l-0.3-1.8 0.5-0.9 3.1-1.1 1.5 1.6 0 0.8-4.6 1.6zM900.6 281.7l0.5-3.3 0.5 3.3-0.5 0.8zM821 278.2l1-1 3-0.8-0.6 1.8-2.4 0.7zM905.4 276.5l1.7-1.1 1.6 0.2 1 0.9-1 1-3.1-0.5zM790.7 274.7l0.5-1.8 1.1 0 0 1.8-0.8 1.1zM807.6 269.4l0.7-0.7 0.4 0.7-0.4 1zM825.6 269.4l-0.1-3.6 3.5-9-0.8-3.6 1.4-2.5 4.5-1.7 4.6 1.1 1.5-0.1 3.1 1.2 4.5 0.5 1.5 1 0.5 7.7 1.1 3.6-4.6 4.6-1.5 0.4-4.6-1-3 0.8-2.1-1.2-1-2.8-1.5 0.8-4.6 4.6-1.5 0.6zM859.8 269.4l0.2 0.6zM910.9 269.4l-0.9-1.8-4.4-1.8 3.1-3.2 2.9 1.4 2 3.6-0.6 1.8-1.3 1zM1052.7 265.8l0.5-1.3 0.5 1.3-0.5 0.4zM1069.8 265.8l-1.6-1.8 1.8 0-0.1 1.9zM795.9 264l-0.7-3.6-2.1-1.1-2.5-2.5 2.5-1.7 3.8-5.6 1.3-9.2 0.9-1.2 1.6 0.4 4.5 5.3 1.4 6.6-0.6 1.8 1.5 3.6-0.6 3.6-6.2 4.8-3.1 0.4-1.5-1.3zM815.5 262.2l0.3-1.8-1.3-1.8-2.7-1.8-1.1-1.8 0.2-3.6-2.3-3.7-0.1-1.8 1-1.9 1.8-0.7 0.5 2.6 1 1.3 3.6-3.2 2.5-4.5 3.1-0.5 1.2 1.3-1.9 1.9 0.7 1.7 3 0.6 0 12.8-9.1 6zM889.2 262.2l-1.8-1.2-3.1-0.4-1.6-2 1.6-1.1 3.1 0 1.5 1 1.5 0.2 2.5 1.7-1.3 1.8-1.2 0.5zM914.6 262.2l-2.1-3.6-0.4-1.8 0.9-1.8-1.3-0.9-3-1.1-4.6 1.8-1.5-0.2-1.3-1.4 1.3-2.1 3-0.9 0.5-0.7-0.4-1.8 1.8-1.8 1.2-3.7 1.5-1.5 1.5 0.1 3 2.1 0.9 1.1-0.8 3.7 1.5 3.2 1.5-1 0.1-4 1.2-1.9 3.2-2.4 3.1-1.3 1.5 0 3.1 2 1.3 3.6-1.2 1.8-0.5 1.8 1.1 1.9 0.1 1.8-3.9 6.4-4.6 2.1-1.5-0.1-3-2-3.1 2.9zM998.3 262.2l1.6-1.8 0.4 1.8-1.9 0.6zM999.9 260.4l1.5-0.3 0 0.5zM858 256.8l0.9-1.8 1.1-0.4 0.6 0.4 0.9 2-1.5 1.4-1.5-0.9zM1063.7 256.8l-0.3-1.8 0.9-1.8 5.6-2.8 1.5 0.4 0.3 0.6-1.8 5.5-4.6 1.5-1.5-1zM882.3 253.2l0.3-1.8 0.6 0 0.5 1.8-0.9 1.1zM889.4 253.2l0.1-1.8 0.9-1.8 1.5 0.2 1.2 1.6 0 1.8-1.2 1-1.5-0.3zM874.4 251.4l-1.9-1.9 0-1.8 1.1-3.7-1.4-0.6-3.1 2.6-3 0.6-1.5-1-1.6-0.1-3-2.8-1.5 1.2-0.5 3.8-4.1 2.6-1.5 0.2-4.6-1.7-3-0.4-3.1-2.7-3 0.7-3-4.6-1.3-3.3-3.3 1.5-3.1-3.2-1.5-0.2 3.1-0.6 1.5-1.3 0.7-1.8-0.3-1.9-1.9-2.7-1.6 0.3-1.5 1-1.5 2.8-1.2-3.2 1-1.9-3.3-3.8 2-1.9 7.6-4.7 1.5 1.4 1.5-0.5-1.1-5.7 0.9-5.8-1.6-3.9 3.4-3 2.9-0.9-1.4-2.9-3.1-2.3-1-4.7 0.2-4-2.2-1.6-3.1 0.7-3-0.2-1.5 1.1-2 4-1.1 0.4-1.5-0.5-1.5 1.6-1.5 0.2-1.7-3.7-3.7-6-1.4-6.1 0.1-2-0.8-2.1-1.6 0.6-1.8-2.6-0.3-4.1 0.5-1.2 0.9 1.2 2.2 0.9 0.6-0.9 0.2-2.1-0.8-4.2 0.3-2-0.3-0.8-1.5 0.3-4.6 2.7-0.8-2.2 2.3-2.8 1.4-3.6-1.4-1.2-1.5 0-0.6-0.9 0.1-6.4 2.1-4.3-1-2.1 1.1-4.4-0.3-2.2-1.4-2.1-1.5-0.5-2.3-4 2-2.2-2.2-4.5 0.1-4.5-2-4.5 1.3-1.9 0.1-2.7 3-1.9 3-0.6 1.5 3-1.5 0.1-1.5 1.8-0.8 2.2 0.8 2.7 1.5-0.1 1.5-3.4 1.6-1 1.6 1.8 2.9 1.9 1.5 0.3 3.1-1.3 0.7 1.4 0 4.5-0.7 1.5-3.1-0.1-1.4 0.8 0 4.5-1.8 2.2 0.2 4.6 3-4.4 4.4 6.4 0.4 2.2 1.3 1.2 3.1-1.7 3 2.1 1.6 2.8 3.7 4.3 0.1 4.3 0.7 0.4 3-0.8 2.1 2.5 2.8 8.5 1.2 0.4 0.8-0.4 0.7-2.6 0.7 2.6 4.2 4.1-0.3 2.1 0.5 2.1 1 1.1 2.6 1-1 2-0.2 2.1 1.7 5.1 0 3.1-2.8 6 1.2 3.1 1.6 2 0.8 2.9-0.8 0.6-1.6 0.1-2 3.2-2.5 2.9-1.9 1.1-1.3 1.9 1.4 2 1.8 1 3-1.6 1.9 0.6-1.7 3.9-0.2 4.5-1.5 0.2-1.1 1.1-0.5 1.9 0.5 3.8 1.7 1.9 4 2.8 1.5 0.2 1.5-2.5 1.5-0.8 1.1 2.2-1.1 2.4-1.5-0.3-1.5 1.7 0 1.9 2.2 3.7-0.7 2-1.5 1.2-1.5 0.1 0 1.2 1.5 0.3 2.1 2.7 2.4 1.7 1.6-0.1 3.1-5.3 1.4-0.9 4.6-0.6 3-2.3 0.8-1.8-0.2-1.9 1-1.5 3-0.6 4.2-3.6 1.9-0.8 2.6 2.7 0.6 1.9-1.5 1.9-0.9 5.6-1 1.9 3 3.7-1.3 2.7-1.5 1.4-2.7 1.4-1.5 1.9 1.3 3.6-0.6 1.9-1.1 0.4-1.5-0.2zM889.3 247.7l1.4 0-0.3 1.4zM903.4 242.2l0.7-1.2 2.7 1.2-1.2 1.4-1.5 0zM988 242.2l-1.4-1.9-4.9-2.9-1.6 1.4-0.6-0.3-1-1.9 2.7-1.8-0.2-5.6 0.7-1.9 1.5 0.9 1.5-0.2 3.1-4.3 4.5-0.5 1 2.2-2.1 5.6 4.2 2.6 1 1.2 0.2 1.8-0.5 1.9-1.5 1.8-5.3 2.8zM998 240.3l0.4-0.4 0.5 0.4-0.5 1.2zM887.1 238.5l1.8-5.2 1.5 1.4 0.5 1.9-1.8 1.9-1.7 0.3zM1072.1 238.5l-1.3-1.9-0.4-1.8 1.3-3.8 1.2-1 2.5 2.9 0 1.9-0.6 1.8-1.9 2.4zM799.3 234.8l-3.2-0.8-1.6-1.1 0.3-1.9 2.8-1.5 0.9-2.2-1.6-3.8 2.2-1.1 1.5 1.1-0.4 1.9 2 2.2 0.2 1.6-1.2 1.8 0.5 1.9-0.3 1.9-0.7 0.3zM807.5 234.8l0.8-0.3 0 1zM894.4 234.8l-0.2-3.8 0.8-4.6 1.5-0.6 5.4 3.4-0.8 5.6-1.6 0.4-1.5-0.9-1.5 1.4-1.5 0.3zM1054.4 232.9l-0.2-1.9 0.5-0.4 0 2.6zM967.3 231l-0.9-1.8 3.1-2.4 1.5-0.5 1.5 0.4 1.2 0.6 0.4 1.1 1.5 0 0.5 0.8-0.5 0.5-1.5-0.2-3.1 2.3-1.5 0.2-1.5-0.7zM856.5 229.2l-0.3-1.9 0.7-0.8 0.4 0.8-0.4 2.5zM1084.6 229.2l0.5-1.4 0.4 1.4-0.4 0.7zM1060.6 225.4l-1-1.9 1.2-0.3 0 2.3zM1071.3 223.5l0.3-1.9-0.2 2.1zM807.6 221.6l-0.8-2.2-1.6-1.3-1.5-0.6-1.5 0.9-0.5-6.3-1-0.7-1.6 1.2-4.5 1.5-1.4-2 2-2 3.3-1.9 1.5-1.9-0.1-2-0.8-1.6-3-0.7-1.1-1.6 1.1-2.7 1.5 0.3 1.5-1 1.6-3.7 3.2 3.2 1.3 4 1.6 0.1 3-1 1 0.8-0.2 2-1.7 1.9 0 2 0.9 2.5 1.3 1.3 0.9 2 0.6 5.7-0.3 1.9-2.5 2.2-1.5 0.5zM900.6 219.7l0.5-2 1.5-0.7 1.5 0.3-0.3 2.4-1.2 1-1.5-0.3zM850 215.9l0.9-0.4 0.3 0.4-0.3 1zM928.3 215.9l-1.4-0.1-2.1-3.7 2.1-4.9 1.7 1 1.2 1.9 0.2 5.8-1.6 0zM872 214l1.8-1.9 0.3 1.9-1.9 0.9zM1028.7 214l-0.5-1.9-3.9-3.9-0.9-1.9-0.4-3.9 0.6-2 2.2-1.9 0.5-2 1-1.2 4.6-1.3 1.2 0.5-1.2 0.3-1 1.7-0.2 2 0.1 1.9 3.1 2-0.2 3.9-1.1 1.9-1.7 5.8-0.6 0.5-1.5-0.3zM821.2 212.1l-0.5-2 1.3-0.9 1.5 0.1 1 0.8-1 1.6-1.5 0.7zM877.5 208.2l-0.1-3.9-2.2-3.5-1.5 1.1-1.5 3-2.6 1.4-0.8 0-1.2-1.5-1.5-0.7-1.5 0.7-2.4-4.4 0-3.9-0.7-1.2-1.5 0-1.5-1.1-1.5-3.6 0.7-2 4.1 0 0.5 4 0.7 1.2 3.1 1.5 3-1.4 1.5-2.3 1.6 0.7 1.5 1.9 1.3-1.6 0.2-2.4 1.5-1.9 0.5 2.3 1 1 3.1 1.4 1.5-0.9 0.8 0.5-0.7 7.8-3.1 3.1-1.6 5.6zM919.3 206.3l1.5-2 0.5 2-0.5 0.7zM908.1 204.3l2.1-1.7 1 1.7-1 1.8-1.5-0.8zM935.9 202.4l0.1-0.5 1.4 0.5-1.4 0.4zM857.3 200.4l1.2-0.7 0.9 0.7-0.9 0.7zM789.7 196.5l0.3-1.4 0.5 1.4-0.5 0.2zM1033.2 192.6l-0.3-2 0.5-1 1.6 1-1.6 3.1zM862.6 186.6l0.4-0.5 0.7 0.5-0.7 1.7zM797.1 184.6l0.5-0.5 0.8 0.5-0.8 0.8zM858.9 184.6l-0.4-2.3 0.8-1.7 2.4-2-0.5-2 1.8-0.3 1.2 4.3-1.4 2-2.8 2.4zM881 182.6l0.1-2 1.9-4 1.3-0.8 1.8 0.8 0.9 2-2.7 5.8-1.5-0.1-1.5-1.1zM869 178.6l2.2 0-0.6 0.4-1.5-0.2zM872.7 178.6l1-0.9 0.8 0.9-0.8 0.4zM856.9 168.4l1.6-0.3 0 0.6-1.6-0.2zM1046.9 166.3l1.7 0-1.5 0.2zM869.1 164.3l1-8.3 2.1-1.3 1.1 3.3 0.1 4.2-2.8 2.4-1.5-0.3zM803.3 162.2l0.4-1 0.7 1-0.7 0.6zM963.2 162.2l-1.3-0.6-1-1.5 1-1.9 1.5 1 0.4 0.9-0.4 2.2zM858.4 156l-0.2-2.1-1.7-2.1-0.8-2.2 1.2-1.6 3.1 2.1 1.5-2.1 1.5 0.9 0.1 2.9-1.6 2.4-3 1.8zM787.6 153.9l-0.2-2.1 1.1-0.9 1.7 0.9 0.2 2.1-1.9 2zM873.2 149.6l0.5-1.1 0 2.4zM879.2 149.6l0.1-2.1 0.9-2.1 2.6-2.8 0.5 0.7 0.3 2.1-1.5 2.1-0.8 2.6-1.5 1.1zM889.8 145.4l0.6-1.5 0 2.3zM856.8 143.3l0.1-0.4 0.8 0.4-0.8 0.5zM852.2 136.8l-2.2-2.1 1.2-2.2 1.2-0.8 1.5 0.4 1.9 2.6 0.9 2.1-2.8 0.6-1.5-0.3zM863.7 136.8l-0.7-2.9-0.9-1.4-3.7-2.2 1.5-2.2-0.8-2.2 0.9-6.7 1.5-1.5 0.9 1.6 0.3 4.4-2.7 4.4 4.6 3 1.5 0.1 1.5 1.3 0 2.2-0.9 2.1-0.6 1.1-1.5 0.9zM1066.1 136.8l0.7-2.9 1.6 0.2 0.2 0.6 0.7 2.1-0.9 2-1.6-0.3zM1079.5 136.8l-1.3-2.1 2.3-3.3 3.7 3.3 1.3 2.1-1.3 0-0.6-1.1-3.1 2.2zM795.7 134.7l0.4-3.2 2.1 3.2-0.6 1-1.5-0.3zM837 134.7l0.2-5.5 1.5-0.6 0.8 1.7-0.2 4.4-0.6 1.3-1.5 0.2zM1075.5 132.5l-0.7-2.2 1.2-1.9 1.5-0.7 0.8 0.4 0.2 2.2-2.5 2.9zM843.8 130.3l1-2.7 0.3 0.5-0.3 3.3zM828.6 128.1l-0.2-2.2 1.2-1.2 3 0.2 1.5 0.9-1.1 2.3-1.9-0.4-1.5 1.3zM793.5 123.7l-1.1-2.2 0.6-2.2 4.2 2.2-1.1 2.7-1.5 1.3zM854.9 121.5l0.5-0.7 1.3 0.7-1.3 0.8zM848.3 114.8l-2-1.6-3-0.7-1-4.4 0.2-2.3 0.8-1.3 1.5-0.4 2.3 1.7 3.8 5.9-0.6 3.1-1 0.6zM833.7 103.5l-1.3-4.6 0.2-2.4 1.5-1.7 1.6 3 2.5 1.1-0.4 2.3-1.6 2.3-2.1 0.6zM864.3 101.2l1.8-0.5 0 1-1.5-0.1zM851.1 98.9l-0.2-2.4 1.5-0.7 1.2 0.8 0.5 2.3-1.7 1zM861.5 363.8l0.5-1.4-0.5-0.7-0.5 0.7zM1074.4 358l0.6-0.4-0.6-1.1-0.1 1.1zM850.9 352.8l2.5-1.7-1-0.9-1.5 0.4-0.1 2.1zM846.3 346.6l0.4-0.5-0.4-0.8-0.6 0.8zM887.4 346.4l1.5 1 2-1.3 1.3-1.6-0.3-0.4-3-0.3-1.5 0.7-0.4 1.6zM899.5 346.5l3.6-0.4 1.3-1.6-4.9-0.3-0.6 0.3 0.2 1.6zM850.9 345.1l3 0.2 1.1-0.8-0.2-1.6-2.4-1.3-1-2-3.6-1.1-1.5-2.7-2 0.4-0.5 1.7 1 1.7 1.5 0.3 3.9 4.6zM818.9 341.5l1.6-3.6-0.9-3.3-2.2-3.7-2.2 0.4-1.2 1.6 1.3 3.3 1.8 1.7 1.4 3.3zM908.7 341.4l1.5-0.4 1.4-1.4-2.9-2.3-3.1 0.6 0 2 2.5 1.3zM799.1 338.4l1.6 0 0.4-0.5-0.4-0.4-1.8 0.4zM1001.4 338.5l1.6 0.2 1.2-0.8 1.7-3.3-0.8-1.7-2.1-1-2.2 1 0.3 5zM933 335l1.5 1.2 1-1.6-2.5-1.5-0.3 1.5zM843.3 327.1l2.5-0.8 1.3-1.7-2.3-1.9-1.5-0.2-0.6 0.4 0.1 3.4zM856.9 327.5l1.6 0.2 0.5-1.4-0.6-3.4 1.8-1.7-0.2-0.5-1.5 0.2-2.6 2-0.6 1.7 0.9 1.7zM806.8 325.1l1.5 0.2 0.8-0.7-0.1-1.7-0.7-0.8-1.4 0.8-0.9 1.7zM902.6 324.9l1-0.3-1-1.5-0.4 1.5zM1001.4 324.8l1.6 1 0.7-1.2-0.7-2.5-1.8 2.5zM846.3 320.3l1.5 0.5 1.3-1.3-0.6-5 0.8-3.4-0.7-1.7-0.8-0.8-3-0.6-1.5 0.4-3 4.4 4.5 1.4 0.1 3.7 0.9 1.6zM899.5 318.2l1-0.3-1-1.6-0.5 1.6zM1007.5 318l0.6-1.8-0.6-1.3-0.5 1.3 0.2 1.7zM999.9 314.5l1.5 0.7 0.5-0.7-0.5-1-1.5 1zM878.2 313.1l1.5-0.3-1.5-0.5-0.4 0.5zM1006 313.6l1.5 0.1 0.2-0.9-0.8-1.7-0.9-0.8-0.9 0.8 0.2 1.7zM831.1 304.9l1.2-0.6-1.2-1.1-1.3 1.1zM878.2 304.8l1.6 0.2 0.9-0.7-0.9-1.2-1.8 1.2zM1042.5 304.8l0.6-0.5-0.6-1.6-1.2 1.6zM837.2 301.7l3 0.1 1-1-0.8-1.7-1.7-1.2-1.5 0.6-0.6 0.6-0.2 1.7zM1072.9 299.5l1.5-0.6-1.5-1.9-0.6 0.4 0.4 1.7zM1044 297.2l1.5-2.4 3.1-0.2 0.5-0.7-2-3.5-1.6-0.2-1.5 0.8-0.7 1.2 0.3 3.5zM1057.7 285.8l0.4-0.6-0.4-1.6-0.3 1.6zM964.9 284.3l1.6 0.3 0.7-1.1-1.3-1.8-2.5-2.2-0.3 2.2 1.1 1.8zM943.6 281.5l1.4-1.5-1.4-1.5-1 1.5zM968 278.3l1.5-0.8 0.5-1-0.5-0.7-1.5 0-0.4 0.7 0.3 1.7zM1051.6 279.9l1.6-1.7-1.6-0.6-0.6 0.6zM891.9 276.7l0.6-0.2 0.1-1.8-1 0-0.3 1.8zM948.2 277.4l3.7-0.9 0.5-1.8-1.2-0.9-2.3-0.9-0.7-0.9-1.2 4.5zM1016.7 268.5l1.2-0.9-1.2-2.9-0.9 1.1 0 1.8zM914.7 255.6l1.6-2.1 0-0.8-2.1 0.5-0.7 1.8zM1034.9 251.5l1.5 0.9 1.5-0.6 0.5-0.4-0.2-1.9-1.8-1.2-1.5 0.7-0.1 2.4zM925.4 246.2l1.5 0.1 0-1-1.5-0.4-0.3 1zM841.7 238.8l1.6 0.2 0.6-0.5-2.2-0.5-0.3 0.5zM961.9 237.1l0.6-0.5-0.6-1.3-0.1 1.3zM989.3 233.1l1.5 0.2 0.5-0.4-0.5-1.5-1.8 1.5zM1056.2 205.9l0.1-3.5-0.4 1.9zM1083.6 204.7l1.2-2.3-1.2-2.4-1.6 0.4-0.3 2 0.4 1.7 0.6 0.2zM1050.1 201l1.5 1.2 1.6-0.9 0.2-0.9-1.8-2.5-1.8 2.5zM896.5 198.3l0.8-1.8 2.2-1.6 4.6-1.1 1.6 0.7-0.3-1.9-1.3-2.8-1.5-0.1-1.5 1.1-0.5-0.2-0.9-2-0.1-2-2.2-2 1.6-4-0.3-2-0.7-1.1-1.5-0.8-1.5 0.5-0.6 1.4 0.2 2-0.7 2 0.9 6 2.3 4-2.1 1.9 0.5 2zM1004.5 193.4l0.2-0.8-0.5 0zM1059.2 193.8l1.3-1.2 0.6-2 0.3-2-0.6-1.2-3.1-1.8-1.5-0.1-3.1 1.1 0.6 2 1 0.9 1.5 0.1 1.9 3zM1063.8 187.3l1.5 0.3 0.7-1 0.6-2-0.1-2-3-2-1.2-2.2-0.5 0.2-1.2 2 0 2 0.2 0.9 1.5 0.5 0.8 2.6zM998.4 184.9l0-1-0.5 0.7zM1015.1 186.6l0-2.5-1.3 0.5zM964.9 177.2l0.5-0.6-0.5-0.6-0.4 0.6zM815.9 162.7l0.6-0.5-0.6-0.4-0.3 0.4zM949.7 148l1.4-2.6-1.4-2-1 2 0.6 2.1zM943.6 143.8l0.9-0.5-0.9-0.6-0.1 0.6zM1044 144l1.5 1.1 0.6-1.8-0.2-2.2-0.4-0.3-1.5 1.3-0.2 1.2zM814.4 141.3l0.6-0.2-0.6-2.2-0.7 2.2zM1062.3 128.4l1.6-0.3-0.9-4.4-2.2-0.6-1.5 0.6 0.2 2.2 2 2.2zM802.2 121.5l1.5 1.5 1.5-0.2 1.7-3.5-1.7-1.1-3 0.2-1.2 0.9 1.2 2.2zM934.5 122.9l0.8-1.4-0.8-0.5-0.6 0.5zM949.7 122.3l0.9-0.8-0.9-1-0.3 1zM1085.1 117.6l1.5-1.6 0-1.7-1.5 1.1-0.5 1.7zM809.8 115.4l1.3-0.6-1.3-1.3-1.3 1.3zM803.7 114.8l0.7-2.2-0.7-1-1.5 1zM933 113l1-0.4-1-4.1-0.8 1.8 0.3 2.3zM1080.5 114.5l1.6-1 0-2.8-2-0.4-0.8 2.3zM992.3 110.4l1.5 1 7.6-2.3 4.6 0.2 3 1.2 1.6-0.8 3-0.4 3.1-3.2 3-1.4 1.5 0 3.1 2.4 3-1.3 3 0.5 4.6-0.7 1.4-4.4 3.2-2.4 2.4-13.9-15.2 0-0.7 2.4 0.8 2.3 0.5 0.2 1.5-1.6 1.5-0.7 1.6 0.2 4.6 4.3 0.3 4.6-0.4 0.5-1.5 0.5-1-1-0.5-3-4.6 7.1-2-1.8-0.1-4.6-0.9-2.1-2 2.1-1.1 2.8-4.5 0.1-2.1-0.6-0.6-4.6 0.7-2.4 1.1 0 1 2.4 0 2.3 1.4 2 1.5-0.7 0.8-3.6 3.6-4.7-1.5-2.4-34.5 0-0.3 1.3-2-1.3-4.2 0-0.9 14 0.7 2.3 0.3 0.6 3-1.8 1.6-0.3 1.5 0.9 1.4 2.9 0.1 4.6 1.4 2.2zM999.7 103.5l-0.4-2.3 1.2-2.3-1.4-2.3-0.3-2.3 1.8-2.3 0.5-2.4-2.1-2.3 0.9-1.9 1.7 1.9 0.1 2.3 2.2 2.4 2.1 1.1 1.5-0.1 1.5-3.9 1.6 0.1 2.6 2.8-0.8 2.3-1.8 1-1.6 0.1-7.6 7.4-1.5 0.7zM989.3 109.9l1.5-1.8-1.5-0.7-1.3 0.7zM1086.6 101.7l0.4-0.5-0.4-0.4-1.1 0.4zM917.8 94.4l0.7-0.1 0.4-2.3 3.4-3.5 2-3.6-9.9 0 0.3 1.1 1.6-1 1.1 2.3 0.5 2.3-1.2 2.4 0.8 2.3zM1044 94.7l1.1-0.4-1.1-2.4-1.3 2.4zM1076 89.8l1.4-0.2-1.5 0zM928.4 87.4l1.6-0.1 0.7-2.4-3.1 0 0.8 2.4zM1048.6 86.6l1.8-1.7-2.9 0z" fill="#fbdada" fill-rule="evenodd"/>
<path d="M800.7 372.1l0.7 0-0.7-1-0.6 1zM814.4 372.1l17.3 0-0.6-1-1.5 0-0.6-0.6 0-1.6 2.6-1.6 0.4-1.6 3.7-4.8 1.5 0.2 1.5 0.9 1.5 3.9 1.5 0 1.6-1.9 1.5-0.4 1.5 2.2 1.5-0.3 1.5-1.9 2.5 3.7-0.1 1.6 1.8 3.2 27.4 0 1.8-1.6 0.1-2.2-1.5-1.9-2.1-0.7 0.7-1.6 1.4-0.6 3 0.7 3.2-0.1 0.7 1.6-0.8 1.6 1.5 0.8 1.5-0.1 1.1-0.7 0.5-1.6 1.4-0.9 1.6 3.3 1.5 0.6 1.2-1.4 3-8.1-2.6-4.9 0.4-1.6 2.6-0.8 3 1.1 2-1.9 4.1-1.5 0.7-1.8 2.3-1 4.1 1-1 0.6-0.2 2.7 1.7 0.5 1.8-0.5 0.3-1.7-2.6-3.3 2-1.6 0.8-1.6-0.2-1.7-3.7-1.6-0.1-3.4-1.9-1.6 0.5-0.8 3.1 1.5 3 0.3 3.1 1.4 3-0.5 1.5 0.9 1.6-0.6 3 1.8 1.5-0.4 1.5-1.2 4.6-1.3 7.6-3.3 0.3-1.1-2.9-3.4-0.2-1.6 1-1.7 1.8-1.5 3-0.2 1.6-2.4 1.9-1-5-3.8-1.5-3.9-3 0.5-0.7 0.5 0.4 3.4-1.3 1.7 2.1 1.6-2 1.7 0.4 3.4-0.5 1.5-1.7-1.5 1.4-1.7 0.3-1.7-3-3.3 0.7-1.7-0.3-1.7-1.9-0.5-0.8 0.5-0.7 1.7-2.3 1.7-2.3 3.1-1.5 0.1-1.5 1.2-0.2 2.3 2.3 1.7 0 1.6-0.6 1-1.5 0.7-1.6 2.6-1.5 0.4-3-2-1.6 0-3 1.2-3-0.6-1.6-1.6-0.8-1.7 1.4-1.6 0.1-3.4-1-1.7-2.6-1.7-0.1-1.6 1.5-0.3 3.1 1 0.5-0.7-0.4-1.7-3.2-0.8-1.5-1-2.5 0.1 0.8-3.4-1.3-5.1-3.1-2.9-4.5 1.2-1.6 1.2-1.5-0.3-3-5.6-3.1-1.3-1.5-2.3-1.5-0.2-2.6 1.6-1.2 1.7-0.1 1.7-2.2 2.1-3-1.6-0.8-2.2 0-1.7-1.5-3.5 0.1-1.7-2.4-6.4-7.6 3.1-1.5-0.7-1.5-1.7-1.6-0.5-1.5 0.1-3-1.9-1.6 0.4-1.5-1.3-1.5-0.2-1.5 1.1-1.5 0-1.6-1.7-3 2.7-3 0.2-1.6-2.2-1.5 0.1-1.5-1-1.5 0.2-0.9 1 1.5 3.5 0.2 1.7-0.8 0.9-3.1 0.1-4.5-2.2-4.6 2.6-1.5-1.8-3.1 0.4-1.4 7-1.6 1.4-1.5-2-1.5-0.7-1.6 0.1-1.5-2-1.5 0.2-1.4 3 2.5 3.4-2.2 3.5-0.4 4.3-3.1 1.2-1.5-0.8-1.5-3.1-1.5 0.2-3.1-1.2-1.5 0-2.3 1.1 0.8 0.3 0.8 1.4 0.7 3.6 1.5 0.9 3.1-1.3 3-0.4 1.5 1.2 0.4 1.1-0.3 1.7-1.5 1.7-0.5 1.7 1.6 3.3-1.2 1.3-3-0.6-2.4 1-2.2 4.5-3 2-1.5 3.6-1.6 1.3-3-1.3 0 9.7 1.5-0.7 4.6 0.1 1.5 0.8 3 0 1.5 1.1 1.6 0.3 1.5-0.8 4-3.9-0.4-1.7 0.7-1.6 1.8 1.1 1.5-0.1 1.1 0.6 0.7 3.4 1.6 3.3-0.4 1.6-1.5 1-3-0.7-0.9 1.3 0.7 3.3 1.4 1.7 0.3 1.6-1.5 0.5-3.1-0.9-1.5 0.1-3 1.6-1.6-0.4-2.5 0.7 1 0.3 3 3-0.4 1.6 0.5 0.6 1.5 1 1.5 0.1 1.7 1.5-0.2 0.5-3 2.3-3.1-0.9-1.5 0.5-1.3 2.5 0.5 1.6 2.3 0.7 1.6-0.7 1.5-2.9 3-0.1 0.5-1.8 1.9-1.7 3.7-0.7 1.3 0.7 1.7 3.3-0.4 1.6 1 3.2-0.7 1.6zM820.3 365.7l0.1-2.1 1.6-0.1 0.7 0.6-0.7 2-1.6-0.2zM823.2 362.4l1.3 0-1 0.6zM861 362.4l0.5-0.7 0.5 0.7-0.5 1.4zM829.7 360.8l-2.5-1.6-0.3-1.6 1.1-3.3 3.8 6.5-0.7 1.4zM821.2 357.6l0-1.7 0.8-0.1 0.4 0.1-0.4 1.8zM874.6 357.6l0.1-3.3 2-0.4 0.9 0.4 0.7 1.6-1.6 2.4-1.5 0.2zM850.8 352.7l0.1-2.1 1.5-0.4 1 0.9-2.5 1.7zM873.6 352.7l-0.2-1.6 0.5 0-0.2 1.6zM834.3 349.4l-0.2-1.9 1.6-0.2 1.4 0.5-1.4 2.3zM845.7 346.1l0.6-0.8 0.4 0.8-0.4 0.5zM887 346.1l0.4-1.6 1.5-0.7 3 0.3 0.3 0.4-1.3 1.6-2 1.3-1.5-1zM899.1 346.1l-0.2-1.6 0.6-0.3 4.9 0.3-1.3 1.6-3.6 0.4zM850.2 344.5l-3.9-4.6-1.5-0.3-1-1.7 0.5-1.7 2-0.4 1.5 2.7 3.6 1.1 1 2 2.4 1.3 0.2 1.6-1.1 0.8-3-0.2zM818.5 341.2l-1.4-3.3-1.8-1.7-1.3-3.3 1.2-1.6 2.2-0.4 2.2 3.7 0.9 3.3-1.6 3.6zM870.6 341.2l-1.7-1.6 0.2-0.6 1.5-0.8 1.4 1.4-0.8 1.6-0.6 0.1zM908.1 341.2l-2.5-1.3 0-2 3.1-0.6 2.9 2.3-1.4 1.4-1.5 0.4zM798.9 337.9l1.8-0.4 0.4 0.4-0.4 0.5-1.6 0zM870.5 334.6l-2.9-3.2 0-1.2 0.8-0.6 0.9 0 1.3 1.7 3 1.6-0.2 1.7-1.2 1-1.6-0.8zM932.7 334.6l0.3-1.5 2.5 1.5-1 1.6-1.5-1.2zM902.1 332.9l0.5-0.9 1 0.9-1 1zM881.3 329.6l1.5-0.6 0.7 0.6-0.7 1.1-1.5-1.1zM890.2 329.6l0.2-2.2 1.7 0.5-1.7 3.3zM821.5 327.9l0.5-5.1 0.4 1.8 2.3 3.3-1.2 1.1-1.5 0.3zM893.7 327.9l1.3-1.8 0.8 1.8-0.8 0.7zM842.8 326.3l-0.1-3.4 0.6-0.4 1.5 0.2 2.3 1.9-1.3 1.7-2.5 0.8zM856.2 326.3l-0.9-1.7 0.6-1.7 2.6-2 1.5-0.2 0.2 0.5-1.8 1.7 0.6 3.4-0.5 1.4-1.6-0.2zM806 324.6l0.9-1.7 1.4-0.8 0.7 0.8 0.1 1.7-0.8 0.7-1.5-0.2zM902.2 324.6l0.4-1.5 1 1.5-1 0.3zM830.1 321.2l0.5-1.7 0.5-0.3 0.7 0.3 0 1.7-0.7 0.9zM881.2 321.2l-0.6-1.7 0.6-1.6 1.6-0.9 0.4 0.9 0.6 1.6-1 2.9-1.5-1zM845.8 319.5l-0.9-1.6-0.1-3.7-4.5-1.4 3-4.4 1.5-0.4 3 0.6 0.8 0.8 0.7 1.7-0.8 3.4 0.6 5-1.3 1.3-1.5-0.5zM899 317.9l0.5-1.6 1 1.6-1 0.3zM806.7 316.2l1.6-1.4 0.6 1.4-0.6 1.2-1.5-1.2zM877.8 312.8l0.4-0.5 1.5 0.5-1.5 0.3zM822.2 311.1l-1.3-1.7 0.4-1.7 0.7-0.5 3 1.4 2.2 2.5-0.7 1.4-3 0zM829.8 304.3l1.3-1.1 1.2 1.1-1.2 0.6zM878 304.3l1.8-1.2 0.9 1.2-0.9 0.7-1.6-0.2zM836.4 300.8l0.2-1.7 0.6-0.6 1.5-0.6 1.7 1.2 0.8 1.7-1 1-3-0.1zM832.9 293.9l1.2-1 1.6 0.6 0 0.8-1.6 1zM828.7 292.2l0.9-0.9 1 0.9-1 0.6zM898 370.6l1.5 1.1 1.6-0.9-1-1.9-1.3 0-0.9 1.6zM902.6 372.1l1.5 0-1.5-0.5-0.7 0.5zM908.7 372.1l5.9 0-1.4-9.1-2.2 5.9-2.6 1.6-0.6 1.6zM948.2 371.3l1 0.8 5.7 0-3.7-0.5-1.4-2.7-1.5-1.6 1.4-1.5 1.5 0 1.6 0.8 1.5-3.8 1.5 0 3.1-1.7 1.5-0.1 0.8-1.8-0.8-1.2-1.5-0.3-1.6 1.4-1.5 0.2-2.4 3.1-0.6 0.3-3.1-4.6-3 1.6-4.6 0.6-0.7 2.1 0.7 1.6 3.1-0.9 0.6 1 0 1.6 2.1 1.6-0.2 3.2zM983.2 372.1l12.4 0-0.2-2.6-2.2-0.6-2.4-3.2-6.1-0.2-0.4 0.2-0.5 4.8-1.6 1.6zM1003 372.1l0.7 0-0.7-0.8-1.2 0.8zM1034.9 372.1l3.4 0-0.8-1.6-0.2-4.8-0.9-1.4-1.5 1.3-0.5 1.7 0.3 1.6-0.6 3.2zM1056.2 372.1l8.5 0 0.7-1.6-2.1-1.6-1-2.9-1.5 2.4-4.3 0.5-0.3 3.2zM1089.7 372.1l4.5 0 0-10.8-1.1 1.1-3.7 9.7zM1021.2 368.9l0-1.6 0 1.6zM787 360.8l2-1.6-0.4-1.6-1.6-1.2 0 4.5zM914.7 357.3l1.7-1.4-1.7-2.3-0.3 2.3zM958.9 357.4l1.5-0.7 0.4-2.4-1.9 0.1-0.8 1.5zM975.6 356.8l3 0.7 1.2-1.6 0.2-1.6-1.1-1.6 1.1-1.6 1.7-0.5 0.8 0.5-0.2 1.6-0.6 1.2-1.2 0.4 2.7 1.8 1.5-0.5 0.8-2.9 1.4-1.6 3.9-2.1 1.5 0.1 1.5 1.7 1.6 0.7 1.5 0 4.5-1.8 3.1 0.4 1.5-0.5-1-1.8-1.4-4.9 0.4-1.7 0.5-1 2.4-0.6 1.3-3.4 0.8-0.8 1.6 0 1.5 2.6 1.5-2.7 1.5-0.5 3.1 1.9 1.3-0.5-0.3-3.3 1.5-1.6 0-1.7-0.3-1.7-2.3-1.6 3.1-4.4 1.1 1 0.4 2.4 1.6 0.4 1.5-0.6 1.1-2.2 0-1.7 2-3.3 0.4-3.4-2.1-1.7-1.4-2.4-6.1 0.4-1.5 0.5-3.1-0.5-2.4-1.4 1.2-3.4 1.2-1.2 1.6 0.2 1.5 1.4 1.5 0.6 1.5-1.5 3.1-0.4 0.3-0.8-1.7-1.7-2.5 0-1.5-1.8 2.3-4 0.8-2.9-1.3-1.7-0.2-1.7 0.7-0.5 1.5 1.4 1.6 0 1.2 0.8-0.7 3.5-1.3 1.7-0.1 1.7 0.9 1.4 4.5-2.5 1.5-2.3-0.2-1.8-2.2-3.4 0.9-2.8 1.5 0.1 3 4.4 0.1 1.7-1.4 1.8-0.4 1.7-1.8 1.7-1.3 5.2 1.8 2.2 3.1 5.7 3 2.9 1.1-2.3 2-0.7 0.8 0.7-0.1 1.7 0.8 0.7 4.5 1.2 1.6-0.3 1.5-1.6 1.5-3.4 1.5-0.1 2.1-1.6 0.2-1.7-1.2-5.1 2-1.6 0.1-1.9-2.3-3.4-0.4-1.8 0.8-3.4 1.8-2.5 1.5-0.6 1.5 1.9 3.1-2.2 3 1.2 4.4-3.1 2.4 0-0.3-3.5 0.7-1.7-0.4-1.8-1.2-1.7-2.6-1.2-1.5-1.9-1.5 1.3-1.5 3.3-3.1 1.2-1.5 2-2.5-3-0.6-1.7 0.1-2.5-1.5-2.6-1.6-0.2-1.5 1.9-0.8-2-4-1.7-0.6-1.8 3.4-3.6 0.5-1.8-1.2-1.8-0.3-3.4-2.9-2-0.3-1.8 1.6-2.7 1.6-0.1 3 1 1.5-0.3 4.6-1.6 0.9-1.8-0.9-6.1-1.5-0.9-3.1 1.9-1.5-1.4 0-4.5 3.1 1 0.7-2.9-0.7-1-3.1 0.5-2.3-1.4 0.7-3.7-0.6-3.8 0.7-1.3 1.5-0.4 3.1 2.6 1.9-0.9 0.2-1.9-0.8-1.9-0.4-5.7 1.1-7.7 1-1.8 4.6 1.1 6 6.2 3.1-0.1 4.5 2.2 3.1-0.3 1.5 0.7 3.1-0.2 4.5-1.7 4.6 5 3 1.1 0-7.1-1.7 0.7-0.4-3.9 0.6-1.8 1.5-1.3-0.5-2.7 0.5-0.2 0-27-1.5 0.6-1.5-0.6-3.1-3.1-1.2 2.6-0.3 1.9-1.5 0.4-1.5-1.3-3.1-0.1-0.8-0.9-0.7-4.1 3.1-5.3 3-2.9 0.7-6.3 0.8-1.1 1.9-0.9 3.7-6.4 0.7-2.1 1.3-1.5 0-4.6-3 0.2-1.5 0.7-1.1-1.2-2-0.6-3 1-3.1 2.3-1.5-1.1-1.5-2.6-1.5 0.4-1.6 4.1-1.5-0.3-1.5 0.5-1.5 1.3-1.5-1.4-1.6-0.2-2.7 5.1-0.1 4.3-1.7 3.5-1.5-0.4-3.1 2.8-1.9 0.3 0.4 1.2 1.5-0.1 0.2 3.1-0.7 4.1-2.5 4.5-0.8 3.7-1 2-0.6 6-0.7 1-1.5-0.8-1.7-2.2-1.9 2 0.9 4-1.9 1.2-2.2-1.2-0.3-4-0.5-1.1-1.5-1.9-0.8 1-1 2 1.8 2-1.2 4 2 7.9-0.8 0.9-2.7 1-0.4 2 0.9 13.5 0.7 1.9-2.5 5.7 0.6 1.9-1.2 2-1.5-3.3-1.5-0.2-1.5 1.5 0 4 1.5 1.2 1.5-0.3 0.5 0.7-2.2 5.6-1.3 1.7-1.9 0.2-0.3 1.8 1.5 1.9-0.9 0.9-3 0.8-3 1.7-1.6 4.2-3-0.1-0.8 1.7 1.1 1.8-0.3 1.8-3.2 0-1.4-1.3-1.5-2.8-1.5-0.2-2.4 2.5 0 1.8-1.4 5.4 0.1 3.6-2.2 3.6 0.7 3.5-0.2 1.8 2 7.1-0.3 3.5 0.6 1.2 1.6-0.3 0.6 0.8-0.6 2.2-3.1-0.2-1.5 1.5-1.5-0.1-1.5-1.3-3.1 1.9-4.5 0.1-0.5-0.6 0.2-1.7 1.1-3.5 0.7-0.5 0.3-1.3-0.3-0.5-1.5 1.7-3.1 0.1-3 2.8-4.6 2.2-4.6 1-1.5 5.2-1.5 1.7-4.6 0.8-1.5-1.3-1.5-0.5-1.5 1.2-3.1 0.3-4.8 2.7-0.5 3.5-0.7 1-4.6-1.4-3.2 0.4-1.4 1.6 0 1.7 3.1-1.6 1.5 1.6 0.5 1.8-1.6 3.4 1.1 1.3 1.5-1 1.5-0.2 3.1 2 1.5-0.5 1.5 0.4 1.5 1.3-0.4 1.8-1.5 1.7 0.4 1.7 3.2 1.6 0.4 1.7-0.4 5 2 3.4 0 1.6 0.9 1 1.5-1.8 1.5-0.6 6.1 5.8 1.7 0.6 0.8 1.7-1.5 1.6-0.5 3.3-2 2.7-1.1 0.6-0.3 1.6-1.3 1.7 0.6 4.8zM993.7 341.2l0.1-2.2 1.6-0.3 1.1 0.9-0.2 1.6-0.9 0.6-1.6-0.3zM1001.1 337.9l-0.3-5 2.2-1 2.1 1 0.8 1.7-1.7 3.3-1.2 0.8-1.6-0.2zM977.8 329.6l-1.3-1.7-0.4-1.6 0.4-1.7 0.6-0.7 3-1 1.5-1.7-0.7-1.7-3.8-5.3-1.5 2.4-3.1-0.4 0-1.7 1.2-1.7-1.2-2.1-1.5-0.3-1.5 0.8-1.5-1.8 1.5-0.5 3 0.3 1.6-0.9 4.5 0.9 1.5 3.9 3.1-2.3 1.5-0.3 0.9-1.1 0.6-4.7 1.8-0.4 2.8 1.2 3 4.1 0.8 1.5-0.2 1.7 3.9 5.1-2.9 0.6-1.6 2.7-1.5 1.1-4.5-1-3.1 0.2-1.5-1-1 0.7 0.5 1.7-1.9 1.7-0.7 1.3-0.1 2-1.4 3.3zM1010.4 329.6l-0.4-1.7 0.6-0.9 1.5 0.2 0 2.9-1.5-0.3zM1001.2 324.6l1.8-2.5 0.7 2.5-0.7 1.2-1.6-1zM1007.2 317.9l-0.2-1.7 0.5-1.3 0.6 1.3-0.6 1.8zM999.9 314.5l1.5-1 0.5 1-0.5 0.7-1.5-0.7zM1005.3 312.8l-0.2-1.7 0.9-0.8 0.9 0.8 0.8 1.7-0.2 0.9-1.5-0.1zM979.7 307.7l0.7-1.7 1.3-1 0.8 1 0.2 1.7-1 1.3-1.6-0.6zM992.3 304.3l-0.1-1.7 1.6-0.9 1.6 0.3 0.4 0.6-0.4 1.3-1.6 0.6-1.5-0.2zM1041.3 304.3l1.2-1.6 0.6 1.6-0.6 0.5zM1002.9 300.8l1.6-0.4 0 0.6-1.5 0.2zM986 295.7l0.2-0.9 0.7 0.9-0.7 0.2zM1043.6 295.7l-0.3-3.5 0.7-1.2 1.5-0.8 1.6 0.2 2 3.5-0.5 0.7-3.1 0.2-1.5 2.4zM1037.7 292.2l0.3-1.7 0.7 1.7-0.8 0.4zM1033.2 285.2l-0.6-1.7 0.8-1 1.3 1 0.5 1.7-1.8 0.3zM1057.4 285.2l0.3-1.6 0.4 1.6-0.4 0.6zM1037.5 281.7l0.4-2.1 0.5 0.4-0.5 2.1zM1051 278.2l0.6-0.6 1.6 0.6-1.6 1.7zM1030.2 276.5l0.1-1.8-1.5-1.5-3-0.4-0.6-1.7 0.4-3.5-1.9-5.4 2.1-1 1.5 1.1 1.9-0.1 1.1 0.6 1.2 3 0.5 1.8-1.3 3.5 1.6 1.8-0.4 1.6-1.5 0.2 1.3 1.8-1.4 0.5zM1015.8 267.6l0-1.8 0.9-1.1 1.2 2.9-1.2 0.9zM1039.2 264l-1.2-3.6 1.5-1.1 1.5 1 1.5 0.1 0.4 1.8-0.8 1.8-1.1 0.9-1.5-0.5zM1034.8 251.4l0.1-2.4 1.5-0.7 1.8 1.2 0.2 1.9-0.5 0.4-1.5 0.6-1.5-0.9zM1036.9 242.2l-0.5-0.4 0-1.7 1.5-0.1 0.8 0.3-0.8 2zM1074.3 206.3l0.1-2.5 1.6-0.6 1.2 1.1-0.1 2-1.1 0.5-1.6-0.3zM1055.9 204.3l0.4-1.9-0.1 3.5zM1082.7 204.3l-0.6-0.2-0.4-1.7 0.3-2 1.6-0.4 1.2 2.4-1.2 2.3zM1069.3 202.4l0.6-1.8 1.5-0.2 1 2-1 0.8-1.5-0.1zM1049.8 200.4l1.8-2.5 1.8 2.5-0.2 0.9-1.6 0.9-1.5-1.2zM1058.1 192.6l-1.9-3-1.5-0.1-1-0.9-0.6-2 3.1-1.1 1.5 0.1 3.1 1.8 0.6 1.2-0.3 2-0.6 2-1.3 1.2zM1084.9 190.6l0.2-2.1 1.1 2.1-1.1 0.6zM1063.1 186.6l-0.8-2.6-1.5-0.5-0.2-0.9 0-2 1.2-2 0.5-0.2 1.2 2.2 3 2 0.1 2-0.6 2-0.7 1-1.5-0.3zM1078.7 162.2l0.3-0.9 0 1.7zM1079 156l-1.5-1.4-1.9-0.7-0.9-2.1 1.3-1.2 1.5 0.8 3.1-1.8 1 2.2 0.3 4.2-1.4 1.9-1.5-1.9zM794.6 354.4l0.5-0.1-0.5-2.1-1.6 0.5 1.5 1.6zM949.7 353.6l1.3-2.5-0.2-1.7-1.1-1.3-1.1 1.3-0.5 1.7 1 1.6zM949.7 344.7l1.8-0.2 0-1.6-0.6 0-1.3 1.6zM945.2 342.8l2.1-1.6 2.4-3.5 0.7-1.5-0.2-1.6-0.5-0.7-1.5-0.2-3.9 7.5zM969.5 340l1.5 0 1.3-2.1-1.3-1.3-1.5 0.3-0.5 1 0.2 1.7zM1042.5 338.3l1.5 0.8 1.3-1.2-1.3-1.5-3-1.1 0 1.5 1.3 1.1zM1034.9 335.6l0.8-1-0.8-0.8-0.5 0.8zM963.4 333l-0.9-0.1zM1069.9 328.8l1.5 0 1.5-0.9-0.5-3.3 2.1-3.4 0.5-1.7-0.6-0.9-3-1.4-1.5 1.6-1.5 4.1 0.5 5zM1034.9 327.4l0.6-1.1-0.6-0.7-0.3 0.7zM1060.8 325.2l0.6-0.6-0.6-0.6-0.3 0.6zM1037.9 323l3.1 1.1 1.6-1.2-1.6-1.3-1.5 0.1-1.6 1.2zM1082.1 323.7l1.3-0.8-1.3-2.2-1.7 0.5 0.5 1.7zM1057.7 319.4l1.1-1.5-1.1-0.8-0.3 0.8zM930 309.6l1.5-0.3-1.7 0.1zM925.4 308l1.5-0.4-2.4 0.1zM1089.7 307.8l1.4-0.1-1.1-1.7-1.9-0.7-0.3 0.7 1.8 1.7zM788.5 306.5l3 0.8 1.1-1.3 0.1-1.7-2.7-0.5-1.5 1.4-1.5 0.2 0 1.1zM936 304.4l1-0.1-1 0zM1068.4 305.3l7.6-1 3 0.8 0.6-0.8-0.7-1.7 1.7-1.8-0.6-3.4 0.3-1.7-0.9-1.8-5-1.1-4.6 2.9-0.1 1.7-1.3 1.7-1.4 3.5 0.4 1.7zM1072.7 299.1l-0.4-1.7 0.6-0.4 1.5 1.9-1.5 0.6zM942.1 302.7l0-1.9-0.3 1.8zM948.2 301.2l0.7-0.4 0.8-1.7-1.5-1.5-1.1 1.5 0.1 1.7zM794.6 299.3l1.1-0.2 0.7-1.7-1.9 0-0.1 1.7zM939.1 298.9l0.5-1.5-0.5-0.5-1 0.5zM884.3 294l0-2.1 0 2zM1066.8 295.4l0.8-1.5-0.8-0.5-0.6 0.5zM902.6 292.6l1.5 0.1 0.5-2.2-0.5-0.6-1.3 0.6-0.3 1.7zM1091.2 292.8l2.1-0.6-0.4-3.5 1.3-0.9 0-1.7-2.9 0.9-1.6 1.7 0.8 3.5zM917.8 289.5l0.6-0.8-0.6-0.7-0.7 0.7zM1071.4 288.8l0.6-1.8-0.6-1-0.4 1 0.4 1.7zM936 287.1l1.6-1.5 0-0.9-1.6-0.5-1 1 0.8 1.8zM809.8 286.6l1.6-1.4 0.6-1.7-1.3-3.5-2.4-0.4-0.2 2.1 1 1.8 0.3 1.7zM884.3 283.9l1.5-0.3 0.5-1.9 1.1-1.2 1.5-0.1 3 1.8 3.1-1.1 1.5 0 2-1.1 1-1.8 0-2.6 1.6-1 0.5-3.5-2.1-0.8-1.5 2.8-1.5 0-0.7-2-2.4-1.1-3 1.9-6.1-2.1-1.5-1.4-1.5-0.5-4.6 0.2-0.7-0.5-0.4-1.8 1.6-3.6-0.1-1.8-0.4-0.2-5.9 9.2-0.3 1.7 1.3 1.8-0.9 5.3 1.3 2.3 1.5 1.1 1.5-0.6 1.1-2.8 1.9 0.4 4.6-1.4 1.7 1 0.8 1.8-0.1 1.7-1.2 1.8zM891.3 276.5l0.3-1.8 1 0-0.1 1.8-0.6 0.2zM901.1 282.5l0.5-0.8-0.5-3.3-0.5 3.3zM822 278.9l2.4-0.7 0.6-1.8-3 0.8-1 1zM1094.2 273.8l0-3.2-0.4 2.3zM808.3 270.4l0.4-1-0.4-0.7-0.7 0.7zM826.5 270.8l1.5-0.6 4.6-4.6 1.5-0.8 1 2.8 2.1 1.2 3-0.8 4.6 1 1.5-0.4 4.6-4.6-1.1-3.6-0.5-7.7-1.5-1-4.5-0.5-3.1-1.2-1.5 0.1-4.6-1.1-4.5 1.7-1.4 2.5 0.8 3.6-3.5 9 0.1 3.6zM836.7 262.2l-2.5-3.6-0.6-1.8 0.2-1.8 3.4-1.8 1.5 0 1.5 1 4.6 1.4 1 1.2-3 3.6-1.1 0.8-4.5 1.3zM1069.9 265.9l0.1-1.9-1.8 0 1.6 1.8zM796.1 264.3l1.5 1.3 3.1-0.4 6.2-4.8 0.6-3.6-1.5-3.6 0.6-1.8-1.4-6.6-4.5-5.3-1.6-0.4-0.9 1.2-1.3 9.2-3.8 5.6-2.5 1.7 2.5 2.5 2.1 1.1 0.7 3.6zM799.4 258.6l-0.6-7.2 0.3-1.1 1.6-1.5 2.2 2.6-1.9 3.6-0.3 4.7zM914.7 262.5l3.1-2.9 3 2 1.5 0.1 4.6-2.1 3.9-6.4-0.1-1.8-1.1-1.9 0.5-1.8 1.2-1.8-1.3-3.6-3.1-2-1.5 0-3.1 1.3-3.2 2.4-1.2 1.9-0.1 4-1.5 1-1.5-3.2 0.8-3.7-0.9-1.1-3-2.1-1.5-0.1-1.5 1.5-1.2 3.7-1.8 1.8 0.4 1.8-0.5 0.7-3 0.9-1.3 2.1 1.3 1.4 1.5 0.2 4.6-1.8 3 1.1 1.3 0.9-0.9 1.8 0.4 1.8 2.1 3.6zM913.5 255l0.7-1.8 2.1-0.5 0 0.8-1.6 2.1zM925.1 245.9l0.3-1 1.5 0.4 0 1-1.5-0.1zM858.5 257.5l1.5 0.9 1.5-1.4-0.9-2-0.6-0.4-1.1 0.4-0.9 1.8zM890.4 253.9l1.5 0.3 1.2-1 0-1.8-1.2-1.6-1.5-0.2-0.9 1.8-0.1 1.8zM890.4 249.1l0.3-1.4-1.4 0zM904.1 243.6l1.5 0 1.2-1.4-2.7-1.2-0.7 1.2zM989.3 243.1l5.3-2.8 1.5-1.8 0.5-1.9-0.2-1.8-1-1.2-4.2-2.6 2.1-5.6-1-2.2-4.5 0.5-3.1 4.3-1.5 0.2-1.5-0.9-0.7 1.9 0.2 5.6-2.7 1.8 1 1.9 0.6 0.3 1.6-1.4 4.9 2.9 1.4 1.9zM989 232.9l1.8-1.5 0.5 1.5-0.5 0.4-1.5-0.2zM998.4 241.5l0.5-1.2-0.5-0.4-0.4 0.4zM1072.9 239l1.9-2.4 0.6-1.8 0-1.9-2.5-2.9-1.2 1-1.3 3.8 0.4 1.8 1.3 1.9zM1054.7 233.2l0-2.6-0.5 0.4 0.2 1.9zM968 231.3l1.5 0.7 1.5-0.2 3.1-2.3 1.5 0.2 0.5-0.5-0.5-0.8-1.5 0-0.4-1.1-1.2-0.6-1.5-0.4-1.5 0.5-3.1 2.4 0.9 1.8zM1003 230.3l1.5 0.1 4.5-1.5 4.6 1.4 3.1-2.6 1.5-2.3-3.1-2-3 1.1-1.6-1 1.6-7.7 1.5 2.9 1.5 0.1 1.6-1.2 1.1-7.5-1.1-2.4-1.9-1.4-0.4-3.9-3.7-3.9-0.6-2 0.4-2-0.9-1.9-2.3-2-0.3-2 2-1.6 1.6 0 1.5 3.8 3 1.4 3.1 3.2 1.5 0 1.6-0.9 1.4-4.3 1.6 0.5 1.9-2.1-0.4-1.4-3.1-0.2-1.5-2.1-0.6-2.3-5.5-3.4-1.5 1.4 0.6 2-0.6 1.8-3-1.7-0.4-2.1-1.2-1.3-4.5 0-1.5 0.9-1.6-0.5 0-3.1 0.8-2.1-0.2-4.1-0.5-2-3.1-2.4-6.1-0.4-3 0.6-6.1-1.1-6.1 0.1-3 4.4-3.1-0.8-1.5 2.9-3 0.4-4.6-3.5-1.5-0.2-1.5 0.6-0.8-0.6-0.4-2.1-1.9-1.4-1.6-2.7-0.7-2.1 0.3-4.1-1-1.6-1.6-0.8-0.2-4 0.2-0.4 1.6 2.7 3 2.4 1.5-0.9 4.1-8 1.7-2.1 0.4-2.2-1.6-2.1-1.5 1.1-1.1-3.3 0.4-2.1-1.1-2.2-3.6-4.4-0.8-4.4-2-2.2 2.1-1.2 1.5 0.6 0.7 0.6 0.3 4.4 0.5 0.7 1.6 0 3-4.7 3 0.8 0.8-1.2 0.2-2.2-1-0.8-1.5 0.1-1.5 2.5-1.5-1.3-0.7-2.7 0.1-4.5-0.9-1.3-3.1 0.7-3-0.6-1.6 1.9-1.5 0.3-1.5-4.5-2.2-1-0.2-2.3 3.3-2.3 2.1-4 3.1 1.3 1.5-1.1 3.1 1 1.5-1 1.1 3.8 1.9 2.6 1.5 0.2 1.1-0.5 1.1-2.3-0.8-2.3 0.8-9.2-0.3-7.1-36.1 0-0.7 2.4-1.6 0.1-0.8-2.5-3.3 0-2 3.6-3.4 3.5-0.4 2.3-0.7 0.1-1.1-2.4 1.2-2.4-1.6-4.6-1.6 1-0.3-1.1-3.2 0-1 2.7-1.5 1.2-1.6 0-1.2-1.5 1.3-2.4-42.4 0 0.2 2.4-0.4 0.8-1.6 0.3-1.8 3.6 3.4 0.9 3 2.9 1.8 5.4 4.3 7.5 1.5 0.8 1.5-0.7 0.7-0.7 0-2.3 0.8-0.6 3.1 3.6 3 0.2 2.1 1.3 1.1 2.3-0.6 4.5-0.5 2.2-1.7 2.2 2.7 1.7 3 0.9 0.7 1.8-2.5 2.2-0.7 2.2 1 1 3 0.3 1.5 3.6 3.9 1.6 1.1 4.3-1.6 2.2 0.2 2.1 2.5 1.7 4 10.9-0.3 4.2-0.6 0.8-1.5 0.3-3.1-0.6-3 1.2-2-1.7-0.1-2.1 2.1-2.1 0.8-2-0.1-2.1-0.7-1.3-1.6-0.1-1.5-1.8-1.5 0.1-1.1 1-0.4 3-1.2 1.2-6.4 3.3-1.5 3.9-2.5 1.1 2.5 2.4 1.5-0.5 1.5-3.3 1.5 1.4 0 2.2-3 4.2-1.5 1.7-4.6-1.6-0.9 1.7 0.9 2.5 2.3-0.5 2.3-1.6 1.5 0.8 3-1.1 1.5 0.2 1.6 1.2 2.2 0.5 2.1 2.1 0.7 2-0.3 2 0.9 2-2.6 2.9-1.5-1.4-1.5 1.1-0.5 1.4 0.2 2 0.9 2 0 5.9 1.7 5.9-0.5 1.9-1.8 0.7-1.6-1.1-1.1 0.4-0.2 2-1.3 1.9 0.7 1.9 3.5 1.1 0.8 0.9 1.3 3.8 2.4 4.3 2.4-6.2-0.2-3.9 1.7-3.8-0.4-3.9 1.1-3.8 1.1 1.8 1.9 0.9 3.1-1.6 1.5 0.7 3-5 3.1 0.9 4.5-1 1.6 4.3 1.5 0.9 0.5-2-0.9-4 1.9-0.7 3 2.6 1.6 0.4 1.6 3.6 1.4-1.3 3.5-6.5 1.1-0.7 1.5 2.8 1.5-0.4 0.4-1.7 1.3-2 1.4-2 1.5-1 3 2.6 3.1-0.2 4.5 2.7 3.1-1.1 4.5 1.5 1.1-0.5 0.5-2.4 1.5-1.1 0.8 1.5-0.3 2 5.6 5.3 2.6 0.6 1.9 2.6 4.6 0.1 3 2.7 1.8 0.4 1.3 1.1 1.4 2.8 2.2 1.9 1.3 3.9 2.7 0.7 1.5 1.4 1.4 1.7 1.6 3.4 3.1 0.2 0.2 2.1-0.6 1.9 2.4 1.9 1 1.8 1.5-0.4 0.3 0.5zM1005.8 212.1l-0.3-2 0.5-3.8 1.9 3.8-1.9 2zM990.2 210.1l-2.4-5.1-1.6 0.1-1.7-0.8-0.4-3.9-0.8-1.9-2.5-2-0.7-2.2-3-0.8-3-2.5-1.6-0.1-4.5 2-3.1-0.3-0.6-2 0.2-2 2-5.2 1.5-0.9 2 0.1 2.5-4.8 1.6-1.7 1.5 0.8 0.7-6.5 0.8-2.2 6.1-1.7 6.1 0.9 3-0.4 1.5 0.7 4.4 0.7 0.5 2-0.6 2.1 0.2 4.1-1.4 1.1-3.1-1-1 1.9 1.5 4-0.5 2-3 1.2-2 2.8-0.5 2 0.7 2 1.8 0.8 3-1.7 1.6 0.8 3 0.3 1.8 1.7 0.5 2-0.4 2-1.1 1.9-3.4 2-2 5.8-3 2.3zM895.5 196.5l-0.5-2 2.1-1.9-2.3-4-0.9-6 0.7-2-0.2-2 0.6-1.4 1.5-0.5 1.5 0.8 0.7 1.1 0.3 2-1.6 4 2.2 2 0.1 2 0.9 2 0.5 0.2 1.5-1.1 1.5 0.1 1.3 2.8 0.3 1.9-1.6-0.7-4.6 1.1-2.2 1.6-0.8 1.8zM1004.2 192.6l0.5 0-0.2 0.8zM1017.9 190.6l0.3-0.6 0.5 0.6-0.5 0.4zM909.6 188.6l-2.5-1.7-3.5-4.3-1-3.7-1.5-0.2-1.9-4.2 0-2 3.4-2 0-2.7 1.5 0 4.6-7 0.3-2.8 4.1-6.2-0.6-2.2 0.1-2.1 0.6-1.1 3.1 0.5 3-3.3 3 4 1.6 0.3 0.9-0.4 0.3-2.1-1.2-3.6-0.8-0.7 2.3-1.2 1.5-2.2 1.5 0.1 0.6-1 0.1-2.1-0.7-1.2-1.5 1.8-0.8-0.6 0.8-4.4-0.5-2.2 2-0.7 1.4 0.7 1.7 2.2 0.4 4.4 1.1 3.2 3 2.3 0.7 3.1-0.7 2-1.5 0.5-1.5 3.9-1.4 2.1 0.4 2.1 1.3 2.1 2.8 2 0.7 2.1-2.3 2.3-1.5 0.5-1.5-0.1-1.5 0.9-2.1 6.7 0.6 2.1-0.1 2.3-1.5 1.5-2.1-3.8-0.9-0.4-1.6 3.2-1.7 1.3-2.1 4-0.2 2 0.8 2-0.2 2-2.6 2.6-6.1 0.2zM930.3 186.6l-1.7-2-0.2-2.9 1.6-1 1.5 1.3 3-0.3 0.9 0.9 0.6 2.2-1.5 2-3 0.4zM997.9 184.6l0.5-0.7 0 1zM1013.8 184.6l1.3-0.5 0 2.5zM940.2 180.6l0.4-3.4 1.5 0.7 0.5 0.7-0.5 1.9-1.5 0.6zM946.3 176.6l0.4-2.1 1.5-2.1 0-4 1.5-0.6 0.6 0.6 1.3 4.1-0.4 1.2-1.8 2.9-1.2 0.6-1.5-0.1zM964.5 176.6l0.4-0.6 0.5 0.6-0.5 0.6zM932.9 174.5l0.1-3.3 4.6-5 0.1 2.2-1.7 4.8-1.5 1.9-1.5-0.4zM942.6 160.1l-0.6-2.1 0.7-2 0.9-1.1 1.1 1.1 0.1 2-1.2 3.6zM905.4 151.8l1-4.3-0.4-4.2 1.1-1.9 1.6 0.7 0.2 5.4-1.8 3.5-1.5 1.1zM949.3 147.5l-0.6-2.1 1-2 1.4 2-1.4 2.6zM943.5 143.3l0.1-0.6 0.9 0.6-0.9 0.5zM908.6 139l-1.9-6.5 0.4-0.5 1.6 0.5 1.5-3.1 1.5-0.4 1.4 1.3-1.1 2.2 0.4 2.2 0.8 1.9 0.9-1.9-0.8-4.4 1.8-2.2 0.3-2.2-2.3-2.2-0.2-2.2 1.8-4.8 4.6-0.2 3 0.9 1.6 1.1 1.3 3 0.2 2.2-1.5 2.6-4.6-3.1-1.5 0-0.5 0.5 0 2.2 2 3.5 3-1.1 0.6 2-0.6 2.2-1.5 0.1-1.5-1.9-1.5 0.9-1.2 3.1 0.1 2.1 1 2.2-1.4 1.2-3.1-0.8-3 1.4-1.5-0.7zM899 128.1l0.5-1.7 1.6 0.3 0 2.1-1.6 1.1zM933.9 121.5l0.6-0.5 0.8 0.5-0.8 1.4zM949.4 121.5l0.3-1 0.9 1-0.9 0.8zM932.5 112.6l-0.3-2.3 0.8-1.8 1 4.1-1 0.4zM923.8 103.5l-0.9-2.3-0.1-2.3 1.1-1 1.5 0.5 0.2 0.5 0.3 4.6-0.5 1.3-1.5-0.9zM882.7 101.2l0.1-1.3 1.5-2.2 0.5 1.2 0.3 2.3-0.8 1.6-1.5-1.2zM939.7 98.9l2.4-1.4 1.1 1.4-1.1 2.2-1.5-1.6zM888.7 94.3l1.3 0-1.1 0.3zM890.3 92l0.1 1zM1085.1 229.9l0.4-0.7-0.4-1.4-0.5 1.4zM1060.8 225.5l0-2.3-1.2 0.3 1 1.9zM901.1 220.4l1.5 0.3 1.2-1 0.3-2.4-1.5-0.3-1.5 0.7-0.5 2zM850.9 216.9l0.3-1-0.3-0.4-0.9 0.4zM928.4 215.9l1.6 0-0.2-5.8-1.2-1.9-1.7-1-2.1 4.9 2.1 3.7 1.4 0.1zM872.2 214.9l1.9-0.9-0.3-1.9-1.8 1.9zM822 212.4l1.5-0.7 1-1.6-1-0.8-1.5-0.1-1.3 0.9 0.5 2zM878.2 209.1l1.6-5.6 3.1-3.1 0.7-7.8-0.8-0.5-1.5 0.9-3.1-1.4-1-1-0.5-2.3-1.5 1.9-0.2 2.4-1.3 1.6-1.5-1.9-1.6-0.7-1.5 2.3-3 1.4-3.1-1.5-0.7-1.2-0.5-4-4.1 0-0.7 2 1.5 3.6 1.5 1.1 1.5 0 0.7 1.2 0 3.9 2.4 4.4 1.5-0.7 1.5 0.7 1.2 1.5 0.8 0 2.6-1.4 1.5-3 1.5-1.1 2.2 3.5 0.1 3.9zM920.8 207l0.5-0.7-0.5-2-1.5 2zM936 202.8l1.4-0.4-1.4-0.5-0.1 0.5zM858.5 201.1l0.9-0.7-0.9-0.7-1.2 0.7zM787.4 196.5l1-2-1.4-1.3 0 3.7zM790 196.7l0.5-0.2-0.5-1.4-0.3 1.4zM863 188.3l0.7-1.7-0.7-0.5-0.4 0.5zM869.1 178.8l1.5 0.2 0.6-0.4-2.2 0zM873.7 179l0.8-0.4-0.8-0.9-1 0.9zM869.1 164.3l1.5 0.3 2.8-2.4-0.1-4.2-1.1-3.3-2.1 1.3-1 8.3zM873.7 150.9l0-2.4-0.5 1.1zM879.8 151.2l1.5-1.1 0.8-2.6 1.5-2.1-0.3-2.1-0.5-0.7-2.6 2.8-0.9 2.1-0.1 2.1zM890.4 146.2l0-2.3-0.6 1.5zM787.6 143.3l2.4-5.1 0.6-3.5-0.6-0.9-3 0 0 10.2zM864.6 138.8l1.5-0.9 0.6-1.1 0.9-2.1 0-2.2-1.5-1.3-1.5-0.1-4.6-3 2.7-4.4-0.3-4.4-0.9-1.6-1.5 1.5-0.9 6.7 0.8 2.2-1.5 2.2 3.7 2.2 0.9 1.4 0.7 2.9zM1066.8 138.5l1.6 0.3 0.9-2-0.7-2.1-0.2-0.6-1.6-0.2-0.7 2.9zM837.2 136.2l1.5-0.2 0.6-1.3 0.2-4.4-0.8-1.7-1.5 0.6-0.2 5.5zM1089.7 132.9l3-4.6 1.5-1.2 0-42.2-21 0-0.3 0.6-0.6-0.6-8.3 0-0.3 2.4 0.1 7 0.6 2.3 3 4.6 0.8 4.6 1.2 2.3 3.5 2.5 3.1 1.1 1 0.9 6.6 11.1 0.7 2.2 5.2 6.6zM1084.6 117.1l0.5-1.7 1.5-1.1 0 1.7-1.5 1.6zM1079.3 112.6l0.8-2.3 2 0.4 0 2.8-1.6 1zM1071.4 103.5l-1.3-2.3 1.4-6.9 1.4 6.9-1.5 2.3zM1085.5 101.2l1.1-0.4 0.4 0.4-0.4 0.5zM1075.9 89.6l1.5 0-1.4 0.2zM844.8 131.4l0.3-3.3-0.3-0.5-1 2.7zM829.6 129l1.5-1.3 1.9 0.4 1.1-2.3-1.5-0.9-3-0.2-1.2 1.2 0.2 2.2zM849.3 115.4l1-0.6 0.6-3.1-3.8-5.9-2.3-1.7-1.5 0.4-0.8 1.3-0.2 2.3 1 4.4 3 0.7 2 1.6zM999.9 103.5l1.5-0.7 7.6-7.4 1.6-0.1 1.8-1 0.8-2.3-2.6-2.8-1.6-0.1-1.5 3.9-1.5 0.1-2.1-1.1-2.2-2.4-0.1-2.3-1.7-1.9-0.9 1.9 2.1 2.3-0.5 2.4-1.8 2.3 0.3 2.3 1.4 2.3-1.2 2.3 0.4 2.3zM1027.3 99.7l1.5 1 4.6-7.1 0.5 3 1 1 1.5-0.5 0.4-2.8-0.4-2.6-4.5-4-1.6-0.2-1.5 0.7-1.5 1.6-0.5-0.2-0.8-2.3 0.7-2.4-2.6 0 1.5 2.4-3.6 4.7-0.8 3.6-1.5 0.7-1.4-2-0.1-2.8-1.5-2.2-1.2 2.7 0.6 4.6 2.1 0.6 4.5-0.1 1.1-2.8 2-2.1 0.9 2.1 0.1 4.6zM812.8 89.7l4.7-4.8-4.9 0-0.3 2.4 0.5 2.3zM840.2 85.3l2.2-0.4-2.6 0z" fill="#f7bcbc" fill-rule="evenodd"/>
<path d="M820.4 365.9l1.6 0.2 0.7-2-0.7-0.6-1.6 0.1-0.1 2.1zM823.5 363l1-0.6-1.3 0zM831.1 362.2l0.7-1.4-3.8-6.5-1.1 3.3 0.3 1.6 2.5 1.6zM822 357.7l0.4-1.8-0.4-0.1-0.8 0.1 0 1.7zM875.2 358.5l1.5-0.2 1.6-2.4-0.7-1.6-0.9-0.4-2 0.4-0.1 3.3zM873.7 352.7l0.2-1.6-0.5 0 0.2 1.6zM835.7 350.1l1.4-2.3-1.4-0.5-1.6 0.2 0.2 1.9zM870.6 341.3l0.6-0.1 0.8-1.6-1.4-1.4-1.5 0.8-0.2 0.6 1.7 1.6zM993.8 341.5l1.6 0.3 0.9-0.6 0.2-1.6-1.1-0.9-1.6 0.3-0.1 2.2zM870.6 334.8l1.6 0.8 1.2-1 0.2-1.7-3-1.6-1.3-1.7-0.9 0-0.8 0.6 0 1.2 2.9 3.2zM902.6 333.9l1-1-1-0.9-0.5 0.9zM881.3 329.6l1.5 1.1 0.7-1.1-0.7-0.6-1.5 0.6zM890.4 331.2l1.7-3.3-1.7-0.5-0.2 2.2zM978.6 331.2l1.4-3.3 0.1-2 0.7-1.3 1.9-1.7-0.5-1.7 1-0.7 1.5 1 3.1-0.2 4.5 1 1.5-1.1 1.6-2.7 2.9-0.6-3.9-5.1 0.2-1.7-0.8-1.5-3-4.1-2.8-1.2-1.8 0.4-0.6 4.7-0.9 1.1-1.5 0.3-3.1 2.3-1.5-3.9-4.5-0.9-1.6 0.9-3-0.3-1.5 0.5 1.5 1.8 1.5-0.8 1.5 0.3 1.2 2.1-1.2 1.7 0 1.7 3.1 0.4 1.5-2.4 3.8 5.3 0.7 1.7-1.5 1.7-3 1-0.6 0.7-0.4 1.7 0.4 1.6 1.3 1.7zM1010.6 329.8l1.5 0.3 0-2.9-1.5-0.2-0.6 0.9 0.4 1.7zM822 329.3l1.5-0.3 1.2-1.1-2.3-3.3-0.4-1.8-0.5 5.1zM895 328.6l0.8-0.7-0.8-1.8-1.3 1.8zM831.1 322.1l0.7-0.9 0-1.7-0.7-0.3-0.5 0.3-0.5 1.7zM881.3 321.4l1.5 1 1-2.9-0.6-1.6-0.4-0.9-1.6 0.9-0.6 1.6 0.6 1.7zM806.8 316.2l1.5 1.2 0.6-1.2-0.6-1.4-1.6 1.4zM823.5 312.5l3 0 0.7-1.4-2.2-2.5-3-1.4-0.7 0.5-0.4 1.7 1.3 1.7zM980.1 308.4l1.6 0.6 1-1.3-0.2-1.7-0.8-1-1.3 1-0.7 1.7zM992.3 304.3l1.5 0.2 1.6-0.6 0.4-1.3-0.4-0.6-1.6-0.3-1.6 0.9 0.1 1.7zM1003 301.2l1.5-0.2 0-0.6-1.6 0.4zM986.2 295.9l0.7-0.2-0.7-0.9-0.2 0.9zM834.1 295.3l1.6-1 0-0.8-1.6-0.6-1.2 1zM829.6 292.8l1-0.6-1-0.9-0.9 0.9zM1037.9 292.6l0.8-0.4-0.7-1.7-0.3 1.7zM1033.4 285.5l1.8-0.3-0.5-1.7-1.3-1-0.8 1 0.6 1.7zM1037.9 282.1l0.5-2.1-0.5-0.4-0.4 2.1zM1030.3 277l1.4-0.5-1.3-1.8 1.5-0.2 0.4-1.6-1.6-1.8 1.3-3.5-0.5-1.8-1.2-3-1.1-0.6-1.9 0.1-1.5-1.1-2.1 1 1.9 5.4-0.4 3.5 0.6 1.7 3 0.4 1.5 1.5-0.1 1.8zM1039.5 264.4l1.5 0.5 1.1-0.9 0.8-1.8-0.4-1.8-1.5-0.1-1.5-1-1.5 1.1 1.2 3.6zM837.2 262.5l4.5-1.3 1.1-0.8 3-3.6-1-1.2-4.6-1.4-1.5-1-1.5 0-3.4 1.8-0.2 1.8 0.6 1.8 2.5 3.6zM800.7 259.7l0.3-4.7 1.9-3.6-2.2-2.6-1.6 1.5-0.3 1.1 0.6 7.2zM1037.9 242.3l0.8-2-0.8-0.3-1.5 0.1 0 1.7 0.5 0.4zM1092.7 214.2l1.5-0.9 0-6.3-1.5 1.3-0.6 1.8 0.4 3.9zM1006 212.1l1.9-2-1.9-3.8-0.5 3.8 0.3 2zM990.8 210.5l3-2.3 2-5.8 3.4-2 1.1-1.9 0.4-2-0.5-2-1.8-1.7-3-0.3-1.6-0.8-3 1.7-1.8-0.8-0.7-2 0.5-2 2-2.8 3-1.2 0.5-2-1.5-4 1-1.9 3.1 1 1.4-1.1-0.2-4.1 0.6-2.1-0.5-2-4.4-0.7-1.5-0.7-3 0.4-6.1-0.9-6.1 1.7-0.8 2.2-0.7 6.5-1.5-0.8-1.6 1.7-2.5 4.8-2-0.1-1.5 0.9-2 5.2-0.2 2 0.6 2 3.1 0.3 4.5-2 1.6 0.1 3 2.5 3 0.8 0.7 2.2 2.5 2 0.8 1.9 0.4 3.9 1.7 0.8 1.6-0.1 2.4 5.1zM989.2 200.4l-1.4-0.7-0.6-1.2 0.6-2 1.5 0.2 3.3 1.8-0.3 1.9-3 0zM980.3 188.6l-2.1-4 0.8-6-0.8-4.1 0.3-4.1 2.7-2 2-0.4 9.1 1.1 0.9 1.3 0.1 2.1-1 1.5-3 2.3-3.1 4.5-3.1 1.8-0.6 2 0.7 1.5 1 0.5 0.7 2-1.7 0.7-1.5-0.1zM1074.4 206.5l1.6 0.3 1.1-0.5 0.1-2-1.2-1.1-1.6 0.6-0.1 2.5zM1094.2 205.2l0-1.1-0.5 0.2zM1069.9 203.1l1.5 0.1 1-0.8-1-2-1.5 0.2-0.6 1.8zM1018.2 191l0.5-0.4-0.5-0.6-0.3 0.6zM1085.1 191.2l1.1-0.6-1.1-2.1-0.2 2.1zM910.2 189.4l6.1-0.2 2.6-2.6 0.2-2-0.8-2 0.2-2 2.1-4 1.7-1.3 1.6-3.2 0.9 0.4 2.1 3.8 1.5-1.5 0.1-2.3-0.6-2.1 2.1-6.7 1.5-0.9 1.5 0.1 1.5-0.5 2.3-2.3-0.7-2.1-2.8-2-1.3-2.1-0.4-2.1 1.4-2.1 1.5-3.9 1.5-0.5 0.7-2-0.7-3.1-3-2.3-1.1-3.2-0.4-4.4-1.7-2.2-1.4-0.7-2 0.7 0.5 2.2-0.8 4.4 0.8 0.6 1.5-1.8 0.7 1.2-0.1 2.1-0.6 1-1.5-0.1-1.5 2.2-2.3 1.2 0.8 0.7 1.2 3.6-0.3 2.1-0.9 0.4-1.6-0.3-3-4-3 3.3-3.1-0.5-0.6 1.1-0.1 2.1 0.6 2.2-4.1 6.2-0.3 2.8-4.6 7-1.5 0 0 2.7-3.4 2 0 2 1.9 4.2 1.5 0.2 1 3.7 3.5 4.3 2.5 1.7zM909.7 180.6l-0.7-2 1.1-2 3.1 1.8 0 2.7-1.5 0.8-1.5-0.3zM915.9 168.4l-0.8-2.1-0.1-2 1.3-1.9 1.5 0 1.5 0.8 0.7 1.1-1.1 2-2.6 2.2zM921.1 156l1.2-2.6 1.6-0.7 1.5 1.2 0.6 2.1-0.6 0.6-3.1 0.8zM931.5 187.2l3-0.4 1.5-2-0.6-2.2-0.9-0.9-3 0.3-1.5-1.3-1.6 1 0.2 2.9 1.7 2zM940.6 181.1l1.5-0.6 0.5-1.9-0.5-0.7-1.5-0.7-0.4 3.4zM1085.1 178.9l1.5-0.4 0.3-1.9 1.2-2.6 3.1 3.1 1.5 0.6 1.5-0.6 0-16.6-0.7-0.4-0.4-2.1 1.1-2.3 0-9.7-1.3 1.5-0.7 2.1-3.7 6.4-1.9 0.9-0.8 1.1-0.7 6.3-3 2.9-3.1 4.9 0.1 2.4 1.4 3 3.1 0.1 1.5 1zM946.7 177.1l1.5 0.1 1.2-0.6 1.8-2.9 0.4-1.2-1.3-4.1-0.6-0.6-1.5 0.6 0 4-1.5 2.1-0.4 2.1zM933 174.7l1.5 0.4 1.5-1.9 1.7-4.8-0.1-2.2-4.6 5-0.1 3.3zM1079 163l0-1.7-0.3 0.9zM943.6 161.6l1.2-3.6-0.1-2-1.1-1.1-0.9 1.1-0.7 2 0.6 2.1zM1079 156l1.5 1.9 1.4-1.9-0.3-4.2-1-2.2-3.1 1.8-1.5-0.8-1.3 1.2 0.9 2.1 1.9 0.7 1.5 1.4zM905.6 152.1l1.5-1.1 1.8-3.5-0.2-5.4-1.6-0.7-1.1 1.9 0.4 4.2-1 4.3zM908.7 140.1l1.5 0.7 3-1.4 3.1 0.8 1.4-1.2-1-2.2-0.1-2.1 1.2-3.1 1.5-0.9 1.5 1.9 1.5-0.1 0.6-2.2-0.6-2-3 1.1-2-3.5 0-2.2 0.5-0.5 1.5 0 4.6 3.1 1.5-2.6-0.2-2.2-1.3-3-1.6-1.1-3-0.9-4.6 0.2-1.8 4.8 0.2 2.2 2.3 2.2-0.3 2.2-1.8 2.2 0.8 4.4-0.9 1.9-0.8-1.9-0.4-2.2 1.1-2.2-1.4-1.3-1.5 0.4-1.5 3.1-1.6-0.5-0.4 0.5 1.9 6.5zM899.5 129.9l1.6-1.1 0-2.1-1.6-0.3-0.5 1.7zM923.9 103.9l1.5 0.9 0.5-1.3-0.3-4.6-0.2-0.5-1.5-0.5-1.1 1 0.1 2.3 0.9 2.3zM1071.4 103.5l1.5-2.3-1.4-6.9-1.4 6.9 1.3 2.3zM882.8 101.6l1.5 1.2 0.8-1.6-0.3-2.3-0.5-1.2-1.5 2.2-0.1 1.3zM940.6 99.5l1.5 1.6 1.1-2.2-1.1-1.4-2.4 1.4zM888.9 94.6l1.1-0.3-1.3 0zM890.4 93l-0.1-1zM907.1 88.8l1.6 0 1.5-1.2 1-2.7-4 0-1.3 2.4zM1072.9 85.5l0.3-0.6-0.9 0z" fill="#f39e9e" fill-rule="evenodd"/>
<path d="M989.3 200.4l3 0 0.3-1.9-3.3-1.8-1.5-0.2-0.6 2 0.6 1.2 1.4 0.7zM981.7 189.2l1.5 0.1 1.7-0.7-0.7-2-1-0.5-0.7-1.5 0.6-2 3.1-1.8 3.1-4.5 3-2.3 1-1.5-0.1-2.1-0.9-1.3-9.1-1.1-2 0.4-2.7 2-0.3 4.1 0.8 4.1-0.8 6 2.1 4zM983 172.5l0.1-2.1 3.1 0.2 0.5 1.9-0.5 0.4-3-0.1zM910.2 181.6l1.5 0.3 1.5-0.8 0-2.7-3.1-1.8-1.1 2 0.7 2zM916.3 168.5l2.6-2.2 1.1-2-0.7-1.1-1.5-0.8-1.5 0-1.3 1.9 0.1 2 0.8 2.1zM1094.2 160.5l0-4.8-1.1 2.3 0.4 2.1zM922.3 157.4l3.1-0.8 0.6-0.6-0.6-2.1-1.5-1.2-1.6 0.7-1.2 2.6z" fill="#ef8282" fill-rule="evenodd"/>
<path d="M983.2 172.8l3 0.1 0.5-0.4-0.5-1.9-3.1-0.2-0.1 2.1z" fill="#ec6a6a" fill-rule="evenodd"/>
<path d="M992.3 154.4l0.1-2.6-1.1-2.2 5.6-4.9 1.5-0.5 3 3.2 1.6-0.8 1.2-1.2 0.8-2.1 0.8-6.5 3.2-3.5 4.6-2 1.5-0.3 3.1 1.4 1.5-0.2 1.5-1.2 1.4 1.5-1 2.2-0.9 4.3-1 1.7-3 1.2-3.1 2.7-5.1 0.8-1-2.4-0.2 2.4-1 2.1-3.3 1.2-1.6-0.5-0.1 1.4-1 2.2-1.9 1.9-1.5 0.4-3.1-1-1.2 0.8zM978.7 84.9l-0.5 2.4-1.3 2.3-1.3 5.8-1.5-0.3-1.3-10.2M949.7 229.6l-3.1-4.2 0-3.8 1.3-1.9-0.6-1.9 0.3-1.9 1.1-1.9-0.5-1.1-1.6-0.8-0.2-2 3.3-2.4 0.9-3.4 2.2-1.5 1.5 1.6 0.6 3.8-0.1 3.9 0.8 1.9 4.8 1.6 1.8 2.2-0.2 1.9-1.6 2-1.5 0.4-3.2-0.5-1.4 1.9 0 3.8-3.1 2.5zM844.8 227.9l-0.6-0.6 0.6-0.4 0.4 0.4-0.4 0.6M989.3 162.4l-4.6-1.6-3-2.3-2.5-0.5 0.4-2 2.1-2.5 3-6.9 3.1-2.6 2.9-0.7 3.1-2.9 1.1-5.7-0.8-6.6 1.3-2.6 3-1.4 1.7 1.8 0 4.4 2.9 1.5 1.5-0.3 3-2 3.1-3.4 5.4-4.6 3.6-6.7 1.6-1.8 4.6-0.1 1.5-0.8 6.1-1.3 6.1 0.4 1.6-0.9 2.9-4.8 1.6 2.6-1.3 2.2-0.1 2.3 0.4 6.7 1.3 4.4 0 2.2-1.9 3.2-1.5 1.2-3 0.8-0.7 1.4-0.1 6.5-0.8 2.2-1.5 1.7-1.5 0-1.5-1.8-1.5-4.1-1.6 0.4-2.6 3.7-1.9-0.2-3.1 2.3-1.9 2.2-2.6 1.5-3.1 3.9-1.5 0.6-3 0.1-4.8 2.4-5.9 5-3 0.4-1.5 1.2-5.3 1.7zM1050.1 106.4l-0.6-0.6 0.8-2.3 1.3-0.4 0.3 0.4-0.8 2.3zM841.4 372.1l0.3-0.7 0.2 0.7M917.6 372.1l1.7-0.9 1.1 0.9M921.4 372.1l2.8 0M929.8 372.1l1.7-1.7 1 1.7M1007.1 372.1l0.4-0.6 1 0.6M1078 372.1l1-1.7 3.1 0.1 3-2 0.6 2-0.7 1.6M787 365.4l0.5 0.3-0.5 0.5M1094.2 355.6l-1.5-0.6-3 0.4-3.1-2.5-1.5-0.6-1.5 0.6-3.1 3.9-1.5 4.5-4.6 1.6-1.5-1-3 0.4-4.6-0.5-1.5-1.4-1.5-0.6-3.1 3.5-1.5 0.1-4.5-4.8-1.6 0.2-1.5 2.2-3 0.7-1.6 0-0.9-0.9-0.5-1.6 1.4-2.4 3.1-1.1 1.5-1.4 0.4-3.2 0.9-1.7-1.3-1.2-1.5 2-0.6-0.8-0.5-1.6 1.1-4.3 4.6-0.2 1.5 2.6 1.5 1 1.9-2.4 1.1-3.3 1.6-1.1 1.5 0.5 1.5 2 1.3-1.4 0.7-3.3-0.5-0.9-1.5-0.8 0.7-1.6 0.8-0.5 7.6-3.4 4.6 1.8 1.5-4.6 2.3 0 0.8 1.8 1.5-0.5 3 0.8 2.9-2.1 3.2 0.5 1.5-1.9M1094.2 323.9l-2-2.7 0.6-1.7 1.4-0.8M787 315.2l1.3 1-1.3 1.7M787 285.3l1.5 1.7-1.5 2.1M1094.2 252.5l-1.5 0-1.4-1.1-0.2-5.5 1.4-1.9 1.7-0.3M787 242.8l1.5 0.7 4.6-3.5 0.1 2.2 1.6 3.7-1.3 3.6-2 2.2-4.5-2.8M1094.2 238.5l-0.8-1.9 0.1-1.8-1.8-1.9-0.3-1.9 1.3-2.6 1.5 0.3M787 226.8l1.9 2.4-0.4 2.3-1.5 0.8M787 175.6l0.5 1-0.5 0.4M787 96.9l1.5-0.9 1.5-0.1 1.1 0.7 0.1 2.3-0.7 2.3-3.5 1.7M793.6 84.9l-0.5 1.4-1.6-0.2-1.9 3.5-1.1 0.9-1.5 0M805.7 84.9l-2.2 0M835.1 84.9l-1 1.5-1.3-1.5M851.3 84.9l-0.4 0.9-0.3-0.9M983.1 84.9l-0.9 14 1 2.9 3-1.8 1.6-0.3 1.5 0.9 1.4 2.9 0.1 4.6 1.4 2.2 1.6 1.1 7.6-2.3 4.6 0.2 3 1.2 1.6-0.8 3-0.4 3.1-3.2 3-1.4 1.5 0 3.1 2.4 3-1.3 3 0.5 4.6-0.7 1.4-4.4 3.2-2.4 2.4-13.9M989.6 84.9l-0.3 1.3-2-1.3M1047.5 84.9l1.1 1.7 1.8-1.7M1054.6 84.9l1.1 2.4-0.6 4.7 1.1 3.6 1.5 2.4 1.5-0.5 1.6 0.6 0 1.7-1.1 1.4 1.1 2.4 1.5-0.6 1.5 0.5 0 2.3-2.8 4.5-0.1 2.3 2.9 2.7 0.7 1.8 0.4 4.4 1.9 1.5 0.6 2.9-3 4.4-5.2 12.9-1.5-1.1-1.5 0.2-0.4 1 1.4 4.2-1 1.3-1.5-0.1-3.1-3.4-3.1 2.2 3.1 4.8 2 1.6 1.3 2.1-1.7 0.9-1.6-0.2-6.1 4.1-1.9-0.7-0.1-4.1-1-1.8-1.5 0.4-1 1.4 1.6 6.2-1.5 4.1 0.4 2.1-0.4 2-5.9 6.2-0.8 1.5-1.5 0.8-0.7-0.3-0.9-3.1-3-2.2-1 1.2 0 2.1-2 0.5-0.7-0.5-0.7-2.1 0.2-2 1.5-2.1-0.3-1.9-1.6 0.4-0.2 1.5-2.3 4.1 1.4 4.1-1.9 0.3-3-2.3-1.3-2.1 0.2-2-0.5-0.7-1.5-0.1-1.5 0.7-2.8-2-3.3-0.9-3-4.2-1.6-0.9-4.5-0.7-7.6 1.4-7.6-1.8-3.1 0-5.3-3.2-0.8-4.9-2.4-3.4-1.5-8.5-2.1-3.9 0-4.5-1.6-0.6-1.2-1.8 1.2-1.7 4.6 3.4 2 2.6-0.2 2.2 1.2 1.7 6.1 1.7 1.8-3.4-0.2-2.2 1.5-1.5 4.5-2.4 1.3-2.6 0.4-11-1.1-2.2-5.1-4.3-1.7-0.2-2.9 3.2-5.1-3.2-2.3-9.1 0.6-4.6-1.4-9.3 0.2-4.7M1069.9 367.7l0.5-2 1-0.9 1.5 0.5 1.6 2-3.1 1.3zM1003 366.6l-0.8-2.5 0.8-1 1.5-0.7 1.2 1.7 0.3 1.6-1.5 0.7zM996.9 364.1l-0.8-1.7 0.8-2 1.6 0.4 1 1.6-1.1 1.3-1.3 0.4zM995.4 359.9l0-2.7 0.5 2-0.5 0.7M1012.1 351.8l-0.4-0.7 0.9-3.3-0.2-1.7 1.2-1.6 3.1 2.9 1.5-0.3 1.5-2.1 6.1-1.4 0.4 0.9-0.4 1.9-6.1 1.8-1.5 2.9-1.5 0.7-1.6-1.8-3 1.8M968 347.9l-3.8-3.4 0.7-0.8 3.1 1.3 0.5 1.1-0.3 1.7zM939.1 343.4l-1.3-0.5 1.3-1.7 1.5 0.7 0.6 1-0.6 1.3-1.5-0.8M1051.6 330.7l-0.6-1.1 2.2-3 1.5-0.4 3.2 3.4-4.7 1.4zM1089.7 302l-3.1-3.7-3-2.6 1.5-0.4 1.5 0.7 3.1-0.1 1.5 0.9 0.4 2.3-0.4 2.5zM954.3 296.4l-1.5-1-8.3-3.2-1.5-3.5-0.5-3.5-2-3.5 0.1-3 0.6-0.5 0.1-1.7-0.2-1.8-1-1.8 0.2-1.8-1.2-1-3.1-0.3-3-1.9-0.9-2.1 0-1.8 1.8-3.6 0.6-3.6-0.1-3.6 0.9-3.7-1.1-3.6 0.2-3.7 0.9-1.9-0.9-5.5 1.6-0.9 1.6 0.7 0.4-1.7-0.4-5.6 0.6-3.8 0-9.5 1.3-3.9 0.4-3.8 2.4-2 0-1.9 2.4-3.9 0.5-3 1.5 0.5 4.5 0 1.6 1.1 4.5 1.3 4.6-0.4 0.6 0.5 0.9 6.4 1.7 5.2 1.4 1.1 1.5-0.4 3 2.4 1.5-0.6 1.6-2.5 1.9 2-0.9 1.9 1.4 1.9 0.6 0.5 3-1.1 0.6 0.6-0.6 2-1.5 0.5-1.5 1.6-1.5 0.6-3.1-0.1-5 3-4.6 5.7-0.3 5.6 0.8 0.5 1.5-1.1 1.6 0 0.8 0.6-3.2 3.7 0.6 3.7 1.8 2.1 1.5-0.5 1.5 0.3 3 2.4 1.7-0.6 1.4-3.7 1.5-0.5 2.1 6 1.2 5.5-0.9 3.6-0.3 7.2-3.6 5.4-0.6 1.7 0.6 2.6 1.5 0.5 0 0.5-1.5 0.3-1.4 3.2-3.2 2.9-2.5 5.9-2 0.8-4.8 6.1-5.9 3.1zM895 290.8l-0.5-2.1 0.5-2.1 0.5 2.1-0.5 2.1M803.7 289l-2.2-2 0.7-1 1.5-0.6 1 1.6-0.7 1.7zM907.1 283.7l-0.5-2 2.1-1.8 1.5-0.2 1.7 2-4.8 2M964.9 284.3l1.6 0.3 0.7-1.1-1.3-1.8-2.5-2.2-0.3 2.2 1.1 1.8zM943.6 281.5l1.4-1.5-1.4-1.5-1 1.5zM905.6 277l0-0.9 1.5-0.7 1.6 0.2 1 0.9-1 1-1.6 0zM948.2 277.4l3.7-0.9 0.5-1.8-1.2-0.9-2.3-0.9-0.7-0.9-1.2 4.5zM791.5 275.8l-0.8-1.1 0.5-1.8 1.1 0 0 1.8zM911.7 270.4l-1.7-2.8-4.4-1.8 3.1-3.2 2.9 1.4 2 3.6-0.6 1.8zM1053.2 266.2l-0.5-0.4 0.5-1.3 0.5 1.3-0.5 0.4M815.9 263.3l-0.1-2.9-1.3-1.8-2.7-1.8-1.1-1.8 0.2-3.6-2.3-3.7-0.1-1.8 1.3-2.4 1.5-0.2 0.5 2.6 1 1.3 3.6-3.2 2.5-4.5 3.1-0.5 1.2 1.3-1.9 1.9 0.7 1.7 3 0.6 0 12.8-7.8 4.9zM890.4 262.7l-3-1.7-3.1-0.4-1.6-2 1.6-1.1 3.1 0 4.5 2 1 0.9-1.3 1.8zM1063.8 257.4l-0.4-2.4 0.9-1.8 5.6-2.8 1.5 0.4 0 2.4-1.5 3.7-4.6 1.5zM882.8 254.3l-0.5-1.1 0.5-2.2 0.9 2.2zM875.2 251.6l-1.5-0.5-1.2-1.6 0-1.8 1.1-3.7-1.4-0.6-3.1 2.6-3 0.6-1.5-1-1.6-0.1-3-2.8-1.5 1.2-0.5 3.8-4.1 2.6-1.5 0.2-4.6-1.7-3-0.4-3.1-2.7-3 0.7-3-4.6-1.3-3.3-3.3 1.5-3.1-3.2-1.5-0.2 3.1-0.6 1.5-1.3 0.7-1.8-0.3-1.9-1.9-2.7-1.6 0.3-1.5 1-1.5 2.8-1.2-3.2 1-1.9-3.3-3.8 2-1.9 7.6-4.7 1.5 1.4 1.5-0.5-1.1-5.7 0.9-5.8-1.6-3.9 3.4-3 2.9-0.9-1.4-2.9-3.1-2.3-1-4.7 0.2-4-2.2-1.6-3.1 0.7-3-0.2-1.5 1.1-2 4-1.1 0.4-1.5-0.5-1.5 1.6-1.5 0.2-1.7-3.7-3.7-6-1.4-6.1 0.1-2-0.8-2.1-1.6 0.6-1.8-2.6-0.3-4.1 0.5-1.2 0.9 1.2 2.2 0.9 0.6-0.9 0.2-2.1-0.8-4.2 0.3-2-0.3-0.8-1.5 0.3-4.6 2.7-0.8-2.2 2.3-2.8 1.4-3.6-1.4-1.2-1.5 0-0.6-0.9 0.1-6.4 2.1-4.3-1-2.1 1.1-4.4-0.3-2.2-1.4-2.1-1.5-0.5-2.3-4 2-2.2-2.2-4.5 0.1-4.5-2-4.5 1.3-1.9 0.1-2.7 3-1.9 3-0.6 1.6 2.5-0.1 0.5-1.5 0.1-1.5 1.8-0.8 2.2 0.8 2.7 1.5-0.1 1.5-3.4 1.6-1 1.6 1.8 2.9 1.9 1.5 0.3 3.1-1.3 0.7 1.4 0 4.5-0.7 1.5-3.1-0.1-1.4 0.8 0 4.5-1.8 2.2 0.2 4.6 3-4.4 4.4 6.4 0.4 2.2 1.3 1.2 3.1-1.7 3 2.1 1.6 2.8 3.7 4.3 0.1 4.3 0.7 0.4 3-0.8 2.1 2.5 2.8 8.5 1.2 0.4 0.8-0.4 0.7-2.6 0.7 2.6 4.2 4.1-0.3 2.1 0.5 2.1 1 1.1 2.6 1-1 2-0.2 2.1 1.7 5.1 0 3.1-2.8 6 1.2 3.1 1.6 2 0.8 2.9-0.8 0.6-1.6 0.1-2 3.2-2.5 2.9-1.9 1.1-1.3 1.9 1.4 2 1.8 1 3-1.6 1.9 0.6-1.7 3.9-0.2 4.5-1.5 0.2-1.1 1.1-0.5 1.9 0.5 3.8 1.7 1.9 4 2.8 1.5 0.2 1.5-2.5 1.5-0.8 1.1 2.2-1.1 2.4-1.5-0.3-1.5 1.7 0 1.9 2.2 3.7-0.7 2-1.5 1.2-1.5 0.1 0 1.2 1.5 0.3 2.1 2.7 2.4 1.7 1.6-0.1 3.1-5.3 1.4-0.9 4.6-0.6 3-2.3 0.8-1.8-0.2-1.9 1-1.5 3-0.6 4.2-3.6 1.9-0.8 2.6 2.7 0.6 1.9-1.5 1.9-0.9 5.6-1 1.9 3 3.7-1.3 2.7-1.5 1.4-2.7 1.4-1.5 1.9 1.3 3.6-0.6 1.9-1.1 0.4-1.5-0.2M887.4 238.8l0-2.2 1.5-3.3 1.5 1.4 0.5 1.9-2 2zM800.7 235.1l-4.6-1.1-1.6-1.1 0.3-1.9 2.8-1.5 0.9-2.2-1.6-3.8 2.2-1.1 1.5 1.1-0.4 1.9 2 2.2 0.2 1.6-1.2 1.8 0.5 1.9-0.3 1.9-0.7 0.3M895 236l-0.8-3.1 0.2-3.7 0.6-2.8 1.5-0.6 5.4 3.4-0.8 5.6-1.6 0.4-1.5-0.9-1.5 1.4-1.5 0.3M856.9 229.8l-0.7-2.5 0.7-0.8 0.4 2.7zM808.3 222.4l-1.5-3-1.6-1.3-1.5-0.6-1.5 0.9-0.5-6.3-1-0.7-1.6 1.2-4.5 1.5-1.4-2 2-2 3.3-1.9 1.5-1.9-0.1-2-0.8-1.6-3-0.7-1.1-1.6 1.1-2.7 1.5 0.3 1.5-1 1.6-3.7 3.2 3.2 1.3 4 1.6 0.1 3-1 1 0.8-0.2 2-1.7 1.9 0 2 0.9 2.5 1.3 1.3 0.9 2 0.6 5.7-0.3 1.9-2.5 2.2-1.5 0.5M1028.8 214.2l-0.6-2.1-3.9-3.9-0.9-1.9-0.4-3.9 0.6-2 2.2-1.9 0.5-2 1-1.2 4.6-1.3 1.2 0.5-1.2 0.3-1 1.7-0.1 3.9 3.1 2 0.1 1.9-0.3 2-3.4 8.2zM908.7 205.3l-0.6-1 2.1-1.7 1 1.7-1 1.8zM1033.4 193.7l-0.5-3.1 0.5-1 1.6 1-1.3 2zM860 185l-1.1-0.4-0.4-2.3 0.8-1.7 2.4-2-0.2-2.3 1.8 0.3 0.9 4-3.7 4zM881.3 183.2l-0.2-2.6 1.9-4 1.3-0.8 1.5 0.5 1.2 2.3-0.6 2-2.1 3.8-1.5-0.1zM963.4 162.3l-1.5-0.7-1-1.5 1-1.9 1.5 1 0.4 0.9-0.3 2.1zM858.5 156l-0.3-2.1-1.7-2.1-0.8-2.2 1.2-1.6 3.1 2.1 1.5-2.1 1.5 0.9 0.3 0.7-0.2 2.2-1.6 2.4-2.9 1.8zM788.5 155.9l-0.9-2-0.2-2.1 1.1-0.9 1.5 0.6 0.4 2.4-0.4 0.8zM1044 144l1.5 1.1 0.6-1.8-0.2-2.2-0.4-0.3-1.5 1.3-0.2 1.2zM852.4 137.1l-2.4-2.4 1.2-2.2 1.2-0.8 1.9 0.8 2.4 4.3-2.8 0.6zM1080.5 137.9l-2.3-3.2 2.3-3.3 3.7 3.3 1.3 2.1-1.3 0-0.6-1.1-1.7 1.1zM796.1 135.4l-0.4-0.7 0.4-3.2 2.1 3.2-0.6 1-1.5-0.3M1076 133.2l-1.2-2.9 1.2-1.9 1.5-0.7 0.8 0.4 0.2 2.2-2.5 2.9M1062.3 128.4l1.6-0.3-0.9-4.4-2.2-0.6-1.5 0.6 0.2 2.2 2 2.2zM794.6 125.5l-2.2-4 0.7-2.2 4.1 2.2-1.1 2.7-1.5 1.3M802.2 121.5l1.5 1.5 1.5-0.2 1.7-3.5-1.7-1.1-3 0.2-1.2 0.9 1.2 2.2zM803.7 114.8l0.7-2.2-0.7-1-1.5 1zM834.1 104.1l-1.3-2.9-0.4-2.3 0.2-2.4 1.5-1.7 1.6 3 2.5 1.1-0.4 2.3-2.1 2.8zM852.4 99.9l-1.3-1-0.3-2.3 1.6-0.8 1.2 0.8 0.5 2.3-1.7 1M1094.2 207l-1.5 1.3-0.6 1.8 0.4 3.9 1.7-0.7M1094.2 204.1l-0.5 0.2 0.5 0.9M1094.2 146l-1.3 1.5-0.7 2.1-3.7 6.4-1.9 0.9-0.8 1.1-0.7 6.3-3 2.9-3.1 5.3 0.7 4.1 0.8 0.9 3.1 0.1 1.5 1.3 1.5-0.4 0.3-1.9 1.2-2.6 3.1 3.1 1.5 0.6 1.5-0.6M907.2 84.9l-1.3 2.4 1.2 1.5 1.6 0 1.5-1.2 1-2.7M1072.3 84.9l0.6 0.6 0.3-0.6M831.1 362.2l0.7-1.4-3.8-6.5-1.1 3.3 0.3 1.6 2.5 1.6zM875.2 358.5l1.5-0.2 1.6-2.4-0.7-1.6-0.9-0.4-2 0.4-0.1 3.3zM835.7 350.1l1.4-2.3-1.4-0.5-1.6 0.2 0.2 1.9zM870.6 341.3l0.6-0.1 0.8-1.6-1.4-1.4-1.5 0.8-0.2 0.6 1.7 1.6zM993.8 341.5l1.6 0.3 0.9-0.6 0.2-1.6-1.1-0.9-1.6 0.3-0.1 2.2zM870.6 334.8l1.6 0.8 1.2-1 0.2-1.7-3-1.6-1.3-1.7-0.9 0-0.8 0.6 0 1.2 2.9 3.2zM890.4 331.2l1.7-3.3-1.7-0.5-0.2 2.2zM978.6 331.2l1.4-3.3 0.1-2 0.7-1.3 1.9-1.7-0.5-1.7 1-0.7 1.5 1 3.1-0.2 4.5 1 1.5-1.1 1.6-2.7 2.9-0.6-3.9-5.1 0.2-1.7-0.8-1.5-3-4.1-2.8-1.2-1.8 0.4-0.6 4.7-0.9 1.1-1.5 0.3-3.1 2.3-1.5-3.9-4.5-0.9-1.6 0.9-3-0.3-1.5 0.5 1.5 1.8 1.5-0.8 1.5 0.3 1.2 2.1-1.2 1.7 0 1.7 3.1 0.4 1.5-2.4 3.8 5.3 0.7 1.7-1.5 1.7-3 1-0.6 0.7-0.4 1.7 0.4 1.6 1.3 1.7zM1010.6 329.8l1.5 0.3 0-2.9-1.5-0.2-0.6 0.9 0.4 1.7zM822 329.3l1.5-0.3 1.2-1.1-2.3-3.3-0.4-1.8-0.5 5.1zM881.3 321.4l1.5 1 1-2.9-0.6-1.6-0.4-0.9-1.6 0.9-0.6 1.6 0.6 1.7zM823.5 312.5l3 0 0.7-1.4-2.2-2.5-3-1.4-0.7 0.5-0.4 1.7 1.3 1.7zM980.1 308.4l1.6 0.6 1-1.3-0.2-1.7-0.8-1-1.3 1-0.7 1.7zM992.3 304.3l1.5 0.2 1.6-0.6 0.4-1.3-0.4-0.6-1.6-0.3-1.6 0.9 0.1 1.7zM1033.4 285.5l1.8-0.3-0.5-1.7-1.3-1-0.8 1 0.6 1.7zM1030.3 277l1.4-0.5-1.3-1.8 1.5-0.2 0.4-1.6-1.6-1.8 1.3-3.5-0.5-1.8-1.2-3-1.1-0.6-1.9 0.1-1.5-1.1-2.1 1 1.9 5.4-0.4 3.5 0.6 1.7 3 0.4 1.5 1.5-0.1 1.8zM1039.5 264.4l1.5 0.5 1.1-0.9 0.8-1.8-0.4-1.8-1.5-0.1-1.5-1-1.5 1.1 1.2 3.6zM837.2 262.5l4.5-1.3 1.1-0.8 3-3.6-1-1.2-4.6-1.4-1.5-1-1.5 0-3.4 1.8-0.2 1.8 0.6 1.8 2.5 3.6zM800.7 259.7l0.3-4.7 1.9-3.6-2.2-2.6-1.6 1.5-0.3 1.1 0.6 7.2zM1006 212.1l1.9-2-1.9-3.8-0.5 3.8 0.3 2zM990.8 210.5l3-2.3 2-5.8 3.4-2 1.1-1.9 0.4-2-0.5-2-1.8-1.7-3-0.3-1.6-0.8-3 1.7-1.8-0.8-0.7-2 0.5-2 2-2.8 3-1.2 0.5-2-1.5-4 1-1.9 3.1 1 1.4-1.1-0.2-4.1 0.6-2.1-0.5-2-4.4-0.7-1.5-0.7-3 0.4-6.1-0.9-6.1 1.7-0.8 2.2-0.7 6.5-1.5-0.8-1.6 1.7-2.5 4.8-2-0.1-1.5 0.9-2 5.2-0.2 2 0.6 2 3.1 0.3 4.5-2 1.6 0.1 3 2.5 3 0.8 0.7 2.2 2.5 2 0.8 1.9 0.4 3.9 1.7 0.8 1.6-0.1 2.4 5.1zM1074.4 206.5l1.6 0.3 1.1-0.5 0.1-2-1.2-1.1-1.6 0.6-0.1 2.5zM1069.9 203.1l1.5 0.1 1-0.8-1-2-1.5 0.2-0.6 1.8zM910.2 189.4l6.1-0.2 2.6-2.6 0.2-2-0.8-2 0.2-2 2.1-4 1.7-1.3 1.6-3.2 0.9 0.4 2.1 3.8 1.5-1.5 0.1-2.3-0.6-2.1 2.1-6.7 1.5-0.9 1.5 0.1 1.5-0.5 2.3-2.3-0.7-2.1-2.8-2-1.3-2.1-0.4-2.1 1.4-2.1 1.5-3.9 1.5-0.5 0.7-2-0.7-3.1-3-2.3-1.1-3.2-0.4-4.4-1.7-2.2-1.4-0.7-2 0.7 0.5 2.2-0.8 4.4 0.8 0.6 1.5-1.8 0.7 1.2-0.1 2.1-0.6 1-1.5-0.1-1.5 2.2-2.3 1.2 0.8 0.7 1.2 3.6-0.3 2.1-0.9 0.4-1.6-0.3-3-4-3 3.3-3.1-0.5-0.6 1.1-0.1 2.1 0.6 2.2-4.1 6.2-0.3 2.8-4.6 7-1.5 0 0 2.7-3.4 2 0 2 1.9 4.2 1.5 0.2 1 3.7 3.5 4.3 2.5 1.7zM931.5 187.2l3-0.4 1.5-2-0.6-2.2-0.9-0.9-3 0.3-1.5-1.3-1.6 1 0.2 2.9 1.7 2zM940.6 181.1l1.5-0.6 0.5-1.9-0.5-0.7-1.5-0.7-0.4 3.4zM946.7 177.1l1.5 0.1 1.2-0.6 1.8-2.9 0.4-1.2-1.3-4.1-0.6-0.6-1.5 0.6 0 4-1.5 2.1-0.4 2.1zM933 174.7l1.5 0.4 1.5-1.9 1.7-4.8-0.1-2.2-4.6 5-0.1 3.3zM943.6 161.6l1.2-3.6-0.1-2-1.1-1.1-0.9 1.1-0.7 2 0.6 2.1zM1079 156l1.5 1.9 1.4-1.9-0.3-4.2-1-2.2-3.1 1.8-1.5-0.8-1.3 1.2 0.9 2.1 1.9 0.7 1.5 1.4zM905.6 152.1l1.5-1.1 1.8-3.5-0.2-5.4-1.6-0.7-1.1 1.9 0.4 4.2-1 4.3zM908.7 140.1l1.5 0.7 3-1.4 3.1 0.8 1.4-1.2-1-2.2-0.1-2.1 1.2-3.1 1.5-0.9 1.5 1.9 1.5-0.1 0.6-2.2-0.6-2-3 1.1-2-3.5 0-2.2 0.5-0.5 1.5 0 4.6 3.1 1.5-2.6-0.2-2.2-1.3-3-1.6-1.1-3-0.9-4.6 0.2-1.8 4.8 0.2 2.2 2.3 2.2-0.3 2.2-1.8 2.2 0.8 4.4-0.9 1.9-0.8-1.9-0.4-2.2 1.1-2.2-1.4-1.3-1.5 0.4-1.5 3.1-1.6-0.5-0.4 0.5 1.9 6.5zM899.5 129.9l1.6-1.1 0-2.1-1.6-0.3-0.5 1.7zM923.9 103.9l1.5 0.9 0.5-1.3-0.3-4.6-0.2-0.5-1.5-0.5-1.1 1 0.1 2.3 0.9 2.3zM1071.4 103.5l1.5-2.3-1.4-6.9-1.4 6.9 1.3 2.3zM882.8 101.6l1.5 1.2 0.8-1.6-0.3-2.3-0.5-1.2-1.5 2.2-0.1 1.3zM940.6 99.5l1.5 1.6 1.1-2.2-1.1-1.4-2.4 1.4zM983.2 172.8l3 0.1 0.5-0.4-0.5-1.9-3.1-0.2-0.1 2.1z" fill="none" stroke="#9a8a8a" stroke-width="0.75" stroke-dasharray="1.6 1.2"/>
<path d="M1010.6 139l0-2.6 4.5-2.6 1.5 0.9 0.6 2.1-2.1 2.9-1.5 0.9-1.5 0.1-1.5-1.7M976.6 84.9l-1 1.3-1.5-1.3M987.8 160.4l-2.5-2.4-0.7-4.1 1.6-4.8 1.6-1.6 6-2.8 1.6-1.9 3-2.2 3-1 0.8-2.8 1.2-2.1 11.7-7.5 3.4-1.3 1.5-4.4 2.7-4.7 4.6-2.1 7.6-0.7 2.4 0.8 0.6 1.5 0.5 3-0.5 6.1-3-2.1-1.5 0-2.4 4.8-3.7 2.7-1.2 1.7 0.2 2.2-4.1 6.4-2.5 2.7-1.5 0.5-3.1 2.9-6.1 2.1-4.5 2.5-4.6 3.5-3 1.4-3.1 2.4-4.5 1.3zM980.8 84.9l0.2 4.7-1.9 13.9 0.8 2.3 0 2.3-2.8 1.4-3-0.9-1.6-1.4-0.5-1.4-0.4-2.3 0.7-4.6-0.6-6.9-0.8-2.4-0.1-2.3 0.6-2.4M961.9 271l0-2 0 2M963.4 264.7l-0.7-0.7 2.1-1.8 1.7-4.2 3 0.1 1.7 0.5 0.3 1.8-1 1.8-4 2.5-1.6 0zM942.1 236.9l0.3-7.7-0.9-3.8 1.4-7.6-1.1-5.7 1.8-4.5 1.6-1.5 1.5-0.6 3-4 1.5-1 3.4-0.1 2.2 2 0.5 6.9 1.6 1.3 1.5 0.4 4.5 4.8 4.4 2-7.4 7.9-3-0.2-1.6 3.2-0.4 2.3 1.7 3.8 0.1 1.8-1.4 1.8-1.5-0.6-3-3.1-3.1 1.7-3 0.1-3.1 1.2-1.5-0.8M843.3 233l-3.1-0.8-0.7-1.2-0.4-3.7 1.1-2.2 3.1-2.1 1.5-0.3 1.9 0.8 1.1 1.9 1.5 3.8 0 1.8-1.1 1.9-1.9 1.6-3-1.5M818.9 179.7l-1.2-1.1 0.6-2 1.7-4.1 2-2.9 1.5 2.9-1.5 2.1-1.6 5.3-1.5-0.2M837.2 179.5l-3.4-2.9 0.1-2.1 0.9-2-0.7-1.1-1.5-1.5-1.5 1-2.3-2.5 0.8-1.8 3 0.2 3.1-3.3 0.1 0.8 2.1 2 0.8 2.1-1.4 4.1 2.1 4.1 0.4 2-1.1 0.9-1.5 0M1025.8 164.3l-2.4-2.1-2.5-6.2 0.3-1.3 1.5-0.2 1.6-1.2 3 0.5 3-2 0.7-4.3-2.2-1.5-3 2.3-1.5 0.3-1.6-0.9-1.5 0.2-1.5 1.3-0.3 0.4 1.4 4.3-2.6 1.6-1.4 2.5-1.7 1.2-1.5 0.5-1.5-0.3-1.5-2.3-1.6-0.9-1.5 0.2-1.5 1.1-1.5 2.1-3.1 1.4-4.5 0.6-7.6 2.2-7.6-2.5-3.1-0.1-1.2-1.1-1.3-2.1-0.1-2 1.1-4.2 0.5-4.3 2.5-1.7 1.6-1.9 3-1.1 1.5-1.5 4.2-2.3 2.1-2.2-0.9-6.5 0.6-8.8-1.4-3 0-2 1.5-1 1.5 0.2 7.6 2.4 1 1.2 0.6 4.8 1.5 2.2 1.5 0.7 1.6-1.1 1.4-3.8 2.6-0.6 2.4-4.4 4.2-3.5 3-3.5 3.1 0.7 4.5-2.2 8.5-0.5 5.2-9.4 2.6 0.2 2 1.1 3-1.8 1.5 0.3 1.6 0.9 1.4 4.1-0.1 2.3-1.6 6.8 0.3 4.9-0.9 1.8-2.2 0.6-1.1 1.6-1.5 8.8-2 4.1-3.6 4.6-0.8 6.4-1.6 3.5-2.3 2.9-0.8 2.5-1.5 1.5-1.7 0.2-0.3 2-3.2 6.3-0.9 0.6-1.5-0.2zM823.5 158.1l-1.5-0.7-0.7-1.4 1-2.1-0.2-2.1-2.8-2.2-0.9-2.1 1.7-2.1 1.9-4.2 4.5 1.1 0.8 3.1 3.2 2.1 0.4 2.1-0.3 2.2-1 1.4-3.1-0.6-1.4 1.3-1.6 4.2M801.4 372.1l-0.7-1-0.6 1M831.7 372.1l-0.6-1-1.5 0-0.6-0.6 0-1.6 2.6-1.6 0.4-1.6 3.7-4.8 1.5 0.2 1.5 0.9 1.5 3.9 1.5 0 1.6-1.9 1.5-0.4 1.5 2.2 1.5-0.3 1.5-1.9 2.5 3.7-0.1 1.6 1.8 3.2M880.9 372.1l1.8-1.6 0.1-2.2-1.5-1.9-2.1-0.7 0.7-1.6 1.4-0.6 3 0.7 3.2-0.1 0.7 1.6-0.8 1.6 1.5 0.8 1.5-0.1 1.1-0.7 0.5-1.6 1.4-0.9 1.6 3.3 1.5 0.6 1.2-1.4 3-8.1-2.6-4.9 0.4-1.6 1-0.6 1.6-0.2 3 1.1 2-1.9 4.1-1.5 0.7-1.8 2.3-1 4.1 1-1 0.6-0.2 2.7 3.2 0.3 0.6-2-2.6-3.3 2-1.6 0.8-1.6-0.2-1.7-3.7-1.6-0.1-3.4-1.9-1.6 0.5-0.8 3.1 1.5 3 0.3 3.1 1.4 3-0.5 1.5 0.9 1.6-0.6 3 1.8 15.2-6.2 0.3-1.1-2.9-3.4-0.2-1.6 1-1.7 1.8-1.5 3-0.2 1.6-2.4 1.9-1-5-3.8-1.5-3.9-3.7 1 0.4 3.4-1.3 1.7 2.1 1.6-2 1.7 0.4 3.4-0.5 1.5-1.7-1.5 1.4-1.7 0.3-1.7-3-3.3 0.7-1.7-0.3-1.7-1.9-0.5-0.8 0.5-0.7 1.7-2.3 1.7-2.3 3.1-1.5 0.1-1.5 1.2-0.2 2.3 2.3 1.7 0 1.6-0.6 1-1.5 0.7-1.6 2.6-1.5 0.4-3-2-1.6 0-3 1.2-1.5-0.1-1.5-0.5-1.6-1.6-0.8-1.7 1.4-1.6 0.1-3.4-1-1.7-2.6-1.7-0.1-1.6 1.5-0.3 3.1 1 0.5-0.7-0.4-1.7-3.2-0.8-1.5-1-2.5 0.1 0.8-3.4-1.3-5.1-3.1-2.9-4.5 1.2-1.6 1.2-1.5-0.3-3-5.6-3.1-1.3-1.5-2.3-1.5-0.2-2.6 1.6-1.2 1.7-0.1 1.7-2.2 2.1-3-1.6-0.8-2.2 0-1.7-1.5-3.5 0.1-1.7-2.4-6.4-7.6 3.1-1.5-0.7-1.5-1.7-1.6-0.5-1.5 0.1-3-1.9-1.6 0.4-1.5-1.3-1.5-0.2-1.5 1.1-1.5 0-1.6-1.7-3 2.7-3 0.2-1.6-2.2-1.5 0.1-1.5-1-1.5 0.2-0.9 1 1.5 3.5 0.2 1.7-0.8 0.9-3.1 0.1-4.5-2.2-4.6 2.6-1.5-1.8-3.1 0.4-1.4 7-1.6 1.4-1.5-2-1.5-0.7-1.6 0.1-1.5-2-1.5 0.2-1.4 3 2.5 3.4-2.2 3.5-0.4 4.3-3.1 1.2-1.5-0.8-1.5-3.1-1.5 0.2-3.1-1.2-1.5 0-2.3 1.1 0.8 0.3 0.8 1.4 0.7 3.6 1.5 0.9 3.1-1.3 3-0.4 1.5 1.2 0.4 1.1-0.3 1.7-1.5 1.7-0.5 1.7 1.6 3.3-1.2 1.3-3-0.6-2.4 1-2.2 4.5-3 2-1.5 3.6-1.6 1.3-3-1.3M904.1 372.1l-1.5-0.5-0.7 0.5M914.6 372.1l-1.4-9.1-2.2 5.9-2.6 1.6-0.6 1.6M954.9 372.1l-3.7-0.5-1.4-2.7-1.5-1.6 1.4-1.5 1.5 0 1.6 0.8 1.5-3.8 1.5 0 3.1-1.7 1.7-0.3 0.6-1.6-0.8-1.2-1.5-0.3-1.6 1.4-1.5 0.2-2.4 3.1-0.6 0.3-3.1-4.6-3 1.6-3.1 0.3-2 0.8-0.2 1.6 0.7 1.6 3.1-0.9 0.6 1 0 1.6 2.1 1.6-0.2 3.2 1.5 1.6M965 372.1l-0.1 0M995.6 372.1l-0.2-2.6-2.2-0.6-2.4-3.2-6.1-0.2-0.4 0.2-0.5 4.8-1.6 1.6M1003.7 372.1l-0.7-0.8-1.2 0.8M1038.3 372.1l-0.8-1.6-0.2-4.8-0.9-1.4-1.5 1.3-0.5 1.7 0.3 1.6-0.6 3.2M1051.9 372.1l-0.6 0M1064.7 372.1l0.7-1.6-2.1-1.6-1-2.9-1.5 2.4-4.3 0.5-0.3 3.2M787 360.9l2-1.7-0.4-1.6-1.6-1.2M1094.2 361.3l-1.1 1.1-3.7 9.7M787 341l1.5-0.7 4.6 0.1 1.5 0.8 3 0 1.5 1.1 1.6 0.3 1.5-0.8 4-3.9-0.4-1.7 0.7-1.6 1.8 1.1 1.5-0.1 1.1 0.6 0.7 3.4 1.6 3.3-0.4 1.6-1.5 1-3-0.7-0.9 1.3 0.7 3.3 1.4 1.7 0.3 1.6-1.5 0.5-3.1-0.9-1.5 0.1-3 1.6-1.6-0.4-2.5 0.7 1 0.3 3 3-0.4 1.6 0.5 0.6 1.5 1 1.5 0.1 1.7 1.5-0.2 0.5-3 2.3-3.1-0.9-1.5 0.5-1.3 2.5 0.5 1.6 2.3 0.7 1.6-0.7 1.5-2.9 3-0.1 0.5-1.8 1.9-1.7 3.7-0.7 1.3 0.7 1.7 3.3-0.4 1.6 1 3.2-0.7 1.6M787 306.5l4.5 0.8 1.1-1.3 0.1-1.7-2.7-0.5-1.5 1.4-1.5 0.2M1094.2 286.1l-2.9 0.9-1.6 1.7 0.8 3.5 0.7 0.6 1.5-0.1 0.6-0.5-0.4-3.5 1.3-0.9M1094.2 270.6l-0.4 2.3 0.4 0.9M1094.2 198.6l0-0.5M787 196.9l1.4-2.4-1.4-1.3M787 144l3-5.8 0.6-3.5-0.6-0.9-3 0M1094.2 141.4l-3 0.2-1.5 0.7-1.1-1.2-2-0.6-3 1-3.1 2.3-1.5-1.1-1.5-2.6-1.5 0.4-1.6 4.1-1.5-0.3-1.5 0.5-1.5 1.3-1.5-1.4-1.6-0.2-2.7 5.1-0.1 4.3-1.7 3.5-1.5-0.4-3.1 2.8-1.9 0.3 0.4 1.2 1.5-0.1 0.2 3.1-0.7 4.1-2.5 4.5-0.8 3.7-1 2-0.6 6-0.7 1-1.5-0.8-1.7-2.2-1.9 2 0.9 4-1.9 1.2-2.2-1.2-0.3-4-0.5-1.1-1.5-1.9-0.8 1-1 2 1.8 2-1.2 4 2 7.9-0.8 0.9-2.7 1-0.4 2 0.9 13.5 0.7 1.9-2.5 5.7 0.6 1.9-1.2 2-1.5-3.3-1.5-0.2-1.5 1.5 0 4 1.5 1.2 1.5-0.3 0.5 0.7-2.2 5.6-1.3 1.7-1.9 0.2-0.3 1.8 1.5 1.9-0.9 0.9-3 0.8-3 1.7-1.6 4.2-3-0.1-0.8 1.7 1.1 1.8-0.3 1.8-3.2 0-1.4-1.3-1.5-2.8-1.5-0.2-2.4 2.5 0 1.8-1.4 5.4 0.1 3.6-2.2 3.6 0.7 3.5-0.2 1.8 2 7.1-0.3 3.5 0.6 1.2 1.6-0.3 0.6 0.8-0.6 2.2-3.1-0.2-1.5 1.5-1.5-0.1-1.5-1.3-3.1 1.9-4.5 0.1-0.5-0.6 0.2-1.7 1.1-3.5 0.7-0.5 0.3-1.3-0.3-0.5-1.5 1.7-3.1 0.1-3 2.8-4.6 2.2-4.6 1-1.5 5.2-1.5 1.7-4.6 0.8-1.5-1.3-1.5-0.5-1.5 1.2-3.1 0.3-4.8 2.7-0.5 3.5-0.7 1-4.6-1.4-3.2 0.4-1.4 1.7 0 1.6 3.1-1.6 1.5 1.6 0.5 1.8-1.6 3.4 1.1 1.3 1.5-1 1.5-0.2 3.1 2 1.5-0.5 1.5 0.4 1.5 1.3-0.4 1.8-1.5 1.7 0.4 1.7 3.2 1.6 0.4 1.7-0.4 5 2 3.4 0 1.6 0.9 1 1.5-1.8 1.5-0.6 6.1 5.8 1.7 0.6 0.8 1.7-1.5 1.6-0.5 3.3-2 2.7-1.1 0.6-0.3 1.6-1.3 1.7 0.6 4.8 0.6 0.9 3 0.7 1.2-1.6 0.2-1.6-1.1-1.6 1.1-1.6 1.7-0.5 0.8 0.5-0.2 1.6-0.6 1.2-1.2 0.4 2.7 1.8 1.5-0.5 0.8-2.9 1.4-1.6 3.9-2.1 1.5 0.1 1.5 1.7 1.6 0.7 1.5 0 4.5-1.8 3.1 0.4 1.5-0.5-1-1.8-1.4-4.9 0.9-2.7 2.4-0.6 1.3-3.4 0.8-0.8 1.6 0 1.5 2.6 1.5-2.7 1.5-0.5 3.1 1.9 1.3-0.5-0.3-3.3 1.5-1.6 0-1.7-0.3-1.7-2.3-1.6 3.1-4.4 1.1 1 0.4 2.4 1.6 0.4 1.5-0.6 1.1-2.2 0-1.7 2-3.3 0.4-3.4-2.1-1.7-1.4-2.4-6.1 0.4-1.5 0.5-3.1-0.5-2.4-1.4 1.2-3.4 1.2-1.2 1.6 0.2 1.5 1.4 1.5 0.6 1.5-1.5 3.1-0.4 0.3-0.8-1.7-1.7-2.5 0-1.5-1.8 2.3-4 0.8-2.9-1.3-1.7-0.2-1.7 0.7-0.5 1.5 1.4 1.6 0 1.2 0.8-0.7 3.5-1.3 1.7-0.1 1.7 0.9 1.4 4.5-2.5 1.5-2.3-0.2-1.8-2.2-3.4 0.9-2.8 1.5 0.1 3 4.4 0.1 1.7-1.4 1.8-0.4 1.7-1.8 1.7-1.3 5.2 1.8 2.2 3.1 5.7 3 2.9 1.1-2.3 2-0.7 0.8 0.7-0.1 1.7 0.8 0.7 4.5 1.2 1.6-0.3 1.5-1.6 1.5-3.4 1.5-0.1 2.1-1.6 0.2-1.7-1.2-5.1 2-1.6 0.1-1.9-2.3-3.4-0.4-1.8 0.8-3.4 1.8-2.5 1.5-0.6 1.5 1.9 3.1-2.2 3 1.2 4.4-3.1 2.4 0-0.3-3.5 0.7-1.7-0.4-1.8-1.2-1.7-2.6-1.2-1.5-1.9-1.5 1.3-1.5 3.3-3.1 1.2-1.5 2-2.5-3-0.6-1.7 0.1-2.5-1.5-2.6-1.6-0.2-1.5 1.9-0.8-2-4-1.7-0.6-1.8 3.4-3.6 0.5-1.8-1.2-1.8 0.1-1.8-0.6-1.8-2.7-1.8-0.3-1.8 1.6-2.7 1.6-0.1 3 1 1.5-0.3 4.6-1.6 0.9-1.8-0.9-6.1-1.5-0.9-3.1 1.9-1.5-1.4 0-4.5 3.1 1 0.7-2.9-0.7-1-3.1 0.5-2.3-1.4 0.7-3.7-0.6-3.8 0.7-1.3 1.5-0.4 3.1 2.6 1.9-0.9 0.2-1.9-0.8-1.9-0.4-5.7 1.1-7.7 1-1.8 4.6 1.1 6 6.2 3.1-0.1 4.5 2.2 3.1-0.3 1.5 0.7 3.1-0.2 4.5-1.7 4.6 5 3 1.1M812.6 84.9l-0.3 2.4 0.5 2.4 4.7-4.8M839.8 84.9l0.4 0.4 2.2-0.4M859.5 84.9l0.5 0.5 0.3-0.5M864.8 84.9l0.2 2.4-0.4 0.8-1.6 0.3-1.8 3.6 3.4 0.9 3 2.9 1.8 5.4 4.3 7.5 1.5 0.8 1.5-0.7 0.7-0.7 0-2.3 0.8-0.6 3.1 3.6 3 0.2 2.1 1.3 1.1 2.3-0.6 4.5-0.5 2.2-1.7 2.2 2.7 1.7 3 0.9 0.7 1.8-2.5 2.2-0.7 2.2 1 1 3 0.3 1.5 3.6 3.9 1.6 1.1 4.3-1.6 2.2 0.2 2.1 2.5 1.7 3.6 8.9 0.4 4.1-0.3 2.1-0.6 0.8-1.5 0.3-3.1-0.6-3 1.2-2-1.7-0.1-2.1 2.1-2.1 0.8-2-0.1-2.1-0.7-1.3-1.6-0.1-1.5-1.8-1.5 0.1-1.1 1-0.4 3-1.2 1.2-6.4 3.3-1.5 3.9-2.5 1.1 2.5 2.4 1.5-0.5 1.5-3.3 1.5 1.4 0 2.2-3 4.2-1.5 1.7-4.6-1.6-0.9 1.7 0.9 2.5 2.3-0.5 2.3-1.6 1.5 0.8 3-1.1 1.5 0.2 1.6 1.2 2.2 0.5 2.1 2.1 0.7 2-0.3 2 0.9 2-2.6 2.9-1.5-1.4-1.5 1.1-0.5 1.4 0.2 2 0.9 2 0 5.9 1.7 5.9-0.5 1.9-1.8 0.7-1.6-1.1-1.1 0.4-0.2 2-1.3 1.9 0.7 1.9 3.5 1.1 0.8 0.9 1.3 3.8 2.4 4.3 2.4-6.2-0.2-3.9 1.7-3.8-0.4-3.9 1.1-3.8 1.1 1.8 1.9 0.9 3.1-1.6 1.5 0.7 3-5 3.1 0.9 4.5-1 1.6 4.3 1.5 0.9 0.5-2-0.9-4 1.9-0.7 3 2.6 1.6 0.4 1.6 3.6 1.4-1.3 3.5-6.5 1.1-0.7 1.5 2.8 1.5-0.4 0.4-1.7 1.3-2 1.4-2 1.5-1 3 2.6 3.1-0.2 4.5 2.7 3.1-1.1 4.5 1.5 1.1-0.5 0.5-2.4 1.5-1.1 0.8 1.5-0.3 2 5.6 5.3 2.6 0.6 1.9 2.6 4.6 0.1 3 2.7 1.8 0.4 1.3 1.1 1.4 2.8 2.2 1.9 1.3 3.9 2.7 0.7 1.5 1.4 1.4 1.7 1.6 3.4 3.1 0.2 0.2 2.1-0.6 1.9 2.4 1.9 1 1.8 1.5-0.4 1.6 1.6 1.5 0.1 4.5-1.5 4.6 1.4 3.1-2.6 1.5-2.3-3.1-2-3 1.1-1.6-1 1.6-7.7 1.5 2.9 1.5 0.1 1.6-1.2 1.1-7.5-1.1-2.4-1.9-1.4-0.4-3.9-3.7-3.9-0.6-2 0.4-2-0.9-1.9-2.3-2-0.3-2 2-1.6 1.6 0 1.5 3.8 3 1.4 3.1 3.2 1.5 0 1.6-0.9 1.4-4.3 1.6 0.5 1.5-1.2 0.4-0.9-0.4-1.4-3.1-0.2-1.5-2.1-0.6-2.3-5.5-3.4-1.5 1.4 0.6 2-0.6 1.8-3-1.7-0.4-2.1-1.2-1.3-4.5 0-1.5 0.9-1.6-0.5 0-3.1 0.8-2.1-0.2-4.1-0.5-2-3.1-2.4-6.1-0.4-3 0.6-6.1-1.1-6.1 0.1-3 4.4-3.1-0.8-1.5 2.9-1.5 0.4-1.5 0-1.6-0.9-3-2.6-1.5-0.2-1.5 0.6-0.8-0.6-0.4-2.1-1.9-1.4-1.6-2.7-0.7-2.1 0.3-4.1-1-1.6-1.6-0.8-0.3-1.8 0.3-2.6 3.1 4.2 1.5 0.9 1.5-0.9 4.1-8 1.7-2.1 0.4-2.2-1.6-2.1-1.5 1.1-1.1-3.3 0.4-2.1-1.1-2.2-3.6-4.4-0.8-4.4-2-2.2 2.1-1.2 1.5 0.6 0.7 0.6 0.3 4.4 0.5 0.7 1.6 0 3-4.7 3 0.8 0.8-1.2 0.2-2.2-1-0.8-1.5 0.1-1.5 2.5-1.5-1.3-0.7-2.7 0.1-4.5-0.9-1.3-3.1 0.7-3-0.6-1.6 1.9-1.5 0.3-1.5-4.5-2.2-1-0.2-2.3 3.3-2.3 2.1-4 3.1 1.3 1.5-1.1 3.1 1 1.5-1 1.1 3.8 1.9 2.6 1.5 0.2 1.1-0.5 1.1-2.3-0.8-2.3 0.8-9.2-0.3-7.1M924.3 84.9l-2 3.6-3.4 3.5-0.4 2.3-0.7 0.1-1.1-2.4 1.2-2.4-0.5-2.3-1.1-2.3-1.6 1-0.3-1.1M930.7 84.9l-0.7 2.4-1.6 0.1-0.8-2.5M1024.1 84.9l1.5 2.4-3.6 4.7-0.8 3.6-1.5 0.7-1.4-2 0-2.3-1-2.4-1.1 0-0.7 2.4 0.6 4.6 2.1 0.6 4.5-0.1 1.1-2.8 2-2.1 0.9 2.1 0.1 4.6 2 1.8 4.6-7.1 0.5 3 1 1 1.5-0.5 0.4-0.5-0.3-4.6-4.6-4.3-1.6-0.2-1.5 0.7-1.5 1.6-0.5-0.2-0.8-2.3 0.7-2.4M1064 84.9l-0.2 9.4 0.6 2.3 3 4.6 0.8 4.6 1.2 2.3 3.5 2.5 3.1 1.1 1 0.9 6.6 11.1 0.7 2.2 5.4 7 3-4.6 1.5-1.2M949.7 353.6l1.3-2.5-0.2-1.7-1.1-1.3-1.1 1.3-0.5 1.7 1 1.6zM887.4 346.4l-0.4-0.3 0.4-1.6 1.5-0.7 3 0.3 0.3 0.4-1.3 1.6-2 1.3zM899.5 346.5l-0.6-2 2.2-0.5 3.3 0.5-1.3 1.6-2 0.3zM850.9 345.1l-4.6-5.2-1.5-0.3-1-1.7 0.5-1.7 2-0.4 1.5 2.7 3.6 1.1 1 2 2.4 1.3 0.2 1.6-1.1 0.8-1.5 0zM818.9 341.5l-1.8-3.6-1.8-1.7-1.3-3.3 1.9-2 1.9 0.4 1.8 3.3 0.9 3.3-1.4 3.3zM908.7 341.4l-1.6-0.4-1.6-1.4 0.1-1.7 1.5-0.6 1.6 0 2.9 2.3-2 1.6zM945.2 342.8l2.1-1.6 2.4-3.5 0.7-1.5-0.2-1.6-0.5-0.7-1.5-0.2-3.9 7.5zM1001.4 338.5l-0.6-5.6 2.2-1 1.5 0.3 1.4 2.4-1.7 3.3-1.2 0.8-1.6-0.2M1042.5 338.3l1.5 0.8 1.3-1.2-1.3-1.5-3-1.1 0 1.5 1.3 1.1zM1069.9 328.8l1.5 0 1.5-0.9-0.5-3.3 2.1-3.4 0.5-1.7-0.6-0.9-3-1.4-1.5 1.6-1.5 4.1 0.5 5zM843.3 327.1l-0.6-4.2 0.6-0.4 1.5 0.2 2.3 1.9-2.3 2.2zM856.9 327.5l-1.6-2.9 0.6-1.7 2.6-2 1.5-0.2 0.2 0.5-1.8 1.7 0.6 3.4-0.5 1.4zM1037.9 323l3.1 1.1 1.6-1.2-1.6-1.3-1.5 0.1-1.6 1.2zM846.3 320.3l-1.4-2.4-0.1-3.7-4.5-1.4 3-4.4 1.5-0.4 3 0.6 1.5 2.5-0.8 3.4 0.6 5-1.3 1.3zM1007.5 318l-0.5-1.8 0.5-1.3 0.6 1.3-0.6 1.8M831.1 304.9l-1.3-0.6 1.3-1.1 1.2 1.1-1.2 0.6M878.2 304.8l0-1 1.6-0.7 0.9 1.2-0.9 0.7-1.6-0.2M1068.4 305.3l7.6-1 3 0.8 0.6-0.8-0.7-1.7 1.7-1.8-0.6-3.4 0.3-1.7-0.9-1.8-5-1.1-4.6 2.9-0.1 1.7-1.3 1.7-1.4 3.5 0.4 1.7zM837.2 301.7l-0.8-0.9 0.2-1.7 2.1-1.2 1.7 1.2 0.8 1.7-1 1-1.5-0.2zM1072.9 299.5l-0.6-2.1 0.6-0.4 1.6 2.1-1.6 0.4M1044 297.2l-0.7-5 0.7-1.2 1.5-0.8 1.6 0.2 1.3 1.8 0.7 1.7-0.5 0.7-3.1 0.2-0.6 0.9zM809.8 286.6l1.6-1.4 0.6-1.7-1.3-3.5-2.4-0.4-0.2 2.1 1 1.8 0.3 1.7zM884.3 283.9l1.5-0.3 0.5-1.9 1.1-1.2 1.5-0.1 3 1.8 3.1-1.1 1.5 0 2-1.1 1-1.8 0-2.6 1.6-1 0.5-3.5-2.1-0.8-1.5 2.8-1.5 0-0.7-2-2.4-1.1-3 1.9-6.1-2.1-1.5-1.4-1.5-0.5-4.6 0.2-0.7-0.5-0.4-1.8 1.6-3.6-0.1-1.8-0.4-0.2-5.9 9.2-0.3 1.7 1.3 1.8-0.9 5.3 1.3 2.3 1.5 1.1 1.5-0.6 1.1-2.8 1.9 0.4 4.6-1.4 1.7 1 0.8 1.8-0.1 1.7-1.2 1.8zM826.5 270.8l1.5-0.6 4.6-4.6 1.5-0.8 1 2.8 2.1 1.2 3-0.8 4.6 1 1.5-0.4 4.6-4.6-1.1-3.6-0.5-7.7-1.5-1-4.5-0.5-3.1-1.2-1.5 0.1-4.6-1.1-4.5 1.7-1.4 2.5 0.8 3.6-3.5 9 0.1 3.6zM796.1 264.3l1.5 1.3 3.1-0.4 6.2-4.8 0.6-3.6-1.5-3.6 0.6-1.8-1.4-6.6-4.5-5.3-1.6-0.4-0.9 1.2-1.3 9.2-3.8 5.6-2.5 1.7 2.5 2.5 2.1 1.1 0.7 3.6zM914.7 262.5l3.1-2.9 3 2 1.5 0.1 4.6-2.1 3.9-6.4-0.1-1.8-1.1-1.9 0.5-1.8 1.2-1.8-1.3-3.6-3.1-2-1.5 0-3.1 1.3-3.2 2.4-1.2 1.9-0.1 4-1.5 1-1.5-3.2 0.8-3.7-0.9-1.1-3-2.1-1.5-0.1-1.5 1.5-1.2 3.7-1.8 1.8 0.4 1.8-0.5 0.7-3 0.9-1.3 2.1 1.3 1.4 1.5 0.2 4.6-1.8 3 1.1 1.3 0.9-0.9 1.8 0.4 1.8 2.1 3.6zM890.4 253.9l1.5 0.3 1.2-1 0-1.8-1.2-1.6-1.5-0.2-0.9 1.8-0.1 1.8zM989.3 243.1l5.3-2.8 1.5-1.8 0.5-1.9-0.2-1.8-1-1.2-4.2-2.6 2.1-5.6-1-2.2-4.5 0.5-3.1 4.3-1.5 0.2-1.5-0.9-0.7 1.9 0.2 5.6-2.7 1.8 1 1.9 0.6 0.3 1.6-1.4 4.9 2.9 1.4 1.9zM1072.9 239l1.9-2.4 0.6-1.8 0-1.9-2.5-2.9-1.2 1-1.3 3.8 0.4 1.8 1.3 1.9zM968 231.3l1.5 0.7 1.5-0.2 3.1-2.3 1.5 0.2 0.5-0.5-0.5-0.8-1.5 0-0.4-1.1-1.2-0.6-1.5-0.4-1.5 0.5-3.1 2.4 0.9 1.8zM928.4 215.9l1.6 0-0.2-5.8-1.2-1.9-1.7-1-2.1 4.9 2.1 3.7 1.4 0.1zM878.2 209.1l1.6-5.6 3.1-3.1 0.7-7.8-0.8-0.5-1.5 0.9-3.1-1.4-1-1-0.5-2.3-1.5 1.9-0.2 2.4-1.3 1.6-1.5-1.9-1.6-0.7-1.5 2.3-3 1.4-3.1-1.5-0.7-1.2-0.5-4-4.1 0-0.7 2 1.5 3.6 1.5 1.1 1.5 0 0.7 1.2 0 3.9 2.4 4.4 1.5-0.7 1.5 0.7 1.2 1.5 0.8 0 2.6-1.4 1.5-3 1.5-1.1 2.2 3.5 0.1 3.9zM1083.6 204.7l-1.5-0.6-0.4-1.7 0.4-2 1.5-0.4 1.2 2.4-1.2 2.3M1050.1 201l0-1.3 1.5-1.8 1.8 2.5-0.2 0.9-1.6 0.9-1.5-1.2M896.5 198.3l-1.5-3.8 2.1-1.9-2.3-4-0.9-6 1.1-5.4 1.5-0.5 1.5 0.8 1 3.1-1.6 4 2.2 2 0.1 2 0.9 2 0.5 0.2 1.5-1.1 1.5 0.1 1.3 2.8 0.3 1.9-1.6-0.7-4.6 1.1-2.2 1.6zM1059.2 193.8l-3-4.2-1.5-0.1-1-0.9-0.5-2.1 3-1 1.5 0.1 3.1 1.8 0.6 1.2-0.3 2-0.6 2-1.3 1.2M1063.8 187.3l-1.5-3.3-1.5-0.5-0.2-0.9 0-2 1.7-2.2 1.2 2.2 3 2 0.1 2-0.6 2-0.7 1-1.5-0.3M998.4 184.9l-0.5-0.3 0.5-0.7 0 1M869.1 164.3l1.5 0.3 2.8-2.4-0.1-4.2-1.1-3.3-2.1 1.3-1 8.3zM879.8 151.2l1.5-1.1 0.8-2.6 1.5-2.1-0.3-2.1-0.5-0.7-2.6 2.8-0.9 2.1-0.1 2.1zM949.7 148l-1-2.6 1-2 1.4 2-0.9 2.1zM943.6 143.8l0-1.1 0.9 0.6-0.9 0.5M864.6 138.8l1.5-0.9 0.6-1.1 0.9-2.1 0-2.2-1.5-1.3-1.5-0.1-4.6-3 2.7-4.4-0.3-4.4-0.9-1.6-1.5 1.5-0.9 6.7 0.8 2.2-1.5 2.2 3.7 2.2 0.9 1.4 0.7 2.9zM1066.8 138.5l1.6 0.3 0.9-2-0.7-2.1-0.2-0.6-1.6-0.2-0.7 2.9zM837.2 136.2l1.5-0.2 0.6-1.3 0.2-4.4-0.8-1.7-1.5 0.6-0.2 5.5zM829.6 129l1.5-1.3 1.9 0.4 1.1-2.3-1.5-0.9-3-0.2-1.2 1.2 0.2 2.2zM849.3 115.4l1-0.6 0.6-3.1-3.8-5.9-2.3-1.7-1.5 0.4-0.8 1.3-0.2 2.3 1 4.4 3 0.7 2 1.6zM933 113l-0.8-2.7 0.8-1.8 1 4.1zM999.9 103.5l1.5-0.7 7.6-7.4 1.6-0.1 1.8-1 0.8-2.3-2.6-2.8-1.6-0.1-1.5 3.9-1.5 0.1-2.1-1.1-2.2-2.4-0.1-2.3-1.7-1.9-0.9 1.9 2.1 2.3-0.5 2.4-1.8 2.3 0.3 2.3 1.4 2.3-1.2 2.3 0.4 2.3zM1094.2 155.7l-1.1 2.3 0.4 2.1 0.7 0.4M989.3 200.4l3 0 0.3-1.9-3.3-1.8-1.5-0.2-0.6 2 0.6 1.2 1.4 0.7zM981.7 189.2l1.5 0.1 1.7-0.7-0.7-2-1-0.5-0.7-1.5 0.6-2 3.1-1.8 3.1-4.5 3-2.3 1-1.5-0.1-2.1-0.9-1.3-9.1-1.1-2 0.4-2.7 2-0.3 4.1 0.8 4.1-0.8 6 2.1 4zM910.2 181.6l1.5 0.3 1.5-0.8 0-2.7-3.1-1.8-1.1 2 0.7 2zM916.3 168.5l2.6-2.2 1.1-2-0.7-1.1-1.5-0.8-1.5 0-1.3 1.9 0.1 2 0.8 2.1zM922.3 157.4l3.1-0.8 0.6-0.6-0.6-2.1-1.5-1.2-1.6 0.7-1.2 2.6z" fill="none" stroke="#3a2c2c" stroke-width="0.85"/>
<path d="M872.2,251.8L878.2,251.8L883.6,248.6L891.2,247.2L898.8,244.5L904.9,244.9L903.3,248.6L899.5,249.5L896.5,248.2L891.9,248.6L887.4,250.9L884.7,253.2L882.0,255.4L879.8,257.3L877.5,255.0L874.4,255.0L872.2,253.6ZM712.5,50.9L948.2,50.9L945.9,75.4L944.0,87.3L943.6,96.6L942.1,104.7L933.8,112.6L926.9,123.7L920.8,132.5L914.7,137.9L909.4,144.3L904.1,150.7L898.0,158.0L891.9,163.2L887.4,166.3L882.8,165.3L882.0,161.7L879.0,163.8L876.0,164.3L873.7,168.4L869.9,171.5L866.8,172.5L863.0,176.6L861.5,179.6L862.3,185.6L858.5,187.6L853.9,191.6L849.3,194.5L846.3,196.5L845.5,200.4L844.8,202.9L847.8,204.3L851.6,208.2L853.9,212.1L856.2,216.4L858.5,220.7L860.0,227.3L861.1,232.4L860.4,236.6L860.0,237.6L858.5,240.3L857.3,241.3L853.9,242.2L852.4,243.6L847.8,244.5L844.8,246.8L840.2,247.7L837.9,248.6L836.4,245.9L837.2,244.0L837.2,239.4L838.7,234.8L839.5,232.9L837.9,229.2L835.3,225.4L837.9,223.5L839.5,219.7L838.7,218.8L836.4,216.9L831.8,214.9L826.5,214.9L824.2,213.0L826.5,209.2L828.8,207.2L828.0,204.3L828.8,199.5L825.8,198.5L822.7,196.5L821.2,195.5L819.7,196.5L815.1,197.0L810.6,197.5L805.2,202.4L800.7,205.8L797.6,206.8L799.1,204.8L801.8,200.9L803.7,196.5L804.9,191.6L805.2,187.6L802.2,185.6L796.9,186.6L794.6,188.6L791.5,192.6L788.5,194.5L784.7,196.5L750.5,199.5L750.5,220.7L787.7,220.7L790.8,217.3L794.2,215.7L799.1,218.3L804.5,218.6L809.0,219.7L807.5,224.5L799.9,225.4L795.3,228.2L790.8,232.4L788.5,234.3L784.7,238.5L783.2,244.0L787.0,247.7L790.8,253.2L793.1,258.6L795.3,264.0L799.1,267.6L802.9,271.6L803.3,275.6L802.2,278.2L796.1,280.9L798.4,284.4L799.9,286.1L803.7,287.9L802.9,292.2L801.4,295.7L800.7,300.0L798.4,303.4L795.3,306.8L793.1,310.2L790.8,313.6L787.7,316.2L785.5,321.2L784.7,325.4L780.9,329.6L773.3,334.6L750.5,346.1L712.5,346.1ZM955.4,133.6L958.5,129.2L961.1,125.9L964.9,126.5L966.8,131.9L967.6,128.1L965.7,122.6L963.8,117.1L961.5,110.3L961.9,103.5L964.2,96.6L968.0,97.2L972.5,100.7L976.7,103.3L975.6,101.2L971.0,97.8L967.2,93.1L963.4,87.3L962.7,81.4L962.7,50.9L957.3,50.9L956.6,75.4L956.6,87.3L955.8,98.9L955.0,110.3L955.8,121.5ZM941.4,180.4L944.0,179.1L946.2,176.9L949.6,176.4L947.8,175.0L945.2,173.5L943.3,171.5L944.0,168.9L948.0,171.0L950.5,169.4L952.8,168.1L958.5,171.2L961.7,172.9L965.3,175.3L966.1,171.5L968.7,168.4L973.9,164.5L977.1,164.8L980.9,162.7L984.9,160.3L982.4,159.6L980.9,158.0L980.1,153.9L981.3,150.2L976.3,154.9L973.1,153.7L966.1,150.2L962.7,146.5L958.9,141.1L955.4,137.7L953.1,139.5L954.3,144.3L953.5,149.6L953.1,154.4L951.6,157.0L950.9,161.7L948.2,162.2L944.0,160.6L942.9,163.2L940.6,168.4L939.5,172.5L941.4,175.8L941.0,178.6ZM871.4,251.4L872.2,248.2L875.2,247.2L879.0,244.9L882.0,242.2L885.1,239.0L888.1,236.6L891.2,237.6L895.0,237.1L896.5,237.1L901.1,236.2L904.1,235.2L906.4,237.6L909.4,235.7L910.6,232.9L911.7,230.1L914.7,226.3L915.9,223.5L916.3,220.7L920.4,218.8L917.8,222.6L917.4,224.9L920.1,225.9L922.3,224.0L926.2,222.1L930.0,219.2L933.4,214.5L936.0,211.1L937.6,206.3L939.5,203.4L940.6,198.5L938.7,195.0L940.6,192.6L939.8,188.6L942.1,186.6L942.9,182.6L945.5,183.1L946.3,186.1L949.0,182.6L947.4,179.6L951.6,180.3L951.2,183.6L952.0,189.1L954.7,193.6L956.3,199.0L953.5,204.3L952.8,208.2L950.5,210.6L948.2,211.1L948.2,215.9L948.6,221.6L947.4,224.5L945.2,229.2L945.9,232.0L947.1,235.5L943.6,239.9L941.0,243.1L939.1,241.3L939.5,238.5L939.1,236.6L937.6,238.5L937.9,240.8L935.3,239.4L933.8,241.3L931.9,245.9L931.1,242.2L929.2,244.0L927.7,245.9L923.9,245.4L920.1,245.9L917.0,244.5L915.1,246.8L917.0,248.6L914.0,249.5L911.7,252.3L908.7,256.3L905.6,254.5L903.3,252.7L903.7,249.5L905.6,245.4L902.6,245.4L898.8,244.5L895.0,245.9L891.2,247.2L887.4,248.2L883.6,248.6L880.5,251.4L878.2,251.8L873.7,251.8ZM879.8,257.3L883.9,260.9L887.0,262.9L889.3,259.1L891.5,255.9L895.0,256.8L896.5,258.2L897.6,255.4L899.5,252.7L899.5,249.5L896.5,248.2L891.9,248.6L887.4,250.9L884.7,253.2L882.0,255.4ZM871.0,251.8L867.6,252.3L867.2,255.0L864.5,255.9L863.0,255.9L862.3,258.6L863.0,262.2L863.4,262.7L865.7,264.0L867.6,263.1L868.7,265.3L866.8,268.5L866.1,272.9L865.7,275.1L867.2,276.5L869.5,278.2L870.6,276.5L869.9,278.4L872.9,275.1L875.2,272.9L875.6,269.4L877.1,264.9L879.0,261.8L880.1,260.0L877.5,257.7L877.5,255.0L874.4,255.0L872.2,253.6ZM800.3,327.1L803.3,329.6L802.6,332.9L800.7,337.9L799.5,343.7L797.6,348.2L795.0,354.7L793.8,351.9L790.8,349.8L789.6,346.1L789.3,341.2L790.4,336.2L793.8,332.1L796.5,329.2ZM835.3,257.7L838.7,258.6L841.4,256.3L837.9,255.4L835.7,256.3ZM858.5,250.4L860.7,245.9L860.4,244.9L858.8,248.2ZM926.9,214.0L929.2,211.1L929.6,214.0L927.7,215.9ZM846.7,320.4L849.3,316.6L851.6,314.1L850.9,313.6L848.2,316.2L847.1,318.7ZM858.5,303.4L862.3,300.4L861.5,300.0L859.2,301.3ZM871.0,283.9L872.5,280.0L872.9,280.9L871.8,283.9ZM867.2,284.4L869.1,284.8L869.5,283.1L867.6,283.1ZM981.7,158.0L986.2,154.9L990.8,149.6L990.0,148.6L984.7,151.8L980.9,156.0ZM992.3,148.6L997.6,144.3L1003.0,141.1L1008.3,137.9L1007.5,136.8L1001.4,139.0L995.4,143.3L991.6,146.5ZM1012.8,135.7L1020.5,130.3L1019.7,129.2L1012.8,133.6ZM816.6,335.4L818.9,336.2L821.2,335.0L819.7,333.8L817.0,334.2ZM828.0,331.7L829.9,332.1L829.6,330.4L828.4,330.4ZM853.9,263.6L856.2,264.0L858.1,260.4L856.6,259.1L855.0,261.3ZM887.4,232.4L890.0,232.0L890.4,230.1L888.1,230.1ZM935.5,245.1L936.6,244.9L936.4,244.0L935.6,244.2ZM938.5,260.0L939.5,259.7L939.4,259.0L938.6,259.1ZM861.5,290.5L862.6,290.0L862.3,289.2L861.4,289.6ZM863.8,280.0L864.9,279.5L864.5,278.7L863.6,279.1ZM861.9,254.1L863.0,253.9L862.9,252.7L861.9,252.9Z" fill="#585858"/>
<ellipse cx="879.8" cy="252.3" rx="1.4" ry="1.1" fill="#f4f0f0"/>
<ellipse cx="885.1" cy="251.4" rx="1.5" ry="0.9" fill="#f4f0f0"/>
<ellipse cx="889.6" cy="249.5" rx="1.9" ry="0.8" fill="#f4f0f0"/>
<ellipse cx="895.0" cy="247.2" rx="1.5" ry="0.8" fill="#f4f0f0"/>
<ellipse cx="876.0" cy="253.2" rx="1.1" ry="0.9" fill="#f4f0f0"/>
<ellipse cx="882.4" cy="253.6" rx="0.9" ry="0.9" fill="#f4f0f0"/>
<ellipse cx="882.0" cy="143.8" rx="3.2" ry="3.6" fill="#fff" stroke="#999" stroke-width="0.4"/>
<path d="M864.5,125.9L868.4,123.7L872.2,118.2L879.8,114.8L888.1,109.2L895.0,106.9L900.3,104.7L905.6,98.9L911.7,93.1L916.3,88.5L917.8,84.9" fill="none" stroke="#222" stroke-width="0.8"/>
<path d="M826.5,87.3V370.5M864.5,87.3V370.5M902.6,87.3V370.5M940.6,87.3V370.5M978.6,87.3V370.5M1016.6,87.3V370.5M1054.7,87.3V370.5M788.5,329.6H1092.7M788.5,287.0H1092.7M788.5,242.2H1092.7M788.5,194.5H1092.7M788.5,143.3H1092.7" stroke="#3c2424" stroke-opacity="0.3" stroke-width="1.3" fill="none"/>
<rect x="1055.3" y="88.3" width="7.6" height="10.6" fill="#fff"/>
<text x="1059.1" y="97.1" class="cl" text-anchor="middle">1</text>
<rect x="1045.2" y="96.3" width="7.6" height="10.6" fill="#fff"/>
<text x="1049.0" y="105.1" class="cl" text-anchor="middle">0</text>
<rect x="993.4" y="113.6" width="7.6" height="10.6" fill="#fff"/>
<text x="997.2" y="122.4" class="cl" text-anchor="middle">0</text>
<rect x="981.4" y="122.9" width="7.6" height="10.6" fill="#fff"/>
<text x="985.2" y="131.7" class="cl" text-anchor="middle">1</text>
<rect x="1028.0" y="122.9" width="7.6" height="10.6" fill="#fff"/>
<text x="1031.8" y="131.7" class="cl" text-anchor="middle">0</text>
<rect x="1034.6" y="124.3" width="7.6" height="10.6" fill="#fff"/>
<text x="1038.4" y="133.1" class="cl" text-anchor="middle">0</text>
<rect x="992.1" y="157.5" width="7.6" height="10.6" fill="#fff"/>
<text x="995.9" y="166.3" class="cl" text-anchor="middle">0</text>
<rect x="1000.0" y="152.2" width="7.6" height="10.6" fill="#fff"/>
<text x="1003.8" y="161.0" class="cl" text-anchor="middle">1</text>
<rect x="1043.9" y="160.2" width="7.6" height="10.6" fill="#fff"/>
<text x="1047.7" y="169.0" class="cl" text-anchor="middle">1</text>
<rect x="986.7" y="182.8" width="7.6" height="10.6" fill="#fff"/>
<text x="990.5" y="191.6" class="cl" text-anchor="middle">2</text>
<rect x="970.5" y="226.9" width="7.6" height="10.6" fill="#fff"/>
<text x="974.3" y="235.7" class="cl" text-anchor="middle">1</text>
<rect x="1008.4" y="224.6" width="7.6" height="10.6" fill="#fff"/>
<text x="1012.2" y="233.4" class="cl" text-anchor="middle">1</text>
<rect x="1047.8" y="238.5" width="7.6" height="10.6" fill="#fff"/>
<text x="1051.6" y="247.3" class="cl" text-anchor="middle">1</text>
<rect x="1015.6" y="246.6" width="7.6" height="10.6" fill="#fff"/>
<text x="1019.4" y="255.4" class="cl" text-anchor="middle">1</text>
<rect x="938.7" y="319.9" width="7.6" height="10.6" fill="#fff"/>
<text x="942.5" y="328.7" class="cl" text-anchor="middle">1</text>
<rect x="1027.2" y="317.9" width="7.6" height="10.6" fill="#fff"/>
<text x="1031.0" y="326.7" class="cl" text-anchor="middle">1</text>
<rect x="969.9" y="344.8" width="7.6" height="10.6" fill="#fff"/>
<text x="973.7" y="353.6" class="cl" text-anchor="middle">1</text>
</g>
<path d="M788.5,87.3v-3M788.5,370.5v3M796.1,87.3v-1.8M796.1,370.5v1.8M803.7,87.3v-1.8M803.7,370.5v1.8M811.3,87.3v-1.8M811.3,370.5v1.8M818.9,87.3v-1.8M818.9,370.5v1.8M826.5,87.3v-3M826.5,370.5v3M834.1,87.3v-1.8M834.1,370.5v1.8M841.7,87.3v-1.8M841.7,370.5v1.8M849.3,87.3v-1.8M849.3,370.5v1.8M856.9,87.3v-1.8M856.9,370.5v1.8M864.5,87.3v-3M864.5,370.5v3M872.2,87.3v-1.8M872.2,370.5v1.8M879.8,87.3v-1.8M879.8,370.5v1.8M887.4,87.3v-1.8M887.4,370.5v1.8M895.0,87.3v-1.8M895.0,370.5v1.8M902.6,87.3v-3M902.6,370.5v3M910.2,87.3v-1.8M910.2,370.5v1.8M917.8,87.3v-1.8M917.8,370.5v1.8M925.4,87.3v-1.8M925.4,370.5v1.8M933.0,87.3v-1.8M933.0,370.5v1.8M940.6,87.3v-3M940.6,370.5v3M948.2,87.3v-1.8M948.2,370.5v1.8M955.8,87.3v-1.8M955.8,370.5v1.8M963.4,87.3v-1.8M963.4,370.5v1.8M971.0,87.3v-1.8M971.0,370.5v1.8M978.6,87.3v-3M978.6,370.5v3M986.2,87.3v-1.8M986.2,370.5v1.8M993.8,87.3v-1.8M993.8,370.5v1.8M1001.4,87.3v-1.8M1001.4,370.5v1.8M1009.0,87.3v-1.8M1009.0,370.5v1.8M1016.6,87.3v-3M1016.6,370.5v3M1024.3,87.3v-1.8M1024.3,370.5v1.8M1031.9,87.3v-1.8M1031.9,370.5v1.8M1039.5,87.3v-1.8M1039.5,370.5v1.8M1047.1,87.3v-1.8M1047.1,370.5v1.8M1054.7,87.3v-3M1054.7,370.5v3M1062.3,87.3v-1.8M1062.3,370.5v1.8M1069.9,87.3v-1.8M1069.9,370.5v1.8M1077.5,87.3v-1.8M1077.5,370.5v1.8M1085.1,87.3v-1.8M1085.1,370.5v1.8M1092.7,87.3v-3M1092.7,370.5v3M788.5,370.5h-3M1092.7,370.5h3M788.5,362.4h-1.8M1092.7,362.4h1.8M788.5,354.3h-1.8M1092.7,354.3h1.8M788.5,346.1h-1.8M1092.7,346.1h1.8M788.5,337.9h-1.8M1092.7,337.9h1.8M788.5,329.6h-3M1092.7,329.6h3M788.5,321.2h-1.8M1092.7,321.2h1.8M788.5,312.8h-1.8M1092.7,312.8h1.8M788.5,304.3h-1.8M1092.7,304.3h1.8M788.5,295.7h-1.8M1092.7,295.7h1.8M788.5,287.0h-3M1092.7,287.0h3M788.5,278.2h-1.8M1092.7,278.2h1.8M788.5,269.4h-1.8M1092.7,269.4h1.8M788.5,260.4h-1.8M1092.7,260.4h1.8M788.5,251.4h-1.8M1092.7,251.4h1.8M788.5,242.2h-3M1092.7,242.2h3M788.5,232.9h-1.8M1092.7,232.9h1.8M788.5,223.5h-1.8M1092.7,223.5h1.8M788.5,214.0h-1.8M1092.7,214.0h1.8M788.5,204.3h-1.8M1092.7,204.3h1.8M788.5,194.5h-3M1092.7,194.5h3M788.5,184.6h-1.8M1092.7,184.6h1.8M788.5,174.5h-1.8M1092.7,174.5h1.8M788.5,164.3h-1.8M1092.7,164.3h1.8M788.5,153.9h-1.8M1092.7,153.9h1.8M788.5,143.3h-3M1092.7,143.3h3M788.5,132.5h-1.8M1092.7,132.5h1.8M788.5,121.5h-1.8M1092.7,121.5h1.8M788.5,110.3h-1.8M1092.7,110.3h1.8M788.5,98.9h-1.8M1092.7,98.9h1.8M788.5,87.3h-3M1092.7,87.3h3" stroke="#000" stroke-width="0.6" fill="none"/>
<rect x="788.5" y="87.3" width="304.2" height="283.2" fill="none" stroke="#000" stroke-width="1.4"/>
<text x="782.3" y="90.9" class="ax" text-anchor="end" textLength="16.6" lengthAdjust="spacingAndGlyphs">50°N</text>
<text x="782.3" y="198.1" class="ax" text-anchor="end" textLength="16.6" lengthAdjust="spacingAndGlyphs">40°N</text>
<text x="782.3" y="290.6" class="ax" text-anchor="end" textLength="16.6" lengthAdjust="spacingAndGlyphs">30°N</text>
<text x="782.3" y="374.1" class="ax" text-anchor="end" textLength="16.6" lengthAdjust="spacingAndGlyphs">20°N</text>
<text x="778.5" y="383.7" class="ax" textLength="20" lengthAdjust="spacingAndGlyphs">120°E</text>
<text x="854.5" y="383.7" class="ax" textLength="20" lengthAdjust="spacingAndGlyphs">130°E</text>
<text x="930.6" y="383.7" class="ax" textLength="20" lengthAdjust="spacingAndGlyphs">140°E</text>
<text x="1006.6" y="383.7" class="ax" textLength="20" lengthAdjust="spacingAndGlyphs">150°E</text>
<text x="1082.7" y="383.7" class="ax" textLength="20" lengthAdjust="spacingAndGlyphs">160°E</text>
<text x="834.6" y="81.3" class="tt" textLength="212" lengthAdjust="spacingAndGlyphs">Monthly mean SST anomalies for Aug. 2022</text>
<rect x="1101.3" y="101.1" width="9.6" height="13.1" fill="#e42828"/>
<rect x="1101.3" y="241.2" width="9.6" height="13.1" fill="#e0e0f2"/>
<rect x="1101.3" y="113.9" width="9.6" height="13.1" fill="#e53333"/>
<rect x="1101.3" y="254.0" width="9.6" height="13.1" fill="#c8cbe6"/>
<rect x="1101.3" y="126.6" width="9.6" height="13.1" fill="#e74242"/>
<rect x="1101.3" y="266.7" width="9.6" height="13.1" fill="#b0b6dc"/>
<rect x="1101.3" y="139.4" width="9.6" height="13.1" fill="#e95454"/>
<rect x="1101.3" y="279.5" width="9.6" height="13.1" fill="#98a0d2"/>
<rect x="1101.3" y="152.2" width="9.6" height="13.1" fill="#ec6a6a"/>
<rect x="1101.3" y="292.3" width="9.6" height="13.1" fill="#7e8ac6"/>
<rect x="1101.3" y="164.9" width="9.6" height="13.1" fill="#ef8282"/>
<rect x="1101.3" y="305.0" width="9.6" height="13.1" fill="#6474ba"/>
<rect x="1101.3" y="177.7" width="9.6" height="13.1" fill="#f39e9e"/>
<rect x="1101.3" y="317.8" width="9.6" height="13.1" fill="#4e62b0"/>
<rect x="1101.3" y="190.5" width="9.6" height="13.1" fill="#f7bcbc"/>
<rect x="1101.3" y="330.6" width="9.6" height="13.1" fill="#3c54a8"/>
<rect x="1101.3" y="203.2" width="9.6" height="13.1" fill="#fbdada"/>
<rect x="1101.3" y="343.3" width="9.6" height="13.1" fill="#2c48a2"/>
<rect x="1101.3" y="216.0" width="9.6" height="25.5" fill="#fff"/>
<path d="M1101.3,228.8h9.6" stroke="#bbb" stroke-width="0.5"/>
<rect x="1101.3" y="101.1" width="9.6" height="255.3" fill="none" stroke="#111" stroke-width="1.3"/>
<text x="1116.5" y="359.8" class="cb"><tspan class="mn">&#8211;</tspan>5</text>
<text x="1116.5" y="334.3" class="cb"><tspan class="mn">&#8211;</tspan>4</text>
<text x="1116.5" y="308.7" class="cb"><tspan class="mn">&#8211;</tspan>3</text>
<text x="1116.5" y="283.2" class="cb"><tspan class="mn">&#8211;</tspan>2</text>
<text x="1116.5" y="257.7" class="cb"><tspan class="mn">&#8211;</tspan>1</text>
<text x="1121.5" y="232.2" class="cb">0</text>
<text x="1121.5" y="206.6" class="cb">1</text>
<text x="1121.5" y="181.1" class="cb">2</text>
<text x="1121.5" y="155.6" class="cb">3</text>
<text x="1121.5" y="130.0" class="cb">4</text>
<text x="1121.5" y="104.5" class="cb">5</text>
<path d="M1110.9,356.4h3.2M1110.9,330.9h3.2M1110.9,305.3h3.2M1110.9,279.8h3.2M1110.9,254.3h3.2M1110.9,228.8h3.2M1110.9,203.2h3.2M1110.9,177.7h3.2M1110.9,152.2h3.2M1110.9,126.6h3.2M1110.9,101.1h3.2" stroke="#333" stroke-width="0.6"/>
<rect x="1100.1" y="93.2" width="12.0" height="7.9" fill="#fff"/>
<text x="1106.1" y="100.0" class="cu" text-anchor="middle" textLength="12.4" lengthAdjust="spacingAndGlyphs">[°C]</text>
</svg>
</body></html>
